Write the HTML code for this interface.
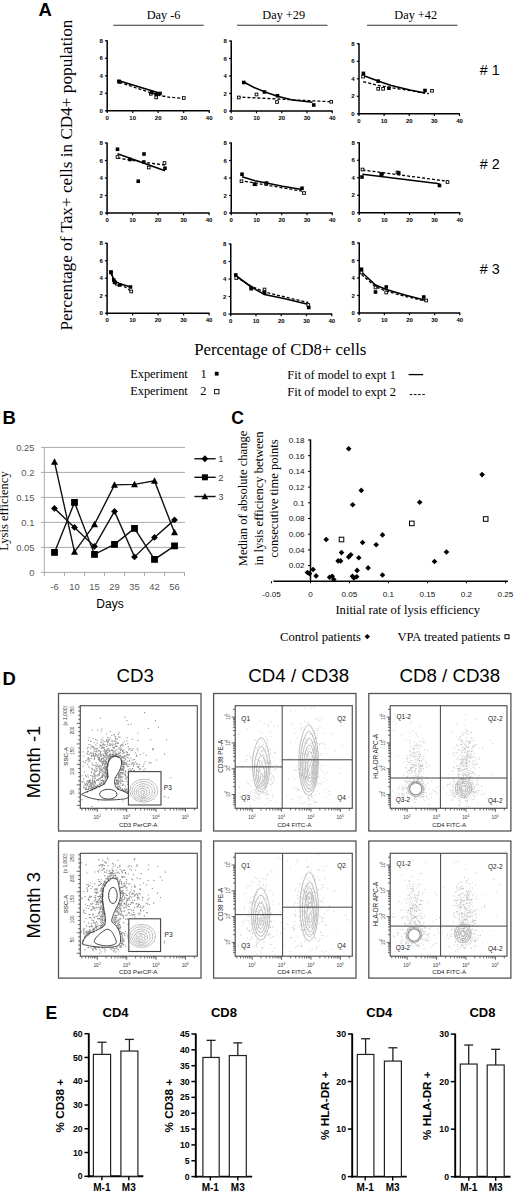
<!DOCTYPE html>
<html><head><meta charset="utf-8"><style>
html,body{margin:0;padding:0;background:#fff;width:520px;height:1198px;overflow:hidden}
svg{display:block}
</style></head><body>
<svg width="520" height="1198" viewBox="0 0 520 1198">
<rect width="520" height="1198" fill="#fff"/>
<text x="38.50" y="16.20" font-family="Liberation Sans, sans-serif" font-size="18.5" text-anchor="start" fill="#000" font-weight="bold">A</text>
<text x="163.60" y="19.30" font-family="Liberation Serif, serif" font-size="12.3" text-anchor="middle" fill="#000">Day -6</text>
<line x1="113.25" y1="25.20" x2="203.75" y2="25.20" stroke="#333" stroke-width="1.1"/>
<text x="283.70" y="19.30" font-family="Liberation Serif, serif" font-size="12.3" text-anchor="middle" fill="#000">Day +29</text>
<line x1="237.00" y1="25.20" x2="327.50" y2="25.20" stroke="#333" stroke-width="1.1"/>
<text x="415.70" y="19.30" font-family="Liberation Serif, serif" font-size="12.3" text-anchor="middle" fill="#000">Day +42</text>
<line x1="367.00" y1="25.20" x2="457.50" y2="25.20" stroke="#333" stroke-width="1.1"/>
<text x="479.80" y="74.90" font-family="Liberation Sans, sans-serif" font-size="14.3" text-anchor="start" fill="#000"># 1</text>
<text x="479.80" y="169.40" font-family="Liberation Sans, sans-serif" font-size="14.3" text-anchor="start" fill="#000"># 2</text>
<text x="479.80" y="274.40" font-family="Liberation Sans, sans-serif" font-size="14.3" text-anchor="start" fill="#000"># 3</text>
<text x="72.20" y="175.10" font-family="Liberation Serif, serif" font-size="17.2" text-anchor="middle" fill="#000" transform="rotate(-90 72.2 175.1)">Percentage of Tax+ cells in CD4+ population</text>
<text x="280.30" y="354.70" font-family="Liberation Serif, serif" font-size="16.8" text-anchor="middle" fill="#000">Percentage of CD8+ cells</text>
<line x1="107.20" y1="40.30" x2="107.20" y2="111.50" stroke="#000" stroke-width="1.5"/>
<line x1="106.50" y1="110.80" x2="209.70" y2="110.80" stroke="#000" stroke-width="1.5"/>
<line x1="105.00" y1="110.80" x2="107.20" y2="110.80" stroke="#000" stroke-width="1.2"/>
<text x="102.90" y="112.90" font-family="Liberation Sans, sans-serif" font-size="6" text-anchor="end" fill="#000" font-weight="bold">0</text>
<line x1="107.20" y1="110.80" x2="107.20" y2="113.00" stroke="#000" stroke-width="1.2"/>
<text x="107.20" y="119.60" font-family="Liberation Sans, sans-serif" font-size="6" text-anchor="middle" fill="#000" font-weight="bold">0</text>
<line x1="105.00" y1="93.30" x2="107.20" y2="93.30" stroke="#000" stroke-width="1.2"/>
<text x="102.90" y="95.40" font-family="Liberation Sans, sans-serif" font-size="6" text-anchor="end" fill="#000" font-weight="bold">2</text>
<line x1="132.70" y1="110.80" x2="132.70" y2="113.00" stroke="#000" stroke-width="1.2"/>
<text x="132.70" y="119.60" font-family="Liberation Sans, sans-serif" font-size="6" text-anchor="middle" fill="#000" font-weight="bold">10</text>
<line x1="105.00" y1="75.80" x2="107.20" y2="75.80" stroke="#000" stroke-width="1.2"/>
<text x="102.90" y="77.90" font-family="Liberation Sans, sans-serif" font-size="6" text-anchor="end" fill="#000" font-weight="bold">4</text>
<line x1="158.20" y1="110.80" x2="158.20" y2="113.00" stroke="#000" stroke-width="1.2"/>
<text x="158.20" y="119.60" font-family="Liberation Sans, sans-serif" font-size="6" text-anchor="middle" fill="#000" font-weight="bold">20</text>
<line x1="105.00" y1="58.30" x2="107.20" y2="58.30" stroke="#000" stroke-width="1.2"/>
<text x="102.90" y="60.40" font-family="Liberation Sans, sans-serif" font-size="6" text-anchor="end" fill="#000" font-weight="bold">6</text>
<line x1="183.70" y1="110.80" x2="183.70" y2="113.00" stroke="#000" stroke-width="1.2"/>
<text x="183.70" y="119.60" font-family="Liberation Sans, sans-serif" font-size="6" text-anchor="middle" fill="#000" font-weight="bold">30</text>
<line x1="105.00" y1="40.80" x2="107.20" y2="40.80" stroke="#000" stroke-width="1.2"/>
<text x="102.90" y="42.90" font-family="Liberation Sans, sans-serif" font-size="6" text-anchor="end" fill="#000" font-weight="bold">8</text>
<line x1="209.20" y1="110.80" x2="209.20" y2="113.00" stroke="#000" stroke-width="1.2"/>
<text x="209.20" y="119.60" font-family="Liberation Sans, sans-serif" font-size="6" text-anchor="middle" fill="#000" font-weight="bold">40</text>
<line x1="231.25" y1="40.50" x2="231.25" y2="111.70" stroke="#000" stroke-width="1.5"/>
<line x1="230.55" y1="111.00" x2="332.75" y2="111.00" stroke="#000" stroke-width="1.5"/>
<line x1="229.05" y1="111.00" x2="231.25" y2="111.00" stroke="#000" stroke-width="1.2"/>
<text x="226.95" y="113.10" font-family="Liberation Sans, sans-serif" font-size="6" text-anchor="end" fill="#000" font-weight="bold">0</text>
<line x1="231.25" y1="111.00" x2="231.25" y2="113.20" stroke="#000" stroke-width="1.2"/>
<text x="231.25" y="119.80" font-family="Liberation Sans, sans-serif" font-size="6" text-anchor="middle" fill="#000" font-weight="bold">0</text>
<line x1="229.05" y1="93.50" x2="231.25" y2="93.50" stroke="#000" stroke-width="1.2"/>
<text x="226.95" y="95.60" font-family="Liberation Sans, sans-serif" font-size="6" text-anchor="end" fill="#000" font-weight="bold">2</text>
<line x1="256.50" y1="111.00" x2="256.50" y2="113.20" stroke="#000" stroke-width="1.2"/>
<text x="256.50" y="119.80" font-family="Liberation Sans, sans-serif" font-size="6" text-anchor="middle" fill="#000" font-weight="bold">10</text>
<line x1="229.05" y1="76.00" x2="231.25" y2="76.00" stroke="#000" stroke-width="1.2"/>
<text x="226.95" y="78.10" font-family="Liberation Sans, sans-serif" font-size="6" text-anchor="end" fill="#000" font-weight="bold">4</text>
<line x1="281.75" y1="111.00" x2="281.75" y2="113.20" stroke="#000" stroke-width="1.2"/>
<text x="281.75" y="119.80" font-family="Liberation Sans, sans-serif" font-size="6" text-anchor="middle" fill="#000" font-weight="bold">20</text>
<line x1="229.05" y1="58.50" x2="231.25" y2="58.50" stroke="#000" stroke-width="1.2"/>
<text x="226.95" y="60.60" font-family="Liberation Sans, sans-serif" font-size="6" text-anchor="end" fill="#000" font-weight="bold">6</text>
<line x1="307.00" y1="111.00" x2="307.00" y2="113.20" stroke="#000" stroke-width="1.2"/>
<text x="307.00" y="119.80" font-family="Liberation Sans, sans-serif" font-size="6" text-anchor="middle" fill="#000" font-weight="bold">30</text>
<line x1="229.05" y1="41.00" x2="231.25" y2="41.00" stroke="#000" stroke-width="1.2"/>
<text x="226.95" y="43.10" font-family="Liberation Sans, sans-serif" font-size="6" text-anchor="end" fill="#000" font-weight="bold">8</text>
<line x1="332.25" y1="111.00" x2="332.25" y2="113.20" stroke="#000" stroke-width="1.2"/>
<text x="332.25" y="119.80" font-family="Liberation Sans, sans-serif" font-size="6" text-anchor="middle" fill="#000" font-weight="bold">40</text>
<line x1="359.00" y1="43.30" x2="359.00" y2="114.50" stroke="#000" stroke-width="1.5"/>
<line x1="358.30" y1="113.80" x2="460.00" y2="113.80" stroke="#000" stroke-width="1.5"/>
<line x1="356.80" y1="113.80" x2="359.00" y2="113.80" stroke="#000" stroke-width="1.2"/>
<text x="354.70" y="115.90" font-family="Liberation Sans, sans-serif" font-size="6" text-anchor="end" fill="#000" font-weight="bold">0</text>
<line x1="359.00" y1="113.80" x2="359.00" y2="116.00" stroke="#000" stroke-width="1.2"/>
<text x="359.00" y="122.60" font-family="Liberation Sans, sans-serif" font-size="6" text-anchor="middle" fill="#000" font-weight="bold">0</text>
<line x1="356.80" y1="96.30" x2="359.00" y2="96.30" stroke="#000" stroke-width="1.2"/>
<text x="354.70" y="98.40" font-family="Liberation Sans, sans-serif" font-size="6" text-anchor="end" fill="#000" font-weight="bold">2</text>
<line x1="384.12" y1="113.80" x2="384.12" y2="116.00" stroke="#000" stroke-width="1.2"/>
<text x="384.12" y="122.60" font-family="Liberation Sans, sans-serif" font-size="6" text-anchor="middle" fill="#000" font-weight="bold">10</text>
<line x1="356.80" y1="78.80" x2="359.00" y2="78.80" stroke="#000" stroke-width="1.2"/>
<text x="354.70" y="80.90" font-family="Liberation Sans, sans-serif" font-size="6" text-anchor="end" fill="#000" font-weight="bold">4</text>
<line x1="409.25" y1="113.80" x2="409.25" y2="116.00" stroke="#000" stroke-width="1.2"/>
<text x="409.25" y="122.60" font-family="Liberation Sans, sans-serif" font-size="6" text-anchor="middle" fill="#000" font-weight="bold">20</text>
<line x1="356.80" y1="61.30" x2="359.00" y2="61.30" stroke="#000" stroke-width="1.2"/>
<text x="354.70" y="63.40" font-family="Liberation Sans, sans-serif" font-size="6" text-anchor="end" fill="#000" font-weight="bold">6</text>
<line x1="434.38" y1="113.80" x2="434.38" y2="116.00" stroke="#000" stroke-width="1.2"/>
<text x="434.38" y="122.60" font-family="Liberation Sans, sans-serif" font-size="6" text-anchor="middle" fill="#000" font-weight="bold">30</text>
<line x1="356.80" y1="43.80" x2="359.00" y2="43.80" stroke="#000" stroke-width="1.2"/>
<text x="354.70" y="45.90" font-family="Liberation Sans, sans-serif" font-size="6" text-anchor="end" fill="#000" font-weight="bold">8</text>
<line x1="459.50" y1="113.80" x2="459.50" y2="116.00" stroke="#000" stroke-width="1.2"/>
<text x="459.50" y="122.60" font-family="Liberation Sans, sans-serif" font-size="6" text-anchor="middle" fill="#000" font-weight="bold">40</text>
<line x1="107.10" y1="142.50" x2="107.10" y2="213.70" stroke="#000" stroke-width="1.5"/>
<line x1="106.40" y1="213.00" x2="209.60" y2="213.00" stroke="#000" stroke-width="1.5"/>
<line x1="104.90" y1="213.00" x2="107.10" y2="213.00" stroke="#000" stroke-width="1.2"/>
<text x="102.80" y="215.10" font-family="Liberation Sans, sans-serif" font-size="6" text-anchor="end" fill="#000" font-weight="bold">0</text>
<line x1="107.10" y1="213.00" x2="107.10" y2="215.20" stroke="#000" stroke-width="1.2"/>
<text x="107.10" y="221.80" font-family="Liberation Sans, sans-serif" font-size="6" text-anchor="middle" fill="#000" font-weight="bold">0</text>
<line x1="104.90" y1="195.50" x2="107.10" y2="195.50" stroke="#000" stroke-width="1.2"/>
<text x="102.80" y="197.60" font-family="Liberation Sans, sans-serif" font-size="6" text-anchor="end" fill="#000" font-weight="bold">2</text>
<line x1="132.60" y1="213.00" x2="132.60" y2="215.20" stroke="#000" stroke-width="1.2"/>
<text x="132.60" y="221.80" font-family="Liberation Sans, sans-serif" font-size="6" text-anchor="middle" fill="#000" font-weight="bold">10</text>
<line x1="104.90" y1="178.00" x2="107.10" y2="178.00" stroke="#000" stroke-width="1.2"/>
<text x="102.80" y="180.10" font-family="Liberation Sans, sans-serif" font-size="6" text-anchor="end" fill="#000" font-weight="bold">4</text>
<line x1="158.10" y1="213.00" x2="158.10" y2="215.20" stroke="#000" stroke-width="1.2"/>
<text x="158.10" y="221.80" font-family="Liberation Sans, sans-serif" font-size="6" text-anchor="middle" fill="#000" font-weight="bold">20</text>
<line x1="104.90" y1="160.50" x2="107.10" y2="160.50" stroke="#000" stroke-width="1.2"/>
<text x="102.80" y="162.60" font-family="Liberation Sans, sans-serif" font-size="6" text-anchor="end" fill="#000" font-weight="bold">6</text>
<line x1="183.60" y1="213.00" x2="183.60" y2="215.20" stroke="#000" stroke-width="1.2"/>
<text x="183.60" y="221.80" font-family="Liberation Sans, sans-serif" font-size="6" text-anchor="middle" fill="#000" font-weight="bold">30</text>
<line x1="104.90" y1="143.00" x2="107.10" y2="143.00" stroke="#000" stroke-width="1.2"/>
<text x="102.80" y="145.10" font-family="Liberation Sans, sans-serif" font-size="6" text-anchor="end" fill="#000" font-weight="bold">8</text>
<line x1="209.10" y1="213.00" x2="209.10" y2="215.20" stroke="#000" stroke-width="1.2"/>
<text x="209.10" y="221.80" font-family="Liberation Sans, sans-serif" font-size="6" text-anchor="middle" fill="#000" font-weight="bold">40</text>
<line x1="231.25" y1="142.50" x2="231.25" y2="213.70" stroke="#000" stroke-width="1.5"/>
<line x1="230.55" y1="213.00" x2="332.75" y2="213.00" stroke="#000" stroke-width="1.5"/>
<line x1="229.05" y1="213.00" x2="231.25" y2="213.00" stroke="#000" stroke-width="1.2"/>
<text x="226.95" y="215.10" font-family="Liberation Sans, sans-serif" font-size="6" text-anchor="end" fill="#000" font-weight="bold">0</text>
<line x1="231.25" y1="213.00" x2="231.25" y2="215.20" stroke="#000" stroke-width="1.2"/>
<text x="231.25" y="221.80" font-family="Liberation Sans, sans-serif" font-size="6" text-anchor="middle" fill="#000" font-weight="bold">0</text>
<line x1="229.05" y1="195.50" x2="231.25" y2="195.50" stroke="#000" stroke-width="1.2"/>
<text x="226.95" y="197.60" font-family="Liberation Sans, sans-serif" font-size="6" text-anchor="end" fill="#000" font-weight="bold">2</text>
<line x1="256.50" y1="213.00" x2="256.50" y2="215.20" stroke="#000" stroke-width="1.2"/>
<text x="256.50" y="221.80" font-family="Liberation Sans, sans-serif" font-size="6" text-anchor="middle" fill="#000" font-weight="bold">10</text>
<line x1="229.05" y1="178.00" x2="231.25" y2="178.00" stroke="#000" stroke-width="1.2"/>
<text x="226.95" y="180.10" font-family="Liberation Sans, sans-serif" font-size="6" text-anchor="end" fill="#000" font-weight="bold">4</text>
<line x1="281.75" y1="213.00" x2="281.75" y2="215.20" stroke="#000" stroke-width="1.2"/>
<text x="281.75" y="221.80" font-family="Liberation Sans, sans-serif" font-size="6" text-anchor="middle" fill="#000" font-weight="bold">20</text>
<line x1="229.05" y1="160.50" x2="231.25" y2="160.50" stroke="#000" stroke-width="1.2"/>
<text x="226.95" y="162.60" font-family="Liberation Sans, sans-serif" font-size="6" text-anchor="end" fill="#000" font-weight="bold">6</text>
<line x1="307.00" y1="213.00" x2="307.00" y2="215.20" stroke="#000" stroke-width="1.2"/>
<text x="307.00" y="221.80" font-family="Liberation Sans, sans-serif" font-size="6" text-anchor="middle" fill="#000" font-weight="bold">30</text>
<line x1="229.05" y1="143.00" x2="231.25" y2="143.00" stroke="#000" stroke-width="1.2"/>
<text x="226.95" y="145.10" font-family="Liberation Sans, sans-serif" font-size="6" text-anchor="end" fill="#000" font-weight="bold">8</text>
<line x1="332.25" y1="213.00" x2="332.25" y2="215.20" stroke="#000" stroke-width="1.2"/>
<text x="332.25" y="221.80" font-family="Liberation Sans, sans-serif" font-size="6" text-anchor="middle" fill="#000" font-weight="bold">40</text>
<line x1="359.25" y1="142.25" x2="359.25" y2="213.45" stroke="#000" stroke-width="1.5"/>
<line x1="358.55" y1="212.75" x2="460.25" y2="212.75" stroke="#000" stroke-width="1.5"/>
<line x1="357.05" y1="212.75" x2="359.25" y2="212.75" stroke="#000" stroke-width="1.2"/>
<text x="354.95" y="214.85" font-family="Liberation Sans, sans-serif" font-size="6" text-anchor="end" fill="#000" font-weight="bold">0</text>
<line x1="359.25" y1="212.75" x2="359.25" y2="214.95" stroke="#000" stroke-width="1.2"/>
<text x="359.25" y="221.55" font-family="Liberation Sans, sans-serif" font-size="6" text-anchor="middle" fill="#000" font-weight="bold">0</text>
<line x1="357.05" y1="195.25" x2="359.25" y2="195.25" stroke="#000" stroke-width="1.2"/>
<text x="354.95" y="197.35" font-family="Liberation Sans, sans-serif" font-size="6" text-anchor="end" fill="#000" font-weight="bold">2</text>
<line x1="384.38" y1="212.75" x2="384.38" y2="214.95" stroke="#000" stroke-width="1.2"/>
<text x="384.38" y="221.55" font-family="Liberation Sans, sans-serif" font-size="6" text-anchor="middle" fill="#000" font-weight="bold">10</text>
<line x1="357.05" y1="177.75" x2="359.25" y2="177.75" stroke="#000" stroke-width="1.2"/>
<text x="354.95" y="179.85" font-family="Liberation Sans, sans-serif" font-size="6" text-anchor="end" fill="#000" font-weight="bold">4</text>
<line x1="409.50" y1="212.75" x2="409.50" y2="214.95" stroke="#000" stroke-width="1.2"/>
<text x="409.50" y="221.55" font-family="Liberation Sans, sans-serif" font-size="6" text-anchor="middle" fill="#000" font-weight="bold">20</text>
<line x1="357.05" y1="160.25" x2="359.25" y2="160.25" stroke="#000" stroke-width="1.2"/>
<text x="354.95" y="162.35" font-family="Liberation Sans, sans-serif" font-size="6" text-anchor="end" fill="#000" font-weight="bold">6</text>
<line x1="434.62" y1="212.75" x2="434.62" y2="214.95" stroke="#000" stroke-width="1.2"/>
<text x="434.62" y="221.55" font-family="Liberation Sans, sans-serif" font-size="6" text-anchor="middle" fill="#000" font-weight="bold">30</text>
<line x1="357.05" y1="142.75" x2="359.25" y2="142.75" stroke="#000" stroke-width="1.2"/>
<text x="354.95" y="144.85" font-family="Liberation Sans, sans-serif" font-size="6" text-anchor="end" fill="#000" font-weight="bold">8</text>
<line x1="459.75" y1="212.75" x2="459.75" y2="214.95" stroke="#000" stroke-width="1.2"/>
<text x="459.75" y="221.55" font-family="Liberation Sans, sans-serif" font-size="6" text-anchor="middle" fill="#000" font-weight="bold">40</text>
<line x1="107.10" y1="242.75" x2="107.10" y2="313.95" stroke="#000" stroke-width="1.5"/>
<line x1="106.40" y1="313.25" x2="209.60" y2="313.25" stroke="#000" stroke-width="1.5"/>
<line x1="104.90" y1="313.25" x2="107.10" y2="313.25" stroke="#000" stroke-width="1.2"/>
<text x="102.80" y="315.35" font-family="Liberation Sans, sans-serif" font-size="6" text-anchor="end" fill="#000" font-weight="bold">0</text>
<line x1="107.10" y1="313.25" x2="107.10" y2="315.45" stroke="#000" stroke-width="1.2"/>
<text x="107.10" y="322.05" font-family="Liberation Sans, sans-serif" font-size="6" text-anchor="middle" fill="#000" font-weight="bold">0</text>
<line x1="104.90" y1="295.75" x2="107.10" y2="295.75" stroke="#000" stroke-width="1.2"/>
<text x="102.80" y="297.85" font-family="Liberation Sans, sans-serif" font-size="6" text-anchor="end" fill="#000" font-weight="bold">2</text>
<line x1="132.60" y1="313.25" x2="132.60" y2="315.45" stroke="#000" stroke-width="1.2"/>
<text x="132.60" y="322.05" font-family="Liberation Sans, sans-serif" font-size="6" text-anchor="middle" fill="#000" font-weight="bold">10</text>
<line x1="104.90" y1="278.25" x2="107.10" y2="278.25" stroke="#000" stroke-width="1.2"/>
<text x="102.80" y="280.35" font-family="Liberation Sans, sans-serif" font-size="6" text-anchor="end" fill="#000" font-weight="bold">4</text>
<line x1="158.10" y1="313.25" x2="158.10" y2="315.45" stroke="#000" stroke-width="1.2"/>
<text x="158.10" y="322.05" font-family="Liberation Sans, sans-serif" font-size="6" text-anchor="middle" fill="#000" font-weight="bold">20</text>
<line x1="104.90" y1="260.75" x2="107.10" y2="260.75" stroke="#000" stroke-width="1.2"/>
<text x="102.80" y="262.85" font-family="Liberation Sans, sans-serif" font-size="6" text-anchor="end" fill="#000" font-weight="bold">6</text>
<line x1="183.60" y1="313.25" x2="183.60" y2="315.45" stroke="#000" stroke-width="1.2"/>
<text x="183.60" y="322.05" font-family="Liberation Sans, sans-serif" font-size="6" text-anchor="middle" fill="#000" font-weight="bold">30</text>
<line x1="104.90" y1="243.25" x2="107.10" y2="243.25" stroke="#000" stroke-width="1.2"/>
<text x="102.80" y="245.35" font-family="Liberation Sans, sans-serif" font-size="6" text-anchor="end" fill="#000" font-weight="bold">8</text>
<line x1="209.10" y1="313.25" x2="209.10" y2="315.45" stroke="#000" stroke-width="1.2"/>
<text x="209.10" y="322.05" font-family="Liberation Sans, sans-serif" font-size="6" text-anchor="middle" fill="#000" font-weight="bold">40</text>
<line x1="230.75" y1="243.50" x2="230.75" y2="314.70" stroke="#000" stroke-width="1.5"/>
<line x1="230.05" y1="314.00" x2="332.25" y2="314.00" stroke="#000" stroke-width="1.5"/>
<line x1="228.55" y1="314.00" x2="230.75" y2="314.00" stroke="#000" stroke-width="1.2"/>
<text x="226.45" y="316.10" font-family="Liberation Sans, sans-serif" font-size="6" text-anchor="end" fill="#000" font-weight="bold">0</text>
<line x1="230.75" y1="314.00" x2="230.75" y2="316.20" stroke="#000" stroke-width="1.2"/>
<text x="230.75" y="322.80" font-family="Liberation Sans, sans-serif" font-size="6" text-anchor="middle" fill="#000" font-weight="bold">0</text>
<line x1="228.55" y1="296.50" x2="230.75" y2="296.50" stroke="#000" stroke-width="1.2"/>
<text x="226.45" y="298.60" font-family="Liberation Sans, sans-serif" font-size="6" text-anchor="end" fill="#000" font-weight="bold">2</text>
<line x1="256.00" y1="314.00" x2="256.00" y2="316.20" stroke="#000" stroke-width="1.2"/>
<text x="256.00" y="322.80" font-family="Liberation Sans, sans-serif" font-size="6" text-anchor="middle" fill="#000" font-weight="bold">10</text>
<line x1="228.55" y1="279.00" x2="230.75" y2="279.00" stroke="#000" stroke-width="1.2"/>
<text x="226.45" y="281.10" font-family="Liberation Sans, sans-serif" font-size="6" text-anchor="end" fill="#000" font-weight="bold">4</text>
<line x1="281.25" y1="314.00" x2="281.25" y2="316.20" stroke="#000" stroke-width="1.2"/>
<text x="281.25" y="322.80" font-family="Liberation Sans, sans-serif" font-size="6" text-anchor="middle" fill="#000" font-weight="bold">20</text>
<line x1="228.55" y1="261.50" x2="230.75" y2="261.50" stroke="#000" stroke-width="1.2"/>
<text x="226.45" y="263.60" font-family="Liberation Sans, sans-serif" font-size="6" text-anchor="end" fill="#000" font-weight="bold">6</text>
<line x1="306.50" y1="314.00" x2="306.50" y2="316.20" stroke="#000" stroke-width="1.2"/>
<text x="306.50" y="322.80" font-family="Liberation Sans, sans-serif" font-size="6" text-anchor="middle" fill="#000" font-weight="bold">30</text>
<line x1="228.55" y1="244.00" x2="230.75" y2="244.00" stroke="#000" stroke-width="1.2"/>
<text x="226.45" y="246.10" font-family="Liberation Sans, sans-serif" font-size="6" text-anchor="end" fill="#000" font-weight="bold">8</text>
<line x1="331.75" y1="314.00" x2="331.75" y2="316.20" stroke="#000" stroke-width="1.2"/>
<text x="331.75" y="322.80" font-family="Liberation Sans, sans-serif" font-size="6" text-anchor="middle" fill="#000" font-weight="bold">40</text>
<line x1="359.25" y1="242.50" x2="359.25" y2="313.70" stroke="#000" stroke-width="1.5"/>
<line x1="358.55" y1="313.00" x2="460.25" y2="313.00" stroke="#000" stroke-width="1.5"/>
<line x1="357.05" y1="313.00" x2="359.25" y2="313.00" stroke="#000" stroke-width="1.2"/>
<text x="354.95" y="315.10" font-family="Liberation Sans, sans-serif" font-size="6" text-anchor="end" fill="#000" font-weight="bold">0</text>
<line x1="359.25" y1="313.00" x2="359.25" y2="315.20" stroke="#000" stroke-width="1.2"/>
<text x="359.25" y="321.80" font-family="Liberation Sans, sans-serif" font-size="6" text-anchor="middle" fill="#000" font-weight="bold">0</text>
<line x1="357.05" y1="295.50" x2="359.25" y2="295.50" stroke="#000" stroke-width="1.2"/>
<text x="354.95" y="297.60" font-family="Liberation Sans, sans-serif" font-size="6" text-anchor="end" fill="#000" font-weight="bold">2</text>
<line x1="384.38" y1="313.00" x2="384.38" y2="315.20" stroke="#000" stroke-width="1.2"/>
<text x="384.38" y="321.80" font-family="Liberation Sans, sans-serif" font-size="6" text-anchor="middle" fill="#000" font-weight="bold">10</text>
<line x1="357.05" y1="278.00" x2="359.25" y2="278.00" stroke="#000" stroke-width="1.2"/>
<text x="354.95" y="280.10" font-family="Liberation Sans, sans-serif" font-size="6" text-anchor="end" fill="#000" font-weight="bold">4</text>
<line x1="409.50" y1="313.00" x2="409.50" y2="315.20" stroke="#000" stroke-width="1.2"/>
<text x="409.50" y="321.80" font-family="Liberation Sans, sans-serif" font-size="6" text-anchor="middle" fill="#000" font-weight="bold">20</text>
<line x1="357.05" y1="260.50" x2="359.25" y2="260.50" stroke="#000" stroke-width="1.2"/>
<text x="354.95" y="262.60" font-family="Liberation Sans, sans-serif" font-size="6" text-anchor="end" fill="#000" font-weight="bold">6</text>
<line x1="434.62" y1="313.00" x2="434.62" y2="315.20" stroke="#000" stroke-width="1.2"/>
<text x="434.62" y="321.80" font-family="Liberation Sans, sans-serif" font-size="6" text-anchor="middle" fill="#000" font-weight="bold">30</text>
<line x1="357.05" y1="243.00" x2="359.25" y2="243.00" stroke="#000" stroke-width="1.2"/>
<text x="354.95" y="245.10" font-family="Liberation Sans, sans-serif" font-size="6" text-anchor="end" fill="#000" font-weight="bold">8</text>
<line x1="459.75" y1="313.00" x2="459.75" y2="315.20" stroke="#000" stroke-width="1.2"/>
<text x="459.75" y="321.80" font-family="Liberation Sans, sans-serif" font-size="6" text-anchor="middle" fill="#000" font-weight="bold">40</text>
<polyline points="119.50,82.20 135.00,87.50 150.00,92.50 160.00,95.60 170.00,97.30 183.75,98.30" fill="none" stroke="#000" stroke-width="1.3" stroke-dasharray="3 2"/>
<polyline points="118.90,80.80 160.00,93.20" fill="none" stroke="#000" stroke-width="1.6"/>
<rect x="118.15" y="80.65" width="2.70" height="2.70" fill="#fff" stroke="#000" stroke-width="0.9"/>
<rect x="149.45" y="92.45" width="2.70" height="2.70" fill="#fff" stroke="#000" stroke-width="0.9"/>
<rect x="154.85" y="96.05" width="2.70" height="2.70" fill="#fff" stroke="#000" stroke-width="0.9"/>
<rect x="182.40" y="96.65" width="2.70" height="2.70" fill="#fff" stroke="#000" stroke-width="0.9"/>
<rect x="117.10" y="79.50" width="3.60" height="3.60" fill="#000" stroke="none" stroke-width="1"/>
<rect x="150.00" y="90.60" width="3.60" height="3.60" fill="#000" stroke="none" stroke-width="1"/>
<rect x="154.50" y="92.40" width="3.60" height="3.60" fill="#000" stroke="none" stroke-width="1"/>
<rect x="158.20" y="91.70" width="3.60" height="3.60" fill="#000" stroke="none" stroke-width="1"/>
<polyline points="237.50,97.00 331.25,101.75" fill="none" stroke="#000" stroke-width="1.3" stroke-dasharray="3 2"/>
<polyline points="243.75,82.00 254.00,87.50 264.50,91.70 277.50,96.20 292.50,100.00 312.50,102.30" fill="none" stroke="#000" stroke-width="1.6"/>
<rect x="237.40" y="96.15" width="2.70" height="2.70" fill="#fff" stroke="#000" stroke-width="0.9"/>
<rect x="255.15" y="93.15" width="2.70" height="2.70" fill="#fff" stroke="#000" stroke-width="0.9"/>
<rect x="275.65" y="100.65" width="2.70" height="2.70" fill="#fff" stroke="#000" stroke-width="0.9"/>
<rect x="329.90" y="100.40" width="2.70" height="2.70" fill="#fff" stroke="#000" stroke-width="0.9"/>
<rect x="241.95" y="80.70" width="3.60" height="3.60" fill="#000" stroke="none" stroke-width="1"/>
<rect x="262.70" y="90.20" width="3.60" height="3.60" fill="#000" stroke="none" stroke-width="1"/>
<rect x="275.70" y="93.95" width="3.60" height="3.60" fill="#000" stroke="none" stroke-width="1"/>
<rect x="311.95" y="103.20" width="3.60" height="3.60" fill="#000" stroke="none" stroke-width="1"/>
<polyline points="363.25,81.75 378.75,85.50 397.50,88.75 410.00,90.50 428.75,93.75" fill="none" stroke="#000" stroke-width="1.3" stroke-dasharray="3 2"/>
<polyline points="363.25,75.50 378.75,81.25 391.25,85.50 410.00,90.00 425.00,93.00" fill="none" stroke="#000" stroke-width="1.6"/>
<rect x="361.75" y="75.25" width="2.70" height="2.70" fill="#fff" stroke="#000" stroke-width="0.9"/>
<rect x="376.85" y="87.45" width="2.70" height="2.70" fill="#fff" stroke="#000" stroke-width="0.9"/>
<rect x="381.75" y="87.45" width="2.70" height="2.70" fill="#fff" stroke="#000" stroke-width="0.9"/>
<rect x="430.65" y="89.40" width="2.70" height="2.70" fill="#fff" stroke="#000" stroke-width="0.9"/>
<rect x="361.60" y="71.60" width="3.60" height="3.60" fill="#000" stroke="none" stroke-width="1"/>
<rect x="376.40" y="79.30" width="3.60" height="3.60" fill="#000" stroke="none" stroke-width="1"/>
<rect x="387.10" y="86.40" width="3.60" height="3.60" fill="#000" stroke="none" stroke-width="1"/>
<rect x="423.20" y="88.70" width="3.60" height="3.60" fill="#000" stroke="none" stroke-width="1"/>
<polyline points="117.50,158.00 130.00,160.00 145.00,162.50 165.00,165.00" fill="none" stroke="#000" stroke-width="1.3" stroke-dasharray="3 2"/>
<polyline points="117.50,153.75 165.00,170.75" fill="none" stroke="#000" stroke-width="1.6"/>
<rect x="116.15" y="155.65" width="2.70" height="2.70" fill="#fff" stroke="#000" stroke-width="0.9"/>
<rect x="147.40" y="166.15" width="2.70" height="2.70" fill="#fff" stroke="#000" stroke-width="0.9"/>
<rect x="163.15" y="161.65" width="2.70" height="2.70" fill="#fff" stroke="#000" stroke-width="0.9"/>
<rect x="115.70" y="147.45" width="3.60" height="3.60" fill="#000" stroke="none" stroke-width="1"/>
<rect x="136.45" y="179.45" width="3.60" height="3.60" fill="#000" stroke="none" stroke-width="1"/>
<rect x="142.20" y="152.20" width="3.60" height="3.60" fill="#000" stroke="none" stroke-width="1"/>
<rect x="141.95" y="160.20" width="3.60" height="3.60" fill="#000" stroke="none" stroke-width="1"/>
<rect x="163.20" y="166.45" width="3.60" height="3.60" fill="#000" stroke="none" stroke-width="1"/>
<rect x="128.20" y="157.70" width="3.60" height="3.60" fill="#000" stroke="none" stroke-width="1"/>
<polyline points="240.00,180.50 304.00,191.50" fill="none" stroke="#000" stroke-width="1.3" stroke-dasharray="3 2"/>
<polyline points="242.00,176.75 255.00,180.75 266.50,183.00 282.50,186.25 302.00,189.50" fill="none" stroke="#000" stroke-width="1.6"/>
<rect x="240.15" y="179.90" width="2.70" height="2.70" fill="#fff" stroke="#000" stroke-width="0.9"/>
<rect x="254.15" y="182.90" width="2.70" height="2.70" fill="#fff" stroke="#000" stroke-width="0.9"/>
<rect x="264.90" y="182.40" width="2.70" height="2.70" fill="#fff" stroke="#000" stroke-width="0.9"/>
<rect x="302.65" y="191.65" width="2.70" height="2.70" fill="#fff" stroke="#000" stroke-width="0.9"/>
<rect x="240.20" y="172.45" width="3.60" height="3.60" fill="#000" stroke="none" stroke-width="1"/>
<rect x="252.70" y="182.45" width="3.60" height="3.60" fill="#000" stroke="none" stroke-width="1"/>
<rect x="264.70" y="181.20" width="3.60" height="3.60" fill="#000" stroke="none" stroke-width="1"/>
<rect x="300.20" y="186.45" width="3.60" height="3.60" fill="#000" stroke="none" stroke-width="1"/>
<polyline points="362.50,170.00 447.50,181.25" fill="none" stroke="#000" stroke-width="1.3" stroke-dasharray="3 2"/>
<polyline points="362.50,174.25 439.50,183.75" fill="none" stroke="#000" stroke-width="1.6"/>
<rect x="361.15" y="168.15" width="2.70" height="2.70" fill="#fff" stroke="#000" stroke-width="0.9"/>
<rect x="380.65" y="172.40" width="2.70" height="2.70" fill="#fff" stroke="#000" stroke-width="0.9"/>
<rect x="396.15" y="171.15" width="2.70" height="2.70" fill="#fff" stroke="#000" stroke-width="0.9"/>
<rect x="446.15" y="180.65" width="2.70" height="2.70" fill="#fff" stroke="#000" stroke-width="0.9"/>
<rect x="360.20" y="175.20" width="3.60" height="3.60" fill="#000" stroke="none" stroke-width="1"/>
<rect x="379.45" y="172.70" width="3.60" height="3.60" fill="#000" stroke="none" stroke-width="1"/>
<rect x="396.95" y="171.20" width="3.60" height="3.60" fill="#000" stroke="none" stroke-width="1"/>
<rect x="437.70" y="183.70" width="3.60" height="3.60" fill="#000" stroke="none" stroke-width="1"/>
<polyline points="111.00,273.00 113.75,280.50 118.75,284.50 125.00,287.00 131.25,291.50" fill="none" stroke="#000" stroke-width="1.3" stroke-dasharray="3 2"/>
<polyline points="111.00,272.50 113.75,279.50 117.50,283.00 122.50,284.50 130.50,287.00" fill="none" stroke="#000" stroke-width="1.6"/>
<rect x="109.65" y="270.65" width="2.70" height="2.70" fill="#fff" stroke="#000" stroke-width="0.9"/>
<rect x="113.15" y="280.65" width="2.70" height="2.70" fill="#fff" stroke="#000" stroke-width="0.9"/>
<rect x="115.65" y="282.40" width="2.70" height="2.70" fill="#fff" stroke="#000" stroke-width="0.9"/>
<rect x="129.90" y="290.15" width="2.70" height="2.70" fill="#fff" stroke="#000" stroke-width="0.9"/>
<rect x="109.20" y="270.70" width="3.60" height="3.60" fill="#000" stroke="none" stroke-width="1"/>
<rect x="111.95" y="278.20" width="3.60" height="3.60" fill="#000" stroke="none" stroke-width="1"/>
<rect x="113.20" y="280.70" width="3.60" height="3.60" fill="#000" stroke="none" stroke-width="1"/>
<rect x="117.70" y="283.20" width="3.60" height="3.60" fill="#000" stroke="none" stroke-width="1"/>
<rect x="128.70" y="285.20" width="3.60" height="3.60" fill="#000" stroke="none" stroke-width="1"/>
<polyline points="236.25,277.00 251.25,286.25 264.50,292.00 285.00,297.00 308.25,302.50" fill="none" stroke="#000" stroke-width="1.3" stroke-dasharray="3 2"/>
<polyline points="235.75,275.50 251.25,287.00 264.50,294.50 285.00,298.75 308.75,304.50" fill="none" stroke="#000" stroke-width="1.6"/>
<rect x="234.90" y="276.65" width="2.70" height="2.70" fill="#fff" stroke="#000" stroke-width="0.9"/>
<rect x="249.90" y="287.40" width="2.70" height="2.70" fill="#fff" stroke="#000" stroke-width="0.9"/>
<rect x="263.15" y="288.15" width="2.70" height="2.70" fill="#fff" stroke="#000" stroke-width="0.9"/>
<rect x="306.90" y="303.65" width="2.70" height="2.70" fill="#fff" stroke="#000" stroke-width="0.9"/>
<rect x="233.95" y="273.20" width="3.60" height="3.60" fill="#000" stroke="none" stroke-width="1"/>
<rect x="249.45" y="286.20" width="3.60" height="3.60" fill="#000" stroke="none" stroke-width="1"/>
<rect x="262.70" y="290.70" width="3.60" height="3.60" fill="#000" stroke="none" stroke-width="1"/>
<rect x="306.95" y="305.70" width="3.60" height="3.60" fill="#000" stroke="none" stroke-width="1"/>
<polyline points="361.50,274.50 375.50,286.75 386.25,291.25 405.00,296.25 426.25,301.25" fill="none" stroke="#000" stroke-width="1.3" stroke-dasharray="3 2"/>
<polyline points="361.50,272.00 375.50,285.00 386.25,289.50 405.00,295.00 426.25,300.50" fill="none" stroke="#000" stroke-width="1.6"/>
<rect x="360.15" y="271.15" width="2.70" height="2.70" fill="#fff" stroke="#000" stroke-width="0.9"/>
<rect x="374.15" y="286.15" width="2.70" height="2.70" fill="#fff" stroke="#000" stroke-width="0.9"/>
<rect x="384.90" y="291.15" width="2.70" height="2.70" fill="#fff" stroke="#000" stroke-width="0.9"/>
<rect x="424.90" y="299.15" width="2.70" height="2.70" fill="#fff" stroke="#000" stroke-width="0.9"/>
<rect x="359.70" y="267.45" width="3.60" height="3.60" fill="#000" stroke="none" stroke-width="1"/>
<rect x="373.70" y="290.20" width="3.60" height="3.60" fill="#000" stroke="none" stroke-width="1"/>
<rect x="384.45" y="285.20" width="3.60" height="3.60" fill="#000" stroke="none" stroke-width="1"/>
<rect x="421.95" y="295.20" width="3.60" height="3.60" fill="#000" stroke="none" stroke-width="1"/>
<text x="130.20" y="377.60" font-family="Liberation Serif, serif" font-size="12.35" text-anchor="start" fill="#000">Experiment</text>
<text x="200.60" y="377.60" font-family="Liberation Serif, serif" font-size="12.35" text-anchor="start" fill="#000">1</text>
<rect x="214.80" y="371.80" width="3.80" height="3.80" fill="#000" stroke="none" stroke-width="1"/>
<text x="130.20" y="395.00" font-family="Liberation Serif, serif" font-size="12.35" text-anchor="start" fill="#000">Experiment</text>
<text x="200.20" y="395.00" font-family="Liberation Serif, serif" font-size="12.35" text-anchor="start" fill="#000">2</text>
<rect x="214.60" y="389.40" width="4.40" height="4.40" fill="#fff" stroke="#000" stroke-width="0.9"/>
<text x="287.30" y="379.00" font-family="Liberation Serif, serif" font-size="12.5" text-anchor="start" fill="#000">Fit of model to expt 1</text>
<line x1="408.60" y1="374.60" x2="423.20" y2="374.60" stroke="#000" stroke-width="1.3"/>
<text x="287.30" y="395.90" font-family="Liberation Serif, serif" font-size="12.5" text-anchor="start" fill="#000">Fit of model to expt 2</text>
<line x1="409.70" y1="394.60" x2="425.40" y2="394.60" stroke="#000" stroke-width="1" stroke-dasharray="2.6 1.6"/>
<text x="2.60" y="423.80" font-family="Liberation Sans, sans-serif" font-size="18.5" text-anchor="start" fill="#000" font-weight="bold">B</text>
<line x1="41.00" y1="547.40" x2="185.00" y2="547.40" stroke="#a9a9a9" stroke-width="1"/>
<line x1="41.00" y1="522.40" x2="185.00" y2="522.40" stroke="#a9a9a9" stroke-width="1"/>
<line x1="41.00" y1="497.40" x2="185.00" y2="497.40" stroke="#a9a9a9" stroke-width="1"/>
<line x1="41.00" y1="472.40" x2="185.00" y2="472.40" stroke="#a9a9a9" stroke-width="1"/>
<line x1="41.00" y1="447.40" x2="185.00" y2="447.40" stroke="#a9a9a9" stroke-width="1"/>
<line x1="44.30" y1="447.40" x2="44.30" y2="572.40" stroke="#a9a9a9" stroke-width="1"/>
<line x1="41.00" y1="572.40" x2="185.00" y2="572.40" stroke="#a9a9a9" stroke-width="1"/>
<line x1="44.50" y1="572.40" x2="44.50" y2="575.90" stroke="#a9a9a9" stroke-width="1"/>
<line x1="64.50" y1="572.40" x2="64.50" y2="575.90" stroke="#a9a9a9" stroke-width="1"/>
<line x1="84.50" y1="572.40" x2="84.50" y2="575.90" stroke="#a9a9a9" stroke-width="1"/>
<line x1="104.50" y1="572.40" x2="104.50" y2="575.90" stroke="#a9a9a9" stroke-width="1"/>
<line x1="124.50" y1="572.40" x2="124.50" y2="575.90" stroke="#a9a9a9" stroke-width="1"/>
<line x1="144.50" y1="572.40" x2="144.50" y2="575.90" stroke="#a9a9a9" stroke-width="1"/>
<line x1="164.50" y1="572.40" x2="164.50" y2="575.90" stroke="#a9a9a9" stroke-width="1"/>
<line x1="184.50" y1="572.40" x2="184.50" y2="575.90" stroke="#a9a9a9" stroke-width="1"/>
<text x="34.40" y="575.70" font-family="Liberation Sans, sans-serif" font-size="9.4" text-anchor="end" fill="#555">0</text>
<text x="34.40" y="550.70" font-family="Liberation Sans, sans-serif" font-size="9.4" text-anchor="end" fill="#555">0.05</text>
<text x="34.40" y="525.70" font-family="Liberation Sans, sans-serif" font-size="9.4" text-anchor="end" fill="#555">0.1</text>
<text x="34.40" y="500.70" font-family="Liberation Sans, sans-serif" font-size="9.4" text-anchor="end" fill="#555">0.15</text>
<text x="34.40" y="475.70" font-family="Liberation Sans, sans-serif" font-size="9.4" text-anchor="end" fill="#555">0.2</text>
<text x="34.40" y="450.70" font-family="Liberation Sans, sans-serif" font-size="9.4" text-anchor="end" fill="#555">0.25</text>
<text x="54.50" y="589.60" font-family="Liberation Sans, sans-serif" font-size="9.4" text-anchor="middle" fill="#555">-6</text>
<text x="74.50" y="589.60" font-family="Liberation Sans, sans-serif" font-size="9.4" text-anchor="middle" fill="#555">10</text>
<text x="94.50" y="589.60" font-family="Liberation Sans, sans-serif" font-size="9.4" text-anchor="middle" fill="#555">15</text>
<text x="114.50" y="589.60" font-family="Liberation Sans, sans-serif" font-size="9.4" text-anchor="middle" fill="#555">29</text>
<text x="134.50" y="589.60" font-family="Liberation Sans, sans-serif" font-size="9.4" text-anchor="middle" fill="#555">35</text>
<text x="154.50" y="589.60" font-family="Liberation Sans, sans-serif" font-size="9.4" text-anchor="middle" fill="#555">42</text>
<text x="174.50" y="589.60" font-family="Liberation Sans, sans-serif" font-size="9.4" text-anchor="middle" fill="#555">56</text>
<text x="110.00" y="607.80" font-family="Liberation Sans, sans-serif" font-size="12" text-anchor="middle" fill="#000">Days</text>
<text x="7.80" y="511.00" font-family="Liberation Serif, serif" font-size="12.5" text-anchor="middle" fill="#000" transform="rotate(-90 7.8 511)">Lysis efficiency</text>
<polyline points="54.50,508.40 74.50,527.40 94.50,546.40 114.50,511.40 134.50,556.90 154.50,537.40 174.50,519.90" fill="none" stroke="#111" stroke-width="1.4"/>
<polyline points="54.50,552.40 74.50,502.40 94.50,554.40 114.50,544.40 134.50,528.40 154.50,559.40 174.50,545.90" fill="none" stroke="#111" stroke-width="1.4"/>
<polyline points="54.50,461.90 74.50,551.90 94.50,524.40 114.50,484.90 134.50,484.40 154.50,480.90 174.50,532.40" fill="none" stroke="#111" stroke-width="1.4"/>
<path d="M54.50 505.00 L57.90 508.40 L54.50 511.80 L51.10 508.40Z" fill="#000"/>
<path d="M74.50 524.00 L77.90 527.40 L74.50 530.80 L71.10 527.40Z" fill="#000"/>
<path d="M94.50 543.00 L97.90 546.40 L94.50 549.80 L91.10 546.40Z" fill="#000"/>
<path d="M114.50 508.00 L117.90 511.40 L114.50 514.80 L111.10 511.40Z" fill="#000"/>
<path d="M134.50 553.50 L137.90 556.90 L134.50 560.30 L131.10 556.90Z" fill="#000"/>
<path d="M154.50 534.00 L157.90 537.40 L154.50 540.80 L151.10 537.40Z" fill="#000"/>
<path d="M174.50 516.50 L177.90 519.90 L174.50 523.30 L171.10 519.90Z" fill="#000"/>
<rect x="51.10" y="549.00" width="6.80" height="6.80" fill="#000" stroke="none" stroke-width="1"/>
<rect x="71.10" y="499.00" width="6.80" height="6.80" fill="#000" stroke="none" stroke-width="1"/>
<rect x="91.10" y="551.00" width="6.80" height="6.80" fill="#000" stroke="none" stroke-width="1"/>
<rect x="111.10" y="541.00" width="6.80" height="6.80" fill="#000" stroke="none" stroke-width="1"/>
<rect x="131.10" y="525.00" width="6.80" height="6.80" fill="#000" stroke="none" stroke-width="1"/>
<rect x="151.10" y="556.00" width="6.80" height="6.80" fill="#000" stroke="none" stroke-width="1"/>
<rect x="171.10" y="542.50" width="6.80" height="6.80" fill="#000" stroke="none" stroke-width="1"/>
<path d="M54.50 458.22 L58.00 464.70 L51.00 464.70Z" fill="#000"/>
<path d="M74.50 548.23 L78.00 554.70 L71.00 554.70Z" fill="#000"/>
<path d="M94.50 520.73 L98.00 527.20 L91.00 527.20Z" fill="#000"/>
<path d="M114.50 481.22 L118.00 487.70 L111.00 487.70Z" fill="#000"/>
<path d="M134.50 480.72 L138.00 487.20 L131.00 487.20Z" fill="#000"/>
<path d="M154.50 477.22 L158.00 483.70 L151.00 483.70Z" fill="#000"/>
<path d="M174.50 528.73 L178.00 535.20 L171.00 535.20Z" fill="#000"/>
<line x1="194.40" y1="458.75" x2="215.60" y2="458.75" stroke="#111" stroke-width="1.4"/>
<path d="M204.90 455.35 L208.30 458.75 L204.90 462.15 L201.50 458.75Z" fill="#000"/>
<text x="218.20" y="462.05" font-family="Liberation Sans, sans-serif" font-size="9.4" text-anchor="start" fill="#444">1</text>
<line x1="194.40" y1="477.30" x2="215.60" y2="477.30" stroke="#111" stroke-width="1.4"/>
<rect x="201.90" y="474.30" width="6.00" height="6.00" fill="#000" stroke="none" stroke-width="1"/>
<text x="218.20" y="480.60" font-family="Liberation Sans, sans-serif" font-size="9.4" text-anchor="start" fill="#444">2</text>
<line x1="194.40" y1="496.50" x2="215.60" y2="496.50" stroke="#111" stroke-width="1.4"/>
<path d="M204.90 493.04 L208.20 499.14 L201.60 499.14Z" fill="#000"/>
<text x="218.20" y="499.80" font-family="Liberation Sans, sans-serif" font-size="9.4" text-anchor="start" fill="#444">3</text>
<text x="231.20" y="424.30" font-family="Liberation Sans, sans-serif" font-size="17.5" text-anchor="start" fill="#000" font-weight="bold">C</text>
<line x1="310.50" y1="439.40" x2="310.50" y2="581.30" stroke="#000" stroke-width="1.5"/>
<line x1="273.50" y1="581.30" x2="507.90" y2="581.30" stroke="#000" stroke-width="1.5"/>
<line x1="308.00" y1="565.60" x2="310.50" y2="565.60" stroke="#000" stroke-width="1"/>
<text x="304.50" y="568.40" font-family="Liberation Sans, sans-serif" font-size="8.1" text-anchor="end" fill="#111">0.02</text>
<line x1="308.00" y1="549.90" x2="310.50" y2="549.90" stroke="#000" stroke-width="1"/>
<text x="304.50" y="552.70" font-family="Liberation Sans, sans-serif" font-size="8.1" text-anchor="end" fill="#111">0.04</text>
<line x1="308.00" y1="534.20" x2="310.50" y2="534.20" stroke="#000" stroke-width="1"/>
<text x="304.50" y="537.00" font-family="Liberation Sans, sans-serif" font-size="8.1" text-anchor="end" fill="#111">0.06</text>
<line x1="308.00" y1="518.50" x2="310.50" y2="518.50" stroke="#000" stroke-width="1"/>
<text x="304.50" y="521.30" font-family="Liberation Sans, sans-serif" font-size="8.1" text-anchor="end" fill="#111">0.08</text>
<line x1="308.00" y1="502.80" x2="310.50" y2="502.80" stroke="#000" stroke-width="1"/>
<text x="304.50" y="505.60" font-family="Liberation Sans, sans-serif" font-size="8.1" text-anchor="end" fill="#111">0.1</text>
<line x1="308.00" y1="487.10" x2="310.50" y2="487.10" stroke="#000" stroke-width="1"/>
<text x="304.50" y="489.90" font-family="Liberation Sans, sans-serif" font-size="8.1" text-anchor="end" fill="#111">0.12</text>
<line x1="308.00" y1="471.40" x2="310.50" y2="471.40" stroke="#000" stroke-width="1"/>
<text x="304.50" y="474.20" font-family="Liberation Sans, sans-serif" font-size="8.1" text-anchor="end" fill="#111">0.14</text>
<line x1="308.00" y1="455.70" x2="310.50" y2="455.70" stroke="#000" stroke-width="1"/>
<text x="304.50" y="458.50" font-family="Liberation Sans, sans-serif" font-size="8.1" text-anchor="end" fill="#111">0.16</text>
<line x1="308.00" y1="440.00" x2="310.50" y2="440.00" stroke="#000" stroke-width="1"/>
<text x="304.50" y="442.80" font-family="Liberation Sans, sans-serif" font-size="8.1" text-anchor="end" fill="#111">0.18</text>
<line x1="271.50" y1="581.30" x2="271.50" y2="583.30" stroke="#000" stroke-width="1"/>
<text x="271.50" y="596.60" font-family="Liberation Sans, sans-serif" font-size="8.1" text-anchor="middle" fill="#111">-0.05</text>
<line x1="310.50" y1="581.30" x2="310.50" y2="583.30" stroke="#000" stroke-width="1"/>
<text x="310.50" y="596.60" font-family="Liberation Sans, sans-serif" font-size="8.1" text-anchor="middle" fill="#111">0</text>
<line x1="349.50" y1="581.30" x2="349.50" y2="583.30" stroke="#000" stroke-width="1"/>
<text x="349.50" y="596.60" font-family="Liberation Sans, sans-serif" font-size="8.1" text-anchor="middle" fill="#111">0.05</text>
<line x1="388.50" y1="581.30" x2="388.50" y2="583.30" stroke="#000" stroke-width="1"/>
<text x="388.50" y="596.60" font-family="Liberation Sans, sans-serif" font-size="8.1" text-anchor="middle" fill="#111">0.1</text>
<line x1="427.50" y1="581.30" x2="427.50" y2="583.30" stroke="#000" stroke-width="1"/>
<text x="427.50" y="596.60" font-family="Liberation Sans, sans-serif" font-size="8.1" text-anchor="middle" fill="#111">0.15</text>
<line x1="466.50" y1="581.30" x2="466.50" y2="583.30" stroke="#000" stroke-width="1"/>
<text x="466.50" y="596.60" font-family="Liberation Sans, sans-serif" font-size="8.1" text-anchor="middle" fill="#111">0.2</text>
<line x1="505.50" y1="581.30" x2="505.50" y2="583.30" stroke="#000" stroke-width="1"/>
<text x="505.50" y="596.60" font-family="Liberation Sans, sans-serif" font-size="8.1" text-anchor="middle" fill="#111">0.25</text>
<text x="246.70" y="498.50" font-family="Liberation Serif, serif" font-size="12.55" text-anchor="middle" fill="#000" transform="rotate(-90 246.7 498.5)">Median of absolute change</text>
<text x="262.50" y="498.50" font-family="Liberation Serif, serif" font-size="12.55" text-anchor="middle" fill="#000" transform="rotate(-90 262.5 498.5)">in lysis efficiency between</text>
<text x="278.30" y="498.50" font-family="Liberation Serif, serif" font-size="12.55" text-anchor="middle" fill="#000" transform="rotate(-90 278.3 498.5)">consecutive time points</text>
<text x="407.80" y="614.30" font-family="Liberation Serif, serif" font-size="12.55" text-anchor="middle" fill="#000">Initial rate of lysis efficiency</text>
<path d="M348.70 446.00 L351.50 448.80 L348.70 451.60 L345.90 448.80Z" fill="#000"/>
<path d="M361.30 487.60 L364.10 490.40 L361.30 493.20 L358.50 490.40Z" fill="#000"/>
<path d="M352.70 502.00 L355.50 504.80 L352.70 507.60 L349.90 504.80Z" fill="#000"/>
<path d="M326.20 536.70 L329.00 539.50 L326.20 542.30 L323.40 539.50Z" fill="#000"/>
<path d="M382.50 532.10 L385.30 534.90 L382.50 537.70 L379.70 534.90Z" fill="#000"/>
<path d="M362.60 539.70 L365.40 542.50 L362.60 545.30 L359.80 542.50Z" fill="#000"/>
<path d="M376.20 542.00 L379.00 544.80 L376.20 547.60 L373.40 544.80Z" fill="#000"/>
<path d="M341.50 549.80 L344.30 552.60 L341.50 555.40 L338.70 552.60Z" fill="#000"/>
<path d="M350.80 551.90 L353.60 554.70 L350.80 557.50 L348.00 554.70Z" fill="#000"/>
<path d="M348.70 554.10 L351.50 556.90 L348.70 559.70 L345.90 556.90Z" fill="#000"/>
<path d="M358.80 554.90 L361.60 557.70 L358.80 560.50 L356.00 557.70Z" fill="#000"/>
<path d="M338.10 558.10 L340.90 560.90 L338.10 563.70 L335.30 560.90Z" fill="#000"/>
<path d="M340.60 558.10 L343.40 560.90 L340.60 563.70 L337.80 560.90Z" fill="#000"/>
<path d="M368.10 565.10 L370.90 567.90 L368.10 570.70 L365.30 567.90Z" fill="#000"/>
<path d="M357.10 567.60 L359.90 570.40 L357.10 573.20 L354.30 570.40Z" fill="#000"/>
<path d="M307.40 569.70 L310.20 572.50 L307.40 575.30 L304.60 572.50Z" fill="#000"/>
<path d="M309.50 570.80 L312.30 573.60 L309.50 576.40 L306.70 573.60Z" fill="#000"/>
<path d="M313.10 566.70 L315.90 569.50 L313.10 572.30 L310.30 569.50Z" fill="#000"/>
<path d="M316.10 573.10 L318.90 575.90 L316.10 578.70 L313.30 575.90Z" fill="#000"/>
<path d="M329.60 574.40 L332.40 577.20 L329.60 580.00 L326.80 577.20Z" fill="#000"/>
<path d="M332.20 573.50 L335.00 576.30 L332.20 579.10 L329.40 576.30Z" fill="#000"/>
<path d="M333.80 576.70 L336.60 579.50 L333.80 582.30 L331.00 579.50Z" fill="#000"/>
<path d="M352.50 573.50 L355.30 576.30 L352.50 579.10 L349.70 576.30Z" fill="#000"/>
<path d="M356.70 573.90 L359.50 576.70 L356.70 579.50 L353.90 576.70Z" fill="#000"/>
<path d="M353.90 575.20 L356.70 578.00 L353.90 580.80 L351.10 578.00Z" fill="#000"/>
<path d="M382.50 572.20 L385.30 575.00 L382.50 577.80 L379.70 575.00Z" fill="#000"/>
<path d="M419.70 499.50 L422.50 502.30 L419.70 505.10 L416.90 502.30Z" fill="#000"/>
<path d="M482.10 471.80 L484.90 474.60 L482.10 477.40 L479.30 474.60Z" fill="#000"/>
<path d="M446.50 549.20 L449.30 552.00 L446.50 554.80 L443.70 552.00Z" fill="#000"/>
<path d="M434.50 558.70 L437.30 561.50 L434.50 564.30 L431.70 561.50Z" fill="#000"/>
<rect x="339.20" y="537.20" width="4.60" height="4.60" fill="#fff" stroke="#000" stroke-width="1"/>
<rect x="409.50" y="521.10" width="4.60" height="4.60" fill="#fff" stroke="#000" stroke-width="1"/>
<rect x="483.40" y="516.70" width="4.60" height="4.60" fill="#fff" stroke="#000" stroke-width="1"/>
<text x="280.10" y="640.80" font-family="Liberation Serif, serif" font-size="12.6" text-anchor="start" fill="#000">Control patients</text>
<path d="M367.30 633.90 L370.00 636.60 L367.30 639.30 L364.60 636.60Z" fill="#000"/>
<text x="397.40" y="640.80" font-family="Liberation Serif, serif" font-size="12.6" text-anchor="start" fill="#000">VPA treated patients</text>
<rect x="505.00" y="634.70" width="4.00" height="4.00" fill="#fff" stroke="#000" stroke-width="1"/>
<text x="2.60" y="685.00" font-family="Liberation Sans, sans-serif" font-size="18.5" text-anchor="start" fill="#000" font-weight="bold">D</text>
<text x="135.20" y="682.40" font-family="Liberation Sans, sans-serif" font-size="18.7" text-anchor="middle" fill="#000">CD3</text>
<text x="298.70" y="682.40" font-family="Liberation Sans, sans-serif" font-size="18.7" text-anchor="middle" fill="#000">CD4 / CD38</text>
<text x="449.80" y="682.40" font-family="Liberation Sans, sans-serif" font-size="18.7" text-anchor="middle" fill="#000">CD8 / CD38</text>
<text x="39.60" y="762.00" font-family="Liberation Sans, sans-serif" font-size="18.4" text-anchor="middle" fill="#000" transform="rotate(-90 39.6 762)">Month -1</text>
<text x="39.60" y="905.30" font-family="Liberation Sans, sans-serif" font-size="18.4" text-anchor="middle" fill="#000" transform="rotate(-90 39.6 905.3)">Month 3</text>
<rect x="58.50" y="693.50" width="142.50" height="137.50" fill="none" stroke="#555" stroke-width="1.3"/>
<rect x="80.30" y="705.70" width="117.00" height="102.60" fill="none" stroke="#555" stroke-width="1.2"/>
<path d="M81.93 808.30v2.2M85.60 808.30v2.2M88.45 808.30v2.2M90.78 808.30v2.2M92.75 808.30v2.2M94.45 808.30v2.2M95.95 808.30v2.2M97.30 808.30v3.6M106.15 808.30v2.2M111.33 808.30v2.2M115.00 808.30v2.2M117.85 808.30v2.2M120.18 808.30v2.2M122.15 808.30v2.2M123.85 808.30v2.2M125.35 808.30v2.2M126.70 808.30v3.6M135.55 808.30v2.2M140.73 808.30v2.2M144.40 808.30v2.2M147.25 808.30v2.2M149.58 808.30v2.2M151.55 808.30v2.2M153.25 808.30v2.2M154.75 808.30v2.2M156.10 808.30v3.6M164.95 808.30v2.2M170.13 808.30v2.2M173.80 808.30v2.2M176.65 808.30v2.2M178.98 808.30v2.2M180.95 808.30v2.2M182.65 808.30v2.2M184.15 808.30v2.2M185.50 808.30v3.6M194.35 808.30v2.2M80.30 805.40h-3.6M80.30 801.30h-2.2M80.30 797.20h-2.2M80.30 793.10h-2.2M80.30 789.00h-2.2M80.30 784.90h-3.6M80.30 780.80h-2.2M80.30 776.70h-2.2M80.30 772.60h-2.2M80.30 768.50h-2.2M80.30 764.40h-3.6M80.30 760.30h-2.2M80.30 756.20h-2.2M80.30 752.10h-2.2M80.30 748.00h-2.2M80.30 743.90h-3.6M80.30 739.80h-2.2M80.30 735.70h-2.2M80.30 731.60h-2.2M80.30 727.50h-2.2M80.30 723.40h-3.6M80.30 719.30h-2.2M80.30 715.20h-2.2M80.30 711.10h-2.2M80.30 707.00h-2.2" stroke="#444" stroke-width="0.8" fill="none"/>
<text x="96.10" y="819.30" font-family="Liberation Sans, sans-serif" font-size="4.8" text-anchor="middle" fill="#333">10</text>
<text x="98.90" y="816.60" font-family="Liberation Sans, sans-serif" font-size="3.5" text-anchor="start" fill="#333">2</text>
<text x="125.50" y="819.30" font-family="Liberation Sans, sans-serif" font-size="4.8" text-anchor="middle" fill="#333">10</text>
<text x="128.30" y="816.60" font-family="Liberation Sans, sans-serif" font-size="3.5" text-anchor="start" fill="#333">3</text>
<text x="154.90" y="819.30" font-family="Liberation Sans, sans-serif" font-size="4.8" text-anchor="middle" fill="#333">10</text>
<text x="157.70" y="816.60" font-family="Liberation Sans, sans-serif" font-size="3.5" text-anchor="start" fill="#333">4</text>
<text x="184.30" y="819.30" font-family="Liberation Sans, sans-serif" font-size="4.8" text-anchor="middle" fill="#333">10</text>
<text x="187.10" y="816.60" font-family="Liberation Sans, sans-serif" font-size="3.5" text-anchor="start" fill="#333">5</text>
<text x="74.50" y="791.90" font-family="Liberation Sans, sans-serif" font-size="4.6" text-anchor="middle" fill="#333" transform="rotate(-90 74.5 791.9)">50</text>
<text x="74.50" y="771.40" font-family="Liberation Sans, sans-serif" font-size="4.6" text-anchor="middle" fill="#333" transform="rotate(-90 74.5 771.4)">100</text>
<text x="74.50" y="750.90" font-family="Liberation Sans, sans-serif" font-size="4.6" text-anchor="middle" fill="#333" transform="rotate(-90 74.5 750.9)">150</text>
<text x="74.50" y="730.40" font-family="Liberation Sans, sans-serif" font-size="4.6" text-anchor="middle" fill="#333" transform="rotate(-90 74.5 730.4)">200</text>
<text x="74.50" y="709.90" font-family="Liberation Sans, sans-serif" font-size="4.6" text-anchor="middle" fill="#333" transform="rotate(-90 74.5 709.9)">250</text>
<text x="67.50" y="715.70" font-family="Liberation Sans, sans-serif" font-size="5.0" text-anchor="middle" fill="#333" transform="rotate(-90 67.5 715.7)">(x 1,000)</text>
<text x="67.70" y="756.30" font-family="Liberation Sans, sans-serif" font-size="6.1" text-anchor="middle" fill="#222" transform="rotate(-90 67.7 756.3000000000001)">SSC-A</text>
<text x="138.20" y="826.50" font-family="Liberation Sans, sans-serif" font-size="6.2" text-anchor="middle" fill="#222">CD3 PerCP-A</text>
<rect x="58.50" y="841.00" width="142.50" height="137.10" fill="none" stroke="#555" stroke-width="1.3"/>
<rect x="80.30" y="853.30" width="117.00" height="102.90" fill="none" stroke="#555" stroke-width="1.2"/>
<path d="M81.93 956.20v2.2M85.60 956.20v2.2M88.45 956.20v2.2M90.78 956.20v2.2M92.75 956.20v2.2M94.45 956.20v2.2M95.95 956.20v2.2M97.30 956.20v3.6M106.15 956.20v2.2M111.33 956.20v2.2M115.00 956.20v2.2M117.85 956.20v2.2M120.18 956.20v2.2M122.15 956.20v2.2M123.85 956.20v2.2M125.35 956.20v2.2M126.70 956.20v3.6M135.55 956.20v2.2M140.73 956.20v2.2M144.40 956.20v2.2M147.25 956.20v2.2M149.58 956.20v2.2M151.55 956.20v2.2M153.25 956.20v2.2M154.75 956.20v2.2M156.10 956.20v3.6M164.95 956.20v2.2M170.13 956.20v2.2M173.80 956.20v2.2M176.65 956.20v2.2M178.98 956.20v2.2M180.95 956.20v2.2M182.65 956.20v2.2M184.15 956.20v2.2M185.50 956.20v3.6M194.35 956.20v2.2M80.30 953.30h-3.6M80.30 949.20h-2.2M80.30 945.10h-2.2M80.30 941.00h-2.2M80.30 936.90h-2.2M80.30 932.80h-3.6M80.30 928.70h-2.2M80.30 924.60h-2.2M80.30 920.50h-2.2M80.30 916.40h-2.2M80.30 912.30h-3.6M80.30 908.20h-2.2M80.30 904.10h-2.2M80.30 900.00h-2.2M80.30 895.90h-2.2M80.30 891.80h-3.6M80.30 887.70h-2.2M80.30 883.60h-2.2M80.30 879.50h-2.2M80.30 875.40h-2.2M80.30 871.30h-3.6M80.30 867.20h-2.2M80.30 863.10h-2.2M80.30 859.00h-2.2M80.30 854.90h-2.2" stroke="#444" stroke-width="0.8" fill="none"/>
<text x="96.10" y="967.20" font-family="Liberation Sans, sans-serif" font-size="4.8" text-anchor="middle" fill="#333">10</text>
<text x="98.90" y="964.50" font-family="Liberation Sans, sans-serif" font-size="3.5" text-anchor="start" fill="#333">2</text>
<text x="125.50" y="967.20" font-family="Liberation Sans, sans-serif" font-size="4.8" text-anchor="middle" fill="#333">10</text>
<text x="128.30" y="964.50" font-family="Liberation Sans, sans-serif" font-size="3.5" text-anchor="start" fill="#333">3</text>
<text x="154.90" y="967.20" font-family="Liberation Sans, sans-serif" font-size="4.8" text-anchor="middle" fill="#333">10</text>
<text x="157.70" y="964.50" font-family="Liberation Sans, sans-serif" font-size="3.5" text-anchor="start" fill="#333">4</text>
<text x="184.30" y="967.20" font-family="Liberation Sans, sans-serif" font-size="4.8" text-anchor="middle" fill="#333">10</text>
<text x="187.10" y="964.50" font-family="Liberation Sans, sans-serif" font-size="3.5" text-anchor="start" fill="#333">5</text>
<text x="74.50" y="939.80" font-family="Liberation Sans, sans-serif" font-size="4.6" text-anchor="middle" fill="#333" transform="rotate(-90 74.5 939.8000000000001)">50</text>
<text x="74.50" y="919.30" font-family="Liberation Sans, sans-serif" font-size="4.6" text-anchor="middle" fill="#333" transform="rotate(-90 74.5 919.3000000000001)">100</text>
<text x="74.50" y="898.80" font-family="Liberation Sans, sans-serif" font-size="4.6" text-anchor="middle" fill="#333" transform="rotate(-90 74.5 898.8000000000001)">150</text>
<text x="74.50" y="878.30" font-family="Liberation Sans, sans-serif" font-size="4.6" text-anchor="middle" fill="#333" transform="rotate(-90 74.5 878.3000000000001)">200</text>
<text x="74.50" y="857.80" font-family="Liberation Sans, sans-serif" font-size="4.6" text-anchor="middle" fill="#333" transform="rotate(-90 74.5 857.8000000000001)">250</text>
<text x="67.50" y="863.30" font-family="Liberation Sans, sans-serif" font-size="5.0" text-anchor="middle" fill="#333" transform="rotate(-90 67.5 863.3)">(x 1,000)</text>
<text x="67.70" y="903.90" font-family="Liberation Sans, sans-serif" font-size="6.1" text-anchor="middle" fill="#222" transform="rotate(-90 67.7 903.9)">SSC-A</text>
<text x="138.20" y="973.60" font-family="Liberation Sans, sans-serif" font-size="6.2" text-anchor="middle" fill="#222">CD3 PerCP-A</text>
<path d="M91.6 775.3h1.1v1.1h-1.1zM152.9 748.3h1.1v1.1h-1.1zM147.9 727.9h1.1v1.1h-1.1zM170.1 777.2h1.1v1.1h-1.1zM131.8 749.2h1.1v1.1h-1.1zM128.6 749.5h1.1v1.1h-1.1zM91.3 767.8h1.1v1.1h-1.1zM108.4 758.0h1.1v1.1h-1.1zM128.5 748.5h1.1v1.1h-1.1zM144.1 712.1h1.1v1.1h-1.1zM154.9 720.1h1.1v1.1h-1.1zM118.1 774.4h1.1v1.1h-1.1zM90.7 758.1h1.1v1.1h-1.1zM164.1 796.1h1.1v1.1h-1.1zM103.6 772.1h1.1v1.1h-1.1zM124.3 716.7h1.1v1.1h-1.1zM166.0 739.2h1.1v1.1h-1.1zM87.2 764.1h1.1v1.1h-1.1zM137.2 732.7h1.1v1.1h-1.1zM167.7 796.9h1.1v1.1h-1.1zM164.1 753.6h1.1v1.1h-1.1zM96.6 786.0h1.1v1.1h-1.1zM130.5 723.5h1.1v1.1h-1.1zM150.3 739.2h1.1v1.1h-1.1zM143.2 752.7h1.1v1.1h-1.1zM125.7 777.3h1.1v1.1h-1.1zM102.8 754.8h1.1v1.1h-1.1zM127.7 724.0h1.1v1.1h-1.1zM117.4 742.2h1.1v1.1h-1.1zM126.5 740.5h1.1v1.1h-1.1zM116.8 738.4h1.1v1.1h-1.1zM157.9 726.6h1.1v1.1h-1.1zM151.9 748.5h1.1v1.1h-1.1zM112.3 751.4h1.1v1.1h-1.1zM124.4 758.0h1.1v1.1h-1.1zM115.7 752.5h1.1v1.1h-1.1zM124.9 771.4h1.1v1.1h-1.1zM105.9 758.8h1.1v1.1h-1.1zM88.4 743.9h1.1v1.1h-1.1zM115.2 742.9h1.1v1.1h-1.1zM117.8 733.8h1.1v1.1h-1.1zM97.8 750.3h1.1v1.1h-1.1zM105.8 773.7h1.1v1.1h-1.1zM101.5 771.3h1.1v1.1h-1.1zM104.7 751.4h1.1v1.1h-1.1zM122.3 753.1h1.1v1.1h-1.1zM124.8 770.1h1.1v1.1h-1.1zM115.4 738.6h1.1v1.1h-1.1zM107.2 748.6h1.1v1.1h-1.1zM100.6 730.5h1.1v1.1h-1.1zM107.4 752.0h1.1v1.1h-1.1zM132.9 765.5h1.1v1.1h-1.1zM117.6 787.3h1.1v1.1h-1.1zM104.2 755.2h1.1v1.1h-1.1zM102.8 742.7h1.1v1.1h-1.1zM112.3 756.6h1.1v1.1h-1.1zM92.1 746.0h1.1v1.1h-1.1zM113.3 746.9h1.1v1.1h-1.1zM101.7 779.2h1.1v1.1h-1.1zM123.7 756.5h1.1v1.1h-1.1zM109.7 753.0h1.1v1.1h-1.1zM126.9 753.4h1.1v1.1h-1.1zM103.0 780.4h1.1v1.1h-1.1zM104.8 752.3h1.1v1.1h-1.1zM94.4 748.6h1.1v1.1h-1.1zM103.3 759.3h1.1v1.1h-1.1zM100.9 748.0h1.1v1.1h-1.1zM127.2 743.2h1.1v1.1h-1.1zM103.7 762.5h1.1v1.1h-1.1zM98.7 756.5h1.1v1.1h-1.1zM107.2 740.8h1.1v1.1h-1.1zM101.2 760.7h1.1v1.1h-1.1zM104.0 748.9h1.1v1.1h-1.1zM102.3 775.2h1.1v1.1h-1.1zM110.3 754.4h1.1v1.1h-1.1zM96.1 750.6h1.1v1.1h-1.1zM87.8 739.7h1.1v1.1h-1.1zM109.0 760.1h1.1v1.1h-1.1zM93.3 746.4h1.1v1.1h-1.1zM86.5 753.3h1.1v1.1h-1.1zM100.2 760.4h1.1v1.1h-1.1zM102.2 764.0h1.1v1.1h-1.1zM95.7 754.7h1.1v1.1h-1.1zM94.3 755.7h1.1v1.1h-1.1zM102.3 753.4h1.1v1.1h-1.1zM105.0 768.4h1.1v1.1h-1.1zM98.9 760.3h1.1v1.1h-1.1zM104.9 754.7h1.1v1.1h-1.1zM91.1 771.0h1.1v1.1h-1.1zM108.2 761.3h1.1v1.1h-1.1zM88.3 753.9h1.1v1.1h-1.1zM105.9 740.3h1.1v1.1h-1.1zM126.9 760.7h1.1v1.1h-1.1zM90.9 754.4h1.1v1.1h-1.1zM116.3 749.2h1.1v1.1h-1.1zM121.3 757.1h1.1v1.1h-1.1zM97.8 758.3h1.1v1.1h-1.1zM128.5 753.9h1.1v1.1h-1.1zM91.5 764.4h1.1v1.1h-1.1zM120.2 750.2h1.1v1.1h-1.1zM100.3 769.9h1.1v1.1h-1.1zM96.2 770.6h1.1v1.1h-1.1zM99.1 758.3h1.1v1.1h-1.1zM99.0 757.5h1.1v1.1h-1.1zM110.1 744.9h1.1v1.1h-1.1zM107.0 769.8h1.1v1.1h-1.1zM118.5 732.2h1.1v1.1h-1.1zM97.7 754.9h1.1v1.1h-1.1zM106.6 755.6h1.1v1.1h-1.1zM93.4 747.5h1.1v1.1h-1.1zM115.3 741.5h1.1v1.1h-1.1zM102.7 750.5h1.1v1.1h-1.1zM121.4 757.4h1.1v1.1h-1.1zM109.3 751.1h1.1v1.1h-1.1zM87.6 757.3h1.1v1.1h-1.1zM92.9 773.0h1.1v1.1h-1.1zM116.0 745.7h1.1v1.1h-1.1zM105.2 760.4h1.1v1.1h-1.1zM120.5 781.0h1.1v1.1h-1.1zM99.8 754.1h1.1v1.1h-1.1zM99.1 750.2h1.1v1.1h-1.1zM85.4 760.1h1.1v1.1h-1.1zM87.0 784.6h1.1v1.1h-1.1zM115.0 737.8h1.1v1.1h-1.1zM89.5 752.9h1.1v1.1h-1.1zM92.1 779.6h1.1v1.1h-1.1zM93.2 753.6h1.1v1.1h-1.1zM104.0 765.9h1.1v1.1h-1.1zM111.3 735.0h1.1v1.1h-1.1zM103.1 757.6h1.1v1.1h-1.1zM106.1 772.1h1.1v1.1h-1.1zM95.5 787.2h1.1v1.1h-1.1zM104.5 768.9h1.1v1.1h-1.1zM114.5 755.2h1.1v1.1h-1.1zM104.7 765.9h1.1v1.1h-1.1zM101.7 773.3h1.1v1.1h-1.1zM101.5 741.3h1.1v1.1h-1.1zM108.4 744.8h1.1v1.1h-1.1zM105.9 733.4h1.1v1.1h-1.1zM127.1 751.7h1.1v1.1h-1.1zM105.6 750.6h1.1v1.1h-1.1zM105.5 752.6h1.1v1.1h-1.1zM96.6 747.9h1.1v1.1h-1.1zM108.3 755.8h1.1v1.1h-1.1zM115.5 753.6h1.1v1.1h-1.1zM99.9 778.1h1.1v1.1h-1.1zM107.5 764.2h1.1v1.1h-1.1zM115.9 749.4h1.1v1.1h-1.1zM106.6 752.4h1.1v1.1h-1.1zM102.3 775.6h1.1v1.1h-1.1zM120.9 780.6h1.1v1.1h-1.1zM120.6 744.2h1.1v1.1h-1.1zM104.2 750.3h1.1v1.1h-1.1zM102.2 737.4h1.1v1.1h-1.1zM106.5 755.1h1.1v1.1h-1.1zM87.1 751.3h1.1v1.1h-1.1zM122.0 750.1h1.1v1.1h-1.1zM95.1 753.1h1.1v1.1h-1.1zM122.2 776.3h1.1v1.1h-1.1zM101.5 746.4h1.1v1.1h-1.1zM106.8 743.6h1.1v1.1h-1.1zM106.2 755.2h1.1v1.1h-1.1zM105.5 752.9h1.1v1.1h-1.1zM106.0 750.5h1.1v1.1h-1.1zM102.9 767.1h1.1v1.1h-1.1zM97.0 756.4h1.1v1.1h-1.1zM107.8 740.6h1.1v1.1h-1.1zM121.7 779.7h1.1v1.1h-1.1zM88.6 757.8h1.1v1.1h-1.1zM124.1 755.0h1.1v1.1h-1.1zM108.7 759.3h1.1v1.1h-1.1zM102.3 744.0h1.1v1.1h-1.1zM111.4 755.9h1.1v1.1h-1.1zM102.5 761.8h1.1v1.1h-1.1zM123.3 784.5h1.1v1.1h-1.1zM100.0 756.0h1.1v1.1h-1.1zM114.7 750.5h1.1v1.1h-1.1zM118.3 751.5h1.1v1.1h-1.1zM101.7 747.3h1.1v1.1h-1.1zM103.3 760.4h1.1v1.1h-1.1zM82.6 765.5h1.1v1.1h-1.1zM101.5 762.5h1.1v1.1h-1.1zM84.7 762.1h1.1v1.1h-1.1zM88.5 758.3h1.1v1.1h-1.1zM105.5 750.3h1.1v1.1h-1.1zM116.4 782.4h1.1v1.1h-1.1zM107.0 773.6h1.1v1.1h-1.1zM113.2 748.2h1.1v1.1h-1.1zM95.9 748.2h1.1v1.1h-1.1zM93.2 752.4h1.1v1.1h-1.1zM122.1 773.9h1.1v1.1h-1.1zM97.5 774.1h1.1v1.1h-1.1zM103.4 774.4h1.1v1.1h-1.1zM128.2 765.9h1.1v1.1h-1.1zM108.1 758.5h1.1v1.1h-1.1zM126.5 737.3h1.1v1.1h-1.1zM101.4 758.3h1.1v1.1h-1.1zM106.1 753.0h1.1v1.1h-1.1zM90.5 751.9h1.1v1.1h-1.1zM106.4 753.8h1.1v1.1h-1.1zM123.3 768.1h1.1v1.1h-1.1zM94.3 769.8h1.1v1.1h-1.1zM91.5 752.7h1.1v1.1h-1.1zM100.8 766.5h1.1v1.1h-1.1zM94.8 764.9h1.1v1.1h-1.1zM122.8 770.1h1.1v1.1h-1.1zM98.5 774.6h1.1v1.1h-1.1zM101.2 762.2h1.1v1.1h-1.1zM139.5 769.0h1.1v1.1h-1.1zM101.3 745.1h1.1v1.1h-1.1zM99.6 768.4h1.1v1.1h-1.1zM115.0 754.9h1.1v1.1h-1.1zM110.4 749.9h1.1v1.1h-1.1zM98.0 759.2h1.1v1.1h-1.1zM95.2 744.2h1.1v1.1h-1.1zM107.4 763.8h1.1v1.1h-1.1zM89.9 747.7h1.1v1.1h-1.1zM120.9 760.6h1.1v1.1h-1.1zM105.3 773.8h1.1v1.1h-1.1zM105.1 773.1h1.1v1.1h-1.1zM110.5 758.0h1.1v1.1h-1.1zM100.4 755.6h1.1v1.1h-1.1zM93.2 754.9h1.1v1.1h-1.1zM92.1 780.6h1.1v1.1h-1.1zM106.9 777.5h1.1v1.1h-1.1zM106.5 739.0h1.1v1.1h-1.1zM127.6 757.4h1.1v1.1h-1.1zM96.3 754.4h1.1v1.1h-1.1zM92.4 776.2h1.1v1.1h-1.1zM100.9 781.9h1.1v1.1h-1.1zM95.6 751.4h1.1v1.1h-1.1zM101.5 760.5h1.1v1.1h-1.1zM116.5 753.7h1.1v1.1h-1.1zM126.3 751.8h1.1v1.1h-1.1zM99.9 751.2h1.1v1.1h-1.1zM129.8 748.2h1.1v1.1h-1.1zM105.8 774.8h1.1v1.1h-1.1zM82.8 761.1h1.1v1.1h-1.1zM107.1 769.8h1.1v1.1h-1.1zM82.7 751.3h1.1v1.1h-1.1zM108.8 749.4h1.1v1.1h-1.1zM105.8 765.5h1.1v1.1h-1.1zM99.4 746.6h1.1v1.1h-1.1zM114.9 750.5h1.1v1.1h-1.1zM102.7 762.0h1.1v1.1h-1.1zM110.5 743.8h1.1v1.1h-1.1zM100.8 755.0h1.1v1.1h-1.1zM99.3 767.6h1.1v1.1h-1.1zM113.8 734.5h1.1v1.1h-1.1zM101.8 776.9h1.1v1.1h-1.1zM83.6 771.4h1.1v1.1h-1.1zM114.4 745.9h1.1v1.1h-1.1zM90.4 740.9h1.1v1.1h-1.1zM127.6 754.6h1.1v1.1h-1.1zM107.8 761.8h1.1v1.1h-1.1zM94.9 771.2h1.1v1.1h-1.1zM91.9 755.2h1.1v1.1h-1.1zM118.2 782.8h1.1v1.1h-1.1zM104.6 763.1h1.1v1.1h-1.1zM97.6 756.9h1.1v1.1h-1.1zM91.3 768.3h1.1v1.1h-1.1zM107.2 765.5h1.1v1.1h-1.1zM106.1 745.8h1.1v1.1h-1.1zM106.6 750.0h1.1v1.1h-1.1zM109.8 754.1h1.1v1.1h-1.1zM116.7 742.7h1.1v1.1h-1.1zM98.3 753.3h1.1v1.1h-1.1zM104.8 760.8h1.1v1.1h-1.1zM90.3 740.6h1.1v1.1h-1.1zM118.7 748.4h1.1v1.1h-1.1zM108.4 759.0h1.1v1.1h-1.1zM113.4 743.7h1.1v1.1h-1.1zM125.0 743.8h1.1v1.1h-1.1zM119.9 749.2h1.1v1.1h-1.1zM107.3 741.8h1.1v1.1h-1.1zM92.3 747.2h1.1v1.1h-1.1zM90.2 744.5h1.1v1.1h-1.1zM122.7 760.5h1.1v1.1h-1.1zM100.3 753.8h1.1v1.1h-1.1zM115.5 745.3h1.1v1.1h-1.1zM103.4 755.7h1.1v1.1h-1.1zM118.9 756.9h1.1v1.1h-1.1zM122.4 769.2h1.1v1.1h-1.1zM98.9 773.3h1.1v1.1h-1.1zM91.2 745.8h1.1v1.1h-1.1zM106.6 754.7h1.1v1.1h-1.1zM103.9 775.3h1.1v1.1h-1.1zM101.3 728.4h1.1v1.1h-1.1zM100.7 779.9h1.1v1.1h-1.1zM92.8 754.5h1.1v1.1h-1.1zM111.2 749.2h1.1v1.1h-1.1zM99.9 760.6h1.1v1.1h-1.1zM95.7 775.2h1.1v1.1h-1.1zM104.1 760.4h1.1v1.1h-1.1zM91.8 729.4h1.1v1.1h-1.1zM100.5 739.1h1.1v1.1h-1.1zM103.8 747.3h1.1v1.1h-1.1zM100.1 744.9h1.1v1.1h-1.1zM118.0 736.2h1.1v1.1h-1.1zM106.8 743.7h1.1v1.1h-1.1zM113.8 747.2h1.1v1.1h-1.1zM113.3 752.1h1.1v1.1h-1.1zM99.1 759.3h1.1v1.1h-1.1zM114.3 755.7h1.1v1.1h-1.1zM111.8 740.8h1.1v1.1h-1.1zM103.6 772.6h1.1v1.1h-1.1zM103.3 772.3h1.1v1.1h-1.1zM132.0 768.1h1.1v1.1h-1.1zM98.9 771.6h1.1v1.1h-1.1zM104.0 782.1h1.1v1.1h-1.1zM116.6 755.8h1.1v1.1h-1.1zM112.8 756.5h1.1v1.1h-1.1zM119.7 779.1h1.1v1.1h-1.1zM101.4 780.0h1.1v1.1h-1.1zM97.1 729.5h1.1v1.1h-1.1zM106.8 757.1h1.1v1.1h-1.1zM100.0 717.7h1.1v1.1h-1.1zM100.9 769.5h1.1v1.1h-1.1zM128.9 760.7h1.1v1.1h-1.1zM104.6 776.9h1.1v1.1h-1.1zM111.4 756.2h1.1v1.1h-1.1zM104.2 767.2h1.1v1.1h-1.1zM93.1 764.6h1.1v1.1h-1.1zM97.6 766.0h1.1v1.1h-1.1zM119.8 745.8h1.1v1.1h-1.1zM98.8 769.3h1.1v1.1h-1.1zM109.1 758.1h1.1v1.1h-1.1zM105.4 769.5h1.1v1.1h-1.1zM109.3 743.3h1.1v1.1h-1.1zM101.2 758.2h1.1v1.1h-1.1zM110.1 754.2h1.1v1.1h-1.1zM95.0 748.2h1.1v1.1h-1.1zM121.0 749.0h1.1v1.1h-1.1zM95.0 754.4h1.1v1.1h-1.1zM97.1 764.5h1.1v1.1h-1.1zM105.5 753.5h1.1v1.1h-1.1zM103.3 744.3h1.1v1.1h-1.1zM100.9 766.3h1.1v1.1h-1.1zM101.7 775.0h1.1v1.1h-1.1zM106.5 775.8h1.1v1.1h-1.1zM104.4 751.7h1.1v1.1h-1.1zM109.7 756.4h1.1v1.1h-1.1zM101.2 776.4h1.1v1.1h-1.1zM119.2 772.5h1.1v1.1h-1.1zM102.5 747.4h1.1v1.1h-1.1zM92.3 778.0h1.1v1.1h-1.1zM106.2 749.6h1.1v1.1h-1.1zM93.8 757.9h1.1v1.1h-1.1zM124.8 763.4h1.1v1.1h-1.1zM87.4 758.6h1.1v1.1h-1.1zM104.6 762.5h1.1v1.1h-1.1zM98.6 778.1h1.1v1.1h-1.1zM113.5 733.9h1.1v1.1h-1.1zM93.7 742.2h1.1v1.1h-1.1zM111.3 739.9h1.1v1.1h-1.1zM122.4 751.1h1.1v1.1h-1.1zM109.9 737.4h1.1v1.1h-1.1zM98.4 767.2h1.1v1.1h-1.1zM88.4 761.2h1.1v1.1h-1.1zM93.9 756.7h1.1v1.1h-1.1zM87.7 751.1h1.1v1.1h-1.1zM125.6 762.0h1.1v1.1h-1.1zM105.3 762.3h1.1v1.1h-1.1zM96.5 764.3h1.1v1.1h-1.1zM93.7 750.5h1.1v1.1h-1.1zM96.3 768.4h1.1v1.1h-1.1zM104.3 740.9h1.1v1.1h-1.1zM93.9 776.2h1.1v1.1h-1.1zM126.4 720.0h1.1v1.1h-1.1zM99.8 752.3h1.1v1.1h-1.1zM99.4 744.4h1.1v1.1h-1.1zM124.0 740.7h1.1v1.1h-1.1zM122.6 783.7h1.1v1.1h-1.1zM102.6 739.9h1.1v1.1h-1.1zM94.1 771.6h1.1v1.1h-1.1zM109.9 731.0h1.1v1.1h-1.1zM95.0 775.5h1.1v1.1h-1.1zM123.0 763.0h1.1v1.1h-1.1zM108.4 739.0h1.1v1.1h-1.1zM96.7 769.9h1.1v1.1h-1.1zM104.5 744.3h1.1v1.1h-1.1zM102.4 762.4h1.1v1.1h-1.1zM106.6 763.0h1.1v1.1h-1.1zM118.4 751.6h1.1v1.1h-1.1zM92.1 768.4h1.1v1.1h-1.1zM87.5 746.7h1.1v1.1h-1.1zM106.0 752.9h1.1v1.1h-1.1zM109.8 757.6h1.1v1.1h-1.1zM106.0 761.5h1.1v1.1h-1.1zM116.8 745.9h1.1v1.1h-1.1zM98.2 758.5h1.1v1.1h-1.1zM108.7 750.0h1.1v1.1h-1.1zM98.9 760.3h1.1v1.1h-1.1zM95.6 762.1h1.1v1.1h-1.1zM86.6 752.9h1.1v1.1h-1.1zM95.7 765.8h1.1v1.1h-1.1zM119.8 751.9h1.1v1.1h-1.1zM100.7 759.2h1.1v1.1h-1.1zM106.0 760.8h1.1v1.1h-1.1zM92.5 776.3h1.1v1.1h-1.1zM113.2 750.5h1.1v1.1h-1.1zM115.2 740.6h1.1v1.1h-1.1zM118.3 747.4h1.1v1.1h-1.1zM104.3 768.2h1.1v1.1h-1.1zM108.9 756.0h1.1v1.1h-1.1zM122.3 742.4h1.1v1.1h-1.1zM99.9 765.2h1.1v1.1h-1.1zM102.0 757.8h1.1v1.1h-1.1zM122.1 762.1h1.1v1.1h-1.1zM100.2 768.5h1.1v1.1h-1.1zM106.7 771.0h1.1v1.1h-1.1zM102.5 754.0h1.1v1.1h-1.1zM117.9 753.5h1.1v1.1h-1.1zM121.9 761.1h1.1v1.1h-1.1zM101.9 764.6h1.1v1.1h-1.1zM120.9 744.8h1.1v1.1h-1.1zM126.2 779.4h1.1v1.1h-1.1zM103.9 764.5h1.1v1.1h-1.1zM100.2 750.9h1.1v1.1h-1.1zM97.3 779.9h1.1v1.1h-1.1zM114.2 755.2h1.1v1.1h-1.1zM111.7 753.8h1.1v1.1h-1.1zM128.9 754.2h1.1v1.1h-1.1zM95.5 755.2h1.1v1.1h-1.1zM87.4 759.4h1.1v1.1h-1.1zM88.4 766.6h1.1v1.1h-1.1zM95.1 739.1h1.1v1.1h-1.1zM120.4 771.7h1.1v1.1h-1.1zM123.6 757.2h1.1v1.1h-1.1zM104.9 751.1h1.1v1.1h-1.1zM126.2 754.9h1.1v1.1h-1.1zM120.4 782.9h1.1v1.1h-1.1zM105.5 761.9h1.1v1.1h-1.1zM97.6 749.4h1.1v1.1h-1.1zM102.9 770.7h1.1v1.1h-1.1zM106.6 740.7h1.1v1.1h-1.1zM114.9 753.3h1.1v1.1h-1.1zM107.2 737.1h1.1v1.1h-1.1zM116.0 755.1h1.1v1.1h-1.1zM92.8 738.0h1.1v1.1h-1.1zM114.1 754.8h1.1v1.1h-1.1zM99.7 771.6h1.1v1.1h-1.1zM112.2 743.4h1.1v1.1h-1.1zM93.4 774.4h1.1v1.1h-1.1zM123.8 764.0h1.1v1.1h-1.1zM105.4 775.6h1.1v1.1h-1.1zM107.1 775.1h1.1v1.1h-1.1zM106.4 766.3h1.1v1.1h-1.1zM114.6 737.4h1.1v1.1h-1.1zM96.5 742.4h1.1v1.1h-1.1zM101.7 746.9h1.1v1.1h-1.1zM92.7 755.5h1.1v1.1h-1.1zM105.7 772.1h1.1v1.1h-1.1zM119.3 736.8h1.1v1.1h-1.1zM110.5 755.8h1.1v1.1h-1.1zM117.7 742.8h1.1v1.1h-1.1zM96.7 739.7h1.1v1.1h-1.1zM98.3 779.2h1.1v1.1h-1.1zM102.9 761.3h1.1v1.1h-1.1zM107.8 748.0h1.1v1.1h-1.1zM114.8 735.9h1.1v1.1h-1.1zM107.8 754.7h1.1v1.1h-1.1zM122.4 745.1h1.1v1.1h-1.1zM101.6 769.0h1.1v1.1h-1.1zM125.7 751.3h1.1v1.1h-1.1zM109.1 755.5h1.1v1.1h-1.1zM101.3 761.0h1.1v1.1h-1.1zM129.5 769.8h1.1v1.1h-1.1zM83.3 755.4h1.1v1.1h-1.1zM95.5 755.5h1.1v1.1h-1.1zM96.4 767.8h1.1v1.1h-1.1zM125.8 764.1h1.1v1.1h-1.1zM105.1 756.8h1.1v1.1h-1.1zM93.9 758.7h1.1v1.1h-1.1zM112.0 745.0h1.1v1.1h-1.1zM100.4 741.9h1.1v1.1h-1.1zM91.6 762.6h1.1v1.1h-1.1zM95.9 748.4h1.1v1.1h-1.1zM108.8 738.7h1.1v1.1h-1.1zM106.3 757.3h1.1v1.1h-1.1zM88.5 737.2h1.1v1.1h-1.1zM96.6 754.2h1.1v1.1h-1.1zM108.5 739.5h1.1v1.1h-1.1zM113.1 750.9h1.1v1.1h-1.1zM100.6 777.0h1.1v1.1h-1.1zM96.7 779.3h1.1v1.1h-1.1zM118.9 776.5h1.1v1.1h-1.1zM111.9 749.8h1.1v1.1h-1.1zM101.0 758.0h1.1v1.1h-1.1zM107.5 750.5h1.1v1.1h-1.1zM114.9 755.6h1.1v1.1h-1.1zM120.3 747.6h1.1v1.1h-1.1zM100.5 744.9h1.1v1.1h-1.1zM100.9 775.7h1.1v1.1h-1.1zM103.1 768.2h1.1v1.1h-1.1zM95.1 767.5h1.1v1.1h-1.1zM106.8 773.3h1.1v1.1h-1.1zM97.8 779.6h1.1v1.1h-1.1zM90.9 755.6h1.1v1.1h-1.1zM112.1 746.7h1.1v1.1h-1.1zM102.5 774.1h1.1v1.1h-1.1zM105.5 753.3h1.1v1.1h-1.1zM113.8 740.6h1.1v1.1h-1.1zM120.6 756.5h1.1v1.1h-1.1zM89.3 760.3h1.1v1.1h-1.1zM104.8 750.5h1.1v1.1h-1.1zM123.4 749.6h1.1v1.1h-1.1zM110.1 755.7h1.1v1.1h-1.1zM122.2 744.3h1.1v1.1h-1.1zM101.5 758.6h1.1v1.1h-1.1zM98.5 766.0h1.1v1.1h-1.1zM121.5 760.6h1.1v1.1h-1.1zM131.8 739.0h1.1v1.1h-1.1zM115.0 744.5h1.1v1.1h-1.1zM117.8 776.7h1.1v1.1h-1.1zM102.8 746.8h1.1v1.1h-1.1zM93.4 769.6h1.1v1.1h-1.1zM105.5 768.2h1.1v1.1h-1.1zM124.5 755.8h1.1v1.1h-1.1zM87.5 747.0h1.1v1.1h-1.1zM102.6 762.7h1.1v1.1h-1.1zM86.9 748.5h1.1v1.1h-1.1zM109.2 757.7h1.1v1.1h-1.1zM94.3 750.7h1.1v1.1h-1.1zM103.5 757.1h1.1v1.1h-1.1zM122.6 756.0h1.1v1.1h-1.1zM122.1 764.1h1.1v1.1h-1.1zM130.5 757.7h1.1v1.1h-1.1zM126.9 765.8h1.1v1.1h-1.1zM129.3 767.9h1.1v1.1h-1.1zM127.2 783.9h1.1v1.1h-1.1zM138.2 766.1h1.1v1.1h-1.1zM137.5 767.0h1.1v1.1h-1.1zM121.9 768.4h1.1v1.1h-1.1zM133.0 770.6h1.1v1.1h-1.1zM124.6 763.7h1.1v1.1h-1.1zM127.8 782.5h1.1v1.1h-1.1zM137.3 740.0h1.1v1.1h-1.1zM119.6 774.8h1.1v1.1h-1.1zM122.6 765.9h1.1v1.1h-1.1zM127.7 746.4h1.1v1.1h-1.1zM124.6 773.2h1.1v1.1h-1.1zM144.9 768.2h1.1v1.1h-1.1zM121.9 784.8h1.1v1.1h-1.1zM152.6 749.2h1.1v1.1h-1.1zM140.0 768.2h1.1v1.1h-1.1zM125.1 775.1h1.1v1.1h-1.1zM122.5 764.2h1.1v1.1h-1.1zM135.8 754.3h1.1v1.1h-1.1zM133.9 758.9h1.1v1.1h-1.1zM132.3 759.3h1.1v1.1h-1.1zM125.0 771.3h1.1v1.1h-1.1zM156.1 759.4h1.1v1.1h-1.1zM119.8 771.7h1.1v1.1h-1.1zM123.4 781.0h1.1v1.1h-1.1zM130.9 750.0h1.1v1.1h-1.1zM145.9 754.9h1.1v1.1h-1.1zM134.6 752.2h1.1v1.1h-1.1zM120.7 776.3h1.1v1.1h-1.1zM125.2 775.7h1.1v1.1h-1.1zM119.7 775.9h1.1v1.1h-1.1zM121.6 767.5h1.1v1.1h-1.1zM136.3 764.0h1.1v1.1h-1.1zM127.8 769.3h1.1v1.1h-1.1zM132.8 761.9h1.1v1.1h-1.1zM127.6 746.0h1.1v1.1h-1.1zM142.7 765.8h1.1v1.1h-1.1zM144.7 761.2h1.1v1.1h-1.1zM143.4 769.6h1.1v1.1h-1.1zM135.0 761.5h1.1v1.1h-1.1zM130.5 769.9h1.1v1.1h-1.1zM150.4 762.1h1.1v1.1h-1.1zM126.6 753.9h1.1v1.1h-1.1zM127.1 776.9h1.1v1.1h-1.1zM125.1 774.2h1.1v1.1h-1.1zM133.8 770.1h1.1v1.1h-1.1zM139.8 753.9h1.1v1.1h-1.1zM131.0 763.5h1.1v1.1h-1.1zM136.5 763.0h1.1v1.1h-1.1zM127.5 782.5h1.1v1.1h-1.1zM117.6 756.7h1.1v1.1h-1.1zM125.9 762.9h1.1v1.1h-1.1zM136.1 755.8h1.1v1.1h-1.1zM133.6 763.3h1.1v1.1h-1.1zM129.5 764.0h1.1v1.1h-1.1zM127.5 763.9h1.1v1.1h-1.1zM126.6 788.4h1.1v1.1h-1.1zM138.7 764.1h1.1v1.1h-1.1zM132.0 762.8h1.1v1.1h-1.1zM124.2 774.5h1.1v1.1h-1.1zM137.5 749.7h1.1v1.1h-1.1zM136.8 748.1h1.1v1.1h-1.1zM148.6 762.3h1.1v1.1h-1.1zM127.5 772.2h1.1v1.1h-1.1zM120.1 769.6h1.1v1.1h-1.1zM132.6 748.0h1.1v1.1h-1.1zM138.8 768.4h1.1v1.1h-1.1zM123.9 752.5h1.1v1.1h-1.1zM126.6 781.2h1.1v1.1h-1.1zM122.6 771.9h1.1v1.1h-1.1zM126.9 776.4h1.1v1.1h-1.1zM125.1 774.6h1.1v1.1h-1.1zM127.0 765.5h1.1v1.1h-1.1zM115.3 783.1h1.1v1.1h-1.1zM130.6 769.6h1.1v1.1h-1.1zM123.4 767.2h1.1v1.1h-1.1zM121.9 780.5h1.1v1.1h-1.1zM143.4 763.5h1.1v1.1h-1.1zM133.0 764.5h1.1v1.1h-1.1zM127.9 771.6h1.1v1.1h-1.1zM124.7 778.1h1.1v1.1h-1.1zM133.4 769.7h1.1v1.1h-1.1zM137.1 765.9h1.1v1.1h-1.1zM119.8 787.0h1.1v1.1h-1.1zM128.8 759.7h1.1v1.1h-1.1zM90.2 779.7h1.1v1.1h-1.1zM100.2 785.1h1.1v1.1h-1.1zM87.7 776.6h1.1v1.1h-1.1zM94.5 782.5h1.1v1.1h-1.1zM96.4 785.8h1.1v1.1h-1.1zM93.0 786.9h1.1v1.1h-1.1zM91.0 772.2h1.1v1.1h-1.1zM100.1 777.4h1.1v1.1h-1.1zM93.8 779.8h1.1v1.1h-1.1zM81.8 781.6h1.1v1.1h-1.1zM94.6 787.2h1.1v1.1h-1.1zM86.0 788.4h1.1v1.1h-1.1zM90.2 775.0h1.1v1.1h-1.1zM87.9 787.8h1.1v1.1h-1.1zM94.8 777.9h1.1v1.1h-1.1zM83.0 786.5h1.1v1.1h-1.1zM84.0 784.4h1.1v1.1h-1.1zM85.1 784.6h1.1v1.1h-1.1zM82.8 780.5h1.1v1.1h-1.1zM86.8 789.1h1.1v1.1h-1.1zM88.5 786.2h1.1v1.1h-1.1zM93.4 784.3h1.1v1.1h-1.1zM87.3 780.1h1.1v1.1h-1.1zM91.4 806.0h1.1v1.1h-1.1zM101.7 780.4h1.1v1.1h-1.1zM91.8 781.9h1.1v1.1h-1.1zM96.1 779.8h1.1v1.1h-1.1zM94.1 774.6h1.1v1.1h-1.1zM102.3 776.2h1.1v1.1h-1.1zM92.2 779.9h1.1v1.1h-1.1zM91.0 783.6h1.1v1.1h-1.1zM86.9 791.1h1.1v1.1h-1.1zM93.6 780.9h1.1v1.1h-1.1zM90.2 783.7h1.1v1.1h-1.1zM88.8 780.1h1.1v1.1h-1.1zM92.2 789.1h1.1v1.1h-1.1zM90.9 783.0h1.1v1.1h-1.1zM81.4 775.2h1.1v1.1h-1.1zM89.5 781.0h1.1v1.1h-1.1zM84.1 782.5h1.1v1.1h-1.1zM91.4 787.8h1.1v1.1h-1.1zM85.0 774.6h1.1v1.1h-1.1zM81.4 799.2h1.1v1.1h-1.1zM102.4 780.3h1.1v1.1h-1.1zM94.5 773.4h1.1v1.1h-1.1zM92.6 783.6h1.1v1.1h-1.1zM83.3 787.1h1.1v1.1h-1.1zM86.5 783.4h1.1v1.1h-1.1zM98.9 772.8h1.1v1.1h-1.1zM91.4 787.6h1.1v1.1h-1.1zM87.7 782.7h1.1v1.1h-1.1zM87.8 786.2h1.1v1.1h-1.1zM93.4 785.8h1.1v1.1h-1.1zM94.8 783.1h1.1v1.1h-1.1zM94.4 777.6h1.1v1.1h-1.1zM83.5 786.6h1.1v1.1h-1.1zM85.8 776.1h1.1v1.1h-1.1zM94.2 780.2h1.1v1.1h-1.1zM91.9 786.8h1.1v1.1h-1.1zM85.9 783.3h1.1v1.1h-1.1zM89.4 779.8h1.1v1.1h-1.1zM106.8 774.8h1.1v1.1h-1.1zM94.7 782.9h1.1v1.1h-1.1zM97.4 775.5h1.1v1.1h-1.1zM87.4 780.4h1.1v1.1h-1.1zM87.4 774.5h1.1v1.1h-1.1zM89.7 785.2h1.1v1.1h-1.1zM90.5 782.3h1.1v1.1h-1.1zM93.6 784.6h1.1v1.1h-1.1zM97.7 800.2h1.1v1.1h-1.1zM95.2 785.5h1.1v1.1h-1.1zM85.8 786.8h1.1v1.1h-1.1zM85.1 783.7h1.1v1.1h-1.1zM94.4 781.0h1.1v1.1h-1.1zM92.2 783.6h1.1v1.1h-1.1zM89.7 782.5h1.1v1.1h-1.1zM88.3 781.2h1.1v1.1h-1.1zM89.6 781.3h1.1v1.1h-1.1zM89.4 789.7h1.1v1.1h-1.1zM86.4 781.3h1.1v1.1h-1.1zM94.7 782.1h1.1v1.1h-1.1zM104.6 780.1h1.1v1.1h-1.1zM87.3 783.6h1.1v1.1h-1.1zM83.1 777.9h1.1v1.1h-1.1zM89.4 779.2h1.1v1.1h-1.1zM84.8 788.9h1.1v1.1h-1.1zM106.0 776.7h1.1v1.1h-1.1zM121.1 768.2h1.1v1.1h-1.1zM117.7 788.4h1.1v1.1h-1.1zM112.6 756.4h1.1v1.1h-1.1zM125.6 764.1h1.1v1.1h-1.1zM99.5 781.4h1.1v1.1h-1.1zM88.8 785.8h1.1v1.1h-1.1zM121.2 759.9h1.1v1.1h-1.1zM118.2 776.4h1.1v1.1h-1.1zM124.4 762.2h1.1v1.1h-1.1zM118.7 786.0h1.1v1.1h-1.1zM105.2 770.2h1.1v1.1h-1.1zM121.0 759.1h1.1v1.1h-1.1zM118.7 773.7h1.1v1.1h-1.1zM117.5 784.4h1.1v1.1h-1.1zM105.0 766.9h1.1v1.1h-1.1zM101.7 770.2h1.1v1.1h-1.1zM110.3 758.0h1.1v1.1h-1.1zM108.2 760.8h1.1v1.1h-1.1zM104.4 772.5h1.1v1.1h-1.1zM91.4 786.2h1.1v1.1h-1.1zM107.2 775.3h1.1v1.1h-1.1zM109.1 754.1h1.1v1.1h-1.1zM122.8 763.6h1.1v1.1h-1.1zM117.0 780.2h1.1v1.1h-1.1zM103.6 784.1h1.1v1.1h-1.1zM106.6 772.5h1.1v1.1h-1.1zM121.6 763.6h1.1v1.1h-1.1zM107.0 773.7h1.1v1.1h-1.1zM104.2 782.6h1.1v1.1h-1.1zM115.5 779.9h1.1v1.1h-1.1zM107.2 771.6h1.1v1.1h-1.1zM121.1 769.1h1.1v1.1h-1.1zM90.4 790.1h1.1v1.1h-1.1zM118.4 755.7h1.1v1.1h-1.1zM117.5 753.4h1.1v1.1h-1.1zM84.8 788.0h1.1v1.1h-1.1zM107.4 777.1h1.1v1.1h-1.1zM105.8 765.9h1.1v1.1h-1.1zM108.1 756.6h1.1v1.1h-1.1zM116.6 780.8h1.1v1.1h-1.1zM124.5 758.1h1.1v1.1h-1.1zM122.4 756.5h1.1v1.1h-1.1zM118.5 756.9h1.1v1.1h-1.1zM91.6 789.4h1.1v1.1h-1.1zM92.0 787.4h1.1v1.1h-1.1zM86.6 791.8h1.1v1.1h-1.1zM105.2 769.6h1.1v1.1h-1.1zM106.6 774.3h1.1v1.1h-1.1zM105.7 768.1h1.1v1.1h-1.1zM108.2 758.0h1.1v1.1h-1.1zM116.9 787.7h1.1v1.1h-1.1zM119.3 756.4h1.1v1.1h-1.1zM106.1 767.3h1.1v1.1h-1.1zM120.9 777.5h1.1v1.1h-1.1zM105.5 763.7h1.1v1.1h-1.1zM105.5 779.0h1.1v1.1h-1.1zM117.5 787.0h1.1v1.1h-1.1zM120.2 769.0h1.1v1.1h-1.1zM120.0 787.6h1.1v1.1h-1.1zM102.0 779.5h1.1v1.1h-1.1zM125.4 789.0h1.1v1.1h-1.1zM122.9 767.2h1.1v1.1h-1.1zM123.2 751.8h1.1v1.1h-1.1zM104.7 778.3h1.1v1.1h-1.1zM104.7 776.1h1.1v1.1h-1.1zM127.8 788.9h1.1v1.1h-1.1zM117.5 777.7h1.1v1.1h-1.1zM120.1 755.0h1.1v1.1h-1.1zM111.6 757.0h1.1v1.1h-1.1zM115.2 782.2h1.1v1.1h-1.1zM90.5 785.3h1.1v1.1h-1.1zM120.6 755.4h1.1v1.1h-1.1zM126.2 789.3h1.1v1.1h-1.1zM104.7 759.5h1.1v1.1h-1.1zM99.9 785.4h1.1v1.1h-1.1zM124.0 788.3h1.1v1.1h-1.1zM98.9 783.2h1.1v1.1h-1.1zM126.2 792.3h1.1v1.1h-1.1zM124.3 791.2h1.1v1.1h-1.1zM119.5 787.7h1.1v1.1h-1.1zM117.4 783.0h1.1v1.1h-1.1zM121.4 773.3h1.1v1.1h-1.1zM96.8 784.4h1.1v1.1h-1.1zM93.4 782.0h1.1v1.1h-1.1zM121.7 769.3h1.1v1.1h-1.1zM98.0 785.9h1.1v1.1h-1.1zM98.9 783.2h1.1v1.1h-1.1zM127.5 792.6h1.1v1.1h-1.1zM120.1 755.1h1.1v1.1h-1.1zM93.3 788.2h1.1v1.1h-1.1zM109.8 755.2h1.1v1.1h-1.1zM116.0 780.0h1.1v1.1h-1.1zM100.2 785.1h1.1v1.1h-1.1zM116.1 781.0h1.1v1.1h-1.1zM121.4 789.0h1.1v1.1h-1.1zM119.4 777.4h1.1v1.1h-1.1zM118.0 776.0h1.1v1.1h-1.1zM102.2 780.6h1.1v1.1h-1.1zM121.1 761.8h1.1v1.1h-1.1zM122.9 764.6h1.1v1.1h-1.1zM121.5 757.3h1.1v1.1h-1.1zM121.5 772.0h1.1v1.1h-1.1zM121.9 788.3h1.1v1.1h-1.1zM106.8 763.6h1.1v1.1h-1.1zM107.7 764.9h1.1v1.1h-1.1zM109.6 758.7h1.1v1.1h-1.1zM117.8 775.2h1.1v1.1h-1.1zM95.9 787.2h1.1v1.1h-1.1zM115.5 781.7h1.1v1.1h-1.1zM113.0 754.8h1.1v1.1h-1.1zM118.8 774.7h1.1v1.1h-1.1zM113.4 755.8h1.1v1.1h-1.1zM120.7 772.2h1.1v1.1h-1.1zM104.6 770.8h1.1v1.1h-1.1zM123.1 766.6h1.1v1.1h-1.1zM123.9 790.6h1.1v1.1h-1.1zM104.7 778.0h1.1v1.1h-1.1zM86.0 789.0h1.1v1.1h-1.1zM116.0 777.0h1.1v1.1h-1.1zM105.0 764.0h1.1v1.1h-1.1zM101.3 768.4h1.1v1.1h-1.1zM119.5 753.2h1.1v1.1h-1.1zM110.0 756.6h1.1v1.1h-1.1zM105.9 762.2h1.1v1.1h-1.1zM125.0 785.7h1.1v1.1h-1.1zM118.2 777.0h1.1v1.1h-1.1zM99.5 784.4h1.1v1.1h-1.1zM119.6 773.9h1.1v1.1h-1.1zM123.1 768.6h1.1v1.1h-1.1zM94.5 786.1h1.1v1.1h-1.1zM120.3 776.7h1.1v1.1h-1.1zM107.2 774.1h1.1v1.1h-1.1zM102.2 782.9h1.1v1.1h-1.1zM96.8 784.6h1.1v1.1h-1.1zM119.0 780.9h1.1v1.1h-1.1zM116.8 787.0h1.1v1.1h-1.1zM117.8 782.9h1.1v1.1h-1.1zM118.1 788.3h1.1v1.1h-1.1zM126.3 791.5h1.1v1.1h-1.1zM103.0 781.8h1.1v1.1h-1.1zM112.0 754.9h1.1v1.1h-1.1zM126.4 756.8h1.1v1.1h-1.1zM99.7 784.1h1.1v1.1h-1.1zM122.8 772.0h1.1v1.1h-1.1zM97.9 785.5h1.1v1.1h-1.1zM92.2 782.7h1.1v1.1h-1.1zM120.4 772.7h1.1v1.1h-1.1zM116.8 783.0h1.1v1.1h-1.1zM127.4 791.1h1.1v1.1h-1.1zM126.3 791.8h1.1v1.1h-1.1zM121.4 765.9h1.1v1.1h-1.1zM126.3 790.9h1.1v1.1h-1.1zM105.7 761.4h1.1v1.1h-1.1zM116.8 782.4h1.1v1.1h-1.1zM89.4 784.5h1.1v1.1h-1.1zM100.8 783.0h1.1v1.1h-1.1zM118.6 753.0h1.1v1.1h-1.1zM107.6 763.5h1.1v1.1h-1.1zM106.2 769.2h1.1v1.1h-1.1zM120.4 780.6h1.1v1.1h-1.1zM121.6 789.6h1.1v1.1h-1.1zM117.7 781.9h1.1v1.1h-1.1zM94.5 788.1h1.1v1.1h-1.1zM119.9 782.5h1.1v1.1h-1.1zM88.6 781.9h1.1v1.1h-1.1zM108.9 759.2h1.1v1.1h-1.1zM107.2 765.3h1.1v1.1h-1.1zM120.8 768.2h1.1v1.1h-1.1zM104.1 764.2h1.1v1.1h-1.1zM115.4 779.9h1.1v1.1h-1.1zM122.6 789.8h1.1v1.1h-1.1zM99.2 786.3h1.1v1.1h-1.1zM107.5 776.2h1.1v1.1h-1.1zM98.6 765.2h1.1v1.1h-1.1zM112.2 756.7h1.1v1.1h-1.1zM114.5 754.0h1.1v1.1h-1.1zM122.4 800.5h1.1v1.1h-1.1zM117.6 753.9h1.1v1.1h-1.1zM117.4 786.0h1.1v1.1h-1.1zM125.0 763.6h1.1v1.1h-1.1zM101.7 783.9h1.1v1.1h-1.1zM90.8 786.5h1.1v1.1h-1.1zM119.4 784.8h1.1v1.1h-1.1zM122.7 790.7h1.1v1.1h-1.1zM102.5 763.2h1.1v1.1h-1.1zM116.7 753.7h1.1v1.1h-1.1zM103.6 781.0h1.1v1.1h-1.1zM109.5 758.6h1.1v1.1h-1.1zM112.2 756.6h1.1v1.1h-1.1zM122.7 770.0h1.1v1.1h-1.1zM117.0 787.9h1.1v1.1h-1.1zM120.8 769.6h1.1v1.1h-1.1zM108.3 760.2h1.1v1.1h-1.1zM106.5 768.7h1.1v1.1h-1.1zM123.3 757.4h1.1v1.1h-1.1zM111.2 756.1h1.1v1.1h-1.1zM126.8 765.7h1.1v1.1h-1.1zM90.1 788.0h1.1v1.1h-1.1zM121.2 762.7h1.1v1.1h-1.1zM118.7 754.9h1.1v1.1h-1.1zM89.0 787.4h1.1v1.1h-1.1zM121.2 772.0h1.1v1.1h-1.1zM99.8 783.5h1.1v1.1h-1.1zM119.7 772.5h1.1v1.1h-1.1zM97.2 785.7h1.1v1.1h-1.1zM121.0 757.4h1.1v1.1h-1.1zM123.3 762.3h1.1v1.1h-1.1zM125.0 790.5h1.1v1.1h-1.1zM105.9 773.7h1.1v1.1h-1.1zM112.5 753.5h1.1v1.1h-1.1zM121.8 757.3h1.1v1.1h-1.1zM106.4 772.7h1.1v1.1h-1.1zM104.6 767.7h1.1v1.1h-1.1zM116.5 786.7h1.1v1.1h-1.1zM123.2 772.4h1.1v1.1h-1.1zM104.3 782.7h1.1v1.1h-1.1zM98.7 783.8h1.1v1.1h-1.1zM97.0 785.3h1.1v1.1h-1.1zM118.2 773.5h1.1v1.1h-1.1zM91.2 785.0h1.1v1.1h-1.1zM105.5 779.4h1.1v1.1h-1.1zM116.8 782.9h1.1v1.1h-1.1zM103.3 783.0h1.1v1.1h-1.1zM117.3 786.2h1.1v1.1h-1.1zM117.5 756.4h1.1v1.1h-1.1zM104.5 752.9h1.1v1.1h-1.1zM118.0 779.4h1.1v1.1h-1.1zM124.1 790.2h1.1v1.1h-1.1zM107.9 761.3h1.1v1.1h-1.1zM117.9 780.6h1.1v1.1h-1.1zM117.9 781.9h1.1v1.1h-1.1zM124.4 788.6h1.1v1.1h-1.1zM125.4 789.1h1.1v1.1h-1.1zM88.0 788.9h1.1v1.1h-1.1zM103.6 756.6h1.1v1.1h-1.1zM121.3 769.8h1.1v1.1h-1.1zM113.0 756.3h1.1v1.1h-1.1zM105.8 761.4h1.1v1.1h-1.1zM117.2 784.0h1.1v1.1h-1.1zM116.1 783.8h1.1v1.1h-1.1zM123.7 760.3h1.1v1.1h-1.1zM95.1 787.7h1.1v1.1h-1.1zM115.6 779.0h1.1v1.1h-1.1zM95.9 785.8h1.1v1.1h-1.1zM113.0 755.9h1.1v1.1h-1.1zM115.3 753.8h1.1v1.1h-1.1zM122.1 789.5h1.1v1.1h-1.1zM119.4 774.7h1.1v1.1h-1.1zM120.7 789.9h1.1v1.1h-1.1zM126.0 789.7h1.1v1.1h-1.1zM107.6 775.9h1.1v1.1h-1.1zM93.2 788.7h1.1v1.1h-1.1zM106.4 774.9h1.1v1.1h-1.1zM112.6 754.6h1.1v1.1h-1.1zM95.4 787.4h1.1v1.1h-1.1zM106.6 772.6h1.1v1.1h-1.1zM122.0 769.0h1.1v1.1h-1.1zM104.8 771.3h1.1v1.1h-1.1zM94.8 787.4h1.1v1.1h-1.1zM109.6 758.9h1.1v1.1h-1.1zM123.6 766.1h1.1v1.1h-1.1zM117.6 784.3h1.1v1.1h-1.1zM105.8 777.0h1.1v1.1h-1.1zM123.5 762.1h1.1v1.1h-1.1zM108.0 761.5h1.1v1.1h-1.1zM105.4 772.1h1.1v1.1h-1.1zM117.2 756.8h1.1v1.1h-1.1zM90.7 787.0h1.1v1.1h-1.1zM107.8 759.8h1.1v1.1h-1.1zM117.1 779.5h1.1v1.1h-1.1zM102.1 765.0h1.1v1.1h-1.1zM125.1 759.2h1.1v1.1h-1.1zM113.9 755.5h1.1v1.1h-1.1zM107.2 765.4h1.1v1.1h-1.1zM116.9 754.1h1.1v1.1h-1.1zM102.9 780.1h1.1v1.1h-1.1zM104.5 770.3h1.1v1.1h-1.1zM116.7 780.0h1.1v1.1h-1.1z" fill="#333" fill-opacity="0.55"/>
<path d="M81.70 794.20 C82.65 793.43 86.60 791.95 89.20 790.80 C91.80 789.65 94.80 788.47 97.30 787.30 C99.80 786.13 102.47 785.53 104.20 783.80 C105.93 782.07 107.22 779.40 107.70 776.90 C108.18 774.40 107.00 771.30 107.10 768.80 C107.20 766.30 107.62 763.82 108.30 761.90 C108.98 759.98 109.95 758.25 111.20 757.30 C112.45 756.35 114.27 756.00 115.80 756.20 C117.33 756.40 119.45 757.17 120.40 758.50 C121.35 759.83 121.70 762.08 121.50 764.20 C121.30 766.32 120.25 768.88 119.20 771.20 C118.15 773.52 115.97 776.18 115.20 778.10 C114.43 780.02 114.32 780.97 114.60 782.70 C114.88 784.43 115.55 787.15 116.90 788.50 C118.25 789.85 120.87 789.93 122.70 790.80 C124.53 791.67 127.03 792.55 127.90 793.70 C128.77 794.85 129.15 796.75 127.90 797.70 C126.65 798.65 124.53 799.02 120.40 799.40 C116.27 799.78 107.92 800.18 103.10 800.00 C98.28 799.82 94.77 799.07 91.50 798.30 C88.23 797.53 85.13 796.08 83.50 795.40 C81.87 794.72 80.75 794.97 81.70 794.20Z" fill="none" stroke="#333" stroke-width="0.9"/>
<ellipse cx="108.30" cy="794.20" rx="8.70" ry="4.90" fill="none" stroke="#333" stroke-width="0.9"/>
<ellipse cx="142.50" cy="792.50" rx="2.00" ry="1.80" fill="none" stroke="#b0b0b0" stroke-width="0.8"/>
<ellipse cx="142.75" cy="792.15" rx="4.40" ry="3.75" fill="none" stroke="#b0b0b0" stroke-width="0.8"/>
<ellipse cx="143.00" cy="791.80" rx="6.80" ry="5.70" fill="none" stroke="#b0b0b0" stroke-width="0.8"/>
<ellipse cx="143.25" cy="791.45" rx="9.20" ry="7.65" fill="none" stroke="#b0b0b0" stroke-width="0.8"/>
<ellipse cx="143.50" cy="791.10" rx="11.60" ry="9.60" fill="none" stroke="#b0b0b0" stroke-width="0.8"/>
<ellipse cx="143.75" cy="790.75" rx="14.00" ry="11.55" fill="none" stroke="#b0b0b0" stroke-width="0.8"/>
<path d="M153.6 792.4h0.9v0.9h-0.9zM139.4 789.1h0.9v0.9h-0.9zM143.6 797.4h0.9v0.9h-0.9zM141.9 792.7h0.9v0.9h-0.9zM143.4 787.7h0.9v0.9h-0.9zM134.9 798.3h0.9v0.9h-0.9zM142.5 786.8h0.9v0.9h-0.9zM142.8 796.3h0.9v0.9h-0.9zM154.3 792.2h0.9v0.9h-0.9zM141.3 792.6h0.9v0.9h-0.9zM142.3 782.7h0.9v0.9h-0.9zM151.5 784.2h0.9v0.9h-0.9zM141.7 798.3h0.9v0.9h-0.9zM152.0 790.9h0.9v0.9h-0.9zM147.6 786.8h0.9v0.9h-0.9zM141.3 800.6h0.9v0.9h-0.9zM140.8 797.2h0.9v0.9h-0.9zM145.7 794.3h0.9v0.9h-0.9zM143.8 784.2h0.9v0.9h-0.9zM145.5 789.9h0.9v0.9h-0.9zM141.5 798.7h0.9v0.9h-0.9zM148.4 778.0h0.9v0.9h-0.9zM141.0 780.6h0.9v0.9h-0.9zM142.2 785.3h0.9v0.9h-0.9zM143.8 795.8h0.9v0.9h-0.9zM137.5 791.4h0.9v0.9h-0.9zM143.0 792.8h0.9v0.9h-0.9zM143.7 791.2h0.9v0.9h-0.9zM136.4 790.6h0.9v0.9h-0.9zM134.4 797.2h0.9v0.9h-0.9zM143.3 792.8h0.9v0.9h-0.9zM144.1 797.8h0.9v0.9h-0.9zM141.2 787.4h0.9v0.9h-0.9zM154.1 799.5h0.9v0.9h-0.9zM143.7 790.6h0.9v0.9h-0.9zM134.4 791.1h0.9v0.9h-0.9zM147.7 787.3h0.9v0.9h-0.9zM139.2 785.5h0.9v0.9h-0.9z" fill="#aaa" fill-opacity="0.6"/>
<rect x="128.40" y="771.60" width="32.60" height="33.40" fill="none" stroke="#444" stroke-width="1.1"/>
<text x="163.80" y="790.40" font-family="Liberation Sans, sans-serif" font-size="6.6" text-anchor="start" fill="#222">P3</text>
<path d="M104.0 861.7h1.1v1.1h-1.1zM139.5 878.1h1.1v1.1h-1.1zM123.5 940.5h1.1v1.1h-1.1zM94.7 899.3h1.1v1.1h-1.1zM92.8 913.7h1.1v1.1h-1.1zM153.0 902.6h1.1v1.1h-1.1zM157.0 866.0h1.1v1.1h-1.1zM142.4 897.2h1.1v1.1h-1.1zM138.0 904.6h1.1v1.1h-1.1zM131.8 892.6h1.1v1.1h-1.1zM125.7 906.9h1.1v1.1h-1.1zM96.0 893.0h1.1v1.1h-1.1zM164.0 940.5h1.1v1.1h-1.1zM100.4 901.7h1.1v1.1h-1.1zM159.7 876.6h1.1v1.1h-1.1zM95.2 899.1h1.1v1.1h-1.1zM157.0 892.6h1.1v1.1h-1.1zM164.7 871.6h1.1v1.1h-1.1zM134.0 906.9h1.1v1.1h-1.1zM163.8 942.2h1.1v1.1h-1.1zM112.6 870.0h1.1v1.1h-1.1zM147.7 869.0h1.1v1.1h-1.1zM146.9 903.3h1.1v1.1h-1.1zM143.2 905.6h1.1v1.1h-1.1zM143.0 882.5h1.1v1.1h-1.1zM161.7 879.7h1.1v1.1h-1.1zM105.6 862.6h1.1v1.1h-1.1zM148.1 864.4h1.1v1.1h-1.1zM97.2 891.8h1.1v1.1h-1.1zM103.5 884.9h1.1v1.1h-1.1zM83.5 909.4h1.1v1.1h-1.1zM97.9 899.6h1.1v1.1h-1.1zM102.8 905.4h1.1v1.1h-1.1zM92.0 885.9h1.1v1.1h-1.1zM119.5 908.2h1.1v1.1h-1.1zM101.3 900.3h1.1v1.1h-1.1zM100.0 908.6h1.1v1.1h-1.1zM100.1 897.1h1.1v1.1h-1.1zM113.7 921.8h1.1v1.1h-1.1zM86.7 887.2h1.1v1.1h-1.1zM100.8 901.9h1.1v1.1h-1.1zM102.0 890.4h1.1v1.1h-1.1zM101.1 895.7h1.1v1.1h-1.1zM86.3 884.1h1.1v1.1h-1.1zM101.3 914.5h1.1v1.1h-1.1zM121.4 904.9h1.1v1.1h-1.1zM100.5 915.3h1.1v1.1h-1.1zM98.5 865.2h1.1v1.1h-1.1zM92.2 902.7h1.1v1.1h-1.1zM97.9 913.0h1.1v1.1h-1.1zM101.7 910.2h1.1v1.1h-1.1zM115.1 922.9h1.1v1.1h-1.1zM111.9 872.1h1.1v1.1h-1.1zM89.1 885.0h1.1v1.1h-1.1zM100.0 921.6h1.1v1.1h-1.1zM117.4 925.3h1.1v1.1h-1.1zM93.8 889.0h1.1v1.1h-1.1zM118.2 920.1h1.1v1.1h-1.1zM101.5 892.4h1.1v1.1h-1.1zM94.0 907.5h1.1v1.1h-1.1zM95.5 901.0h1.1v1.1h-1.1zM120.2 931.0h1.1v1.1h-1.1zM102.4 911.8h1.1v1.1h-1.1zM93.4 916.5h1.1v1.1h-1.1zM90.2 882.4h1.1v1.1h-1.1zM81.0 862.2h1.1v1.1h-1.1zM105.1 881.9h1.1v1.1h-1.1zM103.6 916.4h1.1v1.1h-1.1zM120.6 913.6h1.1v1.1h-1.1zM127.5 924.0h1.1v1.1h-1.1zM102.1 885.3h1.1v1.1h-1.1zM92.6 907.6h1.1v1.1h-1.1zM87.8 884.3h1.1v1.1h-1.1zM122.4 889.4h1.1v1.1h-1.1zM115.3 920.7h1.1v1.1h-1.1zM100.3 905.3h1.1v1.1h-1.1zM96.8 902.1h1.1v1.1h-1.1zM94.5 909.7h1.1v1.1h-1.1zM113.2 918.5h1.1v1.1h-1.1zM95.4 906.7h1.1v1.1h-1.1zM104.3 875.1h1.1v1.1h-1.1zM121.2 910.6h1.1v1.1h-1.1zM121.3 905.3h1.1v1.1h-1.1zM97.9 904.0h1.1v1.1h-1.1zM93.9 917.3h1.1v1.1h-1.1zM84.4 896.0h1.1v1.1h-1.1zM105.9 882.6h1.1v1.1h-1.1zM97.3 895.9h1.1v1.1h-1.1zM81.4 897.4h1.1v1.1h-1.1zM99.3 908.9h1.1v1.1h-1.1zM96.7 900.8h1.1v1.1h-1.1zM100.0 884.0h1.1v1.1h-1.1zM100.9 922.9h1.1v1.1h-1.1zM108.2 880.4h1.1v1.1h-1.1zM90.7 923.1h1.1v1.1h-1.1zM106.5 881.6h1.1v1.1h-1.1zM95.1 895.1h1.1v1.1h-1.1zM95.6 916.0h1.1v1.1h-1.1zM97.1 917.9h1.1v1.1h-1.1zM101.9 902.4h1.1v1.1h-1.1zM92.4 908.6h1.1v1.1h-1.1zM87.8 898.8h1.1v1.1h-1.1zM100.7 893.8h1.1v1.1h-1.1zM99.4 912.5h1.1v1.1h-1.1zM92.9 906.6h1.1v1.1h-1.1zM93.1 920.2h1.1v1.1h-1.1zM100.7 879.2h1.1v1.1h-1.1zM89.5 914.2h1.1v1.1h-1.1zM125.7 902.7h1.1v1.1h-1.1zM87.9 898.2h1.1v1.1h-1.1zM95.2 888.1h1.1v1.1h-1.1zM97.7 901.6h1.1v1.1h-1.1zM119.7 886.9h1.1v1.1h-1.1zM103.2 907.7h1.1v1.1h-1.1zM98.0 871.5h1.1v1.1h-1.1zM122.1 914.7h1.1v1.1h-1.1zM120.2 897.7h1.1v1.1h-1.1zM108.3 873.1h1.1v1.1h-1.1zM98.9 912.0h1.1v1.1h-1.1zM120.2 908.7h1.1v1.1h-1.1zM87.1 889.4h1.1v1.1h-1.1zM111.4 874.9h1.1v1.1h-1.1zM96.1 891.8h1.1v1.1h-1.1zM112.0 877.4h1.1v1.1h-1.1zM102.1 916.0h1.1v1.1h-1.1zM108.0 877.6h1.1v1.1h-1.1zM118.7 880.8h1.1v1.1h-1.1zM91.5 903.3h1.1v1.1h-1.1zM86.4 888.5h1.1v1.1h-1.1zM102.8 883.1h1.1v1.1h-1.1zM126.0 903.7h1.1v1.1h-1.1zM115.2 915.2h1.1v1.1h-1.1zM110.5 878.1h1.1v1.1h-1.1zM85.8 907.5h1.1v1.1h-1.1zM91.9 914.1h1.1v1.1h-1.1zM101.9 865.0h1.1v1.1h-1.1zM100.9 882.9h1.1v1.1h-1.1zM98.0 885.1h1.1v1.1h-1.1zM100.9 887.5h1.1v1.1h-1.1zM95.4 889.7h1.1v1.1h-1.1zM84.8 913.0h1.1v1.1h-1.1zM84.7 903.7h1.1v1.1h-1.1zM100.2 919.7h1.1v1.1h-1.1zM96.0 903.6h1.1v1.1h-1.1zM99.2 900.6h1.1v1.1h-1.1zM118.1 906.9h1.1v1.1h-1.1zM98.1 903.6h1.1v1.1h-1.1zM91.2 909.6h1.1v1.1h-1.1zM89.9 896.7h1.1v1.1h-1.1zM83.2 891.2h1.1v1.1h-1.1zM99.1 918.4h1.1v1.1h-1.1zM92.9 921.7h1.1v1.1h-1.1zM101.7 893.8h1.1v1.1h-1.1zM91.4 918.4h1.1v1.1h-1.1zM105.5 878.1h1.1v1.1h-1.1zM104.3 913.0h1.1v1.1h-1.1zM89.1 895.8h1.1v1.1h-1.1zM96.4 887.7h1.1v1.1h-1.1zM96.4 888.9h1.1v1.1h-1.1zM124.2 882.6h1.1v1.1h-1.1zM126.3 887.1h1.1v1.1h-1.1zM98.6 912.6h1.1v1.1h-1.1zM102.1 917.7h1.1v1.1h-1.1zM101.2 895.8h1.1v1.1h-1.1zM98.2 859.1h1.1v1.1h-1.1zM102.4 863.9h1.1v1.1h-1.1zM117.8 913.7h1.1v1.1h-1.1zM102.3 893.7h1.1v1.1h-1.1zM100.2 901.5h1.1v1.1h-1.1zM93.7 896.7h1.1v1.1h-1.1zM102.0 909.1h1.1v1.1h-1.1zM103.7 865.1h1.1v1.1h-1.1zM97.8 918.3h1.1v1.1h-1.1zM101.8 896.4h1.1v1.1h-1.1zM101.6 901.0h1.1v1.1h-1.1zM99.2 909.1h1.1v1.1h-1.1zM118.4 913.9h1.1v1.1h-1.1zM102.0 885.4h1.1v1.1h-1.1zM102.4 911.3h1.1v1.1h-1.1zM86.9 891.0h1.1v1.1h-1.1zM89.4 896.8h1.1v1.1h-1.1zM104.5 914.2h1.1v1.1h-1.1zM123.4 906.4h1.1v1.1h-1.1zM100.1 903.2h1.1v1.1h-1.1zM90.3 909.4h1.1v1.1h-1.1zM105.0 885.0h1.1v1.1h-1.1zM119.3 918.6h1.1v1.1h-1.1zM126.7 894.9h1.1v1.1h-1.1zM88.5 899.6h1.1v1.1h-1.1zM98.5 914.6h1.1v1.1h-1.1zM120.2 903.8h1.1v1.1h-1.1zM121.5 898.2h1.1v1.1h-1.1zM103.1 909.3h1.1v1.1h-1.1zM133.1 874.1h1.1v1.1h-1.1zM101.3 916.2h1.1v1.1h-1.1zM120.0 926.9h1.1v1.1h-1.1zM102.4 888.7h1.1v1.1h-1.1zM101.6 907.2h1.1v1.1h-1.1zM101.9 899.6h1.1v1.1h-1.1zM95.0 897.1h1.1v1.1h-1.1zM90.2 903.6h1.1v1.1h-1.1zM103.8 920.7h1.1v1.1h-1.1zM101.5 914.4h1.1v1.1h-1.1zM101.6 921.3h1.1v1.1h-1.1zM99.0 864.9h1.1v1.1h-1.1zM86.9 904.9h1.1v1.1h-1.1zM104.1 913.2h1.1v1.1h-1.1zM102.2 898.2h1.1v1.1h-1.1zM116.2 910.5h1.1v1.1h-1.1zM102.1 911.4h1.1v1.1h-1.1zM93.9 917.4h1.1v1.1h-1.1zM81.5 898.0h1.1v1.1h-1.1zM95.4 903.8h1.1v1.1h-1.1zM133.6 859.2h1.1v1.1h-1.1zM102.5 901.8h1.1v1.1h-1.1zM104.0 871.6h1.1v1.1h-1.1zM100.8 889.7h1.1v1.1h-1.1zM125.8 880.9h1.1v1.1h-1.1zM94.4 922.7h1.1v1.1h-1.1zM116.4 925.1h1.1v1.1h-1.1zM98.9 898.6h1.1v1.1h-1.1zM119.5 888.1h1.1v1.1h-1.1zM100.5 900.0h1.1v1.1h-1.1zM102.2 859.9h1.1v1.1h-1.1zM101.5 913.7h1.1v1.1h-1.1zM104.1 919.3h1.1v1.1h-1.1zM101.7 908.6h1.1v1.1h-1.1zM110.6 875.2h1.1v1.1h-1.1zM100.8 864.4h1.1v1.1h-1.1zM98.0 896.0h1.1v1.1h-1.1zM88.0 886.0h1.1v1.1h-1.1zM115.1 914.6h1.1v1.1h-1.1zM100.3 925.5h1.1v1.1h-1.1zM113.4 875.0h1.1v1.1h-1.1zM93.7 900.5h1.1v1.1h-1.1zM85.4 864.3h1.1v1.1h-1.1zM104.8 949.2h1.1v1.1h-1.1zM94.3 907.9h1.1v1.1h-1.1zM121.5 871.2h1.1v1.1h-1.1zM99.5 906.8h1.1v1.1h-1.1zM103.5 910.3h1.1v1.1h-1.1zM129.3 909.0h1.1v1.1h-1.1zM112.8 863.5h1.1v1.1h-1.1zM114.8 864.4h1.1v1.1h-1.1zM95.9 901.3h1.1v1.1h-1.1zM85.4 933.3h1.1v1.1h-1.1zM99.0 895.8h1.1v1.1h-1.1zM91.8 905.7h1.1v1.1h-1.1zM94.4 891.6h1.1v1.1h-1.1zM117.7 919.1h1.1v1.1h-1.1zM112.5 871.0h1.1v1.1h-1.1zM119.0 924.1h1.1v1.1h-1.1zM90.9 895.8h1.1v1.1h-1.1zM102.9 891.2h1.1v1.1h-1.1zM104.5 885.4h1.1v1.1h-1.1zM95.0 892.2h1.1v1.1h-1.1zM102.4 890.1h1.1v1.1h-1.1zM108.0 880.3h1.1v1.1h-1.1zM90.0 917.1h1.1v1.1h-1.1zM122.8 884.4h1.1v1.1h-1.1zM83.4 912.1h1.1v1.1h-1.1zM101.0 897.9h1.1v1.1h-1.1zM96.5 889.1h1.1v1.1h-1.1zM83.2 910.6h1.1v1.1h-1.1zM123.0 916.5h1.1v1.1h-1.1zM125.4 897.4h1.1v1.1h-1.1zM116.9 920.3h1.1v1.1h-1.1zM100.4 888.2h1.1v1.1h-1.1zM88.5 913.9h1.1v1.1h-1.1zM90.5 887.9h1.1v1.1h-1.1zM108.2 859.5h1.1v1.1h-1.1zM120.4 913.3h1.1v1.1h-1.1zM96.4 907.3h1.1v1.1h-1.1zM118.3 914.2h1.1v1.1h-1.1zM124.3 910.2h1.1v1.1h-1.1zM102.7 908.2h1.1v1.1h-1.1zM135.9 902.9h1.1v1.1h-1.1zM103.9 868.2h1.1v1.1h-1.1zM108.8 870.6h1.1v1.1h-1.1zM87.9 908.0h1.1v1.1h-1.1zM103.0 912.3h1.1v1.1h-1.1zM109.4 873.3h1.1v1.1h-1.1zM101.3 866.6h1.1v1.1h-1.1zM103.0 868.0h1.1v1.1h-1.1zM116.9 876.9h1.1v1.1h-1.1zM129.3 868.5h1.1v1.1h-1.1zM130.7 869.7h1.1v1.1h-1.1zM111.3 871.8h1.1v1.1h-1.1zM117.6 859.7h1.1v1.1h-1.1zM114.6 872.5h1.1v1.1h-1.1zM117.2 866.8h1.1v1.1h-1.1zM122.2 876.9h1.1v1.1h-1.1zM101.7 864.5h1.1v1.1h-1.1zM130.8 865.9h1.1v1.1h-1.1zM111.9 862.7h1.1v1.1h-1.1zM103.3 868.7h1.1v1.1h-1.1zM136.3 865.6h1.1v1.1h-1.1zM104.2 871.6h1.1v1.1h-1.1zM112.8 866.0h1.1v1.1h-1.1zM105.8 871.6h1.1v1.1h-1.1zM125.0 872.7h1.1v1.1h-1.1zM86.4 872.4h1.1v1.1h-1.1zM116.5 872.3h1.1v1.1h-1.1zM97.2 870.5h1.1v1.1h-1.1zM128.7 865.1h1.1v1.1h-1.1zM134.1 858.1h1.1v1.1h-1.1zM121.8 872.1h1.1v1.1h-1.1zM105.3 861.6h1.1v1.1h-1.1zM124.8 872.1h1.1v1.1h-1.1zM135.1 869.7h1.1v1.1h-1.1zM115.7 869.7h1.1v1.1h-1.1zM109.4 870.0h1.1v1.1h-1.1zM127.8 873.5h1.1v1.1h-1.1zM99.8 864.2h1.1v1.1h-1.1zM110.2 871.9h1.1v1.1h-1.1zM112.6 876.5h1.1v1.1h-1.1zM114.4 874.7h1.1v1.1h-1.1zM124.2 876.6h1.1v1.1h-1.1zM111.7 868.3h1.1v1.1h-1.1zM102.1 869.5h1.1v1.1h-1.1zM99.1 881.2h1.1v1.1h-1.1zM111.7 873.0h1.1v1.1h-1.1zM117.8 871.6h1.1v1.1h-1.1zM122.8 876.0h1.1v1.1h-1.1zM119.3 864.8h1.1v1.1h-1.1zM99.3 869.2h1.1v1.1h-1.1zM118.8 872.7h1.1v1.1h-1.1zM106.5 869.6h1.1v1.1h-1.1zM126.1 879.1h1.1v1.1h-1.1zM110.1 872.6h1.1v1.1h-1.1zM110.3 875.3h1.1v1.1h-1.1zM107.6 865.1h1.1v1.1h-1.1zM122.9 869.9h1.1v1.1h-1.1zM112.0 869.9h1.1v1.1h-1.1zM140.7 873.1h1.1v1.1h-1.1zM124.8 872.9h1.1v1.1h-1.1zM101.4 870.0h1.1v1.1h-1.1zM112.8 873.5h1.1v1.1h-1.1zM123.6 882.6h1.1v1.1h-1.1zM121.1 870.2h1.1v1.1h-1.1zM119.3 866.1h1.1v1.1h-1.1zM115.7 877.3h1.1v1.1h-1.1zM97.8 878.9h1.1v1.1h-1.1zM98.2 871.2h1.1v1.1h-1.1zM121.3 875.8h1.1v1.1h-1.1zM106.9 857.8h1.1v1.1h-1.1zM113.4 872.9h1.1v1.1h-1.1zM119.6 869.0h1.1v1.1h-1.1zM94.3 883.3h1.1v1.1h-1.1zM94.3 871.4h1.1v1.1h-1.1zM91.6 920.0h1.1v1.1h-1.1zM90.9 925.3h1.1v1.1h-1.1zM88.9 917.0h1.1v1.1h-1.1zM83.8 937.8h1.1v1.1h-1.1zM88.6 926.0h1.1v1.1h-1.1zM101.9 919.8h1.1v1.1h-1.1zM80.9 931.3h1.1v1.1h-1.1zM93.9 917.0h1.1v1.1h-1.1zM95.2 927.0h1.1v1.1h-1.1zM97.3 923.6h1.1v1.1h-1.1zM88.8 905.3h1.1v1.1h-1.1zM90.8 926.2h1.1v1.1h-1.1zM92.1 926.2h1.1v1.1h-1.1zM83.8 921.2h1.1v1.1h-1.1zM83.2 932.6h1.1v1.1h-1.1zM82.8 928.4h1.1v1.1h-1.1zM100.4 918.7h1.1v1.1h-1.1zM86.0 925.3h1.1v1.1h-1.1zM84.1 928.2h1.1v1.1h-1.1zM92.7 928.4h1.1v1.1h-1.1zM89.3 929.1h1.1v1.1h-1.1zM87.4 930.5h1.1v1.1h-1.1zM94.1 929.1h1.1v1.1h-1.1zM85.6 918.0h1.1v1.1h-1.1zM85.8 930.4h1.1v1.1h-1.1zM94.9 925.4h1.1v1.1h-1.1zM102.0 913.3h1.1v1.1h-1.1zM94.3 927.4h1.1v1.1h-1.1zM99.1 910.9h1.1v1.1h-1.1zM95.4 926.1h1.1v1.1h-1.1zM95.0 923.4h1.1v1.1h-1.1zM95.6 924.9h1.1v1.1h-1.1zM87.9 922.3h1.1v1.1h-1.1zM96.4 925.9h1.1v1.1h-1.1zM92.1 932.2h1.1v1.1h-1.1zM96.2 928.1h1.1v1.1h-1.1zM100.5 927.2h1.1v1.1h-1.1zM90.0 932.0h1.1v1.1h-1.1zM86.3 935.6h1.1v1.1h-1.1zM92.9 929.0h1.1v1.1h-1.1zM104.1 924.5h1.1v1.1h-1.1zM95.6 921.6h1.1v1.1h-1.1zM88.2 934.4h1.1v1.1h-1.1zM93.4 922.4h1.1v1.1h-1.1zM100.2 916.8h1.1v1.1h-1.1zM94.0 928.2h1.1v1.1h-1.1zM87.9 931.6h1.1v1.1h-1.1zM96.2 921.3h1.1v1.1h-1.1zM83.3 929.8h1.1v1.1h-1.1zM84.2 935.8h1.1v1.1h-1.1zM87.3 934.7h1.1v1.1h-1.1zM137.2 898.6h1.1v1.1h-1.1zM120.3 918.4h1.1v1.1h-1.1zM139.5 912.5h1.1v1.1h-1.1zM119.7 913.2h1.1v1.1h-1.1zM124.6 893.0h1.1v1.1h-1.1zM132.4 910.2h1.1v1.1h-1.1zM123.4 911.0h1.1v1.1h-1.1zM127.8 911.7h1.1v1.1h-1.1zM141.8 899.7h1.1v1.1h-1.1zM125.6 894.3h1.1v1.1h-1.1zM122.8 915.4h1.1v1.1h-1.1zM118.9 921.7h1.1v1.1h-1.1zM160.0 896.9h1.1v1.1h-1.1zM127.3 904.9h1.1v1.1h-1.1zM132.1 915.2h1.1v1.1h-1.1zM126.1 900.5h1.1v1.1h-1.1zM122.8 917.7h1.1v1.1h-1.1zM128.0 883.5h1.1v1.1h-1.1zM124.0 869.6h1.1v1.1h-1.1zM132.2 879.2h1.1v1.1h-1.1zM127.6 898.0h1.1v1.1h-1.1zM145.7 902.5h1.1v1.1h-1.1zM126.6 899.8h1.1v1.1h-1.1zM128.2 903.8h1.1v1.1h-1.1zM143.9 915.6h1.1v1.1h-1.1zM139.6 893.6h1.1v1.1h-1.1zM123.6 907.6h1.1v1.1h-1.1zM120.5 914.8h1.1v1.1h-1.1zM135.5 894.0h1.1v1.1h-1.1zM120.5 910.3h1.1v1.1h-1.1zM134.3 894.8h1.1v1.1h-1.1zM147.3 899.6h1.1v1.1h-1.1zM140.0 889.1h1.1v1.1h-1.1zM133.0 909.5h1.1v1.1h-1.1zM126.3 901.5h1.1v1.1h-1.1zM136.6 864.3h1.1v1.1h-1.1zM129.6 883.2h1.1v1.1h-1.1zM136.4 893.0h1.1v1.1h-1.1zM141.5 907.3h1.1v1.1h-1.1zM133.5 890.1h1.1v1.1h-1.1zM136.8 905.9h1.1v1.1h-1.1zM129.2 894.2h1.1v1.1h-1.1zM125.4 903.4h1.1v1.1h-1.1zM146.9 912.4h1.1v1.1h-1.1zM131.0 913.5h1.1v1.1h-1.1zM131.0 878.5h1.1v1.1h-1.1zM126.4 889.8h1.1v1.1h-1.1zM128.8 906.1h1.1v1.1h-1.1zM128.8 897.6h1.1v1.1h-1.1zM130.8 889.4h1.1v1.1h-1.1zM116.9 908.4h1.1v1.1h-1.1zM125.6 906.3h1.1v1.1h-1.1zM128.4 912.4h1.1v1.1h-1.1zM126.1 894.9h1.1v1.1h-1.1zM138.9 914.2h1.1v1.1h-1.1zM131.4 902.6h1.1v1.1h-1.1zM138.9 903.8h1.1v1.1h-1.1zM134.0 914.3h1.1v1.1h-1.1zM109.5 878.0h1.1v1.1h-1.1zM136.5 877.4h1.1v1.1h-1.1zM146.2 884.4h1.1v1.1h-1.1zM133.2 911.9h1.1v1.1h-1.1zM131.2 901.8h1.1v1.1h-1.1zM120.3 892.5h1.1v1.1h-1.1zM134.2 885.8h1.1v1.1h-1.1zM121.5 876.8h1.1v1.1h-1.1zM134.0 899.8h1.1v1.1h-1.1zM140.0 905.4h1.1v1.1h-1.1zM128.9 912.6h1.1v1.1h-1.1zM130.0 904.0h1.1v1.1h-1.1zM125.1 918.7h1.1v1.1h-1.1zM147.6 894.5h1.1v1.1h-1.1zM128.4 905.9h1.1v1.1h-1.1zM128.8 892.7h1.1v1.1h-1.1zM133.1 902.5h1.1v1.1h-1.1zM126.3 882.9h1.1v1.1h-1.1zM122.9 891.8h1.1v1.1h-1.1zM134.8 894.3h1.1v1.1h-1.1zM130.5 902.4h1.1v1.1h-1.1zM128.6 897.2h1.1v1.1h-1.1zM127.6 909.1h1.1v1.1h-1.1zM133.1 893.1h1.1v1.1h-1.1zM134.0 884.8h1.1v1.1h-1.1zM148.3 897.9h1.1v1.1h-1.1zM137.9 896.6h1.1v1.1h-1.1zM140.0 909.2h1.1v1.1h-1.1zM127.2 918.0h1.1v1.1h-1.1zM131.7 893.8h1.1v1.1h-1.1zM125.0 914.9h1.1v1.1h-1.1zM124.8 886.1h1.1v1.1h-1.1zM153.2 879.9h1.1v1.1h-1.1zM138.6 893.0h1.1v1.1h-1.1zM135.7 903.3h1.1v1.1h-1.1zM137.0 894.8h1.1v1.1h-1.1zM139.6 884.5h1.1v1.1h-1.1zM130.9 909.4h1.1v1.1h-1.1zM131.1 886.2h1.1v1.1h-1.1zM137.9 913.0h1.1v1.1h-1.1zM147.6 879.9h1.1v1.1h-1.1zM132.5 913.9h1.1v1.1h-1.1zM115.2 911.1h1.1v1.1h-1.1zM139.4 906.9h1.1v1.1h-1.1zM133.7 914.1h1.1v1.1h-1.1zM123.9 897.0h1.1v1.1h-1.1zM123.4 899.0h1.1v1.1h-1.1zM100.3 915.5h1.1v1.1h-1.1zM124.0 885.6h1.1v1.1h-1.1zM129.5 896.1h1.1v1.1h-1.1zM136.7 896.8h1.1v1.1h-1.1zM131.2 896.6h1.1v1.1h-1.1zM121.9 895.9h1.1v1.1h-1.1zM127.6 866.4h1.1v1.1h-1.1zM132.1 899.4h1.1v1.1h-1.1zM137.5 903.4h1.1v1.1h-1.1zM134.6 916.5h1.1v1.1h-1.1zM140.1 910.3h1.1v1.1h-1.1zM133.7 895.8h1.1v1.1h-1.1zM134.6 886.8h1.1v1.1h-1.1zM122.4 894.6h1.1v1.1h-1.1zM133.7 891.2h1.1v1.1h-1.1zM126.6 914.3h1.1v1.1h-1.1zM119.7 904.7h1.1v1.1h-1.1zM118.9 907.6h1.1v1.1h-1.1zM137.1 894.4h1.1v1.1h-1.1zM137.5 897.3h1.1v1.1h-1.1zM142.6 906.5h1.1v1.1h-1.1zM139.2 888.6h1.1v1.1h-1.1zM136.6 906.6h1.1v1.1h-1.1zM121.2 911.4h1.1v1.1h-1.1zM129.8 891.6h1.1v1.1h-1.1zM129.1 899.5h1.1v1.1h-1.1zM151.8 887.9h1.1v1.1h-1.1zM123.2 922.1h1.1v1.1h-1.1zM119.1 905.7h1.1v1.1h-1.1zM121.9 914.5h1.1v1.1h-1.1zM141.9 896.7h1.1v1.1h-1.1zM125.6 887.7h1.1v1.1h-1.1zM139.2 898.4h1.1v1.1h-1.1zM126.8 918.6h1.1v1.1h-1.1zM116.6 910.4h1.1v1.1h-1.1zM127.5 899.6h1.1v1.1h-1.1zM137.8 905.4h1.1v1.1h-1.1zM129.6 914.7h1.1v1.1h-1.1zM123.0 886.0h1.1v1.1h-1.1zM146.1 912.0h1.1v1.1h-1.1zM123.5 903.6h1.1v1.1h-1.1zM143.2 910.0h1.1v1.1h-1.1zM148.8 903.9h1.1v1.1h-1.1zM131.8 901.4h1.1v1.1h-1.1zM119.5 917.7h1.1v1.1h-1.1zM123.4 895.4h1.1v1.1h-1.1zM119.7 910.2h1.1v1.1h-1.1zM92.6 928.1h1.1v1.1h-1.1zM121.2 882.5h1.1v1.1h-1.1zM99.4 949.1h1.1v1.1h-1.1zM118.7 904.0h1.1v1.1h-1.1zM89.0 930.4h1.1v1.1h-1.1zM101.0 925.7h1.1v1.1h-1.1zM101.7 924.0h1.1v1.1h-1.1zM116.0 916.7h1.1v1.1h-1.1zM93.6 931.5h1.1v1.1h-1.1zM101.8 947.3h1.1v1.1h-1.1zM121.3 891.2h1.1v1.1h-1.1zM117.1 879.1h1.1v1.1h-1.1zM113.5 877.7h1.1v1.1h-1.1zM116.7 908.1h1.1v1.1h-1.1zM117.4 912.4h1.1v1.1h-1.1zM123.7 902.3h1.1v1.1h-1.1zM117.5 927.8h1.1v1.1h-1.1zM98.8 898.1h1.1v1.1h-1.1zM122.4 939.5h1.1v1.1h-1.1zM103.3 912.4h1.1v1.1h-1.1zM121.1 940.0h1.1v1.1h-1.1zM103.0 903.8h1.1v1.1h-1.1zM103.0 889.1h1.1v1.1h-1.1zM102.4 896.2h1.1v1.1h-1.1zM118.6 902.9h1.1v1.1h-1.1zM104.6 917.6h1.1v1.1h-1.1zM98.5 927.4h1.1v1.1h-1.1zM121.5 943.1h1.1v1.1h-1.1zM83.6 938.2h1.1v1.1h-1.1zM109.2 879.9h1.1v1.1h-1.1zM101.6 907.0h1.1v1.1h-1.1zM119.3 905.5h1.1v1.1h-1.1zM99.9 901.9h1.1v1.1h-1.1zM112.4 949.5h1.1v1.1h-1.1zM89.3 926.3h1.1v1.1h-1.1zM98.6 880.8h1.1v1.1h-1.1zM118.5 903.1h1.1v1.1h-1.1zM121.6 899.7h1.1v1.1h-1.1zM100.1 896.3h1.1v1.1h-1.1zM116.7 911.5h1.1v1.1h-1.1zM120.9 899.5h1.1v1.1h-1.1zM102.6 889.1h1.1v1.1h-1.1zM119.6 900.1h1.1v1.1h-1.1zM107.7 878.8h1.1v1.1h-1.1zM116.5 915.0h1.1v1.1h-1.1zM90.3 931.1h1.1v1.1h-1.1zM117.8 923.8h1.1v1.1h-1.1zM105.9 882.8h1.1v1.1h-1.1zM120.8 902.3h1.1v1.1h-1.1zM121.7 890.6h1.1v1.1h-1.1zM114.0 915.2h1.1v1.1h-1.1zM121.8 900.8h1.1v1.1h-1.1zM122.0 942.4h1.1v1.1h-1.1zM118.3 928.9h1.1v1.1h-1.1zM88.7 932.6h1.1v1.1h-1.1zM119.4 924.9h1.1v1.1h-1.1zM107.2 876.1h1.1v1.1h-1.1zM104.2 951.2h1.1v1.1h-1.1zM104.1 880.5h1.1v1.1h-1.1zM92.8 931.3h1.1v1.1h-1.1zM120.2 940.6h1.1v1.1h-1.1zM124.2 935.2h1.1v1.1h-1.1zM103.9 881.8h1.1v1.1h-1.1zM91.9 929.6h1.1v1.1h-1.1zM116.6 925.4h1.1v1.1h-1.1zM119.7 890.0h1.1v1.1h-1.1zM121.0 932.3h1.1v1.1h-1.1zM103.2 911.6h1.1v1.1h-1.1zM102.7 915.2h1.1v1.1h-1.1zM93.7 946.9h1.1v1.1h-1.1zM119.4 879.7h1.1v1.1h-1.1zM114.6 877.8h1.1v1.1h-1.1zM103.4 907.4h1.1v1.1h-1.1zM122.9 944.5h1.1v1.1h-1.1zM104.0 913.4h1.1v1.1h-1.1zM116.0 911.5h1.1v1.1h-1.1zM112.5 920.4h1.1v1.1h-1.1zM116.8 878.8h1.1v1.1h-1.1zM113.8 950.0h1.1v1.1h-1.1zM122.2 941.8h1.1v1.1h-1.1zM115.9 947.7h1.1v1.1h-1.1zM102.4 887.0h1.1v1.1h-1.1zM104.7 880.8h1.1v1.1h-1.1zM101.2 924.7h1.1v1.1h-1.1zM111.0 874.5h1.1v1.1h-1.1zM116.2 947.8h1.1v1.1h-1.1zM106.8 878.6h1.1v1.1h-1.1zM103.5 947.7h1.1v1.1h-1.1zM105.5 882.3h1.1v1.1h-1.1zM106.9 880.8h1.1v1.1h-1.1zM89.0 931.3h1.1v1.1h-1.1zM124.3 933.4h1.1v1.1h-1.1zM114.0 921.7h1.1v1.1h-1.1zM121.9 892.4h1.1v1.1h-1.1zM96.2 927.3h1.1v1.1h-1.1zM102.8 907.7h1.1v1.1h-1.1zM87.5 947.2h1.1v1.1h-1.1zM102.7 924.4h1.1v1.1h-1.1zM123.4 938.3h1.1v1.1h-1.1zM116.8 910.3h1.1v1.1h-1.1zM101.1 905.6h1.1v1.1h-1.1zM119.2 881.6h1.1v1.1h-1.1zM103.2 908.3h1.1v1.1h-1.1zM89.8 946.5h1.1v1.1h-1.1zM116.1 917.3h1.1v1.1h-1.1zM125.8 904.4h1.1v1.1h-1.1zM119.9 932.9h1.1v1.1h-1.1zM103.1 922.4h1.1v1.1h-1.1zM118.3 928.6h1.1v1.1h-1.1zM103.3 883.5h1.1v1.1h-1.1zM102.4 913.1h1.1v1.1h-1.1zM121.1 943.5h1.1v1.1h-1.1zM118.5 928.4h1.1v1.1h-1.1zM121.6 897.9h1.1v1.1h-1.1zM117.4 927.6h1.1v1.1h-1.1zM101.7 921.8h1.1v1.1h-1.1zM114.9 875.7h1.1v1.1h-1.1zM87.7 932.7h1.1v1.1h-1.1zM111.3 947.3h1.1v1.1h-1.1zM98.6 946.9h1.1v1.1h-1.1zM121.0 883.6h1.1v1.1h-1.1zM110.5 873.0h1.1v1.1h-1.1zM115.6 921.1h1.1v1.1h-1.1zM114.1 948.1h1.1v1.1h-1.1zM102.2 902.9h1.1v1.1h-1.1zM119.5 903.3h1.1v1.1h-1.1zM101.7 900.6h1.1v1.1h-1.1zM120.1 897.5h1.1v1.1h-1.1zM121.6 900.2h1.1v1.1h-1.1zM108.6 880.4h1.1v1.1h-1.1zM124.6 884.6h1.1v1.1h-1.1zM120.6 903.2h1.1v1.1h-1.1zM123.3 892.6h1.1v1.1h-1.1zM123.9 902.9h1.1v1.1h-1.1zM115.0 918.6h1.1v1.1h-1.1zM121.5 936.1h1.1v1.1h-1.1zM102.3 891.0h1.1v1.1h-1.1zM116.8 878.6h1.1v1.1h-1.1zM119.9 879.3h1.1v1.1h-1.1zM124.7 931.2h1.1v1.1h-1.1zM119.9 887.2h1.1v1.1h-1.1zM119.4 944.9h1.1v1.1h-1.1zM121.3 940.1h1.1v1.1h-1.1zM120.7 891.1h1.1v1.1h-1.1zM126.7 898.6h1.1v1.1h-1.1zM121.2 887.0h1.1v1.1h-1.1zM119.8 945.1h1.1v1.1h-1.1zM120.8 886.6h1.1v1.1h-1.1zM88.1 932.5h1.1v1.1h-1.1zM82.8 930.0h1.1v1.1h-1.1zM113.1 951.2h1.1v1.1h-1.1zM103.6 919.1h1.1v1.1h-1.1zM116.7 878.1h1.1v1.1h-1.1zM83.0 940.5h1.1v1.1h-1.1zM114.4 948.2h1.1v1.1h-1.1zM121.8 893.6h1.1v1.1h-1.1zM104.8 880.9h1.1v1.1h-1.1zM113.7 919.6h1.1v1.1h-1.1zM119.6 946.4h1.1v1.1h-1.1zM100.1 907.2h1.1v1.1h-1.1zM121.1 946.5h1.1v1.1h-1.1zM117.3 948.9h1.1v1.1h-1.1zM102.0 889.2h1.1v1.1h-1.1zM115.2 920.2h1.1v1.1h-1.1zM99.8 890.3h1.1v1.1h-1.1zM122.4 943.7h1.1v1.1h-1.1zM91.2 947.5h1.1v1.1h-1.1zM120.9 881.1h1.1v1.1h-1.1zM102.6 913.0h1.1v1.1h-1.1zM99.8 900.9h1.1v1.1h-1.1zM118.3 911.5h1.1v1.1h-1.1zM123.2 944.1h1.1v1.1h-1.1zM123.4 933.1h1.1v1.1h-1.1zM83.4 931.2h1.1v1.1h-1.1zM102.5 903.2h1.1v1.1h-1.1zM118.7 912.4h1.1v1.1h-1.1zM120.2 907.6h1.1v1.1h-1.1zM101.5 899.3h1.1v1.1h-1.1zM103.1 884.0h1.1v1.1h-1.1zM120.5 945.1h1.1v1.1h-1.1zM113.8 921.0h1.1v1.1h-1.1zM119.7 904.8h1.1v1.1h-1.1zM120.4 942.6h1.1v1.1h-1.1zM102.5 895.1h1.1v1.1h-1.1zM85.5 934.5h1.1v1.1h-1.1zM113.6 917.1h1.1v1.1h-1.1zM122.1 932.3h1.1v1.1h-1.1zM125.0 945.7h1.1v1.1h-1.1zM102.3 903.8h1.1v1.1h-1.1zM83.0 939.7h1.1v1.1h-1.1zM119.7 925.7h1.1v1.1h-1.1zM100.4 890.2h1.1v1.1h-1.1zM120.3 899.6h1.1v1.1h-1.1zM120.9 932.8h1.1v1.1h-1.1zM120.3 904.0h1.1v1.1h-1.1zM118.9 946.4h1.1v1.1h-1.1zM110.0 878.0h1.1v1.1h-1.1zM103.1 913.7h1.1v1.1h-1.1zM112.7 875.9h1.1v1.1h-1.1zM99.7 895.6h1.1v1.1h-1.1zM103.1 921.9h1.1v1.1h-1.1zM117.9 909.2h1.1v1.1h-1.1zM117.7 925.1h1.1v1.1h-1.1zM94.7 946.8h1.1v1.1h-1.1zM102.6 905.1h1.1v1.1h-1.1zM114.9 915.7h1.1v1.1h-1.1zM97.4 925.7h1.1v1.1h-1.1zM88.8 933.7h1.1v1.1h-1.1zM120.4 933.1h1.1v1.1h-1.1zM110.1 948.7h1.1v1.1h-1.1zM101.4 906.7h1.1v1.1h-1.1zM124.0 897.5h1.1v1.1h-1.1zM117.9 914.2h1.1v1.1h-1.1zM102.4 923.9h1.1v1.1h-1.1zM100.4 893.9h1.1v1.1h-1.1zM108.8 876.0h1.1v1.1h-1.1zM119.8 889.8h1.1v1.1h-1.1zM114.7 917.1h1.1v1.1h-1.1zM115.4 951.3h1.1v1.1h-1.1zM85.1 937.0h1.1v1.1h-1.1zM121.2 890.7h1.1v1.1h-1.1zM121.5 900.4h1.1v1.1h-1.1zM120.6 939.9h1.1v1.1h-1.1zM83.5 933.5h1.1v1.1h-1.1zM115.4 915.0h1.1v1.1h-1.1zM99.4 895.3h1.1v1.1h-1.1zM100.1 881.7h1.1v1.1h-1.1zM102.0 921.9h1.1v1.1h-1.1zM123.1 899.2h1.1v1.1h-1.1zM118.6 905.4h1.1v1.1h-1.1zM119.6 904.6h1.1v1.1h-1.1zM107.9 878.1h1.1v1.1h-1.1zM120.1 900.3h1.1v1.1h-1.1zM114.6 922.0h1.1v1.1h-1.1zM86.9 933.1h1.1v1.1h-1.1zM102.6 916.5h1.1v1.1h-1.1zM102.2 902.0h1.1v1.1h-1.1zM104.6 949.1h1.1v1.1h-1.1zM118.4 883.3h1.1v1.1h-1.1zM104.3 884.4h1.1v1.1h-1.1zM104.6 919.8h1.1v1.1h-1.1zM100.6 951.3h1.1v1.1h-1.1zM110.0 877.3h1.1v1.1h-1.1zM102.0 919.4h1.1v1.1h-1.1zM101.4 927.0h1.1v1.1h-1.1zM100.3 925.8h1.1v1.1h-1.1zM118.3 927.0h1.1v1.1h-1.1zM92.6 928.9h1.1v1.1h-1.1zM117.6 927.2h1.1v1.1h-1.1zM101.1 901.2h1.1v1.1h-1.1zM101.5 918.2h1.1v1.1h-1.1zM121.5 897.2h1.1v1.1h-1.1zM121.1 933.8h1.1v1.1h-1.1zM101.7 902.0h1.1v1.1h-1.1zM102.2 925.3h1.1v1.1h-1.1zM92.8 950.0h1.1v1.1h-1.1zM87.9 946.9h1.1v1.1h-1.1zM101.4 893.4h1.1v1.1h-1.1zM98.9 953.0h1.1v1.1h-1.1zM102.6 893.5h1.1v1.1h-1.1zM116.2 921.6h1.1v1.1h-1.1zM92.9 929.7h1.1v1.1h-1.1zM88.7 930.8h1.1v1.1h-1.1zM94.7 947.1h1.1v1.1h-1.1zM100.3 916.6h1.1v1.1h-1.1zM83.0 940.7h1.1v1.1h-1.1zM82.3 940.0h1.1v1.1h-1.1zM101.7 909.3h1.1v1.1h-1.1zM109.2 947.1h1.1v1.1h-1.1zM86.2 931.6h1.1v1.1h-1.1zM109.1 875.6h1.1v1.1h-1.1zM101.5 887.8h1.1v1.1h-1.1zM82.1 942.6h1.1v1.1h-1.1zM100.1 901.0h1.1v1.1h-1.1zM118.9 927.5h1.1v1.1h-1.1zM108.6 875.4h1.1v1.1h-1.1zM117.3 906.7h1.1v1.1h-1.1zM102.2 901.2h1.1v1.1h-1.1zM101.8 919.1h1.1v1.1h-1.1zM101.7 906.7h1.1v1.1h-1.1zM116.6 925.2h1.1v1.1h-1.1zM86.5 932.0h1.1v1.1h-1.1zM119.1 882.9h1.1v1.1h-1.1zM84.1 936.1h1.1v1.1h-1.1zM92.1 948.8h1.1v1.1h-1.1zM121.3 938.2h1.1v1.1h-1.1zM120.3 947.0h1.1v1.1h-1.1zM119.5 904.2h1.1v1.1h-1.1zM99.7 907.6h1.1v1.1h-1.1zM120.7 892.7h1.1v1.1h-1.1zM122.4 893.3h1.1v1.1h-1.1zM122.2 938.5h1.1v1.1h-1.1zM106.5 878.6h1.1v1.1h-1.1zM97.9 907.0h1.1v1.1h-1.1zM100.8 911.3h1.1v1.1h-1.1zM110.6 948.7h1.1v1.1h-1.1zM86.5 932.1h1.1v1.1h-1.1zM115.4 874.8h1.1v1.1h-1.1zM120.8 892.4h1.1v1.1h-1.1zM103.4 920.0h1.1v1.1h-1.1zM102.1 903.8h1.1v1.1h-1.1zM115.7 878.3h1.1v1.1h-1.1zM116.3 946.5h1.1v1.1h-1.1zM85.4 931.8h1.1v1.1h-1.1zM112.5 947.6h1.1v1.1h-1.1zM102.7 926.0h1.1v1.1h-1.1zM84.5 949.5h1.1v1.1h-1.1zM102.3 887.7h1.1v1.1h-1.1zM99.0 918.0h1.1v1.1h-1.1zM116.9 923.2h1.1v1.1h-1.1zM98.8 884.6h1.1v1.1h-1.1zM114.6 918.9h1.1v1.1h-1.1zM103.5 882.9h1.1v1.1h-1.1zM102.4 888.5h1.1v1.1h-1.1zM118.3 922.5h1.1v1.1h-1.1zM103.6 908.1h1.1v1.1h-1.1zM100.5 897.8h1.1v1.1h-1.1zM89.9 930.0h1.1v1.1h-1.1zM103.7 881.2h1.1v1.1h-1.1zM119.6 928.3h1.1v1.1h-1.1zM101.5 889.7h1.1v1.1h-1.1zM95.1 948.1h1.1v1.1h-1.1zM82.5 943.3h1.1v1.1h-1.1zM121.8 936.9h1.1v1.1h-1.1zM122.8 940.8h1.1v1.1h-1.1zM99.4 925.0h1.1v1.1h-1.1zM98.0 946.8h1.1v1.1h-1.1zM119.9 899.9h1.1v1.1h-1.1zM122.2 886.8h1.1v1.1h-1.1zM102.6 884.3h1.1v1.1h-1.1zM107.3 877.6h1.1v1.1h-1.1zM96.8 915.6h1.1v1.1h-1.1zM102.4 895.1h1.1v1.1h-1.1zM93.2 946.5h1.1v1.1h-1.1zM104.3 920.7h1.1v1.1h-1.1zM100.7 924.8h1.1v1.1h-1.1zM100.2 926.4h1.1v1.1h-1.1zM122.8 894.8h1.1v1.1h-1.1zM85.4 934.8h1.1v1.1h-1.1zM119.1 907.8h1.1v1.1h-1.1zM121.8 935.0h1.1v1.1h-1.1zM99.6 907.7h1.1v1.1h-1.1zM93.6 947.8h1.1v1.1h-1.1zM97.4 947.1h1.1v1.1h-1.1zM82.1 941.9h1.1v1.1h-1.1zM119.5 931.1h1.1v1.1h-1.1zM95.6 946.9h1.1v1.1h-1.1zM95.7 949.1h1.1v1.1h-1.1zM103.3 923.1h1.1v1.1h-1.1zM101.6 891.2h1.1v1.1h-1.1zM117.8 948.9h1.1v1.1h-1.1z" fill="#333" fill-opacity="0.55"/>
<path d="M82.30 943.80 C82.10 942.65 83.45 939.82 84.60 938.10 C85.75 936.38 87.08 934.85 89.20 933.50 C91.32 932.15 94.80 931.35 97.30 930.00 C99.80 928.65 102.85 927.32 104.20 925.40 C105.55 923.48 105.48 921.20 105.40 918.50 C105.32 915.80 104.18 912.48 103.70 909.20 C103.22 905.92 102.60 902.07 102.50 898.80 C102.40 895.53 102.52 892.18 103.10 889.60 C103.68 887.02 104.95 884.93 106.00 883.30 C107.05 881.67 108.15 880.67 109.40 879.80 C110.65 878.93 112.15 878.00 113.50 878.10 C114.85 878.20 116.55 878.87 117.50 880.40 C118.45 881.93 118.72 884.62 119.20 887.30 C119.68 889.98 120.58 893.62 120.40 896.50 C120.22 899.38 119.07 902.10 118.10 904.60 C117.13 907.10 115.67 908.80 114.60 911.50 C113.53 914.20 111.70 918.68 111.70 920.80 C111.70 922.92 113.53 922.87 114.60 924.20 C115.67 925.53 117.13 926.87 118.10 928.80 C119.07 930.73 120.12 933.30 120.40 935.80 C120.68 938.30 120.77 941.98 119.80 943.80 C118.83 945.62 117.38 946.12 114.60 946.70 C111.82 947.28 106.95 947.38 103.10 947.30 C99.25 947.22 94.38 946.58 91.50 946.20 C88.62 945.82 87.33 945.40 85.80 945.00 C84.27 944.60 82.50 944.95 82.30 943.80Z" fill="none" stroke="#333" stroke-width="0.9"/>
<ellipse cx="112.90" cy="895.40" rx="4.30" ry="8.10" fill="none" stroke="#333" stroke-width="0.9"/>
<path d="M106.50 929.40 C108.50 928.82 109.83 930.13 111.00 931.00 C112.17 931.87 112.62 932.65 113.50 934.60 C114.38 936.55 116.88 940.87 116.30 942.70 C115.72 944.53 112.20 945.12 110.00 945.60 C107.80 946.08 105.43 945.95 103.10 945.60 C100.77 945.25 97.45 944.37 96.00 943.50 C94.55 942.63 93.90 941.90 94.40 940.40 C94.90 938.90 96.98 936.33 99.00 934.50 C101.02 932.67 104.50 929.98 106.50 929.40Z" fill="none" stroke="#333" stroke-width="0.9"/>
<ellipse cx="140.30" cy="937.70" rx="2.00" ry="1.80" fill="none" stroke="#b0b0b0" stroke-width="0.8"/>
<ellipse cx="140.55" cy="937.35" rx="4.40" ry="3.75" fill="none" stroke="#b0b0b0" stroke-width="0.8"/>
<ellipse cx="140.80" cy="937.00" rx="6.80" ry="5.70" fill="none" stroke="#b0b0b0" stroke-width="0.8"/>
<ellipse cx="141.05" cy="936.65" rx="9.20" ry="7.65" fill="none" stroke="#b0b0b0" stroke-width="0.8"/>
<ellipse cx="141.30" cy="936.30" rx="11.60" ry="9.60" fill="none" stroke="#b0b0b0" stroke-width="0.8"/>
<ellipse cx="141.55" cy="935.95" rx="14.00" ry="11.55" fill="none" stroke="#b0b0b0" stroke-width="0.8"/>
<path d="M139.4 941.5h0.9v0.9h-0.9zM139.7 932.7h0.9v0.9h-0.9zM140.4 935.5h0.9v0.9h-0.9zM135.3 940.5h0.9v0.9h-0.9zM145.5 938.9h0.9v0.9h-0.9zM137.5 937.0h0.9v0.9h-0.9zM153.9 936.5h0.9v0.9h-0.9zM140.5 938.4h0.9v0.9h-0.9zM140.0 934.5h0.9v0.9h-0.9zM138.5 941.0h0.9v0.9h-0.9zM146.3 931.5h0.9v0.9h-0.9zM137.0 936.4h0.9v0.9h-0.9zM140.6 925.3h0.9v0.9h-0.9zM137.7 929.6h0.9v0.9h-0.9zM142.8 937.4h0.9v0.9h-0.9zM137.5 932.1h0.9v0.9h-0.9zM144.6 941.9h0.9v0.9h-0.9zM135.9 932.9h0.9v0.9h-0.9zM144.3 928.7h0.9v0.9h-0.9zM141.4 933.1h0.9v0.9h-0.9zM148.5 931.7h0.9v0.9h-0.9zM141.9 933.8h0.9v0.9h-0.9zM146.6 928.1h0.9v0.9h-0.9zM141.0 934.1h0.9v0.9h-0.9zM141.6 923.7h0.9v0.9h-0.9zM138.7 935.8h0.9v0.9h-0.9zM135.0 934.1h0.9v0.9h-0.9zM143.9 934.0h0.9v0.9h-0.9zM142.6 930.1h0.9v0.9h-0.9zM152.2 934.6h0.9v0.9h-0.9zM145.6 936.1h0.9v0.9h-0.9zM153.9 924.5h0.9v0.9h-0.9zM154.4 940.8h0.9v0.9h-0.9zM144.5 934.0h0.9v0.9h-0.9zM136.8 937.9h0.9v0.9h-0.9zM141.5 944.1h0.9v0.9h-0.9zM149.0 927.5h0.9v0.9h-0.9z" fill="#aaa" fill-opacity="0.6"/>
<rect x="128.80" y="918.80" width="31.80" height="32.70" fill="none" stroke="#444" stroke-width="1.1"/>
<text x="164.50" y="937.30" font-family="Liberation Sans, sans-serif" font-size="6.6" text-anchor="start" fill="#222">P3</text>
<rect x="213.60" y="693.50" width="142.40" height="137.50" fill="none" stroke="#555" stroke-width="1.3"/>
<rect x="235.20" y="705.70" width="117.10" height="102.60" fill="none" stroke="#555" stroke-width="1.2"/>
<path d="M236.83 808.30v2.2M240.50 808.30v2.2M243.35 808.30v2.2M245.68 808.30v2.2M247.65 808.30v2.2M249.35 808.30v2.2M250.85 808.30v2.2M252.20 808.30v3.6M261.05 808.30v2.2M266.23 808.30v2.2M269.90 808.30v2.2M272.75 808.30v2.2M275.08 808.30v2.2M277.05 808.30v2.2M278.75 808.30v2.2M280.25 808.30v2.2M281.60 808.30v3.6M290.45 808.30v2.2M295.63 808.30v2.2M299.30 808.30v2.2M302.15 808.30v2.2M304.48 808.30v2.2M306.45 808.30v2.2M308.15 808.30v2.2M309.65 808.30v2.2M311.00 808.30v3.6M319.85 808.30v2.2M325.03 808.30v2.2M328.70 808.30v2.2M331.55 808.30v2.2M333.88 808.30v2.2M335.85 808.30v2.2M337.55 808.30v2.2M339.05 808.30v2.2M340.40 808.30v3.6M349.25 808.30v2.2M235.20 804.77h-2.2M235.20 802.27h-2.2M235.20 800.22h-2.2M235.20 798.50h-2.2M235.20 797.00h-2.2M235.20 795.68h-2.2M235.20 794.50h-3.6M235.20 786.73h-2.2M235.20 782.19h-2.2M235.20 778.97h-2.2M235.20 776.47h-2.2M235.20 774.42h-2.2M235.20 772.70h-2.2M235.20 771.20h-2.2M235.20 769.88h-2.2M235.20 768.70h-3.6M235.20 760.93h-2.2M235.20 756.39h-2.2M235.20 753.17h-2.2M235.20 750.67h-2.2M235.20 748.62h-2.2M235.20 746.90h-2.2M235.20 745.40h-2.2M235.20 744.08h-2.2M235.20 742.90h-3.6M235.20 735.13h-2.2M235.20 730.59h-2.2M235.20 727.37h-2.2M235.20 724.87h-2.2M235.20 722.82h-2.2M235.20 721.10h-2.2M235.20 719.60h-2.2M235.20 718.28h-2.2M235.20 717.10h-3.6M235.20 709.33h-2.2" stroke="#444" stroke-width="0.8" fill="none"/>
<text x="251.00" y="819.30" font-family="Liberation Sans, sans-serif" font-size="4.8" text-anchor="middle" fill="#333">10</text>
<text x="253.80" y="816.60" font-family="Liberation Sans, sans-serif" font-size="3.5" text-anchor="start" fill="#333">2</text>
<text x="280.40" y="819.30" font-family="Liberation Sans, sans-serif" font-size="4.8" text-anchor="middle" fill="#333">10</text>
<text x="283.20" y="816.60" font-family="Liberation Sans, sans-serif" font-size="3.5" text-anchor="start" fill="#333">3</text>
<text x="309.80" y="819.30" font-family="Liberation Sans, sans-serif" font-size="4.8" text-anchor="middle" fill="#333">10</text>
<text x="312.60" y="816.60" font-family="Liberation Sans, sans-serif" font-size="3.5" text-anchor="start" fill="#333">4</text>
<text x="339.20" y="819.30" font-family="Liberation Sans, sans-serif" font-size="4.8" text-anchor="middle" fill="#333">10</text>
<text x="342.00" y="816.60" font-family="Liberation Sans, sans-serif" font-size="3.5" text-anchor="start" fill="#333">5</text>
<text x="229.70" y="794.50" font-family="Liberation Sans, sans-serif" font-size="4.6" text-anchor="middle" fill="#333" transform="rotate(-90 229.7 794.5)">10</text>
<text x="226.70" y="793.00" font-family="Liberation Sans, sans-serif" font-size="3.4" text-anchor="start" fill="#333" transform="rotate(-90 226.7 793.0)">2</text>
<text x="229.70" y="768.70" font-family="Liberation Sans, sans-serif" font-size="4.6" text-anchor="middle" fill="#333" transform="rotate(-90 229.7 768.7)">10</text>
<text x="226.70" y="767.20" font-family="Liberation Sans, sans-serif" font-size="3.4" text-anchor="start" fill="#333" transform="rotate(-90 226.7 767.2)">3</text>
<text x="229.70" y="742.90" font-family="Liberation Sans, sans-serif" font-size="4.6" text-anchor="middle" fill="#333" transform="rotate(-90 229.7 742.9)">10</text>
<text x="226.70" y="741.40" font-family="Liberation Sans, sans-serif" font-size="3.4" text-anchor="start" fill="#333" transform="rotate(-90 226.7 741.4)">4</text>
<text x="229.70" y="717.10" font-family="Liberation Sans, sans-serif" font-size="4.6" text-anchor="middle" fill="#333" transform="rotate(-90 229.7 717.1)">10</text>
<text x="226.70" y="715.60" font-family="Liberation Sans, sans-serif" font-size="3.4" text-anchor="start" fill="#333" transform="rotate(-90 226.7 715.6)">5</text>
<text x="222.60" y="756.30" font-family="Liberation Sans, sans-serif" font-size="6.4" text-anchor="middle" fill="#222" transform="rotate(-90 222.6 756.3)">CD38 PE-A</text>
<text x="294.35" y="826.50" font-family="Liberation Sans, sans-serif" font-size="6.2" text-anchor="middle" fill="#222">CD4 FITC-A</text>
<path d="M269.5 749.3h0.9v0.9h-0.9zM268.7 723.4h0.9v0.9h-0.9zM250.0 805.3h0.9v0.9h-0.9zM295.4 709.9h0.9v0.9h-0.9zM313.3 748.0h0.9v0.9h-0.9zM283.9 773.7h0.9v0.9h-0.9zM339.3 773.0h0.9v0.9h-0.9zM265.9 761.8h0.9v0.9h-0.9zM314.9 767.2h0.9v0.9h-0.9zM308.3 776.5h0.9v0.9h-0.9zM302.5 774.0h0.9v0.9h-0.9zM262.2 750.6h0.9v0.9h-0.9zM322.9 764.8h0.9v0.9h-0.9zM313.9 802.0h0.9v0.9h-0.9zM349.1 796.7h0.9v0.9h-0.9zM317.5 717.4h0.9v0.9h-0.9zM267.7 746.5h0.9v0.9h-0.9zM252.9 751.8h0.9v0.9h-0.9zM309.5 725.3h0.9v0.9h-0.9zM347.4 788.9h0.9v0.9h-0.9zM249.1 719.0h0.9v0.9h-0.9zM270.5 721.3h0.9v0.9h-0.9zM241.7 766.4h0.9v0.9h-0.9zM254.3 740.1h0.9v0.9h-0.9zM242.6 717.1h0.9v0.9h-0.9zM272.8 776.6h0.9v0.9h-0.9zM258.9 793.7h0.9v0.9h-0.9zM238.9 733.6h0.9v0.9h-0.9zM247.1 800.3h0.9v0.9h-0.9zM313.3 730.8h0.9v0.9h-0.9zM277.0 725.3h0.9v0.9h-0.9zM255.7 777.3h0.9v0.9h-0.9zM334.9 750.7h0.9v0.9h-0.9zM285.9 795.4h0.9v0.9h-0.9zM347.0 753.4h0.9v0.9h-0.9zM320.6 718.4h0.9v0.9h-0.9zM275.9 710.4h0.9v0.9h-0.9zM290.4 710.5h0.9v0.9h-0.9zM299.3 774.3h0.9v0.9h-0.9zM303.7 708.2h0.9v0.9h-0.9zM328.7 791.0h0.9v0.9h-0.9zM247.1 759.1h0.9v0.9h-0.9zM341.9 745.0h0.9v0.9h-0.9zM245.5 760.9h0.9v0.9h-0.9zM324.5 773.5h0.9v0.9h-0.9zM331.3 733.3h0.9v0.9h-0.9zM252.4 798.9h0.9v0.9h-0.9zM340.6 725.1h0.9v0.9h-0.9zM319.4 720.3h0.9v0.9h-0.9zM294.5 769.5h0.9v0.9h-0.9zM312.0 779.5h0.9v0.9h-0.9zM265.2 750.6h0.9v0.9h-0.9zM304.6 760.9h0.9v0.9h-0.9zM297.2 749.8h0.9v0.9h-0.9zM324.3 741.9h0.9v0.9h-0.9zM292.4 786.7h0.9v0.9h-0.9zM255.5 797.3h0.9v0.9h-0.9zM311.9 733.4h0.9v0.9h-0.9zM315.3 802.1h0.9v0.9h-0.9zM274.8 768.6h0.9v0.9h-0.9zM270.8 779.8h0.9v0.9h-0.9zM257.0 753.8h0.9v0.9h-0.9zM261.8 767.4h0.9v0.9h-0.9zM265.2 773.3h0.9v0.9h-0.9zM258.5 785.3h0.9v0.9h-0.9zM261.5 762.8h0.9v0.9h-0.9zM272.8 756.4h0.9v0.9h-0.9zM246.4 794.1h0.9v0.9h-0.9zM263.9 774.3h0.9v0.9h-0.9zM257.7 790.0h0.9v0.9h-0.9zM253.2 774.3h0.9v0.9h-0.9zM260.0 760.8h0.9v0.9h-0.9zM264.6 771.9h0.9v0.9h-0.9zM268.0 726.2h0.9v0.9h-0.9zM256.0 790.6h0.9v0.9h-0.9zM266.7 782.7h0.9v0.9h-0.9zM272.7 794.2h0.9v0.9h-0.9zM263.2 768.1h0.9v0.9h-0.9zM265.3 795.2h0.9v0.9h-0.9zM266.8 739.3h0.9v0.9h-0.9zM254.7 738.9h0.9v0.9h-0.9zM271.0 777.0h0.9v0.9h-0.9zM265.3 746.2h0.9v0.9h-0.9zM275.6 769.4h0.9v0.9h-0.9zM268.0 768.9h0.9v0.9h-0.9zM255.3 766.3h0.9v0.9h-0.9zM270.7 800.3h0.9v0.9h-0.9zM272.2 782.9h0.9v0.9h-0.9zM269.9 784.2h0.9v0.9h-0.9zM259.7 776.6h0.9v0.9h-0.9zM272.1 797.0h0.9v0.9h-0.9zM256.1 759.2h0.9v0.9h-0.9zM268.5 782.7h0.9v0.9h-0.9zM262.9 758.3h0.9v0.9h-0.9zM257.0 768.9h0.9v0.9h-0.9zM259.1 770.5h0.9v0.9h-0.9zM257.9 746.0h0.9v0.9h-0.9zM265.8 737.2h0.9v0.9h-0.9zM256.9 749.3h0.9v0.9h-0.9zM261.3 782.4h0.9v0.9h-0.9zM260.2 719.8h0.9v0.9h-0.9zM264.9 783.4h0.9v0.9h-0.9zM269.5 732.1h0.9v0.9h-0.9zM250.8 757.1h0.9v0.9h-0.9zM265.1 762.0h0.9v0.9h-0.9zM256.7 786.0h0.9v0.9h-0.9zM260.4 772.1h0.9v0.9h-0.9zM260.9 751.4h0.9v0.9h-0.9zM273.7 760.9h0.9v0.9h-0.9zM273.3 776.7h0.9v0.9h-0.9zM260.1 792.4h0.9v0.9h-0.9zM260.1 777.2h0.9v0.9h-0.9zM272.8 769.9h0.9v0.9h-0.9zM265.8 767.1h0.9v0.9h-0.9zM276.0 801.6h0.9v0.9h-0.9zM256.7 756.6h0.9v0.9h-0.9zM270.5 763.3h0.9v0.9h-0.9zM258.2 778.6h0.9v0.9h-0.9zM240.0 796.1h0.9v0.9h-0.9zM267.6 739.5h0.9v0.9h-0.9zM254.8 790.3h0.9v0.9h-0.9zM267.3 793.8h0.9v0.9h-0.9zM259.7 776.8h0.9v0.9h-0.9zM271.3 736.2h0.9v0.9h-0.9zM251.7 758.4h0.9v0.9h-0.9zM250.1 769.2h0.9v0.9h-0.9zM273.1 777.3h0.9v0.9h-0.9zM270.1 748.5h0.9v0.9h-0.9zM262.7 767.3h0.9v0.9h-0.9zM249.7 785.4h0.9v0.9h-0.9zM268.3 761.6h0.9v0.9h-0.9zM280.3 766.2h0.9v0.9h-0.9zM259.1 763.1h0.9v0.9h-0.9zM258.9 745.1h0.9v0.9h-0.9zM255.5 765.1h0.9v0.9h-0.9zM265.2 767.8h0.9v0.9h-0.9zM261.2 786.0h0.9v0.9h-0.9zM250.3 756.8h0.9v0.9h-0.9zM256.3 747.1h0.9v0.9h-0.9zM268.9 762.6h0.9v0.9h-0.9zM253.2 755.1h0.9v0.9h-0.9zM263.6 782.5h0.9v0.9h-0.9zM269.4 761.2h0.9v0.9h-0.9zM267.4 742.3h0.9v0.9h-0.9zM248.3 783.3h0.9v0.9h-0.9zM266.0 770.4h0.9v0.9h-0.9zM253.3 775.2h0.9v0.9h-0.9zM246.5 779.4h0.9v0.9h-0.9zM263.9 791.9h0.9v0.9h-0.9zM249.3 754.5h0.9v0.9h-0.9zM259.8 783.7h0.9v0.9h-0.9zM270.8 773.2h0.9v0.9h-0.9zM265.7 772.9h0.9v0.9h-0.9zM260.5 770.0h0.9v0.9h-0.9zM268.5 763.0h0.9v0.9h-0.9zM261.9 775.9h0.9v0.9h-0.9zM267.5 772.4h0.9v0.9h-0.9zM269.9 784.7h0.9v0.9h-0.9zM254.0 800.0h0.9v0.9h-0.9zM273.9 753.2h0.9v0.9h-0.9zM261.9 792.4h0.9v0.9h-0.9zM262.8 750.2h0.9v0.9h-0.9zM259.3 769.4h0.9v0.9h-0.9zM258.1 771.8h0.9v0.9h-0.9zM265.4 794.0h0.9v0.9h-0.9zM256.9 753.5h0.9v0.9h-0.9zM265.0 804.2h0.9v0.9h-0.9zM266.9 751.4h0.9v0.9h-0.9zM257.1 765.0h0.9v0.9h-0.9zM259.0 760.3h0.9v0.9h-0.9zM265.4 748.4h0.9v0.9h-0.9zM261.2 750.5h0.9v0.9h-0.9zM266.1 760.7h0.9v0.9h-0.9zM260.9 766.8h0.9v0.9h-0.9zM258.9 760.2h0.9v0.9h-0.9zM259.7 754.3h0.9v0.9h-0.9zM263.7 723.0h0.9v0.9h-0.9zM270.2 766.6h0.9v0.9h-0.9zM257.8 803.2h0.9v0.9h-0.9zM258.5 793.8h0.9v0.9h-0.9zM255.4 764.4h0.9v0.9h-0.9zM257.8 781.6h0.9v0.9h-0.9zM270.1 761.8h0.9v0.9h-0.9zM269.0 763.0h0.9v0.9h-0.9zM256.9 774.9h0.9v0.9h-0.9zM250.6 791.2h0.9v0.9h-0.9zM264.5 762.6h0.9v0.9h-0.9zM265.0 759.5h0.9v0.9h-0.9zM252.5 771.3h0.9v0.9h-0.9zM262.9 743.9h0.9v0.9h-0.9zM264.6 788.1h0.9v0.9h-0.9zM266.3 791.2h0.9v0.9h-0.9zM257.6 794.3h0.9v0.9h-0.9zM265.2 786.6h0.9v0.9h-0.9zM260.2 760.8h0.9v0.9h-0.9zM267.8 767.5h0.9v0.9h-0.9zM263.3 754.2h0.9v0.9h-0.9zM266.1 777.8h0.9v0.9h-0.9zM259.5 753.4h0.9v0.9h-0.9zM263.1 784.4h0.9v0.9h-0.9zM267.8 798.0h0.9v0.9h-0.9zM258.6 752.3h0.9v0.9h-0.9zM279.6 759.4h0.9v0.9h-0.9zM256.6 770.0h0.9v0.9h-0.9zM251.6 779.9h0.9v0.9h-0.9zM254.3 789.6h0.9v0.9h-0.9zM259.3 787.1h0.9v0.9h-0.9zM261.4 767.4h0.9v0.9h-0.9zM244.8 759.6h0.9v0.9h-0.9zM246.7 727.9h0.9v0.9h-0.9zM267.2 762.5h0.9v0.9h-0.9zM250.9 795.9h0.9v0.9h-0.9zM266.5 757.1h0.9v0.9h-0.9zM270.5 783.7h0.9v0.9h-0.9zM238.5 785.5h0.9v0.9h-0.9zM265.5 775.3h0.9v0.9h-0.9zM261.7 761.6h0.9v0.9h-0.9zM258.9 761.6h0.9v0.9h-0.9zM264.3 771.2h0.9v0.9h-0.9zM261.0 738.8h0.9v0.9h-0.9zM265.4 798.5h0.9v0.9h-0.9zM275.1 752.3h0.9v0.9h-0.9zM263.7 760.2h0.9v0.9h-0.9zM252.4 760.3h0.9v0.9h-0.9zM271.8 766.6h0.9v0.9h-0.9zM269.8 779.3h0.9v0.9h-0.9zM272.2 794.9h0.9v0.9h-0.9zM264.3 776.4h0.9v0.9h-0.9zM268.1 801.9h0.9v0.9h-0.9zM276.1 765.1h0.9v0.9h-0.9zM261.0 785.2h0.9v0.9h-0.9zM256.9 787.2h0.9v0.9h-0.9zM272.2 774.9h0.9v0.9h-0.9zM259.0 784.8h0.9v0.9h-0.9zM270.1 752.9h0.9v0.9h-0.9zM257.6 797.3h0.9v0.9h-0.9zM258.0 787.6h0.9v0.9h-0.9zM263.8 775.4h0.9v0.9h-0.9zM263.9 765.6h0.9v0.9h-0.9zM255.9 788.2h0.9v0.9h-0.9zM273.7 751.6h0.9v0.9h-0.9zM258.4 786.2h0.9v0.9h-0.9zM266.8 789.9h0.9v0.9h-0.9zM257.1 770.6h0.9v0.9h-0.9zM257.4 798.1h0.9v0.9h-0.9zM262.8 784.1h0.9v0.9h-0.9zM262.8 741.9h0.9v0.9h-0.9zM263.2 747.9h0.9v0.9h-0.9zM261.8 762.2h0.9v0.9h-0.9zM268.5 794.4h0.9v0.9h-0.9zM268.4 799.9h0.9v0.9h-0.9zM258.4 767.6h0.9v0.9h-0.9zM262.7 780.6h0.9v0.9h-0.9zM265.0 776.6h0.9v0.9h-0.9zM267.0 725.2h0.9v0.9h-0.9zM265.5 793.1h0.9v0.9h-0.9zM259.2 799.2h0.9v0.9h-0.9zM259.3 729.9h0.9v0.9h-0.9zM262.2 754.5h0.9v0.9h-0.9zM265.3 770.7h0.9v0.9h-0.9zM253.9 770.7h0.9v0.9h-0.9zM254.4 792.3h0.9v0.9h-0.9zM258.7 794.5h0.9v0.9h-0.9zM262.3 761.8h0.9v0.9h-0.9zM256.8 785.2h0.9v0.9h-0.9zM258.5 760.1h0.9v0.9h-0.9zM255.7 766.4h0.9v0.9h-0.9zM265.4 776.8h0.9v0.9h-0.9zM246.9 782.7h0.9v0.9h-0.9zM261.6 760.4h0.9v0.9h-0.9zM261.8 776.2h0.9v0.9h-0.9zM263.0 772.4h0.9v0.9h-0.9zM239.5 787.0h0.9v0.9h-0.9zM269.9 760.3h0.9v0.9h-0.9zM267.0 778.2h0.9v0.9h-0.9zM273.3 725.8h0.9v0.9h-0.9zM267.4 739.7h0.9v0.9h-0.9zM268.3 765.3h0.9v0.9h-0.9zM265.7 763.4h0.9v0.9h-0.9zM273.4 765.5h0.9v0.9h-0.9zM251.8 759.9h0.9v0.9h-0.9zM260.9 783.3h0.9v0.9h-0.9zM254.8 795.3h0.9v0.9h-0.9zM268.1 762.7h0.9v0.9h-0.9zM263.6 792.0h0.9v0.9h-0.9zM273.7 779.5h0.9v0.9h-0.9zM262.7 749.4h0.9v0.9h-0.9zM260.4 746.7h0.9v0.9h-0.9zM260.4 773.3h0.9v0.9h-0.9zM256.1 792.8h0.9v0.9h-0.9zM246.6 754.8h0.9v0.9h-0.9zM261.4 732.6h0.9v0.9h-0.9zM258.4 790.7h0.9v0.9h-0.9zM258.3 794.2h0.9v0.9h-0.9zM253.2 768.0h0.9v0.9h-0.9zM262.3 793.0h0.9v0.9h-0.9zM263.6 756.2h0.9v0.9h-0.9zM259.9 765.0h0.9v0.9h-0.9zM259.2 765.2h0.9v0.9h-0.9zM249.9 793.0h0.9v0.9h-0.9zM264.0 756.2h0.9v0.9h-0.9zM268.0 766.4h0.9v0.9h-0.9zM260.6 796.6h0.9v0.9h-0.9zM257.3 791.7h0.9v0.9h-0.9zM266.1 792.6h0.9v0.9h-0.9zM267.4 755.0h0.9v0.9h-0.9zM258.4 780.9h0.9v0.9h-0.9zM281.8 761.5h0.9v0.9h-0.9zM270.7 790.0h0.9v0.9h-0.9zM272.7 782.1h0.9v0.9h-0.9zM264.7 786.1h0.9v0.9h-0.9zM308.9 795.1h0.9v0.9h-0.9zM311.4 727.4h0.9v0.9h-0.9zM313.3 762.4h0.9v0.9h-0.9zM308.6 759.6h0.9v0.9h-0.9zM312.9 757.1h0.9v0.9h-0.9zM302.6 762.2h0.9v0.9h-0.9zM300.9 775.0h0.9v0.9h-0.9zM296.7 790.4h0.9v0.9h-0.9zM309.1 722.1h0.9v0.9h-0.9zM317.0 734.7h0.9v0.9h-0.9zM313.7 765.4h0.9v0.9h-0.9zM294.6 728.4h0.9v0.9h-0.9zM313.5 773.4h0.9v0.9h-0.9zM310.6 742.5h0.9v0.9h-0.9zM309.1 759.4h0.9v0.9h-0.9zM312.1 735.0h0.9v0.9h-0.9zM314.9 740.9h0.9v0.9h-0.9zM320.2 754.5h0.9v0.9h-0.9zM325.5 796.5h0.9v0.9h-0.9zM315.0 761.4h0.9v0.9h-0.9zM305.7 777.4h0.9v0.9h-0.9zM320.9 743.3h0.9v0.9h-0.9zM300.8 774.1h0.9v0.9h-0.9zM317.0 749.9h0.9v0.9h-0.9zM320.1 759.2h0.9v0.9h-0.9zM305.5 777.9h0.9v0.9h-0.9zM318.9 743.6h0.9v0.9h-0.9zM315.4 736.8h0.9v0.9h-0.9zM309.3 748.5h0.9v0.9h-0.9zM316.3 801.1h0.9v0.9h-0.9zM315.2 718.3h0.9v0.9h-0.9zM311.6 777.4h0.9v0.9h-0.9zM305.4 789.2h0.9v0.9h-0.9zM317.0 729.7h0.9v0.9h-0.9zM307.9 739.7h0.9v0.9h-0.9zM310.0 752.3h0.9v0.9h-0.9zM314.0 745.9h0.9v0.9h-0.9zM309.7 784.5h0.9v0.9h-0.9zM312.5 763.7h0.9v0.9h-0.9zM312.9 749.2h0.9v0.9h-0.9zM312.7 770.4h0.9v0.9h-0.9zM311.5 790.7h0.9v0.9h-0.9zM321.4 753.0h0.9v0.9h-0.9zM306.7 742.3h0.9v0.9h-0.9zM307.1 784.0h0.9v0.9h-0.9zM300.6 803.1h0.9v0.9h-0.9zM292.1 799.1h0.9v0.9h-0.9zM315.7 781.4h0.9v0.9h-0.9zM314.2 758.5h0.9v0.9h-0.9zM321.8 782.1h0.9v0.9h-0.9zM299.1 776.3h0.9v0.9h-0.9zM304.4 777.8h0.9v0.9h-0.9zM306.0 762.5h0.9v0.9h-0.9zM325.8 788.0h0.9v0.9h-0.9zM317.7 784.4h0.9v0.9h-0.9zM309.0 733.7h0.9v0.9h-0.9zM310.2 780.6h0.9v0.9h-0.9zM312.9 740.0h0.9v0.9h-0.9zM301.6 766.6h0.9v0.9h-0.9zM313.1 760.5h0.9v0.9h-0.9zM301.9 775.4h0.9v0.9h-0.9zM311.1 752.1h0.9v0.9h-0.9zM315.8 755.4h0.9v0.9h-0.9zM312.5 751.8h0.9v0.9h-0.9zM304.9 752.4h0.9v0.9h-0.9zM308.1 730.2h0.9v0.9h-0.9zM316.6 776.5h0.9v0.9h-0.9zM306.3 750.4h0.9v0.9h-0.9zM299.7 772.5h0.9v0.9h-0.9zM308.1 764.0h0.9v0.9h-0.9zM306.2 774.2h0.9v0.9h-0.9zM308.6 778.1h0.9v0.9h-0.9zM310.2 733.5h0.9v0.9h-0.9zM307.5 761.6h0.9v0.9h-0.9zM307.4 768.9h0.9v0.9h-0.9zM317.3 747.8h0.9v0.9h-0.9zM314.7 748.8h0.9v0.9h-0.9zM317.6 773.2h0.9v0.9h-0.9zM310.7 794.8h0.9v0.9h-0.9zM307.1 777.5h0.9v0.9h-0.9zM312.5 781.1h0.9v0.9h-0.9zM298.7 772.1h0.9v0.9h-0.9zM316.7 765.7h0.9v0.9h-0.9zM306.3 786.2h0.9v0.9h-0.9zM301.5 773.6h0.9v0.9h-0.9zM313.5 764.3h0.9v0.9h-0.9zM300.7 727.8h0.9v0.9h-0.9zM319.5 726.3h0.9v0.9h-0.9zM296.3 766.2h0.9v0.9h-0.9zM306.0 743.2h0.9v0.9h-0.9zM302.0 753.1h0.9v0.9h-0.9zM314.2 738.2h0.9v0.9h-0.9zM314.1 764.4h0.9v0.9h-0.9zM306.1 749.3h0.9v0.9h-0.9zM304.9 778.4h0.9v0.9h-0.9zM313.4 800.2h0.9v0.9h-0.9zM305.0 776.3h0.9v0.9h-0.9zM320.3 765.9h0.9v0.9h-0.9zM304.7 765.5h0.9v0.9h-0.9zM312.6 797.5h0.9v0.9h-0.9zM294.5 733.4h0.9v0.9h-0.9zM312.8 742.1h0.9v0.9h-0.9zM305.0 751.7h0.9v0.9h-0.9zM312.0 736.4h0.9v0.9h-0.9zM318.5 776.9h0.9v0.9h-0.9zM308.5 755.8h0.9v0.9h-0.9zM290.2 742.1h0.9v0.9h-0.9zM293.8 777.9h0.9v0.9h-0.9zM310.5 762.8h0.9v0.9h-0.9zM302.8 774.6h0.9v0.9h-0.9zM300.7 764.7h0.9v0.9h-0.9zM317.7 752.4h0.9v0.9h-0.9zM307.9 739.6h0.9v0.9h-0.9zM317.0 775.8h0.9v0.9h-0.9zM316.9 742.9h0.9v0.9h-0.9zM306.6 789.3h0.9v0.9h-0.9zM310.7 770.9h0.9v0.9h-0.9zM300.4 764.1h0.9v0.9h-0.9zM312.8 745.7h0.9v0.9h-0.9zM309.3 804.0h0.9v0.9h-0.9zM321.9 758.7h0.9v0.9h-0.9zM316.1 777.9h0.9v0.9h-0.9zM308.3 749.7h0.9v0.9h-0.9zM304.2 792.6h0.9v0.9h-0.9zM307.8 775.2h0.9v0.9h-0.9zM309.5 789.7h0.9v0.9h-0.9zM315.4 784.8h0.9v0.9h-0.9zM317.5 762.2h0.9v0.9h-0.9zM300.1 744.5h0.9v0.9h-0.9zM301.3 766.8h0.9v0.9h-0.9zM312.1 750.1h0.9v0.9h-0.9zM300.0 756.6h0.9v0.9h-0.9zM308.7 805.8h0.9v0.9h-0.9zM295.6 787.8h0.9v0.9h-0.9zM306.9 773.5h0.9v0.9h-0.9zM305.9 781.7h0.9v0.9h-0.9zM306.9 787.3h0.9v0.9h-0.9zM304.4 771.6h0.9v0.9h-0.9zM313.2 765.0h0.9v0.9h-0.9zM316.3 769.4h0.9v0.9h-0.9zM315.1 778.1h0.9v0.9h-0.9zM307.0 739.6h0.9v0.9h-0.9zM304.2 768.2h0.9v0.9h-0.9zM303.8 754.3h0.9v0.9h-0.9zM308.1 754.7h0.9v0.9h-0.9zM307.7 796.8h0.9v0.9h-0.9zM311.2 781.6h0.9v0.9h-0.9zM316.0 778.8h0.9v0.9h-0.9zM304.4 792.5h0.9v0.9h-0.9zM307.6 777.2h0.9v0.9h-0.9zM313.7 760.3h0.9v0.9h-0.9zM303.2 740.0h0.9v0.9h-0.9zM300.3 723.6h0.9v0.9h-0.9zM314.5 749.1h0.9v0.9h-0.9zM301.2 784.0h0.9v0.9h-0.9zM312.7 751.7h0.9v0.9h-0.9zM301.7 769.8h0.9v0.9h-0.9zM323.1 789.6h0.9v0.9h-0.9zM301.4 783.8h0.9v0.9h-0.9zM323.7 777.4h0.9v0.9h-0.9zM315.4 793.9h0.9v0.9h-0.9zM320.4 768.9h0.9v0.9h-0.9zM319.2 793.3h0.9v0.9h-0.9zM313.8 772.9h0.9v0.9h-0.9zM307.4 803.8h0.9v0.9h-0.9zM328.8 794.0h0.9v0.9h-0.9zM306.6 770.2h0.9v0.9h-0.9zM311.3 795.9h0.9v0.9h-0.9zM299.4 790.3h0.9v0.9h-0.9zM309.8 788.7h0.9v0.9h-0.9zM314.4 777.2h0.9v0.9h-0.9zM304.4 741.9h0.9v0.9h-0.9zM310.9 757.2h0.9v0.9h-0.9zM307.6 790.7h0.9v0.9h-0.9zM307.2 799.5h0.9v0.9h-0.9zM314.7 733.0h0.9v0.9h-0.9zM316.6 747.7h0.9v0.9h-0.9zM304.1 720.8h0.9v0.9h-0.9zM296.5 737.5h0.9v0.9h-0.9zM313.5 783.3h0.9v0.9h-0.9zM301.4 754.4h0.9v0.9h-0.9zM306.3 780.6h0.9v0.9h-0.9zM303.5 802.7h0.9v0.9h-0.9zM317.6 728.0h0.9v0.9h-0.9zM326.8 771.9h0.9v0.9h-0.9zM305.3 776.6h0.9v0.9h-0.9zM326.7 779.7h0.9v0.9h-0.9zM311.1 793.8h0.9v0.9h-0.9zM307.3 796.8h0.9v0.9h-0.9zM318.5 783.1h0.9v0.9h-0.9zM324.8 747.3h0.9v0.9h-0.9zM308.1 797.1h0.9v0.9h-0.9zM324.3 744.0h0.9v0.9h-0.9zM316.7 767.4h0.9v0.9h-0.9zM288.0 778.5h0.9v0.9h-0.9zM308.6 761.5h0.9v0.9h-0.9zM303.6 775.8h0.9v0.9h-0.9zM305.2 777.2h0.9v0.9h-0.9zM310.8 796.6h0.9v0.9h-0.9zM306.1 762.2h0.9v0.9h-0.9zM306.7 766.7h0.9v0.9h-0.9zM297.1 795.9h0.9v0.9h-0.9zM311.1 759.4h0.9v0.9h-0.9zM314.4 741.5h0.9v0.9h-0.9zM298.5 768.8h0.9v0.9h-0.9zM300.9 782.7h0.9v0.9h-0.9zM301.0 764.3h0.9v0.9h-0.9zM316.4 737.2h0.9v0.9h-0.9zM301.3 740.1h0.9v0.9h-0.9zM313.7 753.2h0.9v0.9h-0.9zM300.5 769.3h0.9v0.9h-0.9zM300.0 775.3h0.9v0.9h-0.9zM313.2 795.4h0.9v0.9h-0.9zM316.2 751.4h0.9v0.9h-0.9zM299.2 748.4h0.9v0.9h-0.9zM301.8 726.8h0.9v0.9h-0.9zM311.7 743.5h0.9v0.9h-0.9zM302.1 761.8h0.9v0.9h-0.9zM300.6 760.4h0.9v0.9h-0.9zM301.2 762.7h0.9v0.9h-0.9zM312.0 772.0h0.9v0.9h-0.9zM289.2 758.1h0.9v0.9h-0.9zM323.3 732.9h0.9v0.9h-0.9zM322.1 771.6h0.9v0.9h-0.9zM319.4 775.4h0.9v0.9h-0.9zM308.0 748.1h0.9v0.9h-0.9zM313.8 707.1h0.9v0.9h-0.9zM300.9 730.4h0.9v0.9h-0.9zM326.4 752.9h0.9v0.9h-0.9zM304.8 752.8h0.9v0.9h-0.9zM318.9 744.5h0.9v0.9h-0.9zM315.9 772.2h0.9v0.9h-0.9zM306.1 793.4h0.9v0.9h-0.9zM307.8 779.5h0.9v0.9h-0.9zM303.1 771.8h0.9v0.9h-0.9zM310.4 804.2h0.9v0.9h-0.9zM314.3 730.4h0.9v0.9h-0.9zM309.7 762.0h0.9v0.9h-0.9zM306.9 768.3h0.9v0.9h-0.9zM309.8 758.7h0.9v0.9h-0.9zM319.3 763.2h0.9v0.9h-0.9zM316.7 761.2h0.9v0.9h-0.9zM313.5 750.9h0.9v0.9h-0.9zM304.7 738.0h0.9v0.9h-0.9zM305.9 740.4h0.9v0.9h-0.9zM313.5 758.5h0.9v0.9h-0.9zM306.5 775.8h0.9v0.9h-0.9zM304.2 778.3h0.9v0.9h-0.9zM320.3 783.6h0.9v0.9h-0.9zM310.5 707.9h0.9v0.9h-0.9zM311.4 743.8h0.9v0.9h-0.9zM305.0 737.6h0.9v0.9h-0.9zM311.8 765.3h0.9v0.9h-0.9zM316.0 765.7h0.9v0.9h-0.9zM311.7 755.6h0.9v0.9h-0.9zM298.0 789.1h0.9v0.9h-0.9zM305.8 754.0h0.9v0.9h-0.9zM313.8 768.2h0.9v0.9h-0.9zM311.4 778.1h0.9v0.9h-0.9zM317.4 776.5h0.9v0.9h-0.9zM307.2 757.6h0.9v0.9h-0.9zM309.1 798.1h0.9v0.9h-0.9zM316.6 782.3h0.9v0.9h-0.9zM309.1 788.3h0.9v0.9h-0.9zM316.2 770.9h0.9v0.9h-0.9zM295.7 770.1h0.9v0.9h-0.9zM302.0 746.7h0.9v0.9h-0.9zM316.7 719.2h0.9v0.9h-0.9zM315.8 738.1h0.9v0.9h-0.9zM315.4 727.9h0.9v0.9h-0.9zM316.6 764.2h0.9v0.9h-0.9zM316.7 730.4h0.9v0.9h-0.9zM300.7 752.7h0.9v0.9h-0.9zM321.9 742.7h0.9v0.9h-0.9zM316.2 765.1h0.9v0.9h-0.9zM300.2 760.6h0.9v0.9h-0.9zM299.1 798.1h0.9v0.9h-0.9zM312.6 786.7h0.9v0.9h-0.9zM304.0 802.3h0.9v0.9h-0.9zM313.4 767.5h0.9v0.9h-0.9zM307.0 722.5h0.9v0.9h-0.9zM297.6 788.8h0.9v0.9h-0.9zM306.3 755.7h0.9v0.9h-0.9zM309.2 799.3h0.9v0.9h-0.9zM315.5 761.3h0.9v0.9h-0.9zM304.1 768.1h0.9v0.9h-0.9zM313.0 762.5h0.9v0.9h-0.9zM307.5 750.8h0.9v0.9h-0.9zM308.3 754.3h0.9v0.9h-0.9zM291.2 723.6h0.9v0.9h-0.9zM305.3 769.1h0.9v0.9h-0.9zM297.9 768.5h0.9v0.9h-0.9zM314.6 782.3h0.9v0.9h-0.9zM317.8 764.1h0.9v0.9h-0.9zM312.7 775.3h0.9v0.9h-0.9zM311.3 789.2h0.9v0.9h-0.9zM315.9 762.0h0.9v0.9h-0.9zM306.6 771.4h0.9v0.9h-0.9zM312.1 765.8h0.9v0.9h-0.9zM301.3 796.1h0.9v0.9h-0.9zM306.9 753.2h0.9v0.9h-0.9zM317.4 790.7h0.9v0.9h-0.9zM309.2 775.2h0.9v0.9h-0.9zM308.4 776.4h0.9v0.9h-0.9zM313.2 751.7h0.9v0.9h-0.9z" fill="#999" fill-opacity="0.55"/>
<path d="M270.00 764.70 C270.01 766.12 269.96 767.55 269.89 768.96 C269.82 770.36 269.71 771.76 269.57 773.11 C269.43 774.45 269.25 775.78 269.04 777.05 C268.83 778.31 268.59 779.54 268.32 780.69 C268.05 781.84 267.75 782.93 267.42 783.93 C267.10 784.94 266.74 785.87 266.37 786.71 C266.00 787.54 265.60 788.29 265.20 788.94 C264.79 789.58 264.36 790.13 263.92 790.57 C263.48 791.01 263.03 791.34 262.58 791.57 C262.12 791.79 261.66 791.90 261.20 791.90 C260.74 791.90 260.28 791.79 259.82 791.57 C259.37 791.34 258.92 791.01 258.48 790.57 C258.04 790.13 257.61 789.58 257.20 788.94 C256.80 788.29 256.40 787.54 256.03 786.71 C255.66 785.87 255.30 784.94 254.98 783.93 C254.65 782.93 254.35 781.84 254.08 780.69 C253.81 779.54 253.57 778.31 253.36 777.05 C253.15 775.78 252.97 774.45 252.83 773.11 C252.69 771.76 252.58 770.36 252.51 768.96 C252.44 767.55 252.39 766.12 252.40 764.70 C252.41 763.28 252.46 761.85 252.56 760.44 C252.67 759.04 252.83 757.64 253.03 756.29 C253.23 754.95 253.49 753.62 253.76 752.35 C254.04 751.09 254.36 749.86 254.70 748.71 C255.03 747.56 255.39 746.47 255.76 745.47 C256.12 744.46 256.50 743.53 256.87 742.69 C257.25 741.86 257.63 741.11 258.00 740.46 C258.37 739.82 258.74 739.27 259.10 738.83 C259.46 738.39 259.81 738.06 260.16 737.83 C260.51 737.61 260.85 737.50 261.20 737.50 C261.55 737.50 261.89 737.61 262.24 737.83 C262.59 738.06 262.94 738.39 263.30 738.83 C263.66 739.27 264.03 739.82 264.40 740.46 C264.77 741.11 265.15 741.86 265.53 742.69 C265.90 743.53 266.28 744.46 266.64 745.47 C267.01 746.47 267.37 747.56 267.70 748.71 C268.04 749.86 268.36 751.09 268.64 752.35 C268.91 753.62 269.17 754.95 269.37 756.29 C269.57 757.64 269.73 759.04 269.84 760.44 C269.94 761.85 269.99 763.28 270.00 764.70Z" fill="none" stroke="#a8a8a8" stroke-width="0.75"/>
<path d="M268.28 767.90 C268.29 769.02 268.25 770.15 268.19 771.25 C268.14 772.35 268.05 773.46 267.94 774.52 C267.83 775.58 267.69 776.63 267.52 777.62 C267.36 778.62 267.17 779.59 266.96 780.49 C266.74 781.39 266.51 782.26 266.25 783.05 C265.99 783.84 265.72 784.57 265.42 785.23 C265.13 785.89 264.82 786.48 264.50 786.99 C264.17 787.49 263.84 787.93 263.49 788.27 C263.15 788.62 262.79 788.88 262.43 789.06 C262.08 789.23 261.71 789.32 261.35 789.32 C260.99 789.32 260.62 789.23 260.27 789.06 C259.91 788.88 259.55 788.62 259.21 788.27 C258.86 787.93 258.53 787.49 258.20 786.99 C257.88 786.48 257.57 785.89 257.28 785.23 C256.98 784.57 256.71 783.84 256.45 783.05 C256.19 782.26 255.96 781.39 255.74 780.49 C255.53 779.59 255.34 778.62 255.18 777.62 C255.01 776.63 254.87 775.58 254.76 774.52 C254.65 773.46 254.56 772.35 254.51 771.25 C254.45 770.15 254.41 769.02 254.42 767.90 C254.43 766.78 254.46 765.65 254.55 764.55 C254.63 763.45 254.76 762.34 254.92 761.28 C255.07 760.22 255.27 759.17 255.49 758.18 C255.71 757.18 255.97 756.21 256.23 755.31 C256.49 754.41 256.78 753.54 257.06 752.75 C257.35 751.96 257.65 751.23 257.94 750.57 C258.24 749.91 258.54 749.32 258.83 748.81 C259.12 748.31 259.41 747.87 259.69 747.53 C259.98 747.18 260.25 746.92 260.53 746.74 C260.81 746.57 261.08 746.48 261.35 746.48 C261.62 746.48 261.89 746.57 262.17 746.74 C262.45 746.92 262.72 747.18 263.01 747.53 C263.29 747.87 263.58 748.31 263.87 748.81 C264.16 749.32 264.46 749.91 264.76 750.57 C265.05 751.23 265.35 751.96 265.64 752.75 C265.92 753.54 266.21 754.41 266.47 755.31 C266.73 756.21 266.99 757.18 267.21 758.18 C267.43 759.17 267.63 760.22 267.78 761.28 C267.94 762.34 268.07 763.45 268.15 764.55 C268.24 765.65 268.27 766.78 268.28 767.90Z" fill="none" stroke="#a8a8a8" stroke-width="0.75"/>
<path d="M266.56 771.10 C266.57 771.92 266.54 772.74 266.50 773.55 C266.46 774.35 266.39 775.16 266.31 775.93 C266.23 776.71 266.13 777.47 266.01 778.20 C265.89 778.93 265.75 779.63 265.59 780.29 C265.44 780.95 265.26 781.58 265.08 782.16 C264.89 782.74 264.69 783.27 264.47 783.75 C264.26 784.23 264.03 784.67 263.80 785.04 C263.56 785.41 263.31 785.72 263.06 785.97 C262.81 786.23 262.55 786.42 262.29 786.55 C262.03 786.68 261.76 786.74 261.50 786.74 C261.24 786.74 260.97 786.68 260.71 786.55 C260.45 786.42 260.19 786.23 259.94 785.97 C259.69 785.72 259.44 785.41 259.20 785.04 C258.97 784.67 258.74 784.23 258.53 783.75 C258.31 783.27 258.11 782.74 257.92 782.16 C257.74 781.58 257.56 780.95 257.41 780.29 C257.25 779.63 257.11 778.93 256.99 778.20 C256.87 777.47 256.77 776.71 256.69 775.93 C256.61 775.16 256.54 774.35 256.50 773.55 C256.46 772.74 256.43 771.92 256.44 771.10 C256.45 770.28 256.47 769.46 256.53 768.65 C256.59 767.85 256.69 767.04 256.80 766.27 C256.92 765.49 257.06 764.73 257.22 764.00 C257.38 763.27 257.57 762.57 257.76 761.91 C257.95 761.25 258.16 760.62 258.37 760.04 C258.58 759.46 258.80 758.93 259.01 758.45 C259.23 757.97 259.45 757.53 259.66 757.16 C259.87 756.79 260.08 756.48 260.29 756.23 C260.50 755.97 260.70 755.78 260.90 755.65 C261.10 755.52 261.30 755.46 261.50 755.46 C261.70 755.46 261.90 755.52 262.10 755.65 C262.30 755.78 262.50 755.97 262.71 756.23 C262.92 756.48 263.13 756.79 263.34 757.16 C263.55 757.53 263.77 757.97 263.99 758.45 C264.20 758.93 264.42 759.46 264.63 760.04 C264.84 760.62 265.05 761.25 265.24 761.91 C265.43 762.57 265.62 763.27 265.78 764.00 C265.94 764.73 266.08 765.49 266.20 766.27 C266.31 767.04 266.41 767.85 266.47 768.65 C266.53 769.46 266.55 770.28 266.56 771.10Z" fill="none" stroke="#a8a8a8" stroke-width="0.75"/>
<path d="M264.84 774.30 C264.84 774.81 264.83 775.33 264.80 775.84 C264.77 776.35 264.74 776.86 264.68 777.35 C264.63 777.84 264.57 778.32 264.49 778.78 C264.42 779.23 264.33 779.68 264.23 780.10 C264.13 780.51 264.02 780.91 263.91 781.27 C263.79 781.64 263.66 781.97 263.53 782.28 C263.39 782.58 263.25 782.85 263.10 783.09 C262.95 783.32 262.79 783.52 262.64 783.68 C262.48 783.84 262.31 783.96 262.15 784.04 C261.98 784.12 261.82 784.16 261.65 784.16 C261.48 784.16 261.32 784.12 261.15 784.04 C260.99 783.96 260.82 783.84 260.66 783.68 C260.51 783.52 260.35 783.32 260.20 783.09 C260.05 782.85 259.91 782.58 259.77 782.28 C259.64 781.97 259.51 781.64 259.39 781.27 C259.28 780.91 259.17 780.51 259.07 780.10 C258.97 779.68 258.88 779.23 258.81 778.78 C258.73 778.32 258.67 777.84 258.62 777.35 C258.56 776.86 258.53 776.35 258.50 775.84 C258.47 775.33 258.46 774.81 258.46 774.30 C258.46 773.79 258.48 773.27 258.52 772.76 C258.56 772.25 258.62 771.74 258.69 771.25 C258.76 770.76 258.85 770.28 258.95 769.82 C259.05 769.37 259.17 768.92 259.29 768.50 C259.41 768.09 259.54 767.69 259.68 767.33 C259.81 766.96 259.95 766.63 260.08 766.32 C260.22 766.02 260.35 765.75 260.49 765.51 C260.62 765.28 260.76 765.08 260.89 764.92 C261.02 764.76 261.15 764.64 261.27 764.56 C261.40 764.48 261.52 764.44 261.65 764.44 C261.78 764.44 261.90 764.48 262.03 764.56 C262.15 764.64 262.28 764.76 262.41 764.92 C262.54 765.08 262.68 765.28 262.81 765.51 C262.95 765.75 263.08 766.02 263.22 766.32 C263.35 766.63 263.49 766.96 263.62 767.33 C263.76 767.69 263.89 768.09 264.01 768.50 C264.13 768.92 264.25 769.37 264.35 769.82 C264.45 770.28 264.54 770.76 264.61 771.25 C264.68 771.74 264.74 772.25 264.78 772.76 C264.82 773.27 264.84 773.79 264.84 774.30Z" fill="none" stroke="#a8a8a8" stroke-width="0.75"/>
<path d="M263.12 777.50 C263.12 777.71 263.11 777.93 263.10 778.14 C263.09 778.35 263.08 778.56 263.06 778.76 C263.03 778.96 263.01 779.16 262.98 779.35 C262.94 779.54 262.91 779.73 262.87 779.90 C262.83 780.07 262.78 780.23 262.73 780.38 C262.68 780.54 262.63 780.68 262.58 780.80 C262.52 780.93 262.46 781.04 262.40 781.14 C262.34 781.23 262.27 781.31 262.21 781.38 C262.14 781.45 262.07 781.50 262.01 781.53 C261.94 781.56 261.87 781.58 261.80 781.58 C261.73 781.58 261.66 781.56 261.59 781.53 C261.53 781.50 261.46 781.45 261.39 781.38 C261.33 781.31 261.26 781.23 261.20 781.14 C261.14 781.04 261.08 780.93 261.02 780.80 C260.97 780.68 260.92 780.54 260.87 780.38 C260.82 780.23 260.77 780.07 260.73 779.90 C260.69 779.73 260.66 779.54 260.62 779.35 C260.59 779.16 260.57 778.96 260.54 778.76 C260.52 778.56 260.51 778.35 260.50 778.14 C260.49 777.93 260.48 777.71 260.48 777.50 C260.48 777.29 260.49 777.07 260.50 776.86 C260.52 776.65 260.54 776.44 260.57 776.24 C260.60 776.04 260.64 775.84 260.68 775.65 C260.73 775.46 260.77 775.27 260.82 775.10 C260.87 774.93 260.93 774.77 260.98 774.62 C261.04 774.46 261.10 774.32 261.15 774.20 C261.21 774.07 261.26 773.96 261.32 773.86 C261.38 773.77 261.43 773.69 261.48 773.62 C261.54 773.55 261.59 773.50 261.64 773.47 C261.70 773.44 261.75 773.42 261.80 773.42 C261.85 773.42 261.90 773.44 261.96 773.47 C262.01 773.50 262.06 773.55 262.12 773.62 C262.17 773.69 262.22 773.77 262.28 773.86 C262.34 773.96 262.39 774.07 262.45 774.20 C262.50 774.32 262.56 774.46 262.62 774.62 C262.67 774.77 262.73 774.93 262.78 775.10 C262.83 775.27 262.87 775.46 262.92 775.65 C262.96 775.84 263.00 776.04 263.03 776.24 C263.06 776.44 263.08 776.65 263.10 776.86 C263.11 777.07 263.12 777.29 263.12 777.50Z" fill="none" stroke="#a8a8a8" stroke-width="0.75"/>
<path d="M318.40 760.10 C318.41 761.94 318.36 763.79 318.28 765.61 C318.20 767.42 318.08 769.23 317.92 770.98 C317.76 772.72 317.56 774.45 317.33 776.08 C317.10 777.72 316.83 779.31 316.53 780.79 C316.23 782.27 315.89 783.69 315.53 784.99 C315.17 786.29 314.77 787.50 314.36 788.58 C313.95 789.66 313.50 790.63 313.05 791.46 C312.59 792.30 312.11 793.01 311.63 793.58 C311.14 794.14 310.64 794.58 310.13 794.87 C309.63 795.15 309.11 795.30 308.60 795.30 C308.09 795.30 307.57 795.15 307.07 794.87 C306.56 794.58 306.06 794.14 305.57 793.58 C305.09 793.01 304.61 792.30 304.15 791.46 C303.70 790.63 303.25 789.66 302.84 788.58 C302.43 787.50 302.03 786.29 301.67 784.99 C301.31 783.69 300.97 782.27 300.67 780.79 C300.37 779.31 300.10 777.72 299.87 776.08 C299.64 774.45 299.44 772.72 299.28 770.98 C299.12 769.23 299.00 767.42 298.92 765.61 C298.84 763.79 298.79 761.94 298.80 760.10 C298.81 758.26 298.86 756.41 298.97 754.59 C299.08 752.78 299.25 750.97 299.46 749.22 C299.67 747.48 299.93 745.75 300.23 744.12 C300.52 742.48 300.86 740.89 301.22 739.41 C301.58 737.93 301.97 736.51 302.36 735.21 C302.76 733.91 303.18 732.70 303.59 731.62 C304.01 730.54 304.44 729.57 304.86 728.74 C305.28 727.90 305.70 727.19 306.12 726.62 C306.54 726.06 306.95 725.62 307.37 725.33 C307.78 725.05 308.19 724.90 308.60 724.90 C309.01 724.90 309.42 725.05 309.83 725.33 C310.25 725.62 310.66 726.06 311.08 726.62 C311.50 727.19 311.92 727.90 312.34 728.74 C312.76 729.57 313.19 730.54 313.61 731.62 C314.02 732.70 314.44 733.91 314.84 735.21 C315.23 736.51 315.62 737.93 315.98 739.41 C316.34 740.89 316.68 742.48 316.97 744.12 C317.27 745.75 317.53 747.48 317.74 749.22 C317.95 750.97 318.12 752.78 318.23 754.59 C318.34 756.41 318.39 758.26 318.40 760.10Z" fill="none" stroke="#a8a8a8" stroke-width="0.75"/>
<path d="M317.30 761.75 C317.30 763.33 317.26 764.92 317.19 766.48 C317.12 768.03 317.02 769.59 316.88 771.09 C316.75 772.58 316.58 774.06 316.38 775.47 C316.18 776.87 315.95 778.23 315.69 779.51 C315.43 780.78 315.14 782.00 314.83 783.11 C314.52 784.23 314.18 785.27 313.83 786.19 C313.47 787.12 313.09 787.96 312.70 788.67 C312.31 789.39 311.90 790.00 311.48 790.48 C311.07 790.97 310.63 791.34 310.20 791.59 C309.77 791.84 309.32 791.96 308.88 791.96 C308.44 791.96 308.00 791.84 307.57 791.59 C307.13 791.34 306.70 790.97 306.28 790.48 C305.87 790.00 305.46 789.39 305.06 788.67 C304.67 787.96 304.29 787.12 303.94 786.19 C303.58 785.27 303.25 784.23 302.94 783.11 C302.63 782.00 302.34 780.78 302.08 779.51 C301.82 778.23 301.59 776.87 301.39 775.47 C301.19 774.06 301.02 772.58 300.88 771.09 C300.75 769.59 300.64 768.03 300.58 766.48 C300.51 764.92 300.46 763.33 300.47 761.75 C300.48 760.17 300.52 758.58 300.62 757.02 C300.71 755.47 300.86 753.91 301.04 752.41 C301.22 750.92 301.45 749.44 301.70 748.03 C301.95 746.63 302.24 745.27 302.55 743.99 C302.85 742.72 303.19 741.50 303.53 740.39 C303.87 739.27 304.23 738.23 304.59 737.31 C304.94 736.38 305.31 735.54 305.67 734.83 C306.03 734.11 306.40 733.50 306.75 733.02 C307.11 732.53 307.47 732.16 307.82 731.91 C308.18 731.66 308.53 731.54 308.88 731.54 C309.24 731.54 309.59 731.66 309.94 731.91 C310.30 732.16 310.65 732.53 311.01 733.02 C311.37 733.50 311.73 734.11 312.10 734.83 C312.46 735.54 312.82 736.38 313.18 737.31 C313.54 738.23 313.90 739.27 314.24 740.39 C314.58 741.50 314.91 742.72 315.22 743.99 C315.52 745.27 315.82 746.63 316.07 748.03 C316.32 749.44 316.55 750.92 316.73 752.41 C316.91 753.91 317.06 755.47 317.15 757.02 C317.24 758.58 317.29 760.17 317.30 761.75Z" fill="none" stroke="#a8a8a8" stroke-width="0.75"/>
<path d="M316.19 763.40 C316.20 764.72 316.16 766.05 316.10 767.35 C316.05 768.65 315.96 769.94 315.85 771.20 C315.73 772.45 315.59 773.68 315.42 774.85 C315.26 776.02 315.06 777.16 314.85 778.23 C314.63 779.29 314.39 780.31 314.13 781.24 C313.87 782.17 313.59 783.04 313.29 783.81 C313.00 784.58 312.68 785.28 312.36 785.88 C312.03 786.47 311.69 786.99 311.34 787.39 C310.99 787.80 310.63 788.11 310.27 788.32 C309.90 788.52 309.53 788.63 309.17 788.63 C308.80 788.63 308.43 788.52 308.07 788.32 C307.71 788.11 307.34 787.80 307.00 787.39 C306.65 786.99 306.30 786.47 305.98 785.88 C305.65 785.28 305.33 784.58 305.04 783.81 C304.74 783.04 304.46 782.17 304.20 781.24 C303.94 780.31 303.70 779.29 303.48 778.23 C303.27 777.16 303.08 776.02 302.91 774.85 C302.74 773.68 302.60 772.45 302.49 771.20 C302.37 769.94 302.29 768.65 302.23 767.35 C302.17 766.05 302.14 764.72 302.14 763.40 C302.15 762.08 302.19 760.75 302.26 759.45 C302.34 758.15 302.46 756.86 302.61 755.60 C302.77 754.35 302.96 753.12 303.17 751.95 C303.38 750.78 303.62 749.64 303.88 748.57 C304.13 747.51 304.41 746.49 304.70 745.56 C304.98 744.63 305.28 743.76 305.58 742.99 C305.88 742.22 306.18 741.52 306.48 740.92 C306.79 740.33 307.09 739.81 307.39 739.41 C307.69 739.00 307.99 738.69 308.28 738.48 C308.58 738.28 308.87 738.17 309.17 738.17 C309.46 738.17 309.75 738.28 310.05 738.48 C310.35 738.69 310.64 739.00 310.94 739.41 C311.24 739.81 311.55 740.33 311.85 740.92 C312.15 741.52 312.46 742.22 312.75 742.99 C313.05 743.76 313.35 744.63 313.64 745.56 C313.92 746.49 314.20 747.51 314.46 748.57 C314.71 749.64 314.96 750.78 315.17 751.95 C315.38 753.12 315.57 754.35 315.72 755.60 C315.87 756.86 315.99 758.15 316.07 759.45 C316.15 760.75 316.18 762.08 316.19 763.40Z" fill="none" stroke="#a8a8a8" stroke-width="0.75"/>
<path d="M315.09 765.05 C315.09 766.11 315.06 767.17 315.02 768.22 C314.97 769.26 314.90 770.30 314.81 771.30 C314.72 772.31 314.60 773.30 314.47 774.24 C314.34 775.18 314.18 776.09 314.01 776.95 C313.84 777.80 313.64 778.62 313.43 779.36 C313.23 780.11 313.00 780.80 312.76 781.42 C312.52 782.04 312.27 782.60 312.01 783.08 C311.75 783.56 311.47 783.97 311.19 784.30 C310.91 784.63 310.62 784.88 310.33 785.04 C310.04 785.21 309.74 785.29 309.45 785.29 C309.16 785.29 308.86 785.21 308.57 785.04 C308.28 784.88 307.99 784.63 307.71 784.30 C307.43 783.97 307.15 783.56 306.89 783.08 C306.63 782.60 306.38 782.04 306.14 781.42 C305.90 780.80 305.67 780.11 305.47 779.36 C305.26 778.62 305.06 777.80 304.89 776.95 C304.72 776.09 304.56 775.18 304.43 774.24 C304.30 773.30 304.18 772.31 304.09 771.30 C304.00 770.30 303.93 769.26 303.88 768.22 C303.84 767.17 303.81 766.11 303.82 765.05 C303.82 763.99 303.85 762.93 303.91 761.88 C303.97 760.84 304.07 759.80 304.19 758.80 C304.31 757.79 304.47 756.80 304.64 755.86 C304.80 754.92 305.00 754.01 305.21 753.15 C305.41 752.30 305.64 751.48 305.86 750.74 C306.09 749.99 306.33 749.30 306.57 748.68 C306.81 748.06 307.06 747.50 307.30 747.02 C307.54 746.54 307.78 746.13 308.02 745.80 C308.26 745.47 308.50 745.22 308.74 745.06 C308.98 744.89 309.21 744.81 309.45 744.81 C309.69 744.81 309.92 744.89 310.16 745.06 C310.40 745.22 310.64 745.47 310.88 745.80 C311.12 746.13 311.36 746.54 311.60 747.02 C311.84 747.50 312.09 748.06 312.33 748.68 C312.57 749.30 312.81 749.99 313.04 750.74 C313.26 751.48 313.49 752.30 313.69 753.15 C313.90 754.01 314.10 754.92 314.26 755.86 C314.43 756.80 314.59 757.79 314.71 758.80 C314.83 759.80 314.93 760.84 314.99 761.88 C315.05 762.93 315.08 763.99 315.09 765.05Z" fill="none" stroke="#a8a8a8" stroke-width="0.75"/>
<path d="M313.98 766.70 C313.98 767.50 313.96 768.30 313.93 769.09 C313.89 769.87 313.84 770.66 313.77 771.41 C313.70 772.17 313.62 772.92 313.52 773.62 C313.42 774.33 313.30 775.02 313.17 775.67 C313.04 776.31 312.89 776.92 312.74 777.49 C312.58 778.05 312.41 778.57 312.23 779.04 C312.05 779.51 311.86 779.93 311.66 780.29 C311.46 780.65 311.26 780.96 311.05 781.21 C310.84 781.45 310.62 781.64 310.40 781.77 C310.18 781.89 309.95 781.95 309.73 781.95 C309.51 781.95 309.29 781.89 309.07 781.77 C308.85 781.64 308.63 781.45 308.42 781.21 C308.21 780.96 308.00 780.65 307.81 780.29 C307.61 779.93 307.42 779.51 307.24 779.04 C307.06 778.57 306.89 778.05 306.73 777.49 C306.57 776.92 306.43 776.31 306.30 775.67 C306.17 775.02 306.05 774.33 305.95 773.62 C305.85 772.92 305.76 772.17 305.69 771.41 C305.63 770.66 305.57 769.87 305.54 769.09 C305.50 768.30 305.48 767.50 305.49 766.70 C305.49 765.90 305.51 765.10 305.56 764.31 C305.61 763.53 305.68 762.74 305.77 761.99 C305.86 761.23 305.98 760.48 306.11 759.78 C306.23 759.07 306.38 758.38 306.54 757.73 C306.69 757.09 306.86 756.48 307.03 755.91 C307.20 755.35 307.38 754.83 307.56 754.36 C307.74 753.89 307.93 753.47 308.11 753.11 C308.29 752.75 308.48 752.44 308.66 752.19 C308.84 751.95 309.02 751.76 309.20 751.63 C309.38 751.51 309.56 751.45 309.73 751.45 C309.91 751.45 310.09 751.51 310.27 751.63 C310.45 751.76 310.63 751.95 310.81 752.19 C310.99 752.44 311.17 752.75 311.36 753.11 C311.54 753.47 311.72 753.89 311.90 754.36 C312.08 754.83 312.26 755.35 312.44 755.91 C312.61 756.48 312.78 757.09 312.93 757.73 C313.09 758.38 313.23 759.07 313.36 759.78 C313.49 760.48 313.60 761.23 313.70 761.99 C313.79 762.74 313.86 763.53 313.91 764.31 C313.95 765.10 313.98 765.90 313.98 766.70Z" fill="none" stroke="#a8a8a8" stroke-width="0.75"/>
<path d="M312.88 768.35 C312.88 768.89 312.86 769.43 312.84 769.96 C312.82 770.48 312.78 771.01 312.74 771.52 C312.69 772.03 312.63 772.53 312.56 773.01 C312.50 773.49 312.42 773.95 312.33 774.38 C312.24 774.82 312.14 775.23 312.04 775.61 C311.93 775.99 311.82 776.34 311.70 776.66 C311.58 776.97 311.45 777.25 311.31 777.50 C311.18 777.74 311.04 777.95 310.90 778.11 C310.76 778.28 310.61 778.41 310.46 778.49 C310.32 778.57 310.17 778.62 310.02 778.62 C309.87 778.62 309.72 778.57 309.57 778.49 C309.42 778.41 309.28 778.28 309.13 778.11 C308.99 777.95 308.85 777.74 308.72 777.50 C308.59 777.25 308.46 776.97 308.34 776.66 C308.22 776.34 308.10 775.99 308.00 775.61 C307.89 775.23 307.79 774.82 307.70 774.38 C307.62 773.95 307.54 773.49 307.47 773.01 C307.40 772.53 307.34 772.03 307.30 771.52 C307.25 771.01 307.22 770.48 307.19 769.96 C307.17 769.43 307.16 768.89 307.16 768.35 C307.16 767.81 307.18 767.27 307.21 766.74 C307.24 766.22 307.29 765.69 307.35 765.18 C307.41 764.67 307.49 764.17 307.57 763.69 C307.66 763.21 307.76 762.75 307.86 762.32 C307.97 761.88 308.08 761.47 308.20 761.09 C308.31 760.71 308.44 760.36 308.56 760.04 C308.68 759.73 308.80 759.45 308.93 759.20 C309.05 758.96 309.17 758.75 309.29 758.59 C309.42 758.42 309.54 758.29 309.66 758.21 C309.78 758.13 309.90 758.08 310.02 758.08 C310.14 758.08 310.26 758.13 310.38 758.21 C310.50 758.29 310.62 758.42 310.74 758.59 C310.86 758.75 310.99 758.96 311.11 759.20 C311.23 759.45 311.36 759.73 311.48 760.04 C311.60 760.36 311.72 760.71 311.84 761.09 C311.95 761.47 312.07 761.88 312.17 762.32 C312.27 762.75 312.37 763.21 312.46 763.69 C312.54 764.17 312.62 764.67 312.68 765.18 C312.74 765.69 312.79 766.22 312.83 766.74 C312.86 767.27 312.87 767.81 312.88 768.35Z" fill="none" stroke="#a8a8a8" stroke-width="0.75"/>
<path d="M311.77 770.00 C311.77 770.28 311.76 770.55 311.75 770.83 C311.74 771.10 311.72 771.37 311.70 771.63 C311.67 771.89 311.64 772.15 311.61 772.40 C311.57 772.64 311.53 772.88 311.49 773.10 C311.44 773.33 311.39 773.54 311.34 773.73 C311.29 773.93 311.23 774.11 311.16 774.27 C311.10 774.43 311.04 774.58 310.97 774.70 C310.90 774.83 310.83 774.94 310.75 775.02 C310.68 775.11 310.61 775.17 310.53 775.21 C310.45 775.26 310.38 775.28 310.30 775.28 C310.22 775.28 310.15 775.26 310.07 775.21 C309.99 775.17 309.92 775.11 309.85 775.02 C309.77 774.94 309.70 774.83 309.63 774.70 C309.56 774.58 309.50 774.43 309.44 774.27 C309.37 774.11 309.31 773.93 309.26 773.73 C309.21 773.54 309.16 773.33 309.11 773.10 C309.07 772.88 309.03 772.64 308.99 772.40 C308.96 772.15 308.93 771.89 308.90 771.63 C308.88 771.37 308.86 771.10 308.85 770.83 C308.84 770.55 308.83 770.28 308.83 770.00 C308.83 769.72 308.84 769.45 308.86 769.17 C308.87 768.90 308.90 768.63 308.93 768.37 C308.96 768.11 309.00 767.85 309.04 767.60 C309.09 767.36 309.14 767.12 309.19 766.90 C309.25 766.67 309.31 766.46 309.36 766.27 C309.42 766.07 309.49 765.89 309.55 765.73 C309.61 765.57 309.68 765.42 309.74 765.30 C309.80 765.17 309.87 765.06 309.93 764.98 C309.99 764.89 310.05 764.83 310.11 764.79 C310.18 764.74 310.24 764.72 310.30 764.72 C310.36 764.72 310.42 764.74 310.49 764.79 C310.55 764.83 310.61 764.89 310.67 764.98 C310.73 765.06 310.80 765.17 310.86 765.30 C310.92 765.42 310.99 765.57 311.05 765.73 C311.11 765.89 311.18 766.07 311.24 766.27 C311.29 766.46 311.35 766.67 311.41 766.90 C311.46 767.12 311.51 767.36 311.56 767.60 C311.60 767.85 311.64 768.11 311.67 768.37 C311.70 768.63 311.73 768.90 311.74 769.17 C311.76 769.45 311.77 769.72 311.77 770.00Z" fill="none" stroke="#a8a8a8" stroke-width="0.75"/>
<line x1="282.20" y1="705.70" x2="282.20" y2="808.30" stroke="#444" stroke-width="1.0"/>
<line x1="235.20" y1="766.90" x2="282.20" y2="766.90" stroke="#444" stroke-width="1.0"/>
<line x1="282.20" y1="759.80" x2="352.30" y2="759.80" stroke="#444" stroke-width="1.0"/>
<text x="245.70" y="720.70" font-family="Liberation Sans, sans-serif" font-size="6.5" text-anchor="middle" fill="#222">Q1</text>
<text x="341.50" y="720.70" font-family="Liberation Sans, sans-serif" font-size="6.5" text-anchor="middle" fill="#222">Q2</text>
<text x="245.70" y="799.70" font-family="Liberation Sans, sans-serif" font-size="6.5" text-anchor="middle" fill="#222">Q3</text>
<text x="341.50" y="799.70" font-family="Liberation Sans, sans-serif" font-size="6.5" text-anchor="middle" fill="#222">Q4</text>
<rect x="213.60" y="841.00" width="142.40" height="137.10" fill="none" stroke="#555" stroke-width="1.3"/>
<rect x="235.20" y="853.30" width="117.10" height="102.90" fill="none" stroke="#555" stroke-width="1.2"/>
<path d="M236.83 956.20v2.2M240.50 956.20v2.2M243.35 956.20v2.2M245.68 956.20v2.2M247.65 956.20v2.2M249.35 956.20v2.2M250.85 956.20v2.2M252.20 956.20v3.6M261.05 956.20v2.2M266.23 956.20v2.2M269.90 956.20v2.2M272.75 956.20v2.2M275.08 956.20v2.2M277.05 956.20v2.2M278.75 956.20v2.2M280.25 956.20v2.2M281.60 956.20v3.6M290.45 956.20v2.2M295.63 956.20v2.2M299.30 956.20v2.2M302.15 956.20v2.2M304.48 956.20v2.2M306.45 956.20v2.2M308.15 956.20v2.2M309.65 956.20v2.2M311.00 956.20v3.6M319.85 956.20v2.2M325.03 956.20v2.2M328.70 956.20v2.2M331.55 956.20v2.2M333.88 956.20v2.2M335.85 956.20v2.2M337.55 956.20v2.2M339.05 956.20v2.2M340.40 956.20v3.6M349.25 956.20v2.2M235.20 952.67h-2.2M235.20 950.17h-2.2M235.20 948.12h-2.2M235.20 946.40h-2.2M235.20 944.90h-2.2M235.20 943.58h-2.2M235.20 942.40h-3.6M235.20 934.63h-2.2M235.20 930.09h-2.2M235.20 926.87h-2.2M235.20 924.37h-2.2M235.20 922.32h-2.2M235.20 920.60h-2.2M235.20 919.10h-2.2M235.20 917.78h-2.2M235.20 916.60h-3.6M235.20 908.83h-2.2M235.20 904.29h-2.2M235.20 901.07h-2.2M235.20 898.57h-2.2M235.20 896.52h-2.2M235.20 894.80h-2.2M235.20 893.30h-2.2M235.20 891.98h-2.2M235.20 890.80h-3.6M235.20 883.03h-2.2M235.20 878.49h-2.2M235.20 875.27h-2.2M235.20 872.77h-2.2M235.20 870.72h-2.2M235.20 869.00h-2.2M235.20 867.50h-2.2M235.20 866.18h-2.2M235.20 865.00h-3.6M235.20 857.23h-2.2" stroke="#444" stroke-width="0.8" fill="none"/>
<text x="251.00" y="967.20" font-family="Liberation Sans, sans-serif" font-size="4.8" text-anchor="middle" fill="#333">10</text>
<text x="253.80" y="964.50" font-family="Liberation Sans, sans-serif" font-size="3.5" text-anchor="start" fill="#333">2</text>
<text x="280.40" y="967.20" font-family="Liberation Sans, sans-serif" font-size="4.8" text-anchor="middle" fill="#333">10</text>
<text x="283.20" y="964.50" font-family="Liberation Sans, sans-serif" font-size="3.5" text-anchor="start" fill="#333">3</text>
<text x="309.80" y="967.20" font-family="Liberation Sans, sans-serif" font-size="4.8" text-anchor="middle" fill="#333">10</text>
<text x="312.60" y="964.50" font-family="Liberation Sans, sans-serif" font-size="3.5" text-anchor="start" fill="#333">4</text>
<text x="339.20" y="967.20" font-family="Liberation Sans, sans-serif" font-size="4.8" text-anchor="middle" fill="#333">10</text>
<text x="342.00" y="964.50" font-family="Liberation Sans, sans-serif" font-size="3.5" text-anchor="start" fill="#333">5</text>
<text x="229.70" y="942.40" font-family="Liberation Sans, sans-serif" font-size="4.6" text-anchor="middle" fill="#333" transform="rotate(-90 229.7 942.4000000000001)">10</text>
<text x="226.70" y="940.90" font-family="Liberation Sans, sans-serif" font-size="3.4" text-anchor="start" fill="#333" transform="rotate(-90 226.7 940.9000000000001)">2</text>
<text x="229.70" y="916.60" font-family="Liberation Sans, sans-serif" font-size="4.6" text-anchor="middle" fill="#333" transform="rotate(-90 229.7 916.6000000000001)">10</text>
<text x="226.70" y="915.10" font-family="Liberation Sans, sans-serif" font-size="3.4" text-anchor="start" fill="#333" transform="rotate(-90 226.7 915.1000000000001)">3</text>
<text x="229.70" y="890.80" font-family="Liberation Sans, sans-serif" font-size="4.6" text-anchor="middle" fill="#333" transform="rotate(-90 229.7 890.8000000000001)">10</text>
<text x="226.70" y="889.30" font-family="Liberation Sans, sans-serif" font-size="3.4" text-anchor="start" fill="#333" transform="rotate(-90 226.7 889.3000000000001)">4</text>
<text x="229.70" y="865.00" font-family="Liberation Sans, sans-serif" font-size="4.6" text-anchor="middle" fill="#333" transform="rotate(-90 229.7 865.0000000000001)">10</text>
<text x="226.70" y="863.50" font-family="Liberation Sans, sans-serif" font-size="3.4" text-anchor="start" fill="#333" transform="rotate(-90 226.7 863.5000000000001)">5</text>
<text x="222.60" y="904.20" font-family="Liberation Sans, sans-serif" font-size="6.4" text-anchor="middle" fill="#222" transform="rotate(-90 222.6 904.2)">CD38 PE-A</text>
<text x="294.35" y="973.60" font-family="Liberation Sans, sans-serif" font-size="6.2" text-anchor="middle" fill="#222">CD4 FITC-A</text>
<path d="M293.7 928.0h0.9v0.9h-0.9zM247.6 902.2h0.9v0.9h-0.9zM305.9 873.7h0.9v0.9h-0.9zM295.3 914.0h0.9v0.9h-0.9zM247.0 927.6h0.9v0.9h-0.9zM298.1 889.7h0.9v0.9h-0.9zM345.7 890.7h0.9v0.9h-0.9zM282.0 871.8h0.9v0.9h-0.9zM278.3 903.6h0.9v0.9h-0.9zM349.8 874.4h0.9v0.9h-0.9zM239.8 934.4h0.9v0.9h-0.9zM264.9 887.2h0.9v0.9h-0.9zM283.0 945.6h0.9v0.9h-0.9zM249.9 860.8h0.9v0.9h-0.9zM281.3 859.0h0.9v0.9h-0.9zM277.5 857.8h0.9v0.9h-0.9zM334.8 890.0h0.9v0.9h-0.9zM270.5 870.6h0.9v0.9h-0.9zM267.2 908.6h0.9v0.9h-0.9zM265.6 897.8h0.9v0.9h-0.9zM250.0 897.4h0.9v0.9h-0.9zM290.0 937.5h0.9v0.9h-0.9zM330.8 948.8h0.9v0.9h-0.9zM247.7 920.0h0.9v0.9h-0.9zM257.2 889.0h0.9v0.9h-0.9zM344.7 915.0h0.9v0.9h-0.9zM257.1 915.0h0.9v0.9h-0.9zM271.8 900.7h0.9v0.9h-0.9zM346.7 919.3h0.9v0.9h-0.9zM337.1 933.4h0.9v0.9h-0.9zM287.1 860.5h0.9v0.9h-0.9zM318.5 870.3h0.9v0.9h-0.9zM297.1 946.0h0.9v0.9h-0.9zM328.4 906.6h0.9v0.9h-0.9zM283.9 928.0h0.9v0.9h-0.9zM311.7 928.3h0.9v0.9h-0.9zM244.1 906.0h0.9v0.9h-0.9zM247.7 867.2h0.9v0.9h-0.9zM280.3 933.1h0.9v0.9h-0.9zM294.8 941.2h0.9v0.9h-0.9zM308.3 866.0h0.9v0.9h-0.9zM324.2 866.0h0.9v0.9h-0.9zM238.0 945.3h0.9v0.9h-0.9zM319.4 868.7h0.9v0.9h-0.9zM313.1 897.3h0.9v0.9h-0.9zM290.3 867.9h0.9v0.9h-0.9zM295.7 863.5h0.9v0.9h-0.9zM297.3 860.6h0.9v0.9h-0.9zM294.9 890.1h0.9v0.9h-0.9zM323.6 870.0h0.9v0.9h-0.9zM241.3 946.6h0.9v0.9h-0.9zM329.4 935.4h0.9v0.9h-0.9zM301.7 946.1h0.9v0.9h-0.9zM349.8 921.7h0.9v0.9h-0.9zM269.5 934.4h0.9v0.9h-0.9zM280.7 922.3h0.9v0.9h-0.9zM278.2 871.6h0.9v0.9h-0.9zM302.6 909.4h0.9v0.9h-0.9zM346.8 858.5h0.9v0.9h-0.9zM237.4 913.5h0.9v0.9h-0.9zM246.4 928.5h0.9v0.9h-0.9zM262.2 915.3h0.9v0.9h-0.9zM266.9 904.6h0.9v0.9h-0.9zM258.3 935.3h0.9v0.9h-0.9zM248.6 916.1h0.9v0.9h-0.9zM258.7 919.4h0.9v0.9h-0.9zM253.6 918.3h0.9v0.9h-0.9zM268.6 909.9h0.9v0.9h-0.9zM249.6 908.3h0.9v0.9h-0.9zM265.5 907.7h0.9v0.9h-0.9zM257.4 902.5h0.9v0.9h-0.9zM262.0 908.4h0.9v0.9h-0.9zM253.7 950.6h0.9v0.9h-0.9zM263.0 915.4h0.9v0.9h-0.9zM259.1 902.0h0.9v0.9h-0.9zM257.7 898.1h0.9v0.9h-0.9zM251.0 938.7h0.9v0.9h-0.9zM254.9 905.3h0.9v0.9h-0.9zM244.9 919.5h0.9v0.9h-0.9zM263.0 884.5h0.9v0.9h-0.9zM256.9 878.0h0.9v0.9h-0.9zM270.3 921.1h0.9v0.9h-0.9zM247.7 885.5h0.9v0.9h-0.9zM271.0 920.5h0.9v0.9h-0.9zM262.5 932.4h0.9v0.9h-0.9zM255.7 900.9h0.9v0.9h-0.9zM262.8 906.9h0.9v0.9h-0.9zM249.6 908.1h0.9v0.9h-0.9zM248.8 903.2h0.9v0.9h-0.9zM268.3 908.8h0.9v0.9h-0.9zM244.0 908.2h0.9v0.9h-0.9zM259.2 912.0h0.9v0.9h-0.9zM269.4 917.1h0.9v0.9h-0.9zM260.0 925.5h0.9v0.9h-0.9zM269.2 924.6h0.9v0.9h-0.9zM257.5 917.2h0.9v0.9h-0.9zM254.1 901.8h0.9v0.9h-0.9zM268.0 925.2h0.9v0.9h-0.9zM265.8 930.8h0.9v0.9h-0.9zM258.5 918.8h0.9v0.9h-0.9zM269.6 909.4h0.9v0.9h-0.9zM267.0 875.2h0.9v0.9h-0.9zM256.2 927.6h0.9v0.9h-0.9zM260.9 920.4h0.9v0.9h-0.9zM260.0 943.7h0.9v0.9h-0.9zM260.6 950.0h0.9v0.9h-0.9zM263.2 928.1h0.9v0.9h-0.9zM269.9 908.1h0.9v0.9h-0.9zM269.9 926.8h0.9v0.9h-0.9zM259.9 895.3h0.9v0.9h-0.9zM259.8 918.0h0.9v0.9h-0.9zM251.8 902.5h0.9v0.9h-0.9zM271.8 925.4h0.9v0.9h-0.9zM266.3 884.4h0.9v0.9h-0.9zM254.6 910.3h0.9v0.9h-0.9zM260.7 920.0h0.9v0.9h-0.9zM270.7 912.3h0.9v0.9h-0.9zM254.1 910.2h0.9v0.9h-0.9zM261.4 902.8h0.9v0.9h-0.9zM259.3 912.0h0.9v0.9h-0.9zM257.2 943.1h0.9v0.9h-0.9zM259.9 905.8h0.9v0.9h-0.9zM244.3 893.0h0.9v0.9h-0.9zM266.8 897.7h0.9v0.9h-0.9zM255.9 908.5h0.9v0.9h-0.9zM260.3 929.1h0.9v0.9h-0.9zM248.7 911.5h0.9v0.9h-0.9zM276.8 930.6h0.9v0.9h-0.9zM263.7 941.6h0.9v0.9h-0.9zM244.7 900.4h0.9v0.9h-0.9zM254.7 920.5h0.9v0.9h-0.9zM256.7 911.0h0.9v0.9h-0.9zM251.9 933.3h0.9v0.9h-0.9zM249.0 931.3h0.9v0.9h-0.9zM249.3 923.4h0.9v0.9h-0.9zM252.7 896.0h0.9v0.9h-0.9zM260.4 910.0h0.9v0.9h-0.9zM260.9 914.7h0.9v0.9h-0.9zM268.7 914.8h0.9v0.9h-0.9zM257.9 905.0h0.9v0.9h-0.9zM242.2 920.8h0.9v0.9h-0.9zM258.0 924.2h0.9v0.9h-0.9zM267.3 922.0h0.9v0.9h-0.9zM250.2 902.1h0.9v0.9h-0.9zM260.4 909.1h0.9v0.9h-0.9zM261.5 895.1h0.9v0.9h-0.9zM251.4 902.9h0.9v0.9h-0.9zM257.5 927.3h0.9v0.9h-0.9zM251.4 912.3h0.9v0.9h-0.9zM269.9 913.0h0.9v0.9h-0.9zM264.0 935.6h0.9v0.9h-0.9zM259.5 905.8h0.9v0.9h-0.9zM264.2 916.3h0.9v0.9h-0.9zM264.2 889.5h0.9v0.9h-0.9zM252.6 932.7h0.9v0.9h-0.9zM249.1 912.9h0.9v0.9h-0.9zM248.3 930.6h0.9v0.9h-0.9zM249.5 930.1h0.9v0.9h-0.9zM265.2 915.4h0.9v0.9h-0.9zM267.3 926.2h0.9v0.9h-0.9zM270.5 889.9h0.9v0.9h-0.9zM249.0 906.4h0.9v0.9h-0.9zM259.0 881.5h0.9v0.9h-0.9zM268.3 933.9h0.9v0.9h-0.9zM272.5 927.1h0.9v0.9h-0.9zM256.6 942.0h0.9v0.9h-0.9zM256.3 940.7h0.9v0.9h-0.9zM256.2 944.7h0.9v0.9h-0.9zM262.4 912.8h0.9v0.9h-0.9zM265.1 889.3h0.9v0.9h-0.9zM266.5 909.0h0.9v0.9h-0.9zM255.7 954.3h0.9v0.9h-0.9zM270.1 926.5h0.9v0.9h-0.9zM251.5 937.8h0.9v0.9h-0.9zM263.9 930.5h0.9v0.9h-0.9zM269.3 927.1h0.9v0.9h-0.9zM267.6 910.5h0.9v0.9h-0.9zM262.5 895.9h0.9v0.9h-0.9zM256.3 932.6h0.9v0.9h-0.9zM258.6 899.8h0.9v0.9h-0.9zM253.7 946.6h0.9v0.9h-0.9zM254.0 926.6h0.9v0.9h-0.9zM251.7 928.7h0.9v0.9h-0.9zM267.5 916.9h0.9v0.9h-0.9zM250.3 885.3h0.9v0.9h-0.9zM253.9 900.3h0.9v0.9h-0.9zM269.3 933.8h0.9v0.9h-0.9zM262.2 893.4h0.9v0.9h-0.9zM272.3 894.4h0.9v0.9h-0.9zM271.0 943.8h0.9v0.9h-0.9zM262.5 878.1h0.9v0.9h-0.9zM267.7 914.9h0.9v0.9h-0.9zM250.9 923.1h0.9v0.9h-0.9zM261.2 952.5h0.9v0.9h-0.9zM272.6 936.0h0.9v0.9h-0.9zM262.9 924.6h0.9v0.9h-0.9zM261.7 884.3h0.9v0.9h-0.9zM279.9 911.5h0.9v0.9h-0.9zM265.6 885.0h0.9v0.9h-0.9zM248.7 921.4h0.9v0.9h-0.9zM268.2 890.9h0.9v0.9h-0.9zM240.6 934.8h0.9v0.9h-0.9zM263.3 928.1h0.9v0.9h-0.9zM262.5 906.5h0.9v0.9h-0.9zM256.1 924.2h0.9v0.9h-0.9zM253.7 920.5h0.9v0.9h-0.9zM256.3 918.5h0.9v0.9h-0.9zM280.1 916.7h0.9v0.9h-0.9zM251.3 930.0h0.9v0.9h-0.9zM253.5 917.8h0.9v0.9h-0.9zM258.2 909.6h0.9v0.9h-0.9zM256.6 923.4h0.9v0.9h-0.9zM272.6 903.7h0.9v0.9h-0.9zM262.2 939.0h0.9v0.9h-0.9zM258.5 931.6h0.9v0.9h-0.9zM265.3 878.8h0.9v0.9h-0.9zM262.0 911.2h0.9v0.9h-0.9zM258.3 914.2h0.9v0.9h-0.9zM257.4 915.2h0.9v0.9h-0.9zM258.6 925.5h0.9v0.9h-0.9zM258.6 940.9h0.9v0.9h-0.9zM256.6 943.7h0.9v0.9h-0.9zM259.2 880.8h0.9v0.9h-0.9zM269.3 932.7h0.9v0.9h-0.9zM250.3 881.9h0.9v0.9h-0.9zM262.6 935.7h0.9v0.9h-0.9zM265.3 924.6h0.9v0.9h-0.9zM259.0 901.7h0.9v0.9h-0.9zM259.4 907.5h0.9v0.9h-0.9zM268.3 907.5h0.9v0.9h-0.9zM256.6 938.9h0.9v0.9h-0.9zM264.2 905.9h0.9v0.9h-0.9zM263.8 908.8h0.9v0.9h-0.9zM261.2 923.9h0.9v0.9h-0.9zM261.3 946.7h0.9v0.9h-0.9zM265.9 905.7h0.9v0.9h-0.9zM270.7 921.5h0.9v0.9h-0.9zM251.7 903.0h0.9v0.9h-0.9zM267.5 935.2h0.9v0.9h-0.9zM254.6 895.0h0.9v0.9h-0.9zM253.1 923.5h0.9v0.9h-0.9zM261.1 923.8h0.9v0.9h-0.9zM261.1 909.3h0.9v0.9h-0.9zM246.7 937.5h0.9v0.9h-0.9zM271.9 950.9h0.9v0.9h-0.9zM256.3 916.6h0.9v0.9h-0.9zM264.8 922.5h0.9v0.9h-0.9zM262.6 920.0h0.9v0.9h-0.9zM264.3 938.1h0.9v0.9h-0.9zM260.3 931.4h0.9v0.9h-0.9zM262.0 917.9h0.9v0.9h-0.9zM260.3 915.2h0.9v0.9h-0.9zM257.1 902.5h0.9v0.9h-0.9zM268.1 911.5h0.9v0.9h-0.9zM260.9 916.7h0.9v0.9h-0.9zM262.3 947.3h0.9v0.9h-0.9zM255.5 932.4h0.9v0.9h-0.9zM254.9 877.0h0.9v0.9h-0.9zM261.0 906.8h0.9v0.9h-0.9zM249.1 939.0h0.9v0.9h-0.9zM270.4 937.3h0.9v0.9h-0.9zM256.8 883.7h0.9v0.9h-0.9zM257.3 914.3h0.9v0.9h-0.9zM255.9 945.4h0.9v0.9h-0.9zM260.7 903.2h0.9v0.9h-0.9zM263.5 908.8h0.9v0.9h-0.9zM265.0 918.0h0.9v0.9h-0.9zM254.7 897.3h0.9v0.9h-0.9zM251.3 935.9h0.9v0.9h-0.9zM258.6 919.7h0.9v0.9h-0.9zM258.7 919.9h0.9v0.9h-0.9zM254.1 903.9h0.9v0.9h-0.9zM268.8 935.7h0.9v0.9h-0.9zM251.9 909.9h0.9v0.9h-0.9zM253.0 901.5h0.9v0.9h-0.9zM266.6 913.1h0.9v0.9h-0.9zM256.6 891.8h0.9v0.9h-0.9zM258.1 905.6h0.9v0.9h-0.9zM250.3 901.5h0.9v0.9h-0.9zM254.0 899.5h0.9v0.9h-0.9zM246.8 916.4h0.9v0.9h-0.9zM264.8 922.1h0.9v0.9h-0.9zM261.6 923.8h0.9v0.9h-0.9zM273.5 920.7h0.9v0.9h-0.9zM258.8 885.3h0.9v0.9h-0.9zM255.4 907.4h0.9v0.9h-0.9zM266.9 875.2h0.9v0.9h-0.9zM255.5 929.1h0.9v0.9h-0.9zM266.8 923.7h0.9v0.9h-0.9zM255.8 931.4h0.9v0.9h-0.9zM246.0 887.5h0.9v0.9h-0.9zM256.9 878.5h0.9v0.9h-0.9zM257.1 917.3h0.9v0.9h-0.9zM263.3 897.5h0.9v0.9h-0.9zM256.1 894.0h0.9v0.9h-0.9zM261.3 900.6h0.9v0.9h-0.9zM261.2 887.4h0.9v0.9h-0.9zM252.9 881.8h0.9v0.9h-0.9zM251.1 922.4h0.9v0.9h-0.9zM253.8 921.4h0.9v0.9h-0.9zM247.3 929.9h0.9v0.9h-0.9zM259.9 921.5h0.9v0.9h-0.9zM264.0 917.4h0.9v0.9h-0.9zM256.9 923.9h0.9v0.9h-0.9zM254.5 910.1h0.9v0.9h-0.9zM250.6 917.9h0.9v0.9h-0.9zM264.0 912.5h0.9v0.9h-0.9zM267.1 873.6h0.9v0.9h-0.9zM243.3 922.6h0.9v0.9h-0.9zM274.3 947.6h0.9v0.9h-0.9zM270.6 944.1h0.9v0.9h-0.9zM255.3 911.6h0.9v0.9h-0.9zM259.2 922.3h0.9v0.9h-0.9zM260.4 919.7h0.9v0.9h-0.9zM262.1 948.0h0.9v0.9h-0.9zM256.5 946.8h0.9v0.9h-0.9zM262.2 901.7h0.9v0.9h-0.9zM303.5 887.9h0.9v0.9h-0.9zM305.9 894.9h0.9v0.9h-0.9zM304.9 912.6h0.9v0.9h-0.9zM321.6 870.7h0.9v0.9h-0.9zM294.5 914.6h0.9v0.9h-0.9zM300.8 910.9h0.9v0.9h-0.9zM298.5 944.7h0.9v0.9h-0.9zM304.3 929.5h0.9v0.9h-0.9zM301.1 920.5h0.9v0.9h-0.9zM315.8 886.4h0.9v0.9h-0.9zM322.5 887.1h0.9v0.9h-0.9zM310.9 890.4h0.9v0.9h-0.9zM307.8 900.5h0.9v0.9h-0.9zM312.4 911.5h0.9v0.9h-0.9zM307.4 933.7h0.9v0.9h-0.9zM312.2 901.7h0.9v0.9h-0.9zM314.8 914.8h0.9v0.9h-0.9zM316.6 917.7h0.9v0.9h-0.9zM317.7 913.4h0.9v0.9h-0.9zM302.1 906.0h0.9v0.9h-0.9zM311.7 883.1h0.9v0.9h-0.9zM304.0 898.4h0.9v0.9h-0.9zM306.5 891.3h0.9v0.9h-0.9zM309.6 886.4h0.9v0.9h-0.9zM314.3 897.7h0.9v0.9h-0.9zM309.4 909.5h0.9v0.9h-0.9zM307.8 894.4h0.9v0.9h-0.9zM319.8 901.2h0.9v0.9h-0.9zM313.2 933.4h0.9v0.9h-0.9zM293.0 929.4h0.9v0.9h-0.9zM312.7 886.9h0.9v0.9h-0.9zM306.1 866.2h0.9v0.9h-0.9zM315.6 906.2h0.9v0.9h-0.9zM322.8 954.7h0.9v0.9h-0.9zM306.9 909.7h0.9v0.9h-0.9zM308.3 921.9h0.9v0.9h-0.9zM304.4 909.3h0.9v0.9h-0.9zM297.5 897.2h0.9v0.9h-0.9zM311.8 907.0h0.9v0.9h-0.9zM321.0 888.6h0.9v0.9h-0.9zM308.0 918.4h0.9v0.9h-0.9zM318.0 910.0h0.9v0.9h-0.9zM310.3 924.2h0.9v0.9h-0.9zM316.1 924.6h0.9v0.9h-0.9zM308.4 884.1h0.9v0.9h-0.9zM314.0 918.7h0.9v0.9h-0.9zM301.8 912.0h0.9v0.9h-0.9zM315.4 937.5h0.9v0.9h-0.9zM324.4 951.7h0.9v0.9h-0.9zM318.2 901.2h0.9v0.9h-0.9zM305.5 858.9h0.9v0.9h-0.9zM295.1 909.9h0.9v0.9h-0.9zM311.3 909.6h0.9v0.9h-0.9zM300.9 886.4h0.9v0.9h-0.9zM308.8 921.0h0.9v0.9h-0.9zM317.5 905.1h0.9v0.9h-0.9zM292.0 927.1h0.9v0.9h-0.9zM307.7 879.8h0.9v0.9h-0.9zM308.4 917.5h0.9v0.9h-0.9zM315.5 905.8h0.9v0.9h-0.9zM312.9 905.4h0.9v0.9h-0.9zM323.0 934.7h0.9v0.9h-0.9zM313.2 895.8h0.9v0.9h-0.9zM315.2 900.8h0.9v0.9h-0.9zM294.0 929.5h0.9v0.9h-0.9zM309.7 873.2h0.9v0.9h-0.9zM307.3 927.6h0.9v0.9h-0.9zM309.4 892.9h0.9v0.9h-0.9zM317.9 854.0h0.9v0.9h-0.9zM300.2 945.4h0.9v0.9h-0.9zM289.6 950.9h0.9v0.9h-0.9zM324.1 912.8h0.9v0.9h-0.9zM308.4 885.3h0.9v0.9h-0.9zM306.7 866.5h0.9v0.9h-0.9zM321.0 917.9h0.9v0.9h-0.9zM316.1 947.7h0.9v0.9h-0.9zM311.4 872.9h0.9v0.9h-0.9zM312.3 908.8h0.9v0.9h-0.9zM315.6 948.6h0.9v0.9h-0.9zM302.7 929.6h0.9v0.9h-0.9zM310.8 905.4h0.9v0.9h-0.9zM314.4 878.1h0.9v0.9h-0.9zM312.4 922.7h0.9v0.9h-0.9zM325.7 935.8h0.9v0.9h-0.9zM311.9 876.3h0.9v0.9h-0.9zM322.9 897.6h0.9v0.9h-0.9zM312.7 899.5h0.9v0.9h-0.9zM313.3 908.3h0.9v0.9h-0.9zM312.5 907.2h0.9v0.9h-0.9zM299.3 896.1h0.9v0.9h-0.9zM327.4 888.4h0.9v0.9h-0.9zM304.4 891.5h0.9v0.9h-0.9zM307.2 924.9h0.9v0.9h-0.9zM300.3 915.3h0.9v0.9h-0.9zM308.8 919.6h0.9v0.9h-0.9zM315.2 892.3h0.9v0.9h-0.9zM326.6 865.4h0.9v0.9h-0.9zM306.6 914.2h0.9v0.9h-0.9zM307.6 886.8h0.9v0.9h-0.9zM314.2 915.3h0.9v0.9h-0.9zM305.0 917.5h0.9v0.9h-0.9zM306.5 921.3h0.9v0.9h-0.9zM304.9 895.5h0.9v0.9h-0.9zM319.7 916.0h0.9v0.9h-0.9zM305.6 883.6h0.9v0.9h-0.9zM307.5 911.2h0.9v0.9h-0.9zM319.3 922.8h0.9v0.9h-0.9zM305.5 911.8h0.9v0.9h-0.9zM298.9 925.3h0.9v0.9h-0.9zM305.0 891.7h0.9v0.9h-0.9zM321.0 934.9h0.9v0.9h-0.9zM314.8 913.2h0.9v0.9h-0.9zM302.9 910.6h0.9v0.9h-0.9zM300.8 922.9h0.9v0.9h-0.9zM297.1 895.0h0.9v0.9h-0.9zM312.7 912.3h0.9v0.9h-0.9zM308.0 902.2h0.9v0.9h-0.9zM312.4 924.9h0.9v0.9h-0.9zM309.3 933.6h0.9v0.9h-0.9zM331.9 890.9h0.9v0.9h-0.9zM319.8 900.4h0.9v0.9h-0.9zM297.9 891.3h0.9v0.9h-0.9zM300.2 892.0h0.9v0.9h-0.9zM311.7 909.4h0.9v0.9h-0.9zM307.7 905.5h0.9v0.9h-0.9zM311.8 888.4h0.9v0.9h-0.9zM307.2 924.8h0.9v0.9h-0.9zM293.4 904.4h0.9v0.9h-0.9zM314.7 937.1h0.9v0.9h-0.9zM295.4 888.6h0.9v0.9h-0.9zM302.6 919.7h0.9v0.9h-0.9zM311.2 933.4h0.9v0.9h-0.9zM300.2 911.1h0.9v0.9h-0.9zM308.6 933.9h0.9v0.9h-0.9zM310.4 881.7h0.9v0.9h-0.9zM325.2 923.5h0.9v0.9h-0.9zM304.6 920.6h0.9v0.9h-0.9zM311.9 924.3h0.9v0.9h-0.9zM315.1 924.7h0.9v0.9h-0.9zM308.5 929.3h0.9v0.9h-0.9zM311.5 896.6h0.9v0.9h-0.9zM317.6 898.7h0.9v0.9h-0.9zM304.7 886.1h0.9v0.9h-0.9zM287.1 923.6h0.9v0.9h-0.9zM307.7 867.2h0.9v0.9h-0.9zM312.3 908.6h0.9v0.9h-0.9zM314.0 891.0h0.9v0.9h-0.9zM313.9 916.1h0.9v0.9h-0.9zM310.5 898.1h0.9v0.9h-0.9zM305.2 937.8h0.9v0.9h-0.9zM301.0 945.3h0.9v0.9h-0.9zM299.5 883.5h0.9v0.9h-0.9zM317.5 907.1h0.9v0.9h-0.9zM305.1 917.3h0.9v0.9h-0.9zM303.4 890.7h0.9v0.9h-0.9zM321.7 900.5h0.9v0.9h-0.9zM299.4 905.7h0.9v0.9h-0.9zM316.7 915.1h0.9v0.9h-0.9zM301.8 898.2h0.9v0.9h-0.9zM305.6 939.0h0.9v0.9h-0.9zM305.6 924.8h0.9v0.9h-0.9zM312.8 909.4h0.9v0.9h-0.9zM306.9 918.6h0.9v0.9h-0.9zM317.1 869.5h0.9v0.9h-0.9zM304.8 874.7h0.9v0.9h-0.9zM324.6 878.5h0.9v0.9h-0.9zM306.6 916.0h0.9v0.9h-0.9zM295.2 947.3h0.9v0.9h-0.9zM302.0 899.3h0.9v0.9h-0.9zM302.1 883.3h0.9v0.9h-0.9zM311.9 888.3h0.9v0.9h-0.9zM298.7 916.0h0.9v0.9h-0.9zM319.0 879.5h0.9v0.9h-0.9zM302.4 889.5h0.9v0.9h-0.9zM305.6 927.1h0.9v0.9h-0.9zM318.2 940.8h0.9v0.9h-0.9zM292.6 913.7h0.9v0.9h-0.9zM326.6 910.3h0.9v0.9h-0.9zM302.6 903.3h0.9v0.9h-0.9zM294.1 924.7h0.9v0.9h-0.9zM307.9 915.8h0.9v0.9h-0.9zM295.2 915.8h0.9v0.9h-0.9zM314.7 902.7h0.9v0.9h-0.9zM322.7 902.2h0.9v0.9h-0.9zM322.7 920.7h0.9v0.9h-0.9zM314.5 899.2h0.9v0.9h-0.9zM301.6 926.1h0.9v0.9h-0.9zM305.3 891.7h0.9v0.9h-0.9zM316.3 920.5h0.9v0.9h-0.9zM313.3 932.7h0.9v0.9h-0.9zM307.3 886.1h0.9v0.9h-0.9zM321.5 935.0h0.9v0.9h-0.9zM299.3 920.4h0.9v0.9h-0.9zM322.9 917.5h0.9v0.9h-0.9zM300.8 942.4h0.9v0.9h-0.9zM305.6 921.5h0.9v0.9h-0.9zM308.9 889.7h0.9v0.9h-0.9zM316.1 926.3h0.9v0.9h-0.9zM319.5 938.5h0.9v0.9h-0.9zM297.0 902.6h0.9v0.9h-0.9zM302.1 905.0h0.9v0.9h-0.9zM304.0 904.7h0.9v0.9h-0.9zM308.5 899.6h0.9v0.9h-0.9zM303.1 891.7h0.9v0.9h-0.9zM300.7 929.1h0.9v0.9h-0.9zM322.0 937.2h0.9v0.9h-0.9zM315.5 879.6h0.9v0.9h-0.9zM309.9 907.6h0.9v0.9h-0.9zM317.3 903.7h0.9v0.9h-0.9zM307.9 928.6h0.9v0.9h-0.9zM297.1 936.8h0.9v0.9h-0.9zM294.4 921.0h0.9v0.9h-0.9zM314.7 939.4h0.9v0.9h-0.9zM309.2 933.5h0.9v0.9h-0.9zM309.0 927.1h0.9v0.9h-0.9zM301.5 923.7h0.9v0.9h-0.9zM310.9 937.3h0.9v0.9h-0.9zM311.7 898.8h0.9v0.9h-0.9zM321.0 884.8h0.9v0.9h-0.9zM320.3 932.1h0.9v0.9h-0.9zM304.6 934.0h0.9v0.9h-0.9zM324.9 950.9h0.9v0.9h-0.9zM317.4 909.6h0.9v0.9h-0.9zM322.4 884.1h0.9v0.9h-0.9zM308.5 920.9h0.9v0.9h-0.9zM318.3 946.2h0.9v0.9h-0.9zM296.9 897.5h0.9v0.9h-0.9zM319.7 908.2h0.9v0.9h-0.9zM303.8 898.4h0.9v0.9h-0.9zM313.4 875.3h0.9v0.9h-0.9zM304.4 940.5h0.9v0.9h-0.9zM310.0 901.3h0.9v0.9h-0.9zM310.5 950.2h0.9v0.9h-0.9zM299.2 901.7h0.9v0.9h-0.9zM311.1 869.8h0.9v0.9h-0.9zM317.9 889.1h0.9v0.9h-0.9zM310.7 888.2h0.9v0.9h-0.9zM319.4 894.4h0.9v0.9h-0.9zM328.9 905.7h0.9v0.9h-0.9zM311.0 902.3h0.9v0.9h-0.9zM321.3 950.5h0.9v0.9h-0.9zM311.5 857.4h0.9v0.9h-0.9zM300.6 886.7h0.9v0.9h-0.9zM316.5 913.6h0.9v0.9h-0.9zM300.1 928.9h0.9v0.9h-0.9zM310.4 913.6h0.9v0.9h-0.9zM328.8 910.2h0.9v0.9h-0.9zM304.2 923.9h0.9v0.9h-0.9zM300.7 906.4h0.9v0.9h-0.9zM306.9 904.1h0.9v0.9h-0.9zM313.6 919.8h0.9v0.9h-0.9zM317.0 876.3h0.9v0.9h-0.9zM305.2 911.3h0.9v0.9h-0.9zM304.8 892.1h0.9v0.9h-0.9zM314.9 917.1h0.9v0.9h-0.9zM309.4 906.1h0.9v0.9h-0.9zM318.4 940.6h0.9v0.9h-0.9zM303.3 923.9h0.9v0.9h-0.9zM321.6 918.0h0.9v0.9h-0.9zM312.2 892.0h0.9v0.9h-0.9zM309.5 924.0h0.9v0.9h-0.9zM296.7 859.7h0.9v0.9h-0.9zM307.3 931.9h0.9v0.9h-0.9zM309.1 931.1h0.9v0.9h-0.9zM319.3 915.5h0.9v0.9h-0.9zM311.4 926.9h0.9v0.9h-0.9zM301.7 877.5h0.9v0.9h-0.9zM298.6 899.1h0.9v0.9h-0.9zM317.3 889.6h0.9v0.9h-0.9zM300.3 924.8h0.9v0.9h-0.9zM324.3 924.7h0.9v0.9h-0.9zM312.1 948.4h0.9v0.9h-0.9zM305.7 886.1h0.9v0.9h-0.9zM303.1 889.8h0.9v0.9h-0.9zM321.4 921.0h0.9v0.9h-0.9zM308.7 896.2h0.9v0.9h-0.9zM311.3 895.1h0.9v0.9h-0.9zM293.3 925.7h0.9v0.9h-0.9zM311.1 911.0h0.9v0.9h-0.9zM301.5 897.3h0.9v0.9h-0.9zM291.1 937.0h0.9v0.9h-0.9zM307.9 908.2h0.9v0.9h-0.9zM308.8 877.4h0.9v0.9h-0.9zM299.6 905.9h0.9v0.9h-0.9zM333.1 910.8h0.9v0.9h-0.9zM300.2 894.4h0.9v0.9h-0.9zM302.4 935.3h0.9v0.9h-0.9zM312.1 917.6h0.9v0.9h-0.9zM312.4 927.5h0.9v0.9h-0.9zM312.1 931.9h0.9v0.9h-0.9zM307.6 904.9h0.9v0.9h-0.9zM322.5 906.0h0.9v0.9h-0.9zM303.1 913.8h0.9v0.9h-0.9zM294.5 902.6h0.9v0.9h-0.9zM301.1 945.7h0.9v0.9h-0.9zM308.5 891.2h0.9v0.9h-0.9zM310.4 880.2h0.9v0.9h-0.9zM326.2 925.0h0.9v0.9h-0.9zM309.0 907.4h0.9v0.9h-0.9zM305.9 878.5h0.9v0.9h-0.9zM305.2 929.2h0.9v0.9h-0.9zM302.9 930.3h0.9v0.9h-0.9zM315.7 892.1h0.9v0.9h-0.9zM299.8 884.4h0.9v0.9h-0.9zM321.1 931.4h0.9v0.9h-0.9z" fill="#999" fill-opacity="0.55"/>
<path d="M269.90 914.00 C269.91 915.36 269.86 916.73 269.79 918.07 C269.71 919.41 269.60 920.75 269.45 922.03 C269.30 923.32 269.12 924.60 268.90 925.80 C268.68 927.01 268.42 928.19 268.14 929.28 C267.86 930.38 267.54 931.43 267.21 932.38 C266.87 933.34 266.50 934.24 266.11 935.03 C265.72 935.83 265.30 936.55 264.88 937.17 C264.45 937.78 264.00 938.31 263.54 938.73 C263.09 939.15 262.61 939.47 262.14 939.68 C261.67 939.89 261.18 940.00 260.70 940.00 C260.22 940.00 259.73 939.89 259.26 939.68 C258.79 939.47 258.31 939.15 257.86 938.73 C257.40 938.31 256.95 937.78 256.52 937.17 C256.10 936.55 255.68 935.83 255.29 935.03 C254.90 934.24 254.53 933.34 254.19 932.38 C253.86 931.43 253.54 930.38 253.26 929.28 C252.98 928.19 252.72 927.01 252.50 925.80 C252.28 924.60 252.10 923.32 251.95 922.03 C251.80 920.75 251.69 919.41 251.61 918.07 C251.54 916.73 251.49 915.36 251.50 914.00 C251.51 912.64 251.55 911.27 251.66 909.93 C251.76 908.59 251.92 907.25 252.12 905.97 C252.31 904.68 252.56 903.40 252.84 902.20 C253.12 900.99 253.44 899.81 253.77 898.72 C254.11 897.62 254.47 896.57 254.85 895.62 C255.22 894.66 255.61 893.76 256.00 892.97 C256.39 892.17 256.79 891.45 257.19 890.83 C257.58 890.22 257.98 889.69 258.37 889.27 C258.76 888.85 259.15 888.53 259.54 888.32 C259.93 888.11 260.31 888.00 260.70 888.00 C261.09 888.00 261.47 888.11 261.86 888.32 C262.25 888.53 262.64 888.85 263.03 889.27 C263.42 889.69 263.82 890.22 264.21 890.83 C264.61 891.45 265.01 892.17 265.40 892.97 C265.79 893.76 266.18 894.66 266.55 895.62 C266.93 896.57 267.29 897.62 267.63 898.72 C267.96 899.81 268.28 900.99 268.56 902.20 C268.84 903.40 269.09 904.68 269.28 905.97 C269.48 907.25 269.64 908.59 269.74 909.93 C269.85 911.27 269.89 912.64 269.90 914.00Z" fill="none" stroke="#a8a8a8" stroke-width="0.75"/>
<path d="M267.94 915.75 C267.95 916.82 267.91 917.90 267.86 918.95 C267.80 920.01 267.71 921.06 267.59 922.08 C267.47 923.09 267.33 924.09 267.16 925.05 C266.98 926.00 266.78 926.92 266.56 927.78 C266.34 928.65 266.09 929.47 265.82 930.23 C265.56 930.98 265.26 931.69 264.96 932.31 C264.65 932.94 264.33 933.51 263.99 933.99 C263.65 934.48 263.30 934.89 262.94 935.22 C262.58 935.55 262.21 935.81 261.83 935.97 C261.46 936.14 261.08 936.23 260.70 936.23 C260.32 936.23 259.94 936.14 259.57 935.97 C259.19 935.81 258.82 935.55 258.46 935.22 C258.10 934.89 257.75 934.48 257.41 933.99 C257.07 933.51 256.75 932.94 256.44 932.31 C256.14 931.69 255.84 930.98 255.58 930.23 C255.31 929.47 255.06 928.65 254.84 927.78 C254.62 926.92 254.42 926.00 254.24 925.05 C254.07 924.09 253.93 923.09 253.81 922.08 C253.69 921.06 253.60 920.01 253.54 918.95 C253.49 917.90 253.45 916.82 253.45 915.75 C253.46 914.68 253.50 913.60 253.58 912.55 C253.66 911.49 253.79 910.44 253.94 909.42 C254.10 908.41 254.29 907.41 254.51 906.45 C254.73 905.50 254.98 904.58 255.24 903.72 C255.51 902.85 255.80 902.03 256.09 901.27 C256.38 900.52 256.69 899.81 257.00 899.19 C257.31 898.56 257.62 897.99 257.93 897.51 C258.24 897.02 258.56 896.61 258.87 896.28 C259.18 895.95 259.48 895.69 259.79 895.53 C260.09 895.36 260.40 895.27 260.70 895.27 C261.00 895.27 261.31 895.36 261.61 895.53 C261.92 895.69 262.22 895.95 262.53 896.28 C262.84 896.61 263.16 897.02 263.47 897.51 C263.78 897.99 264.09 898.56 264.40 899.19 C264.71 899.81 265.02 900.52 265.31 901.27 C265.60 902.03 265.89 902.85 266.16 903.72 C266.42 904.58 266.67 905.50 266.89 906.45 C267.11 907.41 267.30 908.41 267.46 909.42 C267.61 910.44 267.74 911.49 267.82 912.55 C267.90 913.60 267.94 914.68 267.94 915.75Z" fill="none" stroke="#a8a8a8" stroke-width="0.75"/>
<path d="M265.99 917.50 C265.99 918.28 265.97 919.07 265.92 919.84 C265.88 920.61 265.82 921.38 265.73 922.12 C265.65 922.86 265.54 923.59 265.41 924.29 C265.29 924.98 265.14 925.66 264.98 926.29 C264.82 926.92 264.64 927.52 264.44 928.07 C264.25 928.62 264.03 929.14 263.81 929.59 C263.59 930.05 263.35 930.47 263.10 930.82 C262.86 931.17 262.60 931.48 262.33 931.72 C262.07 931.96 261.80 932.14 261.53 932.27 C261.26 932.39 260.98 932.45 260.70 932.45 C260.42 932.45 260.14 932.39 259.87 932.27 C259.60 932.14 259.33 931.96 259.07 931.72 C258.80 931.48 258.54 931.17 258.30 930.82 C258.05 930.47 257.81 930.05 257.59 929.59 C257.37 929.14 257.15 928.62 256.96 928.07 C256.76 927.52 256.58 926.92 256.42 926.29 C256.26 925.66 256.11 924.98 255.99 924.29 C255.86 923.59 255.75 922.86 255.67 922.12 C255.58 921.38 255.52 920.61 255.48 919.84 C255.43 919.07 255.41 918.28 255.41 917.50 C255.41 916.72 255.44 915.93 255.50 915.16 C255.56 914.39 255.65 913.62 255.76 912.88 C255.88 912.14 256.02 911.41 256.18 910.71 C256.34 910.02 256.52 909.34 256.72 908.71 C256.91 908.08 257.12 907.48 257.33 906.93 C257.55 906.38 257.77 905.86 258.00 905.41 C258.22 904.95 258.45 904.53 258.68 904.18 C258.91 903.83 259.14 903.52 259.36 903.28 C259.59 903.04 259.81 902.86 260.03 902.73 C260.26 902.61 260.48 902.55 260.70 902.55 C260.92 902.55 261.14 902.61 261.37 902.73 C261.59 902.86 261.81 903.04 262.04 903.28 C262.26 903.52 262.49 903.83 262.72 904.18 C262.95 904.53 263.18 904.95 263.40 905.41 C263.63 905.86 263.85 906.38 264.07 906.93 C264.28 907.48 264.49 908.08 264.68 908.71 C264.88 909.34 265.06 910.02 265.22 910.71 C265.38 911.41 265.52 912.14 265.64 912.88 C265.75 913.62 265.84 914.39 265.90 915.16 C265.96 915.93 265.99 916.72 265.99 917.50Z" fill="none" stroke="#a8a8a8" stroke-width="0.75"/>
<path d="M264.03 919.25 C264.04 919.74 264.02 920.24 263.99 920.72 C263.97 921.21 263.93 921.70 263.87 922.16 C263.82 922.63 263.75 923.09 263.67 923.53 C263.59 923.97 263.50 924.39 263.40 924.79 C263.30 925.19 263.18 925.57 263.06 925.91 C262.94 926.26 262.80 926.59 262.66 926.87 C262.52 927.16 262.37 927.42 262.21 927.65 C262.06 927.87 261.90 928.06 261.73 928.21 C261.57 928.37 261.39 928.48 261.22 928.56 C261.05 928.64 260.87 928.67 260.70 928.67 C260.53 928.67 260.35 928.64 260.18 928.56 C260.01 928.48 259.83 928.37 259.67 928.21 C259.50 928.06 259.34 927.87 259.19 927.65 C259.03 927.42 258.88 927.16 258.74 926.87 C258.60 926.59 258.46 926.26 258.34 925.91 C258.22 925.57 258.10 925.19 258.00 924.79 C257.90 924.39 257.81 923.97 257.73 923.53 C257.65 923.09 257.58 922.63 257.53 922.16 C257.47 921.70 257.43 921.21 257.41 920.72 C257.38 920.24 257.36 919.74 257.37 919.25 C257.37 918.76 257.38 918.26 257.42 917.78 C257.46 917.29 257.52 916.80 257.59 916.34 C257.66 915.87 257.75 915.41 257.85 914.97 C257.95 914.53 258.07 914.11 258.19 913.71 C258.31 913.31 258.44 912.93 258.58 912.59 C258.71 912.24 258.85 911.91 259.00 911.63 C259.14 911.34 259.28 911.08 259.43 910.85 C259.57 910.63 259.71 910.44 259.86 910.29 C260.00 910.13 260.14 910.02 260.28 909.94 C260.42 909.86 260.56 909.83 260.70 909.83 C260.84 909.83 260.98 909.86 261.12 909.94 C261.26 910.02 261.40 910.13 261.54 910.29 C261.69 910.44 261.83 910.63 261.97 910.85 C262.12 911.08 262.26 911.34 262.40 911.63 C262.55 911.91 262.69 912.24 262.82 912.59 C262.96 912.93 263.09 913.31 263.21 913.71 C263.33 914.11 263.45 914.53 263.55 914.97 C263.65 915.41 263.74 915.87 263.81 916.34 C263.88 916.80 263.94 917.29 263.98 917.78 C264.02 918.26 264.03 918.76 264.03 919.25Z" fill="none" stroke="#a8a8a8" stroke-width="0.75"/>
<path d="M262.08 921.00 C262.08 921.20 262.07 921.41 262.06 921.61 C262.05 921.81 262.03 922.01 262.01 922.21 C261.99 922.40 261.96 922.59 261.93 922.77 C261.90 922.95 261.86 923.13 261.82 923.29 C261.77 923.46 261.73 923.61 261.68 923.76 C261.62 923.90 261.57 924.04 261.51 924.16 C261.45 924.27 261.39 924.38 261.33 924.47 C261.26 924.57 261.19 924.65 261.13 924.71 C261.06 924.77 260.99 924.82 260.92 924.85 C260.84 924.88 260.77 924.90 260.70 924.90 C260.63 924.90 260.56 924.88 260.48 924.85 C260.41 924.82 260.34 924.77 260.27 924.71 C260.21 924.65 260.14 924.57 260.07 924.47 C260.01 924.38 259.95 924.27 259.89 924.16 C259.83 924.04 259.78 923.90 259.72 923.76 C259.67 923.61 259.63 923.46 259.58 923.29 C259.54 923.13 259.50 922.95 259.47 922.77 C259.44 922.59 259.41 922.40 259.39 922.21 C259.37 922.01 259.35 921.81 259.34 921.61 C259.33 921.41 259.32 921.20 259.32 921.00 C259.32 920.80 259.33 920.59 259.34 920.39 C259.36 920.19 259.38 919.99 259.41 919.79 C259.44 919.60 259.48 919.41 259.52 919.23 C259.56 919.05 259.61 918.87 259.66 918.71 C259.71 918.54 259.77 918.39 259.82 918.24 C259.88 918.10 259.94 917.96 260.00 917.84 C260.05 917.73 260.11 917.62 260.17 917.53 C260.23 917.43 260.29 917.35 260.35 917.29 C260.41 917.23 260.47 917.18 260.53 917.15 C260.58 917.12 260.64 917.10 260.70 917.10 C260.76 917.10 260.82 917.12 260.87 917.15 C260.93 917.18 260.99 917.23 261.05 917.29 C261.11 917.35 261.17 917.43 261.23 917.53 C261.29 917.62 261.35 917.73 261.40 917.84 C261.46 917.96 261.52 918.10 261.58 918.24 C261.63 918.39 261.69 918.54 261.74 918.71 C261.79 918.87 261.84 919.05 261.88 919.23 C261.92 919.41 261.96 919.60 261.99 919.79 C262.02 919.99 262.04 920.19 262.06 920.39 C262.07 920.59 262.08 920.80 262.08 921.00Z" fill="none" stroke="#a8a8a8" stroke-width="0.75"/>
<path d="M318.40 906.50 C318.41 908.30 318.36 910.12 318.29 911.90 C318.21 913.67 318.10 915.45 317.95 917.16 C317.80 918.87 317.62 920.56 317.40 922.16 C317.18 923.77 316.92 925.32 316.64 926.78 C316.36 928.23 316.04 929.62 315.71 930.90 C315.37 932.17 315.00 933.35 314.61 934.41 C314.22 935.47 313.80 936.42 313.38 937.24 C312.95 938.06 312.50 938.76 312.04 939.31 C311.59 939.87 311.11 940.29 310.64 940.58 C310.17 940.86 309.68 941.00 309.20 941.00 C308.72 941.00 308.23 940.86 307.76 940.58 C307.29 940.29 306.81 939.87 306.36 939.31 C305.90 938.76 305.45 938.06 305.02 937.24 C304.60 936.42 304.18 935.47 303.79 934.41 C303.40 933.35 303.03 932.17 302.69 930.90 C302.36 929.62 302.04 928.23 301.76 926.78 C301.48 925.32 301.22 923.77 301.00 922.16 C300.78 920.56 300.60 918.87 300.45 917.16 C300.30 915.45 300.19 913.67 300.11 911.90 C300.04 910.12 299.99 908.30 300.00 906.50 C300.01 904.70 300.05 902.88 300.16 901.10 C300.26 899.33 300.42 897.55 300.62 895.84 C300.81 894.13 301.06 892.44 301.34 890.84 C301.62 889.23 301.94 887.68 302.27 886.22 C302.61 884.77 302.97 883.38 303.35 882.10 C303.72 880.83 304.11 879.65 304.50 878.59 C304.89 877.53 305.29 876.58 305.69 875.76 C306.08 874.94 306.48 874.24 306.87 873.69 C307.26 873.13 307.65 872.71 308.04 872.42 C308.43 872.14 308.81 872.00 309.20 872.00 C309.59 872.00 309.97 872.14 310.36 872.42 C310.75 872.71 311.14 873.13 311.53 873.69 C311.92 874.24 312.32 874.94 312.71 875.76 C313.11 876.58 313.51 877.53 313.90 878.59 C314.29 879.65 314.68 880.83 315.05 882.10 C315.43 883.38 315.79 884.77 316.13 886.22 C316.46 887.68 316.78 889.23 317.06 890.84 C317.34 892.44 317.59 894.13 317.78 895.84 C317.98 897.55 318.14 899.33 318.24 901.10 C318.35 902.88 318.39 904.70 318.40 906.50Z" fill="none" stroke="#a8a8a8" stroke-width="0.75"/>
<path d="M316.77 909.25 C316.78 910.67 316.74 912.10 316.68 913.50 C316.62 914.90 316.53 916.30 316.42 917.65 C316.30 918.99 316.15 920.32 315.98 921.58 C315.81 922.85 315.61 924.07 315.39 925.22 C315.16 926.37 314.92 927.46 314.65 928.46 C314.38 929.46 314.09 930.40 313.78 931.23 C313.48 932.06 313.15 932.81 312.81 933.46 C312.48 934.10 312.12 934.65 311.76 935.09 C311.40 935.53 311.03 935.86 310.66 936.08 C310.29 936.31 309.90 936.42 309.52 936.42 C309.15 936.42 308.76 936.31 308.39 936.08 C308.02 935.86 307.65 935.53 307.29 935.09 C306.93 934.65 306.57 934.10 306.24 933.46 C305.90 932.81 305.57 932.06 305.27 931.23 C304.96 930.40 304.67 929.46 304.40 928.46 C304.13 927.46 303.89 926.37 303.66 925.22 C303.44 924.07 303.24 922.85 303.07 921.58 C302.90 920.32 302.75 918.99 302.63 917.65 C302.52 916.30 302.43 914.90 302.37 913.50 C302.31 912.10 302.27 910.67 302.28 909.25 C302.29 907.83 302.32 906.40 302.40 905.00 C302.49 903.60 302.61 902.20 302.77 900.85 C302.92 899.51 303.12 898.18 303.34 896.92 C303.55 895.65 303.81 894.43 304.07 893.28 C304.33 892.13 304.62 891.04 304.91 890.04 C305.21 889.04 305.52 888.10 305.82 887.27 C306.13 886.44 306.45 885.69 306.76 885.04 C307.07 884.40 307.38 883.85 307.69 883.41 C308.00 882.97 308.31 882.64 308.61 882.42 C308.92 882.19 309.22 882.08 309.52 882.08 C309.83 882.08 310.13 882.19 310.44 882.42 C310.74 882.64 311.05 882.97 311.36 883.41 C311.67 883.85 311.98 884.40 312.29 885.04 C312.60 885.69 312.92 886.44 313.23 887.27 C313.53 888.10 313.84 889.04 314.14 890.04 C314.43 891.04 314.72 892.13 314.98 893.28 C315.24 894.43 315.50 895.65 315.71 896.92 C315.93 898.18 316.13 899.51 316.28 900.85 C316.44 902.20 316.56 903.60 316.65 905.00 C316.73 906.40 316.76 907.83 316.77 909.25Z" fill="none" stroke="#a8a8a8" stroke-width="0.75"/>
<path d="M315.14 912.00 C315.14 913.03 315.12 914.08 315.07 915.10 C315.03 916.12 314.97 917.15 314.88 918.13 C314.80 919.11 314.69 920.08 314.56 921.01 C314.44 921.93 314.29 922.82 314.13 923.66 C313.97 924.50 313.79 925.30 313.59 926.03 C313.40 926.76 313.18 927.44 312.96 928.05 C312.74 928.66 312.50 929.21 312.25 929.68 C312.01 930.14 311.75 930.55 311.48 930.87 C311.22 931.19 310.95 931.43 310.68 931.59 C310.41 931.76 310.13 931.84 309.85 931.84 C309.57 931.84 309.29 931.76 309.02 931.59 C308.75 931.43 308.48 931.19 308.22 930.87 C307.95 930.55 307.69 930.14 307.45 929.68 C307.20 929.21 306.96 928.66 306.74 928.05 C306.52 927.44 306.30 926.76 306.11 926.03 C305.91 925.30 305.73 924.50 305.57 923.66 C305.41 922.82 305.26 921.93 305.14 921.01 C305.01 920.08 304.90 919.11 304.82 918.13 C304.73 917.15 304.67 916.12 304.63 915.10 C304.58 914.08 304.56 913.03 304.56 912.00 C304.56 910.97 304.59 909.92 304.65 908.90 C304.71 907.88 304.80 906.85 304.91 905.87 C305.03 904.89 305.17 903.92 305.33 902.99 C305.49 902.07 305.67 901.18 305.87 900.34 C306.06 899.50 306.27 898.70 306.48 897.97 C306.70 897.24 306.92 896.56 307.15 895.95 C307.37 895.34 307.60 894.79 307.83 894.32 C308.06 893.86 308.29 893.45 308.51 893.13 C308.74 892.81 308.96 892.57 309.18 892.41 C309.41 892.24 309.63 892.16 309.85 892.16 C310.07 892.16 310.29 892.24 310.52 892.41 C310.74 892.57 310.96 892.81 311.19 893.13 C311.41 893.45 311.64 893.86 311.87 894.32 C312.10 894.79 312.33 895.34 312.55 895.95 C312.78 896.56 313.00 897.24 313.22 897.97 C313.43 898.70 313.64 899.50 313.83 900.34 C314.03 901.18 314.21 902.07 314.37 902.99 C314.53 903.92 314.67 904.89 314.79 905.87 C314.90 906.85 314.99 907.88 315.05 908.90 C315.11 909.92 315.14 910.97 315.14 912.00Z" fill="none" stroke="#a8a8a8" stroke-width="0.75"/>
<path d="M313.51 914.75 C313.51 915.40 313.50 916.06 313.47 916.71 C313.44 917.35 313.40 917.99 313.35 918.61 C313.29 919.23 313.23 919.85 313.15 920.43 C313.07 921.01 312.98 921.57 312.87 922.10 C312.77 922.63 312.66 923.13 312.53 923.59 C312.41 924.05 312.28 924.48 312.14 924.87 C311.99 925.25 311.84 925.60 311.69 925.89 C311.53 926.19 311.37 926.44 311.21 926.64 C311.04 926.85 310.87 927.00 310.70 927.10 C310.52 927.20 310.35 927.26 310.18 927.26 C310.00 927.26 309.83 927.20 309.65 927.10 C309.48 927.00 309.31 926.85 309.14 926.64 C308.98 926.44 308.82 926.19 308.66 925.89 C308.51 925.60 308.36 925.25 308.21 924.87 C308.07 924.48 307.94 924.05 307.82 923.59 C307.69 923.13 307.58 922.63 307.48 922.10 C307.37 921.57 307.28 921.01 307.20 920.43 C307.12 919.85 307.06 919.23 307.00 918.61 C306.95 917.99 306.91 917.35 306.88 916.71 C306.85 916.06 306.84 915.40 306.84 914.75 C306.84 914.10 306.86 913.44 306.90 912.79 C306.93 912.15 306.99 911.51 307.06 910.89 C307.14 910.27 307.23 909.65 307.33 909.07 C307.43 908.49 307.54 907.93 307.66 907.40 C307.78 906.87 307.92 906.37 308.05 905.91 C308.19 905.45 308.33 905.02 308.47 904.63 C308.61 904.25 308.76 903.90 308.90 903.61 C309.04 903.31 309.19 903.06 309.33 902.86 C309.47 902.65 309.61 902.50 309.76 902.40 C309.90 902.30 310.04 902.24 310.18 902.24 C310.31 902.24 310.45 902.30 310.59 902.40 C310.74 902.50 310.88 902.65 311.02 902.86 C311.16 903.06 311.31 903.31 311.45 903.61 C311.59 903.90 311.74 904.25 311.88 904.63 C312.02 905.02 312.16 905.45 312.30 905.91 C312.43 906.37 312.57 906.87 312.69 907.40 C312.81 907.93 312.92 908.49 313.02 909.07 C313.12 909.65 313.21 910.27 313.29 910.89 C313.36 911.51 313.42 912.15 313.45 912.79 C313.49 913.44 313.51 914.10 313.51 914.75Z" fill="none" stroke="#a8a8a8" stroke-width="0.75"/>
<path d="M311.88 917.50 C311.88 917.77 311.87 918.04 311.86 918.31 C311.85 918.58 311.83 918.84 311.81 919.10 C311.79 919.36 311.76 919.61 311.73 919.85 C311.70 920.09 311.66 920.32 311.62 920.54 C311.57 920.76 311.53 920.97 311.48 921.16 C311.42 921.35 311.37 921.53 311.31 921.69 C311.25 921.85 311.19 921.99 311.13 922.11 C311.06 922.23 310.99 922.34 310.93 922.42 C310.86 922.51 310.79 922.57 310.72 922.61 C310.64 922.65 310.57 922.67 310.50 922.67 C310.43 922.67 310.36 922.65 310.28 922.61 C310.21 922.57 310.14 922.51 310.07 922.42 C310.01 922.34 309.94 922.23 309.87 922.11 C309.81 921.99 309.75 921.85 309.69 921.69 C309.63 921.53 309.58 921.35 309.52 921.16 C309.47 920.97 309.43 920.76 309.38 920.54 C309.34 920.32 309.30 920.09 309.27 919.85 C309.24 919.61 309.21 919.36 309.19 919.10 C309.17 918.84 309.15 918.58 309.14 918.31 C309.13 918.04 309.12 917.77 309.12 917.50 C309.12 917.23 309.13 916.96 309.14 916.69 C309.16 916.42 309.18 916.16 309.21 915.90 C309.24 915.64 309.28 915.39 309.32 915.15 C309.36 914.91 309.41 914.68 309.46 914.46 C309.51 914.24 309.57 914.03 309.62 913.84 C309.68 913.65 309.74 913.47 309.80 913.31 C309.85 913.15 309.91 913.01 309.97 912.89 C310.03 912.77 310.09 912.66 310.15 912.58 C310.21 912.49 310.27 912.43 310.33 912.39 C310.38 912.35 310.44 912.33 310.50 912.33 C310.56 912.33 310.62 912.35 310.67 912.39 C310.73 912.43 310.79 912.49 310.85 912.58 C310.91 912.66 310.97 912.77 311.03 912.89 C311.09 913.01 311.15 913.15 311.20 913.31 C311.26 913.47 311.32 913.65 311.38 913.84 C311.43 914.03 311.49 914.24 311.54 914.46 C311.59 914.68 311.64 914.91 311.68 915.15 C311.72 915.39 311.76 915.64 311.79 915.90 C311.82 916.16 311.84 916.42 311.86 916.69 C311.87 916.96 311.88 917.23 311.88 917.50Z" fill="none" stroke="#a8a8a8" stroke-width="0.75"/>
<path d="M313.20 898.00 C313.20 898.52 313.18 899.05 313.15 899.56 C313.12 900.08 313.07 900.59 313.00 901.09 C312.94 901.59 312.86 902.08 312.76 902.54 C312.67 903.00 312.56 903.46 312.44 903.88 C312.31 904.30 312.18 904.70 312.03 905.07 C311.88 905.44 311.72 905.78 311.55 906.09 C311.38 906.40 311.20 906.67 311.02 906.91 C310.83 907.15 310.63 907.35 310.44 907.51 C310.24 907.67 310.03 907.80 309.83 907.88 C309.62 907.96 309.41 908.00 309.20 908.00 C308.99 908.00 308.78 907.96 308.57 907.88 C308.37 907.80 308.16 907.67 307.96 907.51 C307.77 907.35 307.57 907.15 307.38 906.91 C307.20 906.67 307.02 906.40 306.85 906.09 C306.68 905.78 306.52 905.44 306.37 905.07 C306.22 904.70 306.09 904.30 305.96 903.88 C305.84 903.46 305.73 903.00 305.64 902.54 C305.54 902.08 305.46 901.59 305.40 901.09 C305.33 900.59 305.28 900.08 305.25 899.56 C305.22 899.05 305.20 898.52 305.20 898.00 C305.20 897.48 305.22 896.95 305.27 896.44 C305.31 895.92 305.38 895.41 305.47 894.91 C305.55 894.41 305.66 893.92 305.78 893.46 C305.90 893.00 306.04 892.54 306.19 892.12 C306.33 891.70 306.49 891.30 306.65 890.93 C306.82 890.56 306.99 890.22 307.16 889.91 C307.33 889.60 307.50 889.33 307.67 889.09 C307.84 888.85 308.02 888.65 308.19 888.49 C308.36 888.33 308.53 888.20 308.70 888.12 C308.87 888.04 309.03 888.00 309.20 888.00 C309.37 888.00 309.53 888.04 309.70 888.12 C309.87 888.20 310.04 888.33 310.21 888.49 C310.38 888.65 310.56 888.85 310.73 889.09 C310.90 889.33 311.07 889.60 311.24 889.91 C311.41 890.22 311.58 890.56 311.75 890.93 C311.91 891.30 312.07 891.70 312.21 892.12 C312.36 892.54 312.50 893.00 312.62 893.46 C312.74 893.92 312.85 894.41 312.93 894.91 C313.02 895.41 313.09 895.92 313.13 896.44 C313.18 896.95 313.20 897.48 313.20 898.00Z" fill="none" stroke="#a8a8a8" stroke-width="0.75"/>
<path d="M311.50 898.00 C311.50 898.30 311.49 898.60 311.47 898.90 C311.45 899.20 311.42 899.49 311.39 899.78 C311.35 900.06 311.30 900.34 311.25 900.61 C311.19 900.88 311.13 901.14 311.06 901.38 C310.99 901.62 310.91 901.85 310.83 902.07 C310.74 902.28 310.65 902.48 310.55 902.65 C310.45 902.83 310.35 902.99 310.24 903.12 C310.14 903.26 310.02 903.38 309.91 903.47 C309.80 903.56 309.68 903.63 309.56 903.68 C309.44 903.73 309.32 903.75 309.20 903.75 C309.08 903.75 308.96 903.73 308.84 903.68 C308.72 903.63 308.60 903.56 308.49 903.47 C308.38 903.38 308.26 903.26 308.16 903.12 C308.05 902.99 307.95 902.83 307.85 902.65 C307.75 902.48 307.66 902.28 307.57 902.07 C307.49 901.85 307.41 901.62 307.34 901.38 C307.27 901.14 307.21 900.88 307.15 900.61 C307.10 900.34 307.05 900.06 307.01 899.78 C306.98 899.49 306.95 899.20 306.93 898.90 C306.91 898.60 306.90 898.30 306.90 898.00 C306.90 897.70 306.91 897.40 306.94 897.10 C306.97 896.80 307.01 896.51 307.05 896.22 C307.10 895.94 307.17 895.66 307.24 895.39 C307.30 895.12 307.38 894.86 307.47 894.62 C307.55 894.38 307.64 894.15 307.74 893.93 C307.83 893.72 307.93 893.52 308.03 893.35 C308.12 893.17 308.22 893.01 308.32 892.88 C308.42 892.74 308.52 892.62 308.62 892.53 C308.72 892.44 308.81 892.37 308.91 892.32 C309.01 892.27 309.10 892.25 309.20 892.25 C309.30 892.25 309.39 892.27 309.49 892.32 C309.59 892.37 309.68 892.44 309.78 892.53 C309.88 892.62 309.98 892.74 310.08 892.88 C310.18 893.01 310.28 893.17 310.37 893.35 C310.47 893.52 310.57 893.72 310.66 893.93 C310.76 894.15 310.85 894.38 310.93 894.62 C311.02 894.86 311.10 895.12 311.16 895.39 C311.23 895.66 311.30 895.94 311.35 896.22 C311.39 896.51 311.43 896.80 311.46 897.10 C311.49 897.40 311.50 897.70 311.50 898.00Z" fill="none" stroke="#a8a8a8" stroke-width="0.75"/>
<path d="M309.80 898.00 C309.80 898.08 309.80 898.16 309.79 898.23 C309.79 898.31 309.78 898.39 309.77 898.46 C309.76 898.54 309.75 898.61 309.73 898.68 C309.72 898.75 309.70 898.82 309.69 898.88 C309.67 898.94 309.65 899.01 309.62 899.06 C309.60 899.12 309.58 899.17 309.55 899.21 C309.53 899.26 309.50 899.30 309.47 899.34 C309.44 899.37 309.42 899.40 309.39 899.43 C309.36 899.45 309.32 899.47 309.29 899.48 C309.26 899.49 309.23 899.50 309.20 899.50 C309.17 899.50 309.14 899.49 309.11 899.48 C309.08 899.47 309.04 899.45 309.01 899.43 C308.98 899.40 308.96 899.37 308.93 899.34 C308.90 899.30 308.87 899.26 308.85 899.21 C308.82 899.17 308.80 899.12 308.78 899.06 C308.75 899.01 308.73 898.94 308.71 898.88 C308.70 898.82 308.68 898.75 308.67 898.68 C308.65 898.61 308.64 898.54 308.63 898.46 C308.62 898.39 308.61 898.31 308.61 898.23 C308.60 898.16 308.60 898.08 308.60 898.00 C308.60 897.92 308.60 897.84 308.61 897.77 C308.62 897.69 308.63 897.61 308.64 897.54 C308.65 897.46 308.67 897.39 308.69 897.32 C308.71 897.25 308.73 897.18 308.75 897.12 C308.77 897.06 308.79 896.99 308.82 896.94 C308.84 896.88 308.87 896.83 308.89 896.79 C308.92 896.74 308.95 896.70 308.97 896.66 C309.00 896.63 309.02 896.60 309.05 896.57 C309.07 896.55 309.10 896.53 309.12 896.52 C309.15 896.51 309.17 896.50 309.20 896.50 C309.23 896.50 309.25 896.51 309.28 896.52 C309.30 896.53 309.33 896.55 309.35 896.57 C309.38 896.60 309.40 896.63 309.43 896.66 C309.45 896.70 309.48 896.74 309.51 896.79 C309.53 896.83 309.56 896.88 309.58 896.94 C309.61 896.99 309.63 897.06 309.65 897.12 C309.67 897.18 309.69 897.25 309.71 897.32 C309.73 897.39 309.75 897.46 309.76 897.54 C309.77 897.61 309.78 897.69 309.79 897.77 C309.80 897.84 309.80 897.92 309.80 898.00Z" fill="none" stroke="#a8a8a8" stroke-width="0.75"/>
<line x1="282.60" y1="853.30" x2="282.60" y2="956.20" stroke="#444" stroke-width="1.0"/>
<line x1="235.20" y1="914.60" x2="282.60" y2="914.60" stroke="#444" stroke-width="1.0"/>
<line x1="282.60" y1="907.20" x2="352.30" y2="907.20" stroke="#444" stroke-width="1.0"/>
<text x="245.70" y="868.30" font-family="Liberation Sans, sans-serif" font-size="6.5" text-anchor="middle" fill="#222">Q1</text>
<text x="341.50" y="868.30" font-family="Liberation Sans, sans-serif" font-size="6.5" text-anchor="middle" fill="#222">Q2</text>
<text x="245.70" y="947.60" font-family="Liberation Sans, sans-serif" font-size="6.5" text-anchor="middle" fill="#222">Q3</text>
<text x="341.50" y="947.60" font-family="Liberation Sans, sans-serif" font-size="6.5" text-anchor="middle" fill="#222">Q4</text>
<rect x="368.80" y="693.50" width="142.10" height="137.50" fill="none" stroke="#555" stroke-width="1.3"/>
<rect x="390.20" y="705.70" width="116.80" height="102.60" fill="none" stroke="#555" stroke-width="1.2"/>
<path d="M391.83 808.30v2.2M395.50 808.30v2.2M398.35 808.30v2.2M400.68 808.30v2.2M402.65 808.30v2.2M404.35 808.30v2.2M405.85 808.30v2.2M407.20 808.30v3.6M416.05 808.30v2.2M421.23 808.30v2.2M424.90 808.30v2.2M427.75 808.30v2.2M430.08 808.30v2.2M432.05 808.30v2.2M433.75 808.30v2.2M435.25 808.30v2.2M436.60 808.30v3.6M445.45 808.30v2.2M450.63 808.30v2.2M454.30 808.30v2.2M457.15 808.30v2.2M459.48 808.30v2.2M461.45 808.30v2.2M463.15 808.30v2.2M464.65 808.30v2.2M466.00 808.30v3.6M474.85 808.30v2.2M480.03 808.30v2.2M483.70 808.30v2.2M486.55 808.30v2.2M488.88 808.30v2.2M490.85 808.30v2.2M492.55 808.30v2.2M494.05 808.30v2.2M495.40 808.30v3.6M504.25 808.30v2.2M390.20 804.77h-2.2M390.20 802.27h-2.2M390.20 800.22h-2.2M390.20 798.50h-2.2M390.20 797.00h-2.2M390.20 795.68h-2.2M390.20 794.50h-3.6M390.20 786.73h-2.2M390.20 782.19h-2.2M390.20 778.97h-2.2M390.20 776.47h-2.2M390.20 774.42h-2.2M390.20 772.70h-2.2M390.20 771.20h-2.2M390.20 769.88h-2.2M390.20 768.70h-3.6M390.20 760.93h-2.2M390.20 756.39h-2.2M390.20 753.17h-2.2M390.20 750.67h-2.2M390.20 748.62h-2.2M390.20 746.90h-2.2M390.20 745.40h-2.2M390.20 744.08h-2.2M390.20 742.90h-3.6M390.20 735.13h-2.2M390.20 730.59h-2.2M390.20 727.37h-2.2M390.20 724.87h-2.2M390.20 722.82h-2.2M390.20 721.10h-2.2M390.20 719.60h-2.2M390.20 718.28h-2.2M390.20 717.10h-3.6M390.20 709.33h-2.2" stroke="#444" stroke-width="0.8" fill="none"/>
<text x="406.00" y="819.30" font-family="Liberation Sans, sans-serif" font-size="4.8" text-anchor="middle" fill="#333">10</text>
<text x="408.80" y="816.60" font-family="Liberation Sans, sans-serif" font-size="3.5" text-anchor="start" fill="#333">2</text>
<text x="435.40" y="819.30" font-family="Liberation Sans, sans-serif" font-size="4.8" text-anchor="middle" fill="#333">10</text>
<text x="438.20" y="816.60" font-family="Liberation Sans, sans-serif" font-size="3.5" text-anchor="start" fill="#333">3</text>
<text x="464.80" y="819.30" font-family="Liberation Sans, sans-serif" font-size="4.8" text-anchor="middle" fill="#333">10</text>
<text x="467.60" y="816.60" font-family="Liberation Sans, sans-serif" font-size="3.5" text-anchor="start" fill="#333">4</text>
<text x="494.20" y="819.30" font-family="Liberation Sans, sans-serif" font-size="4.8" text-anchor="middle" fill="#333">10</text>
<text x="497.00" y="816.60" font-family="Liberation Sans, sans-serif" font-size="3.5" text-anchor="start" fill="#333">5</text>
<text x="384.70" y="794.50" font-family="Liberation Sans, sans-serif" font-size="4.6" text-anchor="middle" fill="#333" transform="rotate(-90 384.7 794.5)">10</text>
<text x="381.70" y="793.00" font-family="Liberation Sans, sans-serif" font-size="3.4" text-anchor="start" fill="#333" transform="rotate(-90 381.7 793.0)">2</text>
<text x="384.70" y="768.70" font-family="Liberation Sans, sans-serif" font-size="4.6" text-anchor="middle" fill="#333" transform="rotate(-90 384.7 768.7)">10</text>
<text x="381.70" y="767.20" font-family="Liberation Sans, sans-serif" font-size="3.4" text-anchor="start" fill="#333" transform="rotate(-90 381.7 767.2)">3</text>
<text x="384.70" y="742.90" font-family="Liberation Sans, sans-serif" font-size="4.6" text-anchor="middle" fill="#333" transform="rotate(-90 384.7 742.9)">10</text>
<text x="381.70" y="741.40" font-family="Liberation Sans, sans-serif" font-size="3.4" text-anchor="start" fill="#333" transform="rotate(-90 381.7 741.4)">4</text>
<text x="384.70" y="717.10" font-family="Liberation Sans, sans-serif" font-size="4.6" text-anchor="middle" fill="#333" transform="rotate(-90 384.7 717.1)">10</text>
<text x="381.70" y="715.60" font-family="Liberation Sans, sans-serif" font-size="3.4" text-anchor="start" fill="#333" transform="rotate(-90 381.7 715.6)">5</text>
<text x="377.60" y="756.30" font-family="Liberation Sans, sans-serif" font-size="6.4" text-anchor="middle" fill="#222" transform="rotate(-90 377.59999999999997 756.3)">HLA-DR APC-A</text>
<text x="449.20" y="826.50" font-family="Liberation Sans, sans-serif" font-size="6.2" text-anchor="middle" fill="#222">CD4 FITC-A</text>
<path d="M479.0 747.4h0.9v0.9h-0.9zM476.3 744.6h0.9v0.9h-0.9zM492.2 743.2h0.9v0.9h-0.9zM436.8 793.4h0.9v0.9h-0.9zM458.4 781.0h0.9v0.9h-0.9zM469.5 731.7h0.9v0.9h-0.9zM477.4 802.8h0.9v0.9h-0.9zM466.4 746.2h0.9v0.9h-0.9zM393.0 720.9h0.9v0.9h-0.9zM411.4 721.0h0.9v0.9h-0.9zM458.4 737.7h0.9v0.9h-0.9zM499.4 721.6h0.9v0.9h-0.9zM485.8 798.2h0.9v0.9h-0.9zM464.7 732.5h0.9v0.9h-0.9zM489.6 739.7h0.9v0.9h-0.9zM470.4 768.2h0.9v0.9h-0.9zM451.6 731.7h0.9v0.9h-0.9zM393.4 730.0h0.9v0.9h-0.9zM465.2 714.3h0.9v0.9h-0.9zM425.7 763.6h0.9v0.9h-0.9zM409.5 723.0h0.9v0.9h-0.9zM468.0 805.9h0.9v0.9h-0.9zM412.3 793.7h0.9v0.9h-0.9zM477.9 759.2h0.9v0.9h-0.9zM467.0 791.2h0.9v0.9h-0.9zM454.2 760.7h0.9v0.9h-0.9zM401.2 734.5h0.9v0.9h-0.9zM466.3 756.7h0.9v0.9h-0.9zM484.8 804.7h0.9v0.9h-0.9zM409.7 749.7h0.9v0.9h-0.9zM482.3 747.0h0.9v0.9h-0.9zM394.6 713.9h0.9v0.9h-0.9zM492.3 774.3h0.9v0.9h-0.9zM428.5 803.7h0.9v0.9h-0.9zM458.3 767.9h0.9v0.9h-0.9zM436.6 787.0h0.9v0.9h-0.9zM467.0 799.7h0.9v0.9h-0.9zM395.4 722.8h0.9v0.9h-0.9zM465.7 805.7h0.9v0.9h-0.9zM471.0 784.2h0.9v0.9h-0.9zM410.4 780.9h0.9v0.9h-0.9zM409.5 742.5h0.9v0.9h-0.9zM418.9 771.9h0.9v0.9h-0.9zM418.5 753.9h0.9v0.9h-0.9zM409.8 768.4h0.9v0.9h-0.9zM414.7 752.4h0.9v0.9h-0.9zM416.0 782.3h0.9v0.9h-0.9zM420.5 792.6h0.9v0.9h-0.9zM419.7 778.2h0.9v0.9h-0.9zM427.2 778.6h0.9v0.9h-0.9zM412.4 766.4h0.9v0.9h-0.9zM406.9 761.1h0.9v0.9h-0.9zM420.7 775.8h0.9v0.9h-0.9zM410.2 768.1h0.9v0.9h-0.9zM410.5 755.0h0.9v0.9h-0.9zM416.8 748.4h0.9v0.9h-0.9zM415.8 776.1h0.9v0.9h-0.9zM422.1 776.0h0.9v0.9h-0.9zM413.3 764.2h0.9v0.9h-0.9zM428.6 765.3h0.9v0.9h-0.9zM420.1 743.9h0.9v0.9h-0.9zM420.1 754.0h0.9v0.9h-0.9zM409.3 750.4h0.9v0.9h-0.9zM418.1 771.6h0.9v0.9h-0.9zM424.8 761.2h0.9v0.9h-0.9zM414.5 763.9h0.9v0.9h-0.9zM424.6 753.7h0.9v0.9h-0.9zM419.7 765.0h0.9v0.9h-0.9zM421.8 740.8h0.9v0.9h-0.9zM420.8 764.4h0.9v0.9h-0.9zM407.1 770.9h0.9v0.9h-0.9zM415.1 770.1h0.9v0.9h-0.9zM413.5 752.2h0.9v0.9h-0.9zM416.2 783.2h0.9v0.9h-0.9zM413.7 766.4h0.9v0.9h-0.9zM409.6 762.0h0.9v0.9h-0.9zM417.7 778.4h0.9v0.9h-0.9zM417.3 751.5h0.9v0.9h-0.9zM415.6 773.3h0.9v0.9h-0.9zM413.9 757.4h0.9v0.9h-0.9zM420.3 770.4h0.9v0.9h-0.9zM419.5 745.7h0.9v0.9h-0.9zM411.3 767.6h0.9v0.9h-0.9zM419.8 768.2h0.9v0.9h-0.9zM414.3 741.4h0.9v0.9h-0.9zM422.2 737.9h0.9v0.9h-0.9zM418.1 770.1h0.9v0.9h-0.9zM402.6 758.4h0.9v0.9h-0.9zM411.0 760.6h0.9v0.9h-0.9zM409.4 769.9h0.9v0.9h-0.9zM414.3 764.9h0.9v0.9h-0.9zM419.1 761.3h0.9v0.9h-0.9zM416.0 768.1h0.9v0.9h-0.9zM407.1 758.6h0.9v0.9h-0.9zM405.2 767.1h0.9v0.9h-0.9zM415.7 754.7h0.9v0.9h-0.9zM414.2 776.4h0.9v0.9h-0.9zM418.5 764.4h0.9v0.9h-0.9zM416.9 759.8h0.9v0.9h-0.9zM422.6 783.0h0.9v0.9h-0.9zM417.4 736.5h0.9v0.9h-0.9zM419.2 761.5h0.9v0.9h-0.9zM413.4 748.1h0.9v0.9h-0.9zM417.7 756.2h0.9v0.9h-0.9zM424.1 749.0h0.9v0.9h-0.9zM410.1 759.9h0.9v0.9h-0.9zM409.5 780.9h0.9v0.9h-0.9zM413.4 751.9h0.9v0.9h-0.9zM421.2 760.7h0.9v0.9h-0.9zM416.0 779.6h0.9v0.9h-0.9zM412.0 770.9h0.9v0.9h-0.9zM418.6 774.1h0.9v0.9h-0.9zM415.4 762.0h0.9v0.9h-0.9zM415.6 756.4h0.9v0.9h-0.9zM409.1 757.3h0.9v0.9h-0.9zM406.4 758.2h0.9v0.9h-0.9zM417.9 745.2h0.9v0.9h-0.9zM412.9 730.6h0.9v0.9h-0.9zM419.2 756.1h0.9v0.9h-0.9zM425.7 766.5h0.9v0.9h-0.9zM419.9 755.5h0.9v0.9h-0.9zM409.7 778.6h0.9v0.9h-0.9zM417.0 779.5h0.9v0.9h-0.9zM412.8 764.5h0.9v0.9h-0.9zM417.3 758.7h0.9v0.9h-0.9zM420.2 769.5h0.9v0.9h-0.9zM414.2 756.1h0.9v0.9h-0.9zM418.6 760.2h0.9v0.9h-0.9zM416.4 751.5h0.9v0.9h-0.9zM418.2 754.1h0.9v0.9h-0.9zM419.9 771.4h0.9v0.9h-0.9zM415.5 757.5h0.9v0.9h-0.9zM421.4 770.2h0.9v0.9h-0.9zM422.2 763.3h0.9v0.9h-0.9zM411.4 764.3h0.9v0.9h-0.9zM415.0 768.0h0.9v0.9h-0.9zM415.6 732.6h0.9v0.9h-0.9zM406.2 757.4h0.9v0.9h-0.9zM411.2 767.4h0.9v0.9h-0.9zM422.1 783.6h0.9v0.9h-0.9zM418.7 770.7h0.9v0.9h-0.9zM416.1 798.9h0.9v0.9h-0.9zM416.8 781.6h0.9v0.9h-0.9zM420.5 765.5h0.9v0.9h-0.9zM409.9 745.6h0.9v0.9h-0.9zM423.2 759.4h0.9v0.9h-0.9zM412.9 760.4h0.9v0.9h-0.9zM413.9 764.7h0.9v0.9h-0.9zM410.6 768.8h0.9v0.9h-0.9zM417.3 745.1h0.9v0.9h-0.9zM411.5 770.5h0.9v0.9h-0.9zM415.3 759.5h0.9v0.9h-0.9zM411.2 754.2h0.9v0.9h-0.9zM421.4 745.5h0.9v0.9h-0.9zM422.2 766.3h0.9v0.9h-0.9zM411.9 756.2h0.9v0.9h-0.9zM409.0 732.0h0.9v0.9h-0.9zM409.3 764.2h0.9v0.9h-0.9zM419.5 760.5h0.9v0.9h-0.9zM409.1 740.1h0.9v0.9h-0.9zM411.2 772.0h0.9v0.9h-0.9zM415.2 759.3h0.9v0.9h-0.9zM422.9 768.6h0.9v0.9h-0.9zM415.9 745.9h0.9v0.9h-0.9zM414.2 755.6h0.9v0.9h-0.9zM419.0 768.2h0.9v0.9h-0.9zM407.2 772.4h0.9v0.9h-0.9zM410.2 753.4h0.9v0.9h-0.9zM420.4 726.2h0.9v0.9h-0.9zM421.1 766.0h0.9v0.9h-0.9zM418.4 759.9h0.9v0.9h-0.9zM417.6 782.3h0.9v0.9h-0.9zM414.2 748.8h0.9v0.9h-0.9zM414.5 769.5h0.9v0.9h-0.9zM424.4 742.4h0.9v0.9h-0.9zM410.7 767.1h0.9v0.9h-0.9zM422.0 757.9h0.9v0.9h-0.9zM415.4 766.0h0.9v0.9h-0.9zM408.0 762.0h0.9v0.9h-0.9zM418.4 760.4h0.9v0.9h-0.9zM411.7 784.7h0.9v0.9h-0.9zM417.7 779.3h0.9v0.9h-0.9zM417.5 763.0h0.9v0.9h-0.9zM427.2 750.0h0.9v0.9h-0.9zM412.7 751.5h0.9v0.9h-0.9zM405.9 777.8h0.9v0.9h-0.9zM417.7 763.5h0.9v0.9h-0.9zM418.9 752.8h0.9v0.9h-0.9zM414.5 753.5h0.9v0.9h-0.9zM412.0 782.0h0.9v0.9h-0.9zM418.2 764.6h0.9v0.9h-0.9zM419.2 750.7h0.9v0.9h-0.9zM419.8 768.2h0.9v0.9h-0.9zM416.0 743.5h0.9v0.9h-0.9zM415.3 745.4h0.9v0.9h-0.9zM409.8 767.3h0.9v0.9h-0.9zM412.4 752.6h0.9v0.9h-0.9zM419.0 756.8h0.9v0.9h-0.9zM421.9 788.2h0.9v0.9h-0.9zM421.4 790.3h0.9v0.9h-0.9zM414.9 769.7h0.9v0.9h-0.9zM411.5 766.8h0.9v0.9h-0.9zM411.8 747.3h0.9v0.9h-0.9zM413.9 746.7h0.9v0.9h-0.9zM420.5 764.6h0.9v0.9h-0.9zM421.6 765.3h0.9v0.9h-0.9zM417.5 776.6h0.9v0.9h-0.9zM418.5 774.7h0.9v0.9h-0.9zM411.0 769.9h0.9v0.9h-0.9zM414.8 772.0h0.9v0.9h-0.9zM419.2 766.9h0.9v0.9h-0.9zM416.0 781.7h0.9v0.9h-0.9zM418.6 748.0h0.9v0.9h-0.9zM409.3 791.1h0.9v0.9h-0.9zM423.2 771.7h0.9v0.9h-0.9zM414.2 744.5h0.9v0.9h-0.9zM412.6 767.3h0.9v0.9h-0.9zM397.3 754.9h0.9v0.9h-0.9zM414.1 770.8h0.9v0.9h-0.9zM425.6 762.4h0.9v0.9h-0.9zM412.8 784.0h0.9v0.9h-0.9zM420.4 766.7h0.9v0.9h-0.9zM407.4 754.7h0.9v0.9h-0.9zM408.7 769.8h0.9v0.9h-0.9zM407.8 770.1h0.9v0.9h-0.9zM422.5 764.9h0.9v0.9h-0.9zM406.3 755.7h0.9v0.9h-0.9zM417.1 743.7h0.9v0.9h-0.9zM411.6 762.9h0.9v0.9h-0.9zM418.9 740.7h0.9v0.9h-0.9zM410.3 751.3h0.9v0.9h-0.9zM412.3 764.4h0.9v0.9h-0.9zM417.5 778.4h0.9v0.9h-0.9zM407.0 775.8h0.9v0.9h-0.9zM405.5 738.9h0.9v0.9h-0.9zM425.7 777.0h0.9v0.9h-0.9zM416.1 734.4h0.9v0.9h-0.9zM418.2 766.4h0.9v0.9h-0.9zM415.7 764.8h0.9v0.9h-0.9zM417.5 775.7h0.9v0.9h-0.9zM415.7 765.8h0.9v0.9h-0.9zM417.7 778.1h0.9v0.9h-0.9zM409.5 754.9h0.9v0.9h-0.9zM402.7 761.7h0.9v0.9h-0.9zM412.4 775.6h0.9v0.9h-0.9zM423.4 756.0h0.9v0.9h-0.9zM412.5 755.8h0.9v0.9h-0.9zM406.6 764.4h0.9v0.9h-0.9zM423.3 741.8h0.9v0.9h-0.9zM420.9 760.1h0.9v0.9h-0.9zM412.8 749.1h0.9v0.9h-0.9zM419.5 783.9h0.9v0.9h-0.9zM418.4 781.0h0.9v0.9h-0.9zM409.5 773.2h0.9v0.9h-0.9zM421.8 794.0h0.9v0.9h-0.9zM419.0 766.3h0.9v0.9h-0.9zM418.0 758.3h0.9v0.9h-0.9zM421.3 768.2h0.9v0.9h-0.9zM406.1 767.8h0.9v0.9h-0.9zM415.2 759.5h0.9v0.9h-0.9zM423.5 768.5h0.9v0.9h-0.9zM407.0 788.4h0.9v0.9h-0.9zM408.7 783.4h0.9v0.9h-0.9zM406.8 781.5h0.9v0.9h-0.9zM424.4 790.1h0.9v0.9h-0.9zM411.5 777.2h0.9v0.9h-0.9zM424.3 792.2h0.9v0.9h-0.9zM417.8 795.5h0.9v0.9h-0.9zM428.4 788.8h0.9v0.9h-0.9zM408.3 792.6h0.9v0.9h-0.9zM423.7 800.1h0.9v0.9h-0.9zM418.8 781.4h0.9v0.9h-0.9zM391.7 790.8h0.9v0.9h-0.9zM406.7 785.9h0.9v0.9h-0.9zM401.0 784.7h0.9v0.9h-0.9zM415.5 774.9h0.9v0.9h-0.9zM410.8 793.8h0.9v0.9h-0.9zM424.0 795.4h0.9v0.9h-0.9zM419.3 793.4h0.9v0.9h-0.9zM423.0 782.2h0.9v0.9h-0.9zM425.9 792.5h0.9v0.9h-0.9zM421.9 787.3h0.9v0.9h-0.9zM409.6 787.1h0.9v0.9h-0.9zM419.8 783.8h0.9v0.9h-0.9zM417.4 797.4h0.9v0.9h-0.9zM418.8 783.8h0.9v0.9h-0.9zM421.3 791.9h0.9v0.9h-0.9zM412.1 781.1h0.9v0.9h-0.9zM407.7 786.9h0.9v0.9h-0.9zM418.2 779.3h0.9v0.9h-0.9zM403.0 788.2h0.9v0.9h-0.9zM416.2 782.9h0.9v0.9h-0.9zM421.4 780.9h0.9v0.9h-0.9zM404.8 783.8h0.9v0.9h-0.9zM427.2 782.6h0.9v0.9h-0.9zM405.2 786.8h0.9v0.9h-0.9zM429.2 793.5h0.9v0.9h-0.9zM425.1 785.3h0.9v0.9h-0.9zM414.4 802.0h0.9v0.9h-0.9zM414.1 796.3h0.9v0.9h-0.9zM402.9 774.9h0.9v0.9h-0.9zM420.9 778.9h0.9v0.9h-0.9zM411.3 781.7h0.9v0.9h-0.9zM421.7 795.8h0.9v0.9h-0.9zM409.5 781.1h0.9v0.9h-0.9zM426.0 796.0h0.9v0.9h-0.9zM422.2 785.9h0.9v0.9h-0.9zM407.4 791.4h0.9v0.9h-0.9zM423.0 787.4h0.9v0.9h-0.9zM415.2 797.0h0.9v0.9h-0.9zM410.9 791.8h0.9v0.9h-0.9zM423.2 786.7h0.9v0.9h-0.9zM404.1 787.8h0.9v0.9h-0.9zM412.4 795.3h0.9v0.9h-0.9zM407.8 800.9h0.9v0.9h-0.9zM407.2 782.3h0.9v0.9h-0.9zM414.1 798.6h0.9v0.9h-0.9zM414.4 781.6h0.9v0.9h-0.9zM424.5 783.9h0.9v0.9h-0.9zM415.7 781.3h0.9v0.9h-0.9zM420.4 795.1h0.9v0.9h-0.9zM414.1 779.8h0.9v0.9h-0.9zM411.3 771.4h0.9v0.9h-0.9zM410.3 781.1h0.9v0.9h-0.9zM398.1 788.5h0.9v0.9h-0.9zM412.1 784.0h0.9v0.9h-0.9zM423.1 796.0h0.9v0.9h-0.9zM426.4 796.4h0.9v0.9h-0.9zM404.1 787.9h0.9v0.9h-0.9zM410.5 785.6h0.9v0.9h-0.9zM402.5 795.3h0.9v0.9h-0.9zM410.1 785.3h0.9v0.9h-0.9zM401.7 793.6h0.9v0.9h-0.9zM420.8 785.3h0.9v0.9h-0.9zM408.7 773.7h0.9v0.9h-0.9zM402.9 794.6h0.9v0.9h-0.9zM421.8 794.1h0.9v0.9h-0.9zM422.3 788.3h0.9v0.9h-0.9zM421.9 780.6h0.9v0.9h-0.9zM408.8 785.6h0.9v0.9h-0.9zM405.0 780.6h0.9v0.9h-0.9zM425.8 795.7h0.9v0.9h-0.9zM406.1 788.3h0.9v0.9h-0.9zM408.6 770.2h0.9v0.9h-0.9zM420.8 792.3h0.9v0.9h-0.9zM425.1 785.4h0.9v0.9h-0.9zM423.4 791.9h0.9v0.9h-0.9zM436.8 792.8h0.9v0.9h-0.9zM411.0 793.1h0.9v0.9h-0.9zM415.2 796.1h0.9v0.9h-0.9zM411.4 784.6h0.9v0.9h-0.9zM414.3 799.1h0.9v0.9h-0.9zM412.1 806.2h0.9v0.9h-0.9zM422.4 791.9h0.9v0.9h-0.9zM421.7 797.1h0.9v0.9h-0.9zM408.4 780.6h0.9v0.9h-0.9zM418.9 796.0h0.9v0.9h-0.9zM423.7 789.2h0.9v0.9h-0.9zM401.5 793.0h0.9v0.9h-0.9zM406.0 791.9h0.9v0.9h-0.9zM413.4 796.4h0.9v0.9h-0.9zM423.2 790.6h0.9v0.9h-0.9zM430.8 797.3h0.9v0.9h-0.9zM419.4 776.2h0.9v0.9h-0.9zM401.8 788.4h0.9v0.9h-0.9zM422.0 778.5h0.9v0.9h-0.9zM417.5 779.9h0.9v0.9h-0.9zM416.7 796.4h0.9v0.9h-0.9zM423.3 792.0h0.9v0.9h-0.9zM424.3 787.0h0.9v0.9h-0.9zM413.4 778.8h0.9v0.9h-0.9zM408.0 786.7h0.9v0.9h-0.9zM409.8 791.0h0.9v0.9h-0.9zM397.4 800.7h0.9v0.9h-0.9zM406.5 788.7h0.9v0.9h-0.9zM413.8 801.8h0.9v0.9h-0.9zM422.5 785.0h0.9v0.9h-0.9zM409.3 784.9h0.9v0.9h-0.9zM413.2 782.2h0.9v0.9h-0.9zM415.3 775.2h0.9v0.9h-0.9zM401.4 790.2h0.9v0.9h-0.9zM431.3 793.5h0.9v0.9h-0.9zM422.8 790.9h0.9v0.9h-0.9zM410.8 793.6h0.9v0.9h-0.9zM423.0 789.1h0.9v0.9h-0.9zM409.8 798.2h0.9v0.9h-0.9zM416.3 781.2h0.9v0.9h-0.9zM407.1 796.0h0.9v0.9h-0.9zM418.2 778.7h0.9v0.9h-0.9zM411.8 778.2h0.9v0.9h-0.9zM412.3 793.3h0.9v0.9h-0.9zM409.8 787.4h0.9v0.9h-0.9zM416.9 779.9h0.9v0.9h-0.9zM423.0 793.7h0.9v0.9h-0.9zM402.5 787.0h0.9v0.9h-0.9zM413.6 779.7h0.9v0.9h-0.9zM412.5 793.8h0.9v0.9h-0.9zM406.7 799.4h0.9v0.9h-0.9zM432.2 789.2h0.9v0.9h-0.9zM420.9 779.7h0.9v0.9h-0.9zM416.1 779.9h0.9v0.9h-0.9zM404.0 780.2h0.9v0.9h-0.9zM417.3 780.9h0.9v0.9h-0.9zM405.8 781.0h0.9v0.9h-0.9zM413.2 794.7h0.9v0.9h-0.9zM428.1 798.5h0.9v0.9h-0.9zM422.9 798.3h0.9v0.9h-0.9zM418.8 778.7h0.9v0.9h-0.9zM420.3 796.7h0.9v0.9h-0.9zM435.1 791.3h0.9v0.9h-0.9zM419.7 792.7h0.9v0.9h-0.9zM403.6 793.4h0.9v0.9h-0.9zM401.7 788.4h0.9v0.9h-0.9zM415.1 795.8h0.9v0.9h-0.9zM399.2 786.5h0.9v0.9h-0.9zM406.7 794.4h0.9v0.9h-0.9zM406.4 791.9h0.9v0.9h-0.9zM424.5 788.0h0.9v0.9h-0.9zM407.4 776.5h0.9v0.9h-0.9zM420.1 781.4h0.9v0.9h-0.9zM402.4 786.3h0.9v0.9h-0.9zM408.2 780.7h0.9v0.9h-0.9zM407.9 785.5h0.9v0.9h-0.9zM402.7 790.0h0.9v0.9h-0.9zM409.0 794.2h0.9v0.9h-0.9zM420.9 783.8h0.9v0.9h-0.9zM417.8 783.0h0.9v0.9h-0.9zM422.5 780.3h0.9v0.9h-0.9zM433.7 790.5h0.9v0.9h-0.9zM402.6 794.9h0.9v0.9h-0.9zM407.8 787.0h0.9v0.9h-0.9zM398.6 794.6h0.9v0.9h-0.9zM430.8 780.6h0.9v0.9h-0.9zM411.5 799.7h0.9v0.9h-0.9zM397.9 793.0h0.9v0.9h-0.9zM463.7 768.8h0.9v0.9h-0.9zM462.1 762.1h0.9v0.9h-0.9zM469.4 741.1h0.9v0.9h-0.9zM462.2 777.7h0.9v0.9h-0.9zM461.0 745.4h0.9v0.9h-0.9zM461.0 767.7h0.9v0.9h-0.9zM460.9 738.9h0.9v0.9h-0.9zM461.6 747.1h0.9v0.9h-0.9zM473.2 772.5h0.9v0.9h-0.9zM465.8 745.1h0.9v0.9h-0.9zM471.4 737.0h0.9v0.9h-0.9zM467.7 758.4h0.9v0.9h-0.9zM464.6 757.4h0.9v0.9h-0.9zM463.4 743.1h0.9v0.9h-0.9zM459.6 765.3h0.9v0.9h-0.9zM466.9 768.6h0.9v0.9h-0.9zM465.5 763.4h0.9v0.9h-0.9zM465.4 785.0h0.9v0.9h-0.9zM464.7 751.5h0.9v0.9h-0.9zM468.2 779.4h0.9v0.9h-0.9zM462.4 758.2h0.9v0.9h-0.9zM458.4 739.6h0.9v0.9h-0.9zM461.9 740.4h0.9v0.9h-0.9zM455.7 736.4h0.9v0.9h-0.9zM466.5 730.6h0.9v0.9h-0.9zM473.9 764.7h0.9v0.9h-0.9zM462.8 734.5h0.9v0.9h-0.9zM470.5 754.5h0.9v0.9h-0.9zM476.1 760.9h0.9v0.9h-0.9zM464.0 755.9h0.9v0.9h-0.9zM468.2 772.5h0.9v0.9h-0.9zM469.2 741.8h0.9v0.9h-0.9zM474.1 745.7h0.9v0.9h-0.9zM467.5 775.1h0.9v0.9h-0.9zM461.6 774.6h0.9v0.9h-0.9zM462.3 758.1h0.9v0.9h-0.9zM460.2 744.1h0.9v0.9h-0.9zM464.3 748.0h0.9v0.9h-0.9zM468.9 770.1h0.9v0.9h-0.9zM468.6 785.4h0.9v0.9h-0.9zM462.6 749.4h0.9v0.9h-0.9zM468.4 756.5h0.9v0.9h-0.9zM456.1 744.8h0.9v0.9h-0.9zM465.0 775.0h0.9v0.9h-0.9zM472.5 760.3h0.9v0.9h-0.9zM464.8 765.7h0.9v0.9h-0.9zM463.1 749.3h0.9v0.9h-0.9zM472.2 777.2h0.9v0.9h-0.9zM472.7 767.0h0.9v0.9h-0.9zM465.8 773.8h0.9v0.9h-0.9zM454.2 755.0h0.9v0.9h-0.9zM469.3 749.9h0.9v0.9h-0.9zM475.6 764.7h0.9v0.9h-0.9zM460.7 763.5h0.9v0.9h-0.9zM478.1 777.4h0.9v0.9h-0.9zM460.8 777.0h0.9v0.9h-0.9zM471.5 740.6h0.9v0.9h-0.9zM470.9 731.7h0.9v0.9h-0.9zM470.0 777.4h0.9v0.9h-0.9zM461.5 753.3h0.9v0.9h-0.9zM470.0 752.8h0.9v0.9h-0.9zM457.9 769.6h0.9v0.9h-0.9zM465.6 761.4h0.9v0.9h-0.9zM465.4 760.1h0.9v0.9h-0.9zM466.0 766.2h0.9v0.9h-0.9zM459.4 754.7h0.9v0.9h-0.9zM461.6 757.7h0.9v0.9h-0.9zM455.9 752.9h0.9v0.9h-0.9zM475.3 764.1h0.9v0.9h-0.9zM466.9 751.4h0.9v0.9h-0.9zM461.9 781.5h0.9v0.9h-0.9zM467.1 766.2h0.9v0.9h-0.9zM465.5 758.5h0.9v0.9h-0.9zM474.3 774.3h0.9v0.9h-0.9zM462.5 764.7h0.9v0.9h-0.9zM471.9 772.2h0.9v0.9h-0.9zM457.7 768.5h0.9v0.9h-0.9zM465.0 740.7h0.9v0.9h-0.9zM468.3 777.3h0.9v0.9h-0.9zM464.3 774.7h0.9v0.9h-0.9zM471.0 754.7h0.9v0.9h-0.9zM466.5 797.5h0.9v0.9h-0.9zM462.4 741.3h0.9v0.9h-0.9zM462.9 775.7h0.9v0.9h-0.9zM472.8 756.0h0.9v0.9h-0.9zM465.6 759.3h0.9v0.9h-0.9zM463.8 773.5h0.9v0.9h-0.9zM456.9 775.7h0.9v0.9h-0.9zM457.8 772.5h0.9v0.9h-0.9zM460.4 740.1h0.9v0.9h-0.9zM468.9 776.4h0.9v0.9h-0.9zM471.9 750.7h0.9v0.9h-0.9zM461.9 758.0h0.9v0.9h-0.9zM476.8 763.1h0.9v0.9h-0.9zM466.7 740.0h0.9v0.9h-0.9zM466.4 777.1h0.9v0.9h-0.9zM466.9 757.5h0.9v0.9h-0.9zM461.2 744.0h0.9v0.9h-0.9zM471.1 751.0h0.9v0.9h-0.9zM466.5 741.6h0.9v0.9h-0.9zM469.3 743.1h0.9v0.9h-0.9zM456.8 765.8h0.9v0.9h-0.9zM458.2 767.9h0.9v0.9h-0.9zM470.0 779.6h0.9v0.9h-0.9zM473.5 794.7h0.9v0.9h-0.9zM464.4 773.1h0.9v0.9h-0.9zM464.3 724.7h0.9v0.9h-0.9zM465.3 771.1h0.9v0.9h-0.9zM463.0 764.8h0.9v0.9h-0.9zM459.5 770.6h0.9v0.9h-0.9zM459.7 774.0h0.9v0.9h-0.9zM472.9 763.5h0.9v0.9h-0.9zM462.6 774.8h0.9v0.9h-0.9zM469.8 771.5h0.9v0.9h-0.9zM457.3 792.7h0.9v0.9h-0.9zM468.8 751.2h0.9v0.9h-0.9zM472.5 746.2h0.9v0.9h-0.9zM464.0 757.9h0.9v0.9h-0.9zM471.4 798.4h0.9v0.9h-0.9zM467.4 730.7h0.9v0.9h-0.9zM479.0 757.6h0.9v0.9h-0.9zM464.6 743.8h0.9v0.9h-0.9zM464.6 759.2h0.9v0.9h-0.9zM460.1 766.7h0.9v0.9h-0.9zM465.2 746.6h0.9v0.9h-0.9zM469.8 779.1h0.9v0.9h-0.9zM461.7 791.0h0.9v0.9h-0.9zM473.1 753.9h0.9v0.9h-0.9zM462.8 773.8h0.9v0.9h-0.9zM467.0 747.1h0.9v0.9h-0.9zM473.2 744.8h0.9v0.9h-0.9zM462.7 772.1h0.9v0.9h-0.9zM466.7 772.0h0.9v0.9h-0.9zM464.4 744.3h0.9v0.9h-0.9zM461.6 770.0h0.9v0.9h-0.9zM468.9 782.0h0.9v0.9h-0.9zM454.0 752.2h0.9v0.9h-0.9zM460.1 737.3h0.9v0.9h-0.9zM465.1 765.2h0.9v0.9h-0.9zM467.3 776.4h0.9v0.9h-0.9zM461.1 760.5h0.9v0.9h-0.9zM458.6 769.6h0.9v0.9h-0.9zM474.5 752.7h0.9v0.9h-0.9zM469.0 764.6h0.9v0.9h-0.9zM469.0 756.7h0.9v0.9h-0.9zM466.5 763.5h0.9v0.9h-0.9zM472.0 771.3h0.9v0.9h-0.9zM467.5 759.9h0.9v0.9h-0.9zM458.6 758.7h0.9v0.9h-0.9zM465.8 737.6h0.9v0.9h-0.9zM471.2 732.4h0.9v0.9h-0.9zM456.8 752.0h0.9v0.9h-0.9zM462.5 760.0h0.9v0.9h-0.9zM466.1 754.6h0.9v0.9h-0.9zM465.8 760.6h0.9v0.9h-0.9zM462.3 755.6h0.9v0.9h-0.9zM466.8 753.7h0.9v0.9h-0.9zM467.7 751.0h0.9v0.9h-0.9zM475.8 758.7h0.9v0.9h-0.9zM461.3 770.8h0.9v0.9h-0.9zM465.5 756.0h0.9v0.9h-0.9zM459.8 735.8h0.9v0.9h-0.9zM471.8 747.4h0.9v0.9h-0.9zM467.8 747.0h0.9v0.9h-0.9zM468.9 761.8h0.9v0.9h-0.9zM468.3 774.9h0.9v0.9h-0.9zM475.5 719.2h0.9v0.9h-0.9zM463.9 748.9h0.9v0.9h-0.9zM467.1 749.7h0.9v0.9h-0.9zM468.7 793.0h0.9v0.9h-0.9zM459.8 749.5h0.9v0.9h-0.9zM457.1 768.0h0.9v0.9h-0.9zM470.2 782.8h0.9v0.9h-0.9zM466.3 752.9h0.9v0.9h-0.9zM470.0 757.7h0.9v0.9h-0.9zM465.5 759.3h0.9v0.9h-0.9zM464.5 763.2h0.9v0.9h-0.9zM464.4 748.0h0.9v0.9h-0.9zM466.8 762.0h0.9v0.9h-0.9zM463.8 752.0h0.9v0.9h-0.9zM463.5 749.3h0.9v0.9h-0.9zM472.6 782.2h0.9v0.9h-0.9zM471.4 737.8h0.9v0.9h-0.9zM465.6 774.5h0.9v0.9h-0.9zM474.6 757.2h0.9v0.9h-0.9zM463.0 759.1h0.9v0.9h-0.9zM470.8 750.4h0.9v0.9h-0.9zM471.7 762.1h0.9v0.9h-0.9zM464.4 769.0h0.9v0.9h-0.9zM474.9 744.2h0.9v0.9h-0.9zM459.7 768.5h0.9v0.9h-0.9zM465.6 728.6h0.9v0.9h-0.9zM462.8 747.2h0.9v0.9h-0.9zM473.6 740.1h0.9v0.9h-0.9zM467.7 755.6h0.9v0.9h-0.9zM461.8 769.1h0.9v0.9h-0.9zM465.0 748.7h0.9v0.9h-0.9zM461.8 763.8h0.9v0.9h-0.9zM471.7 757.2h0.9v0.9h-0.9zM461.5 778.8h0.9v0.9h-0.9zM461.6 732.4h0.9v0.9h-0.9zM467.9 733.5h0.9v0.9h-0.9zM463.2 755.4h0.9v0.9h-0.9zM467.0 730.2h0.9v0.9h-0.9zM466.5 761.4h0.9v0.9h-0.9zM463.0 762.0h0.9v0.9h-0.9zM457.6 745.5h0.9v0.9h-0.9zM454.2 747.1h0.9v0.9h-0.9zM466.3 763.0h0.9v0.9h-0.9zM463.9 765.4h0.9v0.9h-0.9zM468.5 755.6h0.9v0.9h-0.9zM466.6 768.1h0.9v0.9h-0.9zM465.2 749.3h0.9v0.9h-0.9zM463.7 762.9h0.9v0.9h-0.9zM470.2 775.8h0.9v0.9h-0.9zM448.6 774.4h0.9v0.9h-0.9zM456.4 744.7h0.9v0.9h-0.9zM468.0 747.2h0.9v0.9h-0.9zM464.8 747.2h0.9v0.9h-0.9zM461.2 762.4h0.9v0.9h-0.9zM462.7 766.0h0.9v0.9h-0.9zM469.8 741.1h0.9v0.9h-0.9zM467.8 741.3h0.9v0.9h-0.9zM466.3 762.0h0.9v0.9h-0.9zM456.1 724.2h0.9v0.9h-0.9zM470.8 773.1h0.9v0.9h-0.9zM461.7 758.6h0.9v0.9h-0.9zM468.7 746.7h0.9v0.9h-0.9zM468.2 773.9h0.9v0.9h-0.9zM456.4 758.8h0.9v0.9h-0.9zM458.1 749.3h0.9v0.9h-0.9zM457.2 792.4h0.9v0.9h-0.9zM460.0 759.0h0.9v0.9h-0.9zM468.9 760.6h0.9v0.9h-0.9zM471.7 764.4h0.9v0.9h-0.9zM466.8 757.8h0.9v0.9h-0.9zM464.4 767.7h0.9v0.9h-0.9zM461.5 752.3h0.9v0.9h-0.9zM473.6 772.5h0.9v0.9h-0.9zM465.4 762.4h0.9v0.9h-0.9zM460.9 761.6h0.9v0.9h-0.9zM465.6 774.7h0.9v0.9h-0.9zM468.5 742.4h0.9v0.9h-0.9zM463.1 759.7h0.9v0.9h-0.9zM463.0 769.5h0.9v0.9h-0.9zM457.2 774.2h0.9v0.9h-0.9zM468.2 756.3h0.9v0.9h-0.9zM461.5 750.6h0.9v0.9h-0.9zM468.8 772.8h0.9v0.9h-0.9zM466.1 733.1h0.9v0.9h-0.9zM466.5 775.9h0.9v0.9h-0.9zM461.9 733.5h0.9v0.9h-0.9zM467.8 744.4h0.9v0.9h-0.9zM459.2 773.8h0.9v0.9h-0.9zM466.3 758.9h0.9v0.9h-0.9zM473.7 746.4h0.9v0.9h-0.9zM477.5 778.0h0.9v0.9h-0.9zM459.7 764.5h0.9v0.9h-0.9zM468.1 751.3h0.9v0.9h-0.9zM465.7 768.6h0.9v0.9h-0.9zM463.6 765.4h0.9v0.9h-0.9zM469.8 756.6h0.9v0.9h-0.9zM458.4 771.1h0.9v0.9h-0.9zM468.6 767.2h0.9v0.9h-0.9zM460.7 739.3h0.9v0.9h-0.9zM472.8 763.3h0.9v0.9h-0.9zM467.1 764.4h0.9v0.9h-0.9zM478.9 767.2h0.9v0.9h-0.9zM472.2 746.7h0.9v0.9h-0.9zM466.6 774.6h0.9v0.9h-0.9zM458.4 737.6h0.9v0.9h-0.9zM452.4 752.8h0.9v0.9h-0.9zM466.7 755.4h0.9v0.9h-0.9zM463.8 760.9h0.9v0.9h-0.9zM470.8 757.1h0.9v0.9h-0.9zM460.8 762.8h0.9v0.9h-0.9zM466.0 767.7h0.9v0.9h-0.9zM461.8 789.2h0.9v0.9h-0.9zM467.6 754.5h0.9v0.9h-0.9zM467.5 769.9h0.9v0.9h-0.9zM457.6 756.7h0.9v0.9h-0.9zM465.5 759.5h0.9v0.9h-0.9zM471.4 748.6h0.9v0.9h-0.9zM467.6 753.2h0.9v0.9h-0.9zM472.3 779.7h0.9v0.9h-0.9zM461.1 759.2h0.9v0.9h-0.9zM456.2 764.6h0.9v0.9h-0.9zM461.2 742.2h0.9v0.9h-0.9zM459.1 768.1h0.9v0.9h-0.9zM474.5 767.8h0.9v0.9h-0.9zM466.2 765.8h0.9v0.9h-0.9zM470.4 776.4h0.9v0.9h-0.9zM473.9 760.7h0.9v0.9h-0.9zM466.8 751.6h0.9v0.9h-0.9zM454.2 767.5h0.9v0.9h-0.9zM453.1 766.8h0.9v0.9h-0.9zM469.4 786.4h0.9v0.9h-0.9zM470.0 754.5h0.9v0.9h-0.9zM459.5 762.5h0.9v0.9h-0.9zM468.0 780.7h0.9v0.9h-0.9zM462.8 791.7h0.9v0.9h-0.9zM481.6 790.2h0.9v0.9h-0.9zM481.1 786.0h0.9v0.9h-0.9zM464.5 786.0h0.9v0.9h-0.9zM469.3 779.6h0.9v0.9h-0.9zM471.3 790.7h0.9v0.9h-0.9zM458.9 789.2h0.9v0.9h-0.9zM457.2 780.7h0.9v0.9h-0.9zM473.4 792.3h0.9v0.9h-0.9zM471.4 798.4h0.9v0.9h-0.9zM460.7 779.1h0.9v0.9h-0.9zM458.8 800.6h0.9v0.9h-0.9zM454.3 796.5h0.9v0.9h-0.9zM452.2 795.2h0.9v0.9h-0.9zM470.7 787.1h0.9v0.9h-0.9zM466.6 800.1h0.9v0.9h-0.9zM462.6 786.3h0.9v0.9h-0.9zM452.5 792.5h0.9v0.9h-0.9zM456.9 784.4h0.9v0.9h-0.9zM464.9 779.3h0.9v0.9h-0.9zM453.7 792.6h0.9v0.9h-0.9zM464.1 797.8h0.9v0.9h-0.9zM458.9 779.1h0.9v0.9h-0.9zM443.5 787.9h0.9v0.9h-0.9zM467.5 783.5h0.9v0.9h-0.9zM457.5 781.5h0.9v0.9h-0.9zM446.6 785.5h0.9v0.9h-0.9zM461.1 795.2h0.9v0.9h-0.9zM451.5 798.3h0.9v0.9h-0.9zM470.0 791.5h0.9v0.9h-0.9zM459.9 789.0h0.9v0.9h-0.9zM462.1 793.3h0.9v0.9h-0.9zM471.4 782.0h0.9v0.9h-0.9zM449.4 789.7h0.9v0.9h-0.9zM464.2 784.7h0.9v0.9h-0.9zM470.8 790.0h0.9v0.9h-0.9zM467.4 776.4h0.9v0.9h-0.9zM455.3 791.7h0.9v0.9h-0.9zM466.3 786.4h0.9v0.9h-0.9zM476.8 789.8h0.9v0.9h-0.9zM456.0 790.0h0.9v0.9h-0.9zM458.8 798.0h0.9v0.9h-0.9zM468.4 786.2h0.9v0.9h-0.9zM463.2 777.4h0.9v0.9h-0.9zM461.7 795.6h0.9v0.9h-0.9zM477.0 794.3h0.9v0.9h-0.9zM457.9 784.6h0.9v0.9h-0.9zM470.4 795.7h0.9v0.9h-0.9zM453.3 795.8h0.9v0.9h-0.9zM440.4 780.1h0.9v0.9h-0.9zM462.9 781.9h0.9v0.9h-0.9zM469.3 779.7h0.9v0.9h-0.9zM459.8 799.5h0.9v0.9h-0.9zM476.6 775.7h0.9v0.9h-0.9zM463.7 781.4h0.9v0.9h-0.9zM468.2 790.9h0.9v0.9h-0.9zM465.7 796.3h0.9v0.9h-0.9zM455.1 796.2h0.9v0.9h-0.9zM473.3 791.0h0.9v0.9h-0.9zM474.7 792.9h0.9v0.9h-0.9zM474.4 796.0h0.9v0.9h-0.9zM473.2 791.6h0.9v0.9h-0.9zM473.9 786.8h0.9v0.9h-0.9zM470.7 790.1h0.9v0.9h-0.9zM473.6 792.5h0.9v0.9h-0.9zM466.1 792.8h0.9v0.9h-0.9zM457.9 789.9h0.9v0.9h-0.9zM467.5 782.5h0.9v0.9h-0.9zM471.2 789.0h0.9v0.9h-0.9zM457.6 792.9h0.9v0.9h-0.9zM463.3 780.8h0.9v0.9h-0.9zM472.6 783.3h0.9v0.9h-0.9zM460.7 791.4h0.9v0.9h-0.9zM484.2 793.0h0.9v0.9h-0.9zM468.6 786.8h0.9v0.9h-0.9zM474.1 786.8h0.9v0.9h-0.9zM470.9 789.0h0.9v0.9h-0.9zM472.8 785.3h0.9v0.9h-0.9zM465.4 785.1h0.9v0.9h-0.9zM458.2 775.9h0.9v0.9h-0.9zM453.2 786.8h0.9v0.9h-0.9zM451.6 799.8h0.9v0.9h-0.9zM457.1 783.6h0.9v0.9h-0.9zM448.6 784.3h0.9v0.9h-0.9zM461.2 791.7h0.9v0.9h-0.9zM455.7 793.7h0.9v0.9h-0.9zM458.3 804.0h0.9v0.9h-0.9zM457.0 785.2h0.9v0.9h-0.9zM469.6 791.9h0.9v0.9h-0.9zM458.3 781.1h0.9v0.9h-0.9zM457.2 782.5h0.9v0.9h-0.9zM476.4 783.6h0.9v0.9h-0.9zM460.9 787.8h0.9v0.9h-0.9zM474.9 791.8h0.9v0.9h-0.9zM460.1 790.2h0.9v0.9h-0.9zM462.0 782.5h0.9v0.9h-0.9zM465.4 788.5h0.9v0.9h-0.9zM452.4 780.4h0.9v0.9h-0.9zM475.7 784.3h0.9v0.9h-0.9zM477.3 780.2h0.9v0.9h-0.9zM460.1 786.6h0.9v0.9h-0.9zM472.4 790.8h0.9v0.9h-0.9zM465.6 803.3h0.9v0.9h-0.9zM459.8 783.4h0.9v0.9h-0.9zM476.6 792.3h0.9v0.9h-0.9zM455.4 790.2h0.9v0.9h-0.9zM463.2 786.2h0.9v0.9h-0.9zM471.4 783.8h0.9v0.9h-0.9zM461.7 780.5h0.9v0.9h-0.9zM467.2 789.4h0.9v0.9h-0.9zM453.2 783.7h0.9v0.9h-0.9zM461.9 788.0h0.9v0.9h-0.9zM464.4 794.6h0.9v0.9h-0.9zM453.4 777.5h0.9v0.9h-0.9zM456.8 798.4h0.9v0.9h-0.9zM458.4 783.5h0.9v0.9h-0.9zM461.4 792.6h0.9v0.9h-0.9zM465.1 791.0h0.9v0.9h-0.9zM460.8 787.2h0.9v0.9h-0.9zM450.4 791.5h0.9v0.9h-0.9zM463.9 797.5h0.9v0.9h-0.9zM473.9 788.7h0.9v0.9h-0.9zM463.6 795.8h0.9v0.9h-0.9zM460.4 801.8h0.9v0.9h-0.9zM463.4 789.2h0.9v0.9h-0.9zM468.3 782.7h0.9v0.9h-0.9zM452.5 785.7h0.9v0.9h-0.9zM476.2 791.0h0.9v0.9h-0.9zM461.1 795.1h0.9v0.9h-0.9zM478.7 775.3h0.9v0.9h-0.9zM458.1 787.2h0.9v0.9h-0.9zM455.6 784.2h0.9v0.9h-0.9zM465.1 800.2h0.9v0.9h-0.9zM471.4 781.8h0.9v0.9h-0.9zM467.5 792.5h0.9v0.9h-0.9zM465.2 788.9h0.9v0.9h-0.9zM466.0 794.6h0.9v0.9h-0.9zM465.3 800.4h0.9v0.9h-0.9zM472.4 786.5h0.9v0.9h-0.9zM463.2 779.3h0.9v0.9h-0.9zM469.1 797.9h0.9v0.9h-0.9zM459.2 783.6h0.9v0.9h-0.9zM462.3 789.5h0.9v0.9h-0.9zM457.6 793.2h0.9v0.9h-0.9zM461.4 777.9h0.9v0.9h-0.9zM459.5 784.3h0.9v0.9h-0.9zM451.7 790.0h0.9v0.9h-0.9zM471.5 784.0h0.9v0.9h-0.9zM466.7 801.0h0.9v0.9h-0.9zM468.1 779.2h0.9v0.9h-0.9zM481.9 794.1h0.9v0.9h-0.9zM447.4 784.3h0.9v0.9h-0.9zM467.0 788.9h0.9v0.9h-0.9zM464.8 783.3h0.9v0.9h-0.9zM472.5 791.7h0.9v0.9h-0.9zM459.0 796.1h0.9v0.9h-0.9zM459.8 792.0h0.9v0.9h-0.9zM455.0 787.7h0.9v0.9h-0.9zM469.2 772.7h0.9v0.9h-0.9zM478.7 789.9h0.9v0.9h-0.9zM457.6 774.5h0.9v0.9h-0.9zM464.9 795.2h0.9v0.9h-0.9zM465.7 780.8h0.9v0.9h-0.9zM458.5 775.4h0.9v0.9h-0.9zM448.1 777.2h0.9v0.9h-0.9zM470.8 788.3h0.9v0.9h-0.9zM450.3 782.4h0.9v0.9h-0.9zM472.3 788.7h0.9v0.9h-0.9zM453.1 779.4h0.9v0.9h-0.9zM471.3 793.4h0.9v0.9h-0.9zM473.9 798.7h0.9v0.9h-0.9zM459.6 788.7h0.9v0.9h-0.9zM454.3 781.1h0.9v0.9h-0.9zM462.3 779.0h0.9v0.9h-0.9zM463.4 782.5h0.9v0.9h-0.9zM454.1 795.6h0.9v0.9h-0.9zM461.1 783.6h0.9v0.9h-0.9zM470.6 777.2h0.9v0.9h-0.9zM468.3 806.3h0.9v0.9h-0.9zM472.9 799.2h0.9v0.9h-0.9zM451.6 798.4h0.9v0.9h-0.9zM456.5 783.4h0.9v0.9h-0.9zM462.5 793.6h0.9v0.9h-0.9zM462.2 781.7h0.9v0.9h-0.9zM470.2 784.7h0.9v0.9h-0.9zM453.3 792.4h0.9v0.9h-0.9zM475.9 780.1h0.9v0.9h-0.9zM472.2 787.9h0.9v0.9h-0.9zM469.3 778.9h0.9v0.9h-0.9zM460.8 794.2h0.9v0.9h-0.9zM450.9 785.2h0.9v0.9h-0.9zM452.2 789.1h0.9v0.9h-0.9zM470.7 789.6h0.9v0.9h-0.9zM462.0 782.1h0.9v0.9h-0.9zM477.8 783.7h0.9v0.9h-0.9zM465.7 782.3h0.9v0.9h-0.9zM452.5 770.5h0.9v0.9h-0.9zM472.7 789.2h0.9v0.9h-0.9zM461.5 794.2h0.9v0.9h-0.9zM464.1 795.6h0.9v0.9h-0.9zM468.8 787.5h0.9v0.9h-0.9zM452.0 793.8h0.9v0.9h-0.9zM454.0 781.6h0.9v0.9h-0.9zM474.7 786.2h0.9v0.9h-0.9zM452.0 774.4h0.9v0.9h-0.9zM453.9 783.6h0.9v0.9h-0.9zM452.8 791.2h0.9v0.9h-0.9zM453.2 777.3h0.9v0.9h-0.9zM459.7 787.4h0.9v0.9h-0.9zM459.0 804.5h0.9v0.9h-0.9zM454.5 794.2h0.9v0.9h-0.9zM458.4 788.9h0.9v0.9h-0.9zM465.7 797.2h0.9v0.9h-0.9zM446.0 793.5h0.9v0.9h-0.9zM459.6 784.6h0.9v0.9h-0.9zM448.9 795.2h0.9v0.9h-0.9zM472.4 795.2h0.9v0.9h-0.9zM464.3 795.9h0.9v0.9h-0.9zM461.7 782.4h0.9v0.9h-0.9z" fill="#999" fill-opacity="0.6"/>
<ellipse cx="415.70" cy="788.80" rx="6.20" ry="6.20" fill="none" stroke="#888" stroke-width="1.1"/>
<ellipse cx="415.70" cy="788.80" rx="7.80" ry="7.60" fill="none" stroke="#aaa" stroke-width="0.8"/>
<ellipse cx="463.50" cy="788.40" rx="2.50" ry="3.00" fill="none" stroke="#aaa" stroke-width="0.8"/>
<ellipse cx="463.50" cy="788.40" rx="4.40" ry="5.10" fill="none" stroke="#aaa" stroke-width="0.8"/>
<ellipse cx="463.50" cy="788.40" rx="6.30" ry="7.20" fill="none" stroke="#aaa" stroke-width="0.8"/>
<ellipse cx="463.50" cy="788.40" rx="8.20" ry="9.30" fill="none" stroke="#aaa" stroke-width="0.8"/>
<line x1="440.40" y1="705.70" x2="440.40" y2="808.30" stroke="#444" stroke-width="1.0"/>
<line x1="390.20" y1="778.00" x2="507.00" y2="778.00" stroke="#444" stroke-width="1.0"/>
<text x="403.70" y="718.60" font-family="Liberation Sans, sans-serif" font-size="6.5" text-anchor="middle" fill="#222">Q1-2</text>
<text x="495.30" y="721.40" font-family="Liberation Sans, sans-serif" font-size="6.5" text-anchor="middle" fill="#222">Q2-2</text>
<text x="403.00" y="802.10" font-family="Liberation Sans, sans-serif" font-size="6.5" text-anchor="middle" fill="#222">Q3-2</text>
<text x="495.30" y="803.30" font-family="Liberation Sans, sans-serif" font-size="6.5" text-anchor="middle" fill="#222">Q4-2</text>
<rect x="368.80" y="841.00" width="142.10" height="137.10" fill="none" stroke="#555" stroke-width="1.3"/>
<rect x="390.20" y="853.30" width="116.80" height="102.90" fill="none" stroke="#555" stroke-width="1.2"/>
<path d="M391.83 956.20v2.2M395.50 956.20v2.2M398.35 956.20v2.2M400.68 956.20v2.2M402.65 956.20v2.2M404.35 956.20v2.2M405.85 956.20v2.2M407.20 956.20v3.6M416.05 956.20v2.2M421.23 956.20v2.2M424.90 956.20v2.2M427.75 956.20v2.2M430.08 956.20v2.2M432.05 956.20v2.2M433.75 956.20v2.2M435.25 956.20v2.2M436.60 956.20v3.6M445.45 956.20v2.2M450.63 956.20v2.2M454.30 956.20v2.2M457.15 956.20v2.2M459.48 956.20v2.2M461.45 956.20v2.2M463.15 956.20v2.2M464.65 956.20v2.2M466.00 956.20v3.6M474.85 956.20v2.2M480.03 956.20v2.2M483.70 956.20v2.2M486.55 956.20v2.2M488.88 956.20v2.2M490.85 956.20v2.2M492.55 956.20v2.2M494.05 956.20v2.2M495.40 956.20v3.6M504.25 956.20v2.2M390.20 952.67h-2.2M390.20 950.17h-2.2M390.20 948.12h-2.2M390.20 946.40h-2.2M390.20 944.90h-2.2M390.20 943.58h-2.2M390.20 942.40h-3.6M390.20 934.63h-2.2M390.20 930.09h-2.2M390.20 926.87h-2.2M390.20 924.37h-2.2M390.20 922.32h-2.2M390.20 920.60h-2.2M390.20 919.10h-2.2M390.20 917.78h-2.2M390.20 916.60h-3.6M390.20 908.83h-2.2M390.20 904.29h-2.2M390.20 901.07h-2.2M390.20 898.57h-2.2M390.20 896.52h-2.2M390.20 894.80h-2.2M390.20 893.30h-2.2M390.20 891.98h-2.2M390.20 890.80h-3.6M390.20 883.03h-2.2M390.20 878.49h-2.2M390.20 875.27h-2.2M390.20 872.77h-2.2M390.20 870.72h-2.2M390.20 869.00h-2.2M390.20 867.50h-2.2M390.20 866.18h-2.2M390.20 865.00h-3.6M390.20 857.23h-2.2" stroke="#444" stroke-width="0.8" fill="none"/>
<text x="406.00" y="967.20" font-family="Liberation Sans, sans-serif" font-size="4.8" text-anchor="middle" fill="#333">10</text>
<text x="408.80" y="964.50" font-family="Liberation Sans, sans-serif" font-size="3.5" text-anchor="start" fill="#333">2</text>
<text x="435.40" y="967.20" font-family="Liberation Sans, sans-serif" font-size="4.8" text-anchor="middle" fill="#333">10</text>
<text x="438.20" y="964.50" font-family="Liberation Sans, sans-serif" font-size="3.5" text-anchor="start" fill="#333">3</text>
<text x="464.80" y="967.20" font-family="Liberation Sans, sans-serif" font-size="4.8" text-anchor="middle" fill="#333">10</text>
<text x="467.60" y="964.50" font-family="Liberation Sans, sans-serif" font-size="3.5" text-anchor="start" fill="#333">4</text>
<text x="494.20" y="967.20" font-family="Liberation Sans, sans-serif" font-size="4.8" text-anchor="middle" fill="#333">10</text>
<text x="497.00" y="964.50" font-family="Liberation Sans, sans-serif" font-size="3.5" text-anchor="start" fill="#333">5</text>
<text x="384.70" y="942.40" font-family="Liberation Sans, sans-serif" font-size="4.6" text-anchor="middle" fill="#333" transform="rotate(-90 384.7 942.4000000000001)">10</text>
<text x="381.70" y="940.90" font-family="Liberation Sans, sans-serif" font-size="3.4" text-anchor="start" fill="#333" transform="rotate(-90 381.7 940.9000000000001)">2</text>
<text x="384.70" y="916.60" font-family="Liberation Sans, sans-serif" font-size="4.6" text-anchor="middle" fill="#333" transform="rotate(-90 384.7 916.6000000000001)">10</text>
<text x="381.70" y="915.10" font-family="Liberation Sans, sans-serif" font-size="3.4" text-anchor="start" fill="#333" transform="rotate(-90 381.7 915.1000000000001)">3</text>
<text x="384.70" y="890.80" font-family="Liberation Sans, sans-serif" font-size="4.6" text-anchor="middle" fill="#333" transform="rotate(-90 384.7 890.8000000000001)">10</text>
<text x="381.70" y="889.30" font-family="Liberation Sans, sans-serif" font-size="3.4" text-anchor="start" fill="#333" transform="rotate(-90 381.7 889.3000000000001)">4</text>
<text x="384.70" y="865.00" font-family="Liberation Sans, sans-serif" font-size="4.6" text-anchor="middle" fill="#333" transform="rotate(-90 384.7 865.0000000000001)">10</text>
<text x="381.70" y="863.50" font-family="Liberation Sans, sans-serif" font-size="3.4" text-anchor="start" fill="#333" transform="rotate(-90 381.7 863.5000000000001)">5</text>
<text x="377.60" y="904.20" font-family="Liberation Sans, sans-serif" font-size="6.4" text-anchor="middle" fill="#222" transform="rotate(-90 377.59999999999997 904.2)">HLA-DR APC-A</text>
<text x="449.20" y="973.60" font-family="Liberation Sans, sans-serif" font-size="6.2" text-anchor="middle" fill="#222">CD4 FITC-A</text>
<path d="M495.7 892.0h0.9v0.9h-0.9zM439.0 917.1h0.9v0.9h-0.9zM454.7 905.1h0.9v0.9h-0.9zM394.1 916.0h0.9v0.9h-0.9zM413.1 860.3h0.9v0.9h-0.9zM493.3 879.1h0.9v0.9h-0.9zM491.3 952.1h0.9v0.9h-0.9zM392.4 917.1h0.9v0.9h-0.9zM404.5 866.5h0.9v0.9h-0.9zM483.9 906.3h0.9v0.9h-0.9zM498.8 884.5h0.9v0.9h-0.9zM435.7 894.3h0.9v0.9h-0.9zM484.2 904.8h0.9v0.9h-0.9zM461.3 899.2h0.9v0.9h-0.9zM476.9 895.4h0.9v0.9h-0.9zM435.8 919.1h0.9v0.9h-0.9zM425.0 861.5h0.9v0.9h-0.9zM476.2 871.9h0.9v0.9h-0.9zM434.4 891.3h0.9v0.9h-0.9zM492.8 930.2h0.9v0.9h-0.9zM435.0 943.0h0.9v0.9h-0.9zM457.2 861.3h0.9v0.9h-0.9zM484.7 894.2h0.9v0.9h-0.9zM456.9 897.1h0.9v0.9h-0.9zM400.8 874.4h0.9v0.9h-0.9zM392.7 912.9h0.9v0.9h-0.9zM438.3 932.8h0.9v0.9h-0.9zM444.2 887.2h0.9v0.9h-0.9zM495.8 915.7h0.9v0.9h-0.9zM419.7 873.9h0.9v0.9h-0.9zM481.1 907.7h0.9v0.9h-0.9zM437.2 928.6h0.9v0.9h-0.9zM417.1 944.8h0.9v0.9h-0.9zM453.4 912.7h0.9v0.9h-0.9zM401.0 936.3h0.9v0.9h-0.9zM466.4 891.1h0.9v0.9h-0.9zM454.1 861.5h0.9v0.9h-0.9zM418.0 907.5h0.9v0.9h-0.9zM412.1 890.5h0.9v0.9h-0.9zM417.4 909.4h0.9v0.9h-0.9zM410.7 920.3h0.9v0.9h-0.9zM417.2 898.5h0.9v0.9h-0.9zM414.8 917.1h0.9v0.9h-0.9zM410.4 888.2h0.9v0.9h-0.9zM400.8 917.3h0.9v0.9h-0.9zM413.6 909.2h0.9v0.9h-0.9zM418.2 907.3h0.9v0.9h-0.9zM411.0 876.6h0.9v0.9h-0.9zM417.5 920.3h0.9v0.9h-0.9zM409.1 907.1h0.9v0.9h-0.9zM419.5 909.3h0.9v0.9h-0.9zM422.0 891.7h0.9v0.9h-0.9zM415.1 926.3h0.9v0.9h-0.9zM416.3 900.8h0.9v0.9h-0.9zM407.1 912.4h0.9v0.9h-0.9zM421.2 904.7h0.9v0.9h-0.9zM410.3 902.8h0.9v0.9h-0.9zM417.0 916.1h0.9v0.9h-0.9zM424.3 913.9h0.9v0.9h-0.9zM415.9 924.9h0.9v0.9h-0.9zM415.4 899.8h0.9v0.9h-0.9zM416.4 918.2h0.9v0.9h-0.9zM410.9 893.7h0.9v0.9h-0.9zM411.0 908.5h0.9v0.9h-0.9zM420.0 883.9h0.9v0.9h-0.9zM410.3 907.3h0.9v0.9h-0.9zM412.2 904.8h0.9v0.9h-0.9zM407.1 897.6h0.9v0.9h-0.9zM414.9 897.7h0.9v0.9h-0.9zM408.8 904.7h0.9v0.9h-0.9zM413.0 923.2h0.9v0.9h-0.9zM412.6 905.9h0.9v0.9h-0.9zM413.6 908.2h0.9v0.9h-0.9zM410.4 913.3h0.9v0.9h-0.9zM412.5 926.6h0.9v0.9h-0.9zM419.6 923.0h0.9v0.9h-0.9zM418.6 915.1h0.9v0.9h-0.9zM416.9 884.2h0.9v0.9h-0.9zM416.6 916.6h0.9v0.9h-0.9zM405.8 899.2h0.9v0.9h-0.9zM412.9 914.3h0.9v0.9h-0.9zM415.4 897.3h0.9v0.9h-0.9zM415.3 915.8h0.9v0.9h-0.9zM416.8 902.4h0.9v0.9h-0.9zM407.5 901.8h0.9v0.9h-0.9zM416.1 911.1h0.9v0.9h-0.9zM411.2 888.2h0.9v0.9h-0.9zM415.4 924.1h0.9v0.9h-0.9zM422.3 907.7h0.9v0.9h-0.9zM416.7 906.1h0.9v0.9h-0.9zM413.8 895.2h0.9v0.9h-0.9zM409.6 917.4h0.9v0.9h-0.9zM418.7 893.1h0.9v0.9h-0.9zM404.2 923.1h0.9v0.9h-0.9zM410.0 896.2h0.9v0.9h-0.9zM401.7 908.9h0.9v0.9h-0.9zM413.0 897.6h0.9v0.9h-0.9zM409.9 908.6h0.9v0.9h-0.9zM411.2 919.0h0.9v0.9h-0.9zM408.7 899.4h0.9v0.9h-0.9zM423.7 891.7h0.9v0.9h-0.9zM417.9 904.7h0.9v0.9h-0.9zM417.5 896.7h0.9v0.9h-0.9zM410.5 910.8h0.9v0.9h-0.9zM417.8 890.8h0.9v0.9h-0.9zM413.7 900.3h0.9v0.9h-0.9zM412.1 918.1h0.9v0.9h-0.9zM406.2 909.9h0.9v0.9h-0.9zM414.3 893.5h0.9v0.9h-0.9zM400.9 903.4h0.9v0.9h-0.9zM409.9 910.5h0.9v0.9h-0.9zM402.4 918.2h0.9v0.9h-0.9zM415.7 894.5h0.9v0.9h-0.9zM416.6 909.8h0.9v0.9h-0.9zM418.1 894.9h0.9v0.9h-0.9zM406.8 885.8h0.9v0.9h-0.9zM419.0 921.9h0.9v0.9h-0.9zM423.7 916.3h0.9v0.9h-0.9zM411.1 917.2h0.9v0.9h-0.9zM409.2 920.4h0.9v0.9h-0.9zM410.7 904.4h0.9v0.9h-0.9zM410.7 926.1h0.9v0.9h-0.9zM418.1 920.0h0.9v0.9h-0.9zM410.7 898.0h0.9v0.9h-0.9zM415.7 902.1h0.9v0.9h-0.9zM413.6 885.5h0.9v0.9h-0.9zM408.9 880.1h0.9v0.9h-0.9zM413.9 917.2h0.9v0.9h-0.9zM413.8 915.9h0.9v0.9h-0.9zM414.4 896.5h0.9v0.9h-0.9zM415.2 916.6h0.9v0.9h-0.9zM412.1 907.6h0.9v0.9h-0.9zM415.8 887.7h0.9v0.9h-0.9zM405.0 916.0h0.9v0.9h-0.9zM411.1 915.0h0.9v0.9h-0.9zM420.1 915.7h0.9v0.9h-0.9zM415.3 897.7h0.9v0.9h-0.9zM412.2 888.1h0.9v0.9h-0.9zM409.8 913.3h0.9v0.9h-0.9zM410.5 923.7h0.9v0.9h-0.9zM404.5 879.8h0.9v0.9h-0.9zM411.8 902.0h0.9v0.9h-0.9zM412.6 921.6h0.9v0.9h-0.9zM402.9 916.4h0.9v0.9h-0.9zM404.9 923.2h0.9v0.9h-0.9zM413.0 890.3h0.9v0.9h-0.9zM411.9 891.1h0.9v0.9h-0.9zM422.7 917.8h0.9v0.9h-0.9zM423.7 879.4h0.9v0.9h-0.9zM398.7 901.0h0.9v0.9h-0.9zM410.1 885.9h0.9v0.9h-0.9zM419.5 910.1h0.9v0.9h-0.9zM415.3 904.7h0.9v0.9h-0.9zM420.8 929.3h0.9v0.9h-0.9zM419.8 904.5h0.9v0.9h-0.9zM413.0 927.3h0.9v0.9h-0.9zM419.3 912.7h0.9v0.9h-0.9zM413.3 903.5h0.9v0.9h-0.9zM407.5 887.9h0.9v0.9h-0.9zM414.4 916.4h0.9v0.9h-0.9zM420.2 900.0h0.9v0.9h-0.9zM411.8 907.0h0.9v0.9h-0.9zM421.0 915.9h0.9v0.9h-0.9zM420.5 918.0h0.9v0.9h-0.9zM420.6 873.1h0.9v0.9h-0.9zM404.3 899.4h0.9v0.9h-0.9zM409.6 910.9h0.9v0.9h-0.9zM410.7 915.3h0.9v0.9h-0.9zM410.3 907.6h0.9v0.9h-0.9zM403.3 929.4h0.9v0.9h-0.9zM410.9 922.4h0.9v0.9h-0.9zM419.4 921.5h0.9v0.9h-0.9zM408.7 926.9h0.9v0.9h-0.9zM424.6 889.0h0.9v0.9h-0.9zM408.7 922.3h0.9v0.9h-0.9zM415.7 906.5h0.9v0.9h-0.9zM412.7 888.9h0.9v0.9h-0.9zM407.7 919.6h0.9v0.9h-0.9zM414.9 928.8h0.9v0.9h-0.9zM414.5 922.9h0.9v0.9h-0.9zM413.3 917.7h0.9v0.9h-0.9zM419.7 903.6h0.9v0.9h-0.9zM406.0 917.7h0.9v0.9h-0.9zM420.3 903.9h0.9v0.9h-0.9zM409.2 894.3h0.9v0.9h-0.9zM404.3 908.4h0.9v0.9h-0.9zM417.9 885.7h0.9v0.9h-0.9zM419.5 922.4h0.9v0.9h-0.9zM409.3 923.3h0.9v0.9h-0.9zM414.0 904.9h0.9v0.9h-0.9zM410.3 888.0h0.9v0.9h-0.9zM416.9 899.6h0.9v0.9h-0.9zM407.5 918.3h0.9v0.9h-0.9zM414.0 923.0h0.9v0.9h-0.9zM426.6 902.7h0.9v0.9h-0.9zM420.5 899.4h0.9v0.9h-0.9zM411.0 919.0h0.9v0.9h-0.9zM407.5 925.6h0.9v0.9h-0.9zM417.4 879.4h0.9v0.9h-0.9zM409.5 909.5h0.9v0.9h-0.9zM417.6 895.1h0.9v0.9h-0.9zM419.1 883.4h0.9v0.9h-0.9zM421.3 900.0h0.9v0.9h-0.9zM421.4 909.9h0.9v0.9h-0.9zM419.9 913.2h0.9v0.9h-0.9zM413.8 911.4h0.9v0.9h-0.9zM413.6 918.0h0.9v0.9h-0.9zM414.8 903.8h0.9v0.9h-0.9zM421.9 893.6h0.9v0.9h-0.9zM418.1 892.5h0.9v0.9h-0.9zM407.8 895.1h0.9v0.9h-0.9zM411.9 891.4h0.9v0.9h-0.9zM414.0 910.2h0.9v0.9h-0.9zM411.8 908.8h0.9v0.9h-0.9zM411.1 897.5h0.9v0.9h-0.9zM415.8 911.2h0.9v0.9h-0.9zM409.1 912.6h0.9v0.9h-0.9zM416.5 915.8h0.9v0.9h-0.9zM412.2 908.5h0.9v0.9h-0.9zM405.8 902.7h0.9v0.9h-0.9zM399.9 910.0h0.9v0.9h-0.9zM408.5 881.0h0.9v0.9h-0.9zM416.0 905.1h0.9v0.9h-0.9zM412.7 883.6h0.9v0.9h-0.9zM410.8 912.4h0.9v0.9h-0.9zM413.3 915.4h0.9v0.9h-0.9zM415.6 908.6h0.9v0.9h-0.9zM412.4 905.4h0.9v0.9h-0.9zM420.3 928.9h0.9v0.9h-0.9zM413.4 926.0h0.9v0.9h-0.9zM415.9 910.7h0.9v0.9h-0.9zM410.6 922.3h0.9v0.9h-0.9zM414.5 907.0h0.9v0.9h-0.9zM418.8 921.3h0.9v0.9h-0.9zM409.2 884.0h0.9v0.9h-0.9zM412.7 917.2h0.9v0.9h-0.9zM412.0 886.4h0.9v0.9h-0.9zM408.0 909.3h0.9v0.9h-0.9zM422.2 912.8h0.9v0.9h-0.9zM407.8 929.1h0.9v0.9h-0.9zM416.2 907.4h0.9v0.9h-0.9zM410.1 900.5h0.9v0.9h-0.9zM412.8 917.5h0.9v0.9h-0.9zM411.2 920.2h0.9v0.9h-0.9zM410.3 914.3h0.9v0.9h-0.9zM413.3 904.5h0.9v0.9h-0.9zM402.0 917.2h0.9v0.9h-0.9zM409.0 894.0h0.9v0.9h-0.9zM414.5 910.0h0.9v0.9h-0.9zM421.6 900.6h0.9v0.9h-0.9zM413.5 920.9h0.9v0.9h-0.9zM409.0 897.4h0.9v0.9h-0.9zM417.9 928.1h0.9v0.9h-0.9zM407.8 909.9h0.9v0.9h-0.9zM409.8 891.5h0.9v0.9h-0.9zM407.3 915.8h0.9v0.9h-0.9zM418.9 904.1h0.9v0.9h-0.9zM407.7 910.8h0.9v0.9h-0.9zM401.3 926.2h0.9v0.9h-0.9zM414.4 927.8h0.9v0.9h-0.9zM408.1 942.9h0.9v0.9h-0.9zM393.7 936.7h0.9v0.9h-0.9zM406.7 938.7h0.9v0.9h-0.9zM409.3 927.1h0.9v0.9h-0.9zM401.5 940.3h0.9v0.9h-0.9zM415.8 924.2h0.9v0.9h-0.9zM418.9 930.8h0.9v0.9h-0.9zM419.4 930.4h0.9v0.9h-0.9zM409.4 922.9h0.9v0.9h-0.9zM422.7 941.4h0.9v0.9h-0.9zM408.9 923.3h0.9v0.9h-0.9zM426.5 940.0h0.9v0.9h-0.9zM419.9 937.0h0.9v0.9h-0.9zM424.7 932.9h0.9v0.9h-0.9zM423.4 931.2h0.9v0.9h-0.9zM399.6 929.3h0.9v0.9h-0.9zM414.9 943.5h0.9v0.9h-0.9zM412.6 929.2h0.9v0.9h-0.9zM427.7 940.4h0.9v0.9h-0.9zM423.7 947.9h0.9v0.9h-0.9zM431.0 926.4h0.9v0.9h-0.9zM422.1 933.8h0.9v0.9h-0.9zM408.7 927.5h0.9v0.9h-0.9zM418.4 926.7h0.9v0.9h-0.9zM419.6 937.7h0.9v0.9h-0.9zM420.6 924.9h0.9v0.9h-0.9zM415.4 926.5h0.9v0.9h-0.9zM429.4 928.8h0.9v0.9h-0.9zM432.6 921.2h0.9v0.9h-0.9zM413.1 928.9h0.9v0.9h-0.9zM410.4 944.6h0.9v0.9h-0.9zM416.6 929.3h0.9v0.9h-0.9zM425.2 931.0h0.9v0.9h-0.9zM421.6 936.5h0.9v0.9h-0.9zM418.1 939.5h0.9v0.9h-0.9zM414.6 922.5h0.9v0.9h-0.9zM397.0 932.5h0.9v0.9h-0.9zM405.6 943.2h0.9v0.9h-0.9zM410.8 928.8h0.9v0.9h-0.9zM406.7 929.3h0.9v0.9h-0.9zM420.2 935.0h0.9v0.9h-0.9zM427.5 937.6h0.9v0.9h-0.9zM410.0 924.7h0.9v0.9h-0.9zM406.5 940.8h0.9v0.9h-0.9zM427.4 934.9h0.9v0.9h-0.9zM408.2 933.3h0.9v0.9h-0.9zM417.6 941.1h0.9v0.9h-0.9zM404.3 933.7h0.9v0.9h-0.9zM406.1 937.0h0.9v0.9h-0.9zM405.5 936.5h0.9v0.9h-0.9zM412.6 926.7h0.9v0.9h-0.9zM405.5 939.7h0.9v0.9h-0.9zM418.4 927.3h0.9v0.9h-0.9zM429.6 938.7h0.9v0.9h-0.9zM408.8 927.9h0.9v0.9h-0.9zM410.3 929.1h0.9v0.9h-0.9zM408.7 941.3h0.9v0.9h-0.9zM415.7 941.4h0.9v0.9h-0.9zM418.7 930.3h0.9v0.9h-0.9zM420.4 937.1h0.9v0.9h-0.9zM425.1 925.9h0.9v0.9h-0.9zM417.3 943.9h0.9v0.9h-0.9zM417.9 930.9h0.9v0.9h-0.9zM420.7 925.7h0.9v0.9h-0.9zM400.7 940.9h0.9v0.9h-0.9zM418.8 927.2h0.9v0.9h-0.9zM410.3 927.0h0.9v0.9h-0.9zM424.6 928.0h0.9v0.9h-0.9zM423.3 922.1h0.9v0.9h-0.9zM428.5 927.7h0.9v0.9h-0.9zM393.5 936.3h0.9v0.9h-0.9zM421.1 931.7h0.9v0.9h-0.9zM424.0 939.4h0.9v0.9h-0.9zM418.3 943.7h0.9v0.9h-0.9zM411.4 942.9h0.9v0.9h-0.9zM403.8 932.7h0.9v0.9h-0.9zM415.0 943.2h0.9v0.9h-0.9zM410.2 940.4h0.9v0.9h-0.9zM410.7 941.5h0.9v0.9h-0.9zM427.7 954.6h0.9v0.9h-0.9zM408.0 937.0h0.9v0.9h-0.9zM422.8 939.0h0.9v0.9h-0.9zM412.4 941.0h0.9v0.9h-0.9zM412.4 941.3h0.9v0.9h-0.9zM434.2 934.9h0.9v0.9h-0.9zM407.6 931.2h0.9v0.9h-0.9zM411.8 926.4h0.9v0.9h-0.9zM422.7 930.9h0.9v0.9h-0.9zM419.6 925.6h0.9v0.9h-0.9zM418.5 944.8h0.9v0.9h-0.9zM412.0 942.0h0.9v0.9h-0.9zM423.8 927.2h0.9v0.9h-0.9zM425.2 934.7h0.9v0.9h-0.9zM407.6 935.5h0.9v0.9h-0.9zM397.4 932.0h0.9v0.9h-0.9zM422.5 944.4h0.9v0.9h-0.9zM416.0 941.3h0.9v0.9h-0.9zM417.5 927.8h0.9v0.9h-0.9zM406.9 937.6h0.9v0.9h-0.9zM417.5 924.3h0.9v0.9h-0.9zM425.6 939.5h0.9v0.9h-0.9zM432.6 944.0h0.9v0.9h-0.9zM416.6 918.9h0.9v0.9h-0.9zM416.4 945.1h0.9v0.9h-0.9zM415.1 929.1h0.9v0.9h-0.9zM397.3 928.7h0.9v0.9h-0.9zM427.6 933.6h0.9v0.9h-0.9zM421.0 938.6h0.9v0.9h-0.9zM410.5 930.6h0.9v0.9h-0.9zM409.1 929.9h0.9v0.9h-0.9zM404.7 925.3h0.9v0.9h-0.9zM421.3 931.2h0.9v0.9h-0.9zM411.6 945.0h0.9v0.9h-0.9zM399.4 931.9h0.9v0.9h-0.9zM414.3 942.8h0.9v0.9h-0.9zM420.8 917.8h0.9v0.9h-0.9zM405.1 937.0h0.9v0.9h-0.9zM412.6 942.3h0.9v0.9h-0.9zM431.4 946.6h0.9v0.9h-0.9zM419.2 945.8h0.9v0.9h-0.9zM408.6 932.9h0.9v0.9h-0.9zM406.7 941.9h0.9v0.9h-0.9zM401.3 942.3h0.9v0.9h-0.9zM402.1 929.5h0.9v0.9h-0.9zM429.0 933.1h0.9v0.9h-0.9zM421.0 935.0h0.9v0.9h-0.9zM410.2 941.0h0.9v0.9h-0.9zM421.2 953.9h0.9v0.9h-0.9zM406.0 934.0h0.9v0.9h-0.9zM405.6 944.4h0.9v0.9h-0.9zM423.2 933.6h0.9v0.9h-0.9zM418.9 925.6h0.9v0.9h-0.9zM397.7 925.4h0.9v0.9h-0.9zM407.6 928.9h0.9v0.9h-0.9zM414.7 921.6h0.9v0.9h-0.9zM426.6 933.9h0.9v0.9h-0.9zM414.7 920.5h0.9v0.9h-0.9zM404.4 932.4h0.9v0.9h-0.9zM424.2 926.8h0.9v0.9h-0.9zM421.3 943.2h0.9v0.9h-0.9zM399.9 943.4h0.9v0.9h-0.9zM392.8 935.4h0.9v0.9h-0.9zM407.5 934.3h0.9v0.9h-0.9zM415.9 945.4h0.9v0.9h-0.9zM402.5 939.2h0.9v0.9h-0.9zM404.4 947.0h0.9v0.9h-0.9zM407.4 937.2h0.9v0.9h-0.9zM406.2 932.1h0.9v0.9h-0.9zM422.7 924.6h0.9v0.9h-0.9zM423.6 932.3h0.9v0.9h-0.9zM412.9 940.6h0.9v0.9h-0.9zM416.6 925.9h0.9v0.9h-0.9zM424.5 926.3h0.9v0.9h-0.9zM410.4 929.9h0.9v0.9h-0.9zM406.9 931.2h0.9v0.9h-0.9zM420.5 928.2h0.9v0.9h-0.9zM413.3 946.9h0.9v0.9h-0.9zM419.9 932.5h0.9v0.9h-0.9zM419.9 936.0h0.9v0.9h-0.9zM406.7 929.9h0.9v0.9h-0.9zM407.0 937.5h0.9v0.9h-0.9zM426.9 940.7h0.9v0.9h-0.9zM419.3 931.5h0.9v0.9h-0.9zM404.6 923.5h0.9v0.9h-0.9zM407.8 943.3h0.9v0.9h-0.9zM421.6 929.8h0.9v0.9h-0.9zM410.4 922.3h0.9v0.9h-0.9zM421.7 935.1h0.9v0.9h-0.9zM417.7 927.6h0.9v0.9h-0.9zM404.3 925.6h0.9v0.9h-0.9zM407.5 928.0h0.9v0.9h-0.9zM425.6 937.4h0.9v0.9h-0.9zM419.6 922.4h0.9v0.9h-0.9zM397.1 934.3h0.9v0.9h-0.9zM417.9 928.3h0.9v0.9h-0.9zM420.4 936.4h0.9v0.9h-0.9zM406.2 942.0h0.9v0.9h-0.9zM421.8 928.2h0.9v0.9h-0.9zM406.3 937.3h0.9v0.9h-0.9zM418.0 930.5h0.9v0.9h-0.9zM406.8 929.1h0.9v0.9h-0.9zM407.0 924.6h0.9v0.9h-0.9zM408.1 925.2h0.9v0.9h-0.9zM417.8 946.5h0.9v0.9h-0.9zM421.6 930.4h0.9v0.9h-0.9zM428.7 935.7h0.9v0.9h-0.9zM405.1 942.5h0.9v0.9h-0.9zM409.3 932.0h0.9v0.9h-0.9zM407.8 933.0h0.9v0.9h-0.9zM405.7 942.5h0.9v0.9h-0.9zM415.7 945.0h0.9v0.9h-0.9zM461.6 887.4h0.9v0.9h-0.9zM467.1 891.9h0.9v0.9h-0.9zM461.5 916.6h0.9v0.9h-0.9zM459.2 919.0h0.9v0.9h-0.9zM464.5 906.5h0.9v0.9h-0.9zM467.1 893.1h0.9v0.9h-0.9zM475.5 897.2h0.9v0.9h-0.9zM459.8 905.4h0.9v0.9h-0.9zM458.6 918.1h0.9v0.9h-0.9zM453.4 895.3h0.9v0.9h-0.9zM457.2 887.8h0.9v0.9h-0.9zM468.0 891.1h0.9v0.9h-0.9zM467.6 902.4h0.9v0.9h-0.9zM474.7 910.2h0.9v0.9h-0.9zM469.9 924.0h0.9v0.9h-0.9zM463.9 877.0h0.9v0.9h-0.9zM468.4 895.1h0.9v0.9h-0.9zM472.5 906.2h0.9v0.9h-0.9zM456.0 885.8h0.9v0.9h-0.9zM454.1 896.2h0.9v0.9h-0.9zM466.6 880.0h0.9v0.9h-0.9zM467.6 899.0h0.9v0.9h-0.9zM454.5 916.8h0.9v0.9h-0.9zM462.5 928.7h0.9v0.9h-0.9zM458.1 895.1h0.9v0.9h-0.9zM466.6 902.9h0.9v0.9h-0.9zM472.5 922.7h0.9v0.9h-0.9zM469.8 916.5h0.9v0.9h-0.9zM471.7 913.1h0.9v0.9h-0.9zM462.5 913.1h0.9v0.9h-0.9zM461.1 901.8h0.9v0.9h-0.9zM470.5 891.0h0.9v0.9h-0.9zM461.5 899.7h0.9v0.9h-0.9zM465.4 915.9h0.9v0.9h-0.9zM468.3 904.8h0.9v0.9h-0.9zM458.8 915.5h0.9v0.9h-0.9zM452.8 914.7h0.9v0.9h-0.9zM471.5 909.0h0.9v0.9h-0.9zM464.1 912.7h0.9v0.9h-0.9zM469.5 883.8h0.9v0.9h-0.9zM467.4 897.1h0.9v0.9h-0.9zM455.9 911.7h0.9v0.9h-0.9zM466.3 898.6h0.9v0.9h-0.9zM461.6 888.6h0.9v0.9h-0.9zM463.4 904.0h0.9v0.9h-0.9zM461.8 888.3h0.9v0.9h-0.9zM464.7 919.6h0.9v0.9h-0.9zM466.6 912.3h0.9v0.9h-0.9zM460.5 902.1h0.9v0.9h-0.9zM468.5 912.3h0.9v0.9h-0.9zM475.6 899.1h0.9v0.9h-0.9zM464.0 923.7h0.9v0.9h-0.9zM473.1 894.0h0.9v0.9h-0.9zM464.2 923.4h0.9v0.9h-0.9zM462.7 905.3h0.9v0.9h-0.9zM460.0 907.4h0.9v0.9h-0.9zM472.0 895.3h0.9v0.9h-0.9zM464.1 900.6h0.9v0.9h-0.9zM460.5 912.9h0.9v0.9h-0.9zM470.7 904.2h0.9v0.9h-0.9zM463.3 900.8h0.9v0.9h-0.9zM466.4 932.8h0.9v0.9h-0.9zM455.1 891.8h0.9v0.9h-0.9zM460.4 897.3h0.9v0.9h-0.9zM463.0 888.0h0.9v0.9h-0.9zM468.1 878.3h0.9v0.9h-0.9zM467.8 907.9h0.9v0.9h-0.9zM466.1 909.4h0.9v0.9h-0.9zM461.8 892.9h0.9v0.9h-0.9zM472.3 887.6h0.9v0.9h-0.9zM463.7 912.7h0.9v0.9h-0.9zM463.6 893.7h0.9v0.9h-0.9zM456.9 930.8h0.9v0.9h-0.9zM469.5 925.6h0.9v0.9h-0.9zM470.0 911.4h0.9v0.9h-0.9zM471.6 901.9h0.9v0.9h-0.9zM461.1 913.6h0.9v0.9h-0.9zM472.2 882.2h0.9v0.9h-0.9zM467.1 916.3h0.9v0.9h-0.9zM454.0 927.4h0.9v0.9h-0.9zM465.8 882.7h0.9v0.9h-0.9zM462.1 900.1h0.9v0.9h-0.9zM468.1 916.6h0.9v0.9h-0.9zM459.5 905.4h0.9v0.9h-0.9zM457.7 900.1h0.9v0.9h-0.9zM463.0 925.6h0.9v0.9h-0.9zM478.3 909.4h0.9v0.9h-0.9zM462.5 919.0h0.9v0.9h-0.9zM461.5 899.0h0.9v0.9h-0.9zM459.8 906.4h0.9v0.9h-0.9zM456.1 887.4h0.9v0.9h-0.9zM459.9 881.6h0.9v0.9h-0.9zM468.7 891.4h0.9v0.9h-0.9zM457.1 910.9h0.9v0.9h-0.9zM461.2 920.2h0.9v0.9h-0.9zM462.3 888.2h0.9v0.9h-0.9zM467.8 921.9h0.9v0.9h-0.9zM464.2 895.3h0.9v0.9h-0.9zM462.6 885.7h0.9v0.9h-0.9zM475.7 909.1h0.9v0.9h-0.9zM473.5 910.6h0.9v0.9h-0.9zM468.2 897.0h0.9v0.9h-0.9zM460.0 906.7h0.9v0.9h-0.9zM465.0 911.3h0.9v0.9h-0.9zM453.8 912.3h0.9v0.9h-0.9zM454.7 899.5h0.9v0.9h-0.9zM459.9 895.7h0.9v0.9h-0.9zM464.0 948.1h0.9v0.9h-0.9zM467.0 913.6h0.9v0.9h-0.9zM462.7 891.7h0.9v0.9h-0.9zM456.5 910.8h0.9v0.9h-0.9zM463.8 914.1h0.9v0.9h-0.9zM463.8 915.4h0.9v0.9h-0.9zM467.8 883.0h0.9v0.9h-0.9zM469.7 900.8h0.9v0.9h-0.9zM467.8 912.4h0.9v0.9h-0.9zM471.9 918.4h0.9v0.9h-0.9zM467.6 924.0h0.9v0.9h-0.9zM465.0 908.0h0.9v0.9h-0.9zM470.4 892.9h0.9v0.9h-0.9zM466.9 935.4h0.9v0.9h-0.9zM456.1 890.5h0.9v0.9h-0.9zM469.0 906.1h0.9v0.9h-0.9zM468.2 922.1h0.9v0.9h-0.9zM459.5 904.1h0.9v0.9h-0.9zM469.7 926.1h0.9v0.9h-0.9zM458.2 914.0h0.9v0.9h-0.9zM476.1 916.8h0.9v0.9h-0.9zM452.3 924.9h0.9v0.9h-0.9zM467.0 910.0h0.9v0.9h-0.9zM461.1 885.6h0.9v0.9h-0.9zM462.9 920.3h0.9v0.9h-0.9zM468.6 916.0h0.9v0.9h-0.9zM468.8 909.5h0.9v0.9h-0.9zM469.8 910.5h0.9v0.9h-0.9zM471.8 898.5h0.9v0.9h-0.9zM459.1 894.7h0.9v0.9h-0.9zM463.9 915.9h0.9v0.9h-0.9zM463.3 893.7h0.9v0.9h-0.9zM465.3 917.8h0.9v0.9h-0.9zM453.6 900.4h0.9v0.9h-0.9zM471.2 899.1h0.9v0.9h-0.9zM467.8 891.4h0.9v0.9h-0.9zM469.5 898.8h0.9v0.9h-0.9zM467.6 907.9h0.9v0.9h-0.9zM461.0 907.4h0.9v0.9h-0.9zM459.9 908.9h0.9v0.9h-0.9zM461.2 915.5h0.9v0.9h-0.9zM456.1 900.5h0.9v0.9h-0.9zM460.1 906.7h0.9v0.9h-0.9zM462.9 897.3h0.9v0.9h-0.9zM465.5 919.1h0.9v0.9h-0.9zM461.3 921.7h0.9v0.9h-0.9zM474.8 914.6h0.9v0.9h-0.9zM461.4 930.6h0.9v0.9h-0.9zM465.9 898.6h0.9v0.9h-0.9zM466.0 896.2h0.9v0.9h-0.9zM456.4 905.5h0.9v0.9h-0.9zM466.5 940.9h0.9v0.9h-0.9zM454.7 915.4h0.9v0.9h-0.9zM461.6 914.2h0.9v0.9h-0.9zM460.9 907.5h0.9v0.9h-0.9zM461.9 922.2h0.9v0.9h-0.9zM467.4 914.4h0.9v0.9h-0.9zM472.1 925.5h0.9v0.9h-0.9zM466.0 918.8h0.9v0.9h-0.9zM468.8 929.6h0.9v0.9h-0.9zM461.7 882.2h0.9v0.9h-0.9zM459.9 902.6h0.9v0.9h-0.9zM465.5 907.9h0.9v0.9h-0.9zM459.3 887.1h0.9v0.9h-0.9zM465.8 899.2h0.9v0.9h-0.9zM470.6 922.1h0.9v0.9h-0.9zM472.1 915.6h0.9v0.9h-0.9zM472.7 925.2h0.9v0.9h-0.9zM459.1 893.9h0.9v0.9h-0.9zM468.6 926.2h0.9v0.9h-0.9zM466.3 899.5h0.9v0.9h-0.9zM463.9 919.1h0.9v0.9h-0.9zM459.6 901.4h0.9v0.9h-0.9zM466.0 923.2h0.9v0.9h-0.9zM472.1 911.7h0.9v0.9h-0.9zM465.9 902.8h0.9v0.9h-0.9zM464.6 903.7h0.9v0.9h-0.9zM473.7 911.3h0.9v0.9h-0.9zM464.5 934.2h0.9v0.9h-0.9zM465.6 896.6h0.9v0.9h-0.9zM474.5 922.8h0.9v0.9h-0.9zM476.0 912.9h0.9v0.9h-0.9zM465.9 914.4h0.9v0.9h-0.9zM464.7 918.7h0.9v0.9h-0.9zM462.7 921.6h0.9v0.9h-0.9zM461.3 905.9h0.9v0.9h-0.9zM462.8 903.8h0.9v0.9h-0.9zM470.1 898.8h0.9v0.9h-0.9zM474.1 920.1h0.9v0.9h-0.9zM461.0 926.1h0.9v0.9h-0.9zM464.5 924.8h0.9v0.9h-0.9zM467.2 914.4h0.9v0.9h-0.9zM466.0 909.6h0.9v0.9h-0.9zM461.4 899.3h0.9v0.9h-0.9zM458.6 915.2h0.9v0.9h-0.9zM455.8 903.1h0.9v0.9h-0.9zM465.9 898.7h0.9v0.9h-0.9zM466.8 897.6h0.9v0.9h-0.9zM465.3 889.9h0.9v0.9h-0.9zM468.8 912.1h0.9v0.9h-0.9zM463.5 907.4h0.9v0.9h-0.9zM463.7 927.4h0.9v0.9h-0.9zM452.9 904.7h0.9v0.9h-0.9zM473.8 946.3h0.9v0.9h-0.9zM459.1 912.7h0.9v0.9h-0.9zM469.5 902.5h0.9v0.9h-0.9zM473.5 919.5h0.9v0.9h-0.9zM466.1 903.2h0.9v0.9h-0.9zM468.3 925.1h0.9v0.9h-0.9zM465.8 896.1h0.9v0.9h-0.9zM468.3 890.1h0.9v0.9h-0.9zM464.4 942.3h0.9v0.9h-0.9zM457.3 916.9h0.9v0.9h-0.9zM464.2 914.3h0.9v0.9h-0.9zM455.7 900.1h0.9v0.9h-0.9zM467.4 898.9h0.9v0.9h-0.9zM466.0 903.4h0.9v0.9h-0.9zM470.5 912.5h0.9v0.9h-0.9zM461.2 912.0h0.9v0.9h-0.9zM457.9 883.2h0.9v0.9h-0.9zM466.4 925.7h0.9v0.9h-0.9zM462.9 916.8h0.9v0.9h-0.9zM462.8 923.2h0.9v0.9h-0.9zM459.6 889.4h0.9v0.9h-0.9zM460.6 903.5h0.9v0.9h-0.9zM468.5 899.6h0.9v0.9h-0.9zM464.1 906.7h0.9v0.9h-0.9zM465.8 880.9h0.9v0.9h-0.9zM475.1 919.8h0.9v0.9h-0.9zM471.1 899.6h0.9v0.9h-0.9zM465.3 868.8h0.9v0.9h-0.9zM470.9 915.4h0.9v0.9h-0.9zM460.8 893.3h0.9v0.9h-0.9zM460.1 922.0h0.9v0.9h-0.9zM465.8 880.5h0.9v0.9h-0.9zM466.9 899.4h0.9v0.9h-0.9zM465.7 885.9h0.9v0.9h-0.9zM475.0 914.2h0.9v0.9h-0.9zM457.8 889.6h0.9v0.9h-0.9zM469.4 888.7h0.9v0.9h-0.9zM467.4 895.5h0.9v0.9h-0.9zM469.0 894.4h0.9v0.9h-0.9zM462.3 922.0h0.9v0.9h-0.9zM460.3 899.8h0.9v0.9h-0.9zM463.5 900.1h0.9v0.9h-0.9zM464.1 907.2h0.9v0.9h-0.9zM457.5 908.0h0.9v0.9h-0.9zM468.0 908.0h0.9v0.9h-0.9zM460.1 899.7h0.9v0.9h-0.9zM456.6 900.4h0.9v0.9h-0.9zM466.7 899.9h0.9v0.9h-0.9zM464.6 905.9h0.9v0.9h-0.9zM457.6 904.8h0.9v0.9h-0.9zM461.9 924.3h0.9v0.9h-0.9zM461.1 888.9h0.9v0.9h-0.9zM460.0 888.3h0.9v0.9h-0.9zM458.1 905.9h0.9v0.9h-0.9zM464.2 908.7h0.9v0.9h-0.9zM467.2 919.8h0.9v0.9h-0.9zM461.5 913.9h0.9v0.9h-0.9zM469.2 911.9h0.9v0.9h-0.9zM466.0 934.4h0.9v0.9h-0.9zM471.9 921.0h0.9v0.9h-0.9zM466.3 895.1h0.9v0.9h-0.9zM461.9 912.2h0.9v0.9h-0.9zM466.2 894.1h0.9v0.9h-0.9zM465.4 908.1h0.9v0.9h-0.9zM457.7 899.0h0.9v0.9h-0.9zM460.1 899.1h0.9v0.9h-0.9zM467.7 893.3h0.9v0.9h-0.9zM460.7 906.4h0.9v0.9h-0.9zM468.7 911.6h0.9v0.9h-0.9zM457.2 913.1h0.9v0.9h-0.9zM465.4 908.6h0.9v0.9h-0.9zM462.4 904.7h0.9v0.9h-0.9zM459.0 910.5h0.9v0.9h-0.9zM461.6 922.8h0.9v0.9h-0.9zM461.0 893.5h0.9v0.9h-0.9zM474.9 884.5h0.9v0.9h-0.9zM468.7 903.2h0.9v0.9h-0.9zM462.8 901.2h0.9v0.9h-0.9zM473.6 920.8h0.9v0.9h-0.9zM465.0 922.2h0.9v0.9h-0.9zM463.7 926.4h0.9v0.9h-0.9zM469.4 886.7h0.9v0.9h-0.9zM466.4 919.4h0.9v0.9h-0.9zM464.0 928.2h0.9v0.9h-0.9zM461.0 917.0h0.9v0.9h-0.9zM463.1 928.9h0.9v0.9h-0.9zM461.8 921.4h0.9v0.9h-0.9zM459.1 906.6h0.9v0.9h-0.9zM461.6 925.8h0.9v0.9h-0.9zM461.0 913.7h0.9v0.9h-0.9zM453.1 921.3h0.9v0.9h-0.9zM469.3 915.5h0.9v0.9h-0.9zM456.2 933.4h0.9v0.9h-0.9zM462.2 945.3h0.9v0.9h-0.9zM448.6 938.1h0.9v0.9h-0.9zM459.0 937.3h0.9v0.9h-0.9zM469.2 926.4h0.9v0.9h-0.9zM461.5 944.9h0.9v0.9h-0.9zM449.9 929.7h0.9v0.9h-0.9zM455.1 941.8h0.9v0.9h-0.9zM473.7 950.2h0.9v0.9h-0.9zM461.5 938.5h0.9v0.9h-0.9zM468.8 923.9h0.9v0.9h-0.9zM478.2 935.1h0.9v0.9h-0.9zM466.7 929.5h0.9v0.9h-0.9zM466.2 933.4h0.9v0.9h-0.9zM477.1 940.2h0.9v0.9h-0.9zM448.2 945.8h0.9v0.9h-0.9zM467.2 941.4h0.9v0.9h-0.9zM466.7 933.2h0.9v0.9h-0.9zM469.3 937.1h0.9v0.9h-0.9zM468.1 929.3h0.9v0.9h-0.9zM461.5 936.2h0.9v0.9h-0.9zM456.5 932.4h0.9v0.9h-0.9zM475.3 940.5h0.9v0.9h-0.9zM470.4 940.3h0.9v0.9h-0.9zM451.2 936.2h0.9v0.9h-0.9zM457.4 934.4h0.9v0.9h-0.9zM470.5 932.0h0.9v0.9h-0.9zM468.5 943.0h0.9v0.9h-0.9zM461.3 939.5h0.9v0.9h-0.9zM462.2 941.1h0.9v0.9h-0.9zM462.3 931.1h0.9v0.9h-0.9zM467.0 938.2h0.9v0.9h-0.9zM461.5 934.7h0.9v0.9h-0.9zM462.5 939.8h0.9v0.9h-0.9zM455.3 950.6h0.9v0.9h-0.9zM472.9 939.7h0.9v0.9h-0.9zM456.9 938.0h0.9v0.9h-0.9zM461.7 922.0h0.9v0.9h-0.9zM463.5 930.7h0.9v0.9h-0.9zM461.0 922.3h0.9v0.9h-0.9zM453.9 930.1h0.9v0.9h-0.9zM457.7 940.9h0.9v0.9h-0.9zM460.7 945.8h0.9v0.9h-0.9zM446.6 933.4h0.9v0.9h-0.9zM465.1 920.4h0.9v0.9h-0.9zM482.3 942.7h0.9v0.9h-0.9zM457.8 940.6h0.9v0.9h-0.9zM457.7 932.0h0.9v0.9h-0.9zM464.4 919.6h0.9v0.9h-0.9zM458.6 941.6h0.9v0.9h-0.9zM454.2 933.0h0.9v0.9h-0.9zM462.5 935.0h0.9v0.9h-0.9zM458.7 919.9h0.9v0.9h-0.9zM458.8 928.1h0.9v0.9h-0.9zM468.8 943.8h0.9v0.9h-0.9zM464.8 927.0h0.9v0.9h-0.9zM466.8 938.0h0.9v0.9h-0.9zM472.9 932.7h0.9v0.9h-0.9zM467.1 934.4h0.9v0.9h-0.9zM469.4 938.1h0.9v0.9h-0.9zM463.0 928.0h0.9v0.9h-0.9zM469.3 934.6h0.9v0.9h-0.9zM474.8 934.2h0.9v0.9h-0.9zM459.6 928.3h0.9v0.9h-0.9zM465.4 935.7h0.9v0.9h-0.9zM455.1 931.6h0.9v0.9h-0.9zM461.4 925.0h0.9v0.9h-0.9zM462.7 944.6h0.9v0.9h-0.9zM467.6 939.6h0.9v0.9h-0.9zM460.3 931.9h0.9v0.9h-0.9zM474.5 937.0h0.9v0.9h-0.9zM475.2 923.2h0.9v0.9h-0.9zM469.7 932.8h0.9v0.9h-0.9zM480.2 935.1h0.9v0.9h-0.9zM456.6 936.4h0.9v0.9h-0.9zM449.3 925.6h0.9v0.9h-0.9zM459.9 932.5h0.9v0.9h-0.9zM456.8 935.7h0.9v0.9h-0.9zM456.2 926.4h0.9v0.9h-0.9zM459.5 947.1h0.9v0.9h-0.9zM467.6 930.0h0.9v0.9h-0.9zM472.8 920.8h0.9v0.9h-0.9zM461.1 931.0h0.9v0.9h-0.9zM470.1 942.6h0.9v0.9h-0.9zM463.2 922.6h0.9v0.9h-0.9zM464.6 946.2h0.9v0.9h-0.9zM474.4 939.7h0.9v0.9h-0.9zM463.6 934.7h0.9v0.9h-0.9zM466.3 935.9h0.9v0.9h-0.9zM465.0 943.8h0.9v0.9h-0.9zM456.8 926.2h0.9v0.9h-0.9zM470.4 931.3h0.9v0.9h-0.9zM482.0 929.9h0.9v0.9h-0.9zM463.9 937.8h0.9v0.9h-0.9zM471.2 929.6h0.9v0.9h-0.9zM474.4 930.1h0.9v0.9h-0.9zM465.9 931.3h0.9v0.9h-0.9zM465.5 935.6h0.9v0.9h-0.9zM461.7 939.1h0.9v0.9h-0.9zM454.2 928.1h0.9v0.9h-0.9zM460.3 933.2h0.9v0.9h-0.9zM468.7 933.5h0.9v0.9h-0.9zM470.0 937.7h0.9v0.9h-0.9zM456.9 944.1h0.9v0.9h-0.9zM476.4 929.5h0.9v0.9h-0.9zM451.0 927.6h0.9v0.9h-0.9zM455.7 931.2h0.9v0.9h-0.9zM465.1 933.4h0.9v0.9h-0.9zM455.4 940.3h0.9v0.9h-0.9zM461.0 933.1h0.9v0.9h-0.9zM467.7 939.1h0.9v0.9h-0.9zM455.8 935.0h0.9v0.9h-0.9zM454.0 945.0h0.9v0.9h-0.9zM468.7 935.8h0.9v0.9h-0.9zM475.6 945.0h0.9v0.9h-0.9zM463.3 941.2h0.9v0.9h-0.9zM472.9 924.2h0.9v0.9h-0.9zM450.6 933.7h0.9v0.9h-0.9zM457.7 929.7h0.9v0.9h-0.9zM472.3 929.2h0.9v0.9h-0.9zM468.5 934.6h0.9v0.9h-0.9zM463.1 925.6h0.9v0.9h-0.9zM455.0 938.6h0.9v0.9h-0.9zM450.1 947.0h0.9v0.9h-0.9zM470.2 946.9h0.9v0.9h-0.9zM470.6 935.7h0.9v0.9h-0.9zM464.4 938.1h0.9v0.9h-0.9zM467.8 928.7h0.9v0.9h-0.9zM463.0 936.8h0.9v0.9h-0.9zM459.6 930.7h0.9v0.9h-0.9zM458.4 933.1h0.9v0.9h-0.9zM458.7 934.6h0.9v0.9h-0.9zM457.2 937.9h0.9v0.9h-0.9zM473.8 932.8h0.9v0.9h-0.9zM466.6 944.5h0.9v0.9h-0.9zM463.9 931.1h0.9v0.9h-0.9zM474.3 940.7h0.9v0.9h-0.9zM468.3 936.2h0.9v0.9h-0.9zM464.6 931.9h0.9v0.9h-0.9zM465.4 942.1h0.9v0.9h-0.9zM468.0 936.1h0.9v0.9h-0.9zM458.5 929.3h0.9v0.9h-0.9zM465.0 940.1h0.9v0.9h-0.9zM456.0 928.5h0.9v0.9h-0.9zM459.1 934.8h0.9v0.9h-0.9zM462.7 925.7h0.9v0.9h-0.9zM458.9 936.9h0.9v0.9h-0.9zM466.6 916.5h0.9v0.9h-0.9zM466.6 925.5h0.9v0.9h-0.9zM478.6 930.7h0.9v0.9h-0.9zM464.9 937.0h0.9v0.9h-0.9zM467.7 927.5h0.9v0.9h-0.9zM459.4 941.8h0.9v0.9h-0.9zM463.6 932.0h0.9v0.9h-0.9zM464.5 931.6h0.9v0.9h-0.9zM471.8 921.3h0.9v0.9h-0.9zM465.6 940.5h0.9v0.9h-0.9zM462.6 930.2h0.9v0.9h-0.9zM458.5 931.6h0.9v0.9h-0.9zM464.6 936.3h0.9v0.9h-0.9zM470.8 941.3h0.9v0.9h-0.9zM453.8 933.6h0.9v0.9h-0.9zM473.5 941.4h0.9v0.9h-0.9zM464.3 933.9h0.9v0.9h-0.9zM454.9 931.3h0.9v0.9h-0.9zM462.0 936.3h0.9v0.9h-0.9zM471.0 948.1h0.9v0.9h-0.9zM471.4 938.5h0.9v0.9h-0.9zM457.5 929.6h0.9v0.9h-0.9zM461.9 939.4h0.9v0.9h-0.9zM475.3 939.5h0.9v0.9h-0.9zM469.8 931.8h0.9v0.9h-0.9zM477.8 937.9h0.9v0.9h-0.9zM472.1 937.3h0.9v0.9h-0.9zM461.8 924.1h0.9v0.9h-0.9zM465.9 940.5h0.9v0.9h-0.9zM459.1 924.0h0.9v0.9h-0.9zM466.2 938.6h0.9v0.9h-0.9zM472.1 928.7h0.9v0.9h-0.9zM468.9 930.8h0.9v0.9h-0.9zM460.3 934.1h0.9v0.9h-0.9zM454.3 931.2h0.9v0.9h-0.9zM464.9 937.8h0.9v0.9h-0.9zM446.0 937.2h0.9v0.9h-0.9zM462.9 947.1h0.9v0.9h-0.9zM474.9 930.2h0.9v0.9h-0.9zM463.7 933.1h0.9v0.9h-0.9zM449.9 936.4h0.9v0.9h-0.9zM462.8 930.9h0.9v0.9h-0.9zM459.1 928.0h0.9v0.9h-0.9zM469.9 932.0h0.9v0.9h-0.9zM450.5 934.3h0.9v0.9h-0.9zM464.5 948.7h0.9v0.9h-0.9zM458.4 921.7h0.9v0.9h-0.9zM471.4 933.0h0.9v0.9h-0.9zM466.7 923.7h0.9v0.9h-0.9zM457.2 949.1h0.9v0.9h-0.9zM469.8 932.4h0.9v0.9h-0.9zM461.5 939.9h0.9v0.9h-0.9zM472.4 920.3h0.9v0.9h-0.9zM467.7 937.2h0.9v0.9h-0.9zM470.1 936.6h0.9v0.9h-0.9zM461.7 938.8h0.9v0.9h-0.9zM461.0 943.9h0.9v0.9h-0.9zM460.1 938.9h0.9v0.9h-0.9zM464.8 946.9h0.9v0.9h-0.9zM447.0 935.2h0.9v0.9h-0.9zM475.7 926.0h0.9v0.9h-0.9zM464.2 938.6h0.9v0.9h-0.9zM464.2 938.5h0.9v0.9h-0.9zM452.1 929.0h0.9v0.9h-0.9zM454.2 936.0h0.9v0.9h-0.9zM454.9 935.4h0.9v0.9h-0.9zM468.7 928.5h0.9v0.9h-0.9zM457.2 927.0h0.9v0.9h-0.9zM457.0 945.9h0.9v0.9h-0.9zM469.1 936.2h0.9v0.9h-0.9zM457.2 937.4h0.9v0.9h-0.9z" fill="#999" fill-opacity="0.6"/>
<ellipse cx="414.00" cy="935.00" rx="6.20" ry="6.20" fill="none" stroke="#888" stroke-width="1.1"/>
<ellipse cx="414.00" cy="935.00" rx="7.80" ry="7.60" fill="none" stroke="#aaa" stroke-width="0.8"/>
<ellipse cx="463.00" cy="933.50" rx="2.50" ry="3.00" fill="none" stroke="#aaa" stroke-width="0.8"/>
<ellipse cx="463.00" cy="933.50" rx="4.40" ry="5.10" fill="none" stroke="#aaa" stroke-width="0.8"/>
<ellipse cx="463.00" cy="933.50" rx="6.30" ry="7.20" fill="none" stroke="#aaa" stroke-width="0.8"/>
<ellipse cx="463.00" cy="933.50" rx="8.20" ry="9.30" fill="none" stroke="#aaa" stroke-width="0.8"/>
<line x1="440.60" y1="853.30" x2="440.60" y2="956.20" stroke="#444" stroke-width="1.0"/>
<line x1="390.20" y1="926.10" x2="507.00" y2="926.10" stroke="#444" stroke-width="1.0"/>
<text x="403.70" y="866.20" font-family="Liberation Sans, sans-serif" font-size="6.5" text-anchor="middle" fill="#222">Q1-2</text>
<text x="495.30" y="869.00" font-family="Liberation Sans, sans-serif" font-size="6.5" text-anchor="middle" fill="#222">Q2-2</text>
<text x="403.00" y="950.00" font-family="Liberation Sans, sans-serif" font-size="6.5" text-anchor="middle" fill="#222">Q3-2</text>
<text x="495.30" y="951.20" font-family="Liberation Sans, sans-serif" font-size="6.5" text-anchor="middle" fill="#222">Q4-2</text>
<text x="45.40" y="1018.60" font-family="Liberation Sans, sans-serif" font-size="17.5" text-anchor="start" fill="#000" font-weight="bold">E</text>
<line x1="88.80" y1="1033.20" x2="88.80" y2="1177.30" stroke="#000" stroke-width="1.9"/>
<line x1="87.80" y1="1176.30" x2="143.30" y2="1176.30" stroke="#000" stroke-width="1.9"/>
<line x1="84.40" y1="1176.30" x2="88.80" y2="1176.30" stroke="#000" stroke-width="1.5"/>
<text x="82.60" y="1179.40" font-family="Liberation Sans, sans-serif" font-size="8.7" text-anchor="end" fill="#000" font-weight="bold">0</text>
<line x1="84.40" y1="1152.53" x2="88.80" y2="1152.53" stroke="#000" stroke-width="1.5"/>
<text x="82.60" y="1155.63" font-family="Liberation Sans, sans-serif" font-size="8.7" text-anchor="end" fill="#000" font-weight="bold">10</text>
<line x1="84.40" y1="1128.77" x2="88.80" y2="1128.77" stroke="#000" stroke-width="1.5"/>
<text x="82.60" y="1131.87" font-family="Liberation Sans, sans-serif" font-size="8.7" text-anchor="end" fill="#000" font-weight="bold">20</text>
<line x1="84.40" y1="1105.00" x2="88.80" y2="1105.00" stroke="#000" stroke-width="1.5"/>
<text x="82.60" y="1108.10" font-family="Liberation Sans, sans-serif" font-size="8.7" text-anchor="end" fill="#000" font-weight="bold">30</text>
<line x1="84.40" y1="1081.23" x2="88.80" y2="1081.23" stroke="#000" stroke-width="1.5"/>
<text x="82.60" y="1084.33" font-family="Liberation Sans, sans-serif" font-size="8.7" text-anchor="end" fill="#000" font-weight="bold">40</text>
<line x1="84.40" y1="1057.47" x2="88.80" y2="1057.47" stroke="#000" stroke-width="1.5"/>
<text x="82.60" y="1060.57" font-family="Liberation Sans, sans-serif" font-size="8.7" text-anchor="end" fill="#000" font-weight="bold">50</text>
<line x1="84.40" y1="1033.70" x2="88.80" y2="1033.70" stroke="#000" stroke-width="1.5"/>
<text x="82.60" y="1036.80" font-family="Liberation Sans, sans-serif" font-size="8.7" text-anchor="end" fill="#000" font-weight="bold">60</text>
<line x1="102.00" y1="1054.38" x2="102.00" y2="1042.26" stroke="#222" stroke-width="1.3"/>
<line x1="97.50" y1="1042.26" x2="106.50" y2="1042.26" stroke="#222" stroke-width="1.3"/>
<rect x="93.40" y="1054.38" width="17.20" height="121.92" fill="#fff" stroke="#222" stroke-width="1.2"/>
<line x1="101.90" y1="1176.30" x2="101.90" y2="1180.30" stroke="#000" stroke-width="1.4"/>
<text x="101.90" y="1190.80" font-family="Liberation Sans, sans-serif" font-size="10" text-anchor="middle" fill="#000" font-weight="bold">M-1</text>
<line x1="129.40" y1="1051.05" x2="129.40" y2="1039.40" stroke="#222" stroke-width="1.3"/>
<line x1="124.90" y1="1039.40" x2="133.90" y2="1039.40" stroke="#222" stroke-width="1.3"/>
<rect x="120.90" y="1051.05" width="17.00" height="125.25" fill="#fff" stroke="#222" stroke-width="1.2"/>
<line x1="128.80" y1="1176.30" x2="128.80" y2="1180.30" stroke="#000" stroke-width="1.4"/>
<text x="128.80" y="1190.80" font-family="Liberation Sans, sans-serif" font-size="10" text-anchor="middle" fill="#000" font-weight="bold">M3</text>
<text x="115.60" y="1017.30" font-family="Liberation Sans, sans-serif" font-size="13" text-anchor="middle" fill="#000" font-weight="bold">CD4</text>
<text x="63.80" y="1105.65" font-family="Liberation Sans, sans-serif" font-size="11.7" text-anchor="middle" fill="#000" font-weight="bold" transform="rotate(-90 63.8 1105.65)">% CD38 +</text>
<line x1="195.80" y1="1033.50" x2="195.80" y2="1177.60" stroke="#000" stroke-width="1.9"/>
<line x1="194.80" y1="1176.60" x2="252.20" y2="1176.60" stroke="#000" stroke-width="1.9"/>
<line x1="191.40" y1="1176.60" x2="195.80" y2="1176.60" stroke="#000" stroke-width="1.5"/>
<text x="189.60" y="1179.70" font-family="Liberation Sans, sans-serif" font-size="8.7" text-anchor="end" fill="#000" font-weight="bold">0</text>
<line x1="191.40" y1="1160.76" x2="195.80" y2="1160.76" stroke="#000" stroke-width="1.5"/>
<text x="189.60" y="1163.86" font-family="Liberation Sans, sans-serif" font-size="8.7" text-anchor="end" fill="#000" font-weight="bold">5</text>
<line x1="191.40" y1="1144.91" x2="195.80" y2="1144.91" stroke="#000" stroke-width="1.5"/>
<text x="189.60" y="1148.01" font-family="Liberation Sans, sans-serif" font-size="8.7" text-anchor="end" fill="#000" font-weight="bold">10</text>
<line x1="191.40" y1="1129.07" x2="195.80" y2="1129.07" stroke="#000" stroke-width="1.5"/>
<text x="189.60" y="1132.17" font-family="Liberation Sans, sans-serif" font-size="8.7" text-anchor="end" fill="#000" font-weight="bold">15</text>
<line x1="191.40" y1="1113.22" x2="195.80" y2="1113.22" stroke="#000" stroke-width="1.5"/>
<text x="189.60" y="1116.32" font-family="Liberation Sans, sans-serif" font-size="8.7" text-anchor="end" fill="#000" font-weight="bold">20</text>
<line x1="191.40" y1="1097.38" x2="195.80" y2="1097.38" stroke="#000" stroke-width="1.5"/>
<text x="189.60" y="1100.48" font-family="Liberation Sans, sans-serif" font-size="8.7" text-anchor="end" fill="#000" font-weight="bold">25</text>
<line x1="191.40" y1="1081.53" x2="195.80" y2="1081.53" stroke="#000" stroke-width="1.5"/>
<text x="189.60" y="1084.63" font-family="Liberation Sans, sans-serif" font-size="8.7" text-anchor="end" fill="#000" font-weight="bold">30</text>
<line x1="191.40" y1="1065.69" x2="195.80" y2="1065.69" stroke="#000" stroke-width="1.5"/>
<text x="189.60" y="1068.79" font-family="Liberation Sans, sans-serif" font-size="8.7" text-anchor="end" fill="#000" font-weight="bold">35</text>
<line x1="191.40" y1="1049.84" x2="195.80" y2="1049.84" stroke="#000" stroke-width="1.5"/>
<text x="189.60" y="1052.94" font-family="Liberation Sans, sans-serif" font-size="8.7" text-anchor="end" fill="#000" font-weight="bold">40</text>
<line x1="191.40" y1="1034.00" x2="195.80" y2="1034.00" stroke="#000" stroke-width="1.5"/>
<text x="189.60" y="1037.10" font-family="Liberation Sans, sans-serif" font-size="8.7" text-anchor="end" fill="#000" font-weight="bold">45</text>
<line x1="211.05" y1="1057.45" x2="211.05" y2="1040.34" stroke="#222" stroke-width="1.3"/>
<line x1="206.55" y1="1040.34" x2="215.55" y2="1040.34" stroke="#222" stroke-width="1.3"/>
<rect x="202.90" y="1057.45" width="16.30" height="119.15" fill="#fff" stroke="#222" stroke-width="1.2"/>
<line x1="210.30" y1="1176.60" x2="210.30" y2="1180.60" stroke="#000" stroke-width="1.4"/>
<text x="210.30" y="1190.80" font-family="Liberation Sans, sans-serif" font-size="10" text-anchor="middle" fill="#000" font-weight="bold">M-1</text>
<line x1="237.80" y1="1055.55" x2="237.80" y2="1042.87" stroke="#222" stroke-width="1.3"/>
<line x1="233.30" y1="1042.87" x2="242.30" y2="1042.87" stroke="#222" stroke-width="1.3"/>
<rect x="229.30" y="1055.55" width="17.00" height="121.05" fill="#fff" stroke="#222" stroke-width="1.2"/>
<line x1="237.80" y1="1176.60" x2="237.80" y2="1180.60" stroke="#000" stroke-width="1.4"/>
<text x="237.80" y="1190.80" font-family="Liberation Sans, sans-serif" font-size="10" text-anchor="middle" fill="#000" font-weight="bold">M3</text>
<text x="224.00" y="1017.30" font-family="Liberation Sans, sans-serif" font-size="13" text-anchor="middle" fill="#000" font-weight="bold">CD8</text>
<text x="173.30" y="1105.65" font-family="Liberation Sans, sans-serif" font-size="11.7" text-anchor="middle" fill="#000" font-weight="bold" transform="rotate(-90 173.3 1105.65)">% CD38 +</text>
<line x1="352.20" y1="1033.50" x2="352.20" y2="1177.60" stroke="#000" stroke-width="1.9"/>
<line x1="351.20" y1="1176.60" x2="406.80" y2="1176.60" stroke="#000" stroke-width="1.9"/>
<line x1="347.80" y1="1176.60" x2="352.20" y2="1176.60" stroke="#000" stroke-width="1.5"/>
<text x="346.00" y="1179.70" font-family="Liberation Sans, sans-serif" font-size="8.7" text-anchor="end" fill="#000" font-weight="bold">0</text>
<line x1="347.80" y1="1129.07" x2="352.20" y2="1129.07" stroke="#000" stroke-width="1.5"/>
<text x="346.00" y="1132.17" font-family="Liberation Sans, sans-serif" font-size="8.7" text-anchor="end" fill="#000" font-weight="bold">10</text>
<line x1="347.80" y1="1081.53" x2="352.20" y2="1081.53" stroke="#000" stroke-width="1.5"/>
<text x="346.00" y="1084.63" font-family="Liberation Sans, sans-serif" font-size="8.7" text-anchor="end" fill="#000" font-weight="bold">20</text>
<line x1="347.80" y1="1034.00" x2="352.20" y2="1034.00" stroke="#000" stroke-width="1.5"/>
<text x="346.00" y="1037.10" font-family="Liberation Sans, sans-serif" font-size="8.7" text-anchor="end" fill="#000" font-weight="bold">30</text>
<line x1="365.60" y1="1054.44" x2="365.60" y2="1038.75" stroke="#222" stroke-width="1.3"/>
<line x1="361.10" y1="1038.75" x2="370.10" y2="1038.75" stroke="#222" stroke-width="1.3"/>
<rect x="357.30" y="1054.44" width="16.60" height="122.16" fill="#fff" stroke="#222" stroke-width="1.2"/>
<line x1="365.20" y1="1176.60" x2="365.20" y2="1180.60" stroke="#000" stroke-width="1.4"/>
<text x="365.20" y="1190.80" font-family="Liberation Sans, sans-serif" font-size="10" text-anchor="middle" fill="#000" font-weight="bold">M-1</text>
<line x1="392.90" y1="1061.09" x2="392.90" y2="1047.78" stroke="#222" stroke-width="1.3"/>
<line x1="388.40" y1="1047.78" x2="397.40" y2="1047.78" stroke="#222" stroke-width="1.3"/>
<rect x="384.40" y="1061.09" width="17.00" height="115.51" fill="#fff" stroke="#222" stroke-width="1.2"/>
<line x1="392.70" y1="1176.60" x2="392.70" y2="1180.60" stroke="#000" stroke-width="1.4"/>
<text x="392.70" y="1190.80" font-family="Liberation Sans, sans-serif" font-size="10" text-anchor="middle" fill="#000" font-weight="bold">M3</text>
<text x="379.30" y="1017.30" font-family="Liberation Sans, sans-serif" font-size="13" text-anchor="middle" fill="#000" font-weight="bold">CD4</text>
<text x="328.60" y="1105.65" font-family="Liberation Sans, sans-serif" font-size="11.7" text-anchor="middle" fill="#000" font-weight="bold" transform="rotate(-90 328.6 1105.65)">% HLA-DR +</text>
<line x1="455.20" y1="1033.60" x2="455.20" y2="1177.70" stroke="#000" stroke-width="1.9"/>
<line x1="454.20" y1="1176.70" x2="510.50" y2="1176.70" stroke="#000" stroke-width="1.9"/>
<line x1="450.80" y1="1176.70" x2="455.20" y2="1176.70" stroke="#000" stroke-width="1.5"/>
<text x="449.00" y="1179.80" font-family="Liberation Sans, sans-serif" font-size="8.7" text-anchor="end" fill="#000" font-weight="bold">0</text>
<line x1="450.80" y1="1129.17" x2="455.20" y2="1129.17" stroke="#000" stroke-width="1.5"/>
<text x="449.00" y="1132.27" font-family="Liberation Sans, sans-serif" font-size="8.7" text-anchor="end" fill="#000" font-weight="bold">10</text>
<line x1="450.80" y1="1081.63" x2="455.20" y2="1081.63" stroke="#000" stroke-width="1.5"/>
<text x="449.00" y="1084.73" font-family="Liberation Sans, sans-serif" font-size="8.7" text-anchor="end" fill="#000" font-weight="bold">20</text>
<line x1="450.80" y1="1034.10" x2="455.20" y2="1034.10" stroke="#000" stroke-width="1.5"/>
<text x="449.00" y="1037.20" font-family="Liberation Sans, sans-serif" font-size="8.7" text-anchor="end" fill="#000" font-weight="bold">30</text>
<line x1="468.70" y1="1064.05" x2="468.70" y2="1045.03" stroke="#222" stroke-width="1.3"/>
<line x1="464.20" y1="1045.03" x2="473.20" y2="1045.03" stroke="#222" stroke-width="1.3"/>
<rect x="460.30" y="1064.05" width="16.80" height="112.65" fill="#fff" stroke="#222" stroke-width="1.2"/>
<line x1="468.80" y1="1176.70" x2="468.80" y2="1180.70" stroke="#000" stroke-width="1.4"/>
<text x="468.80" y="1190.80" font-family="Liberation Sans, sans-serif" font-size="10" text-anchor="middle" fill="#000" font-weight="bold">M-1</text>
<line x1="495.70" y1="1065.00" x2="495.70" y2="1049.31" stroke="#222" stroke-width="1.3"/>
<line x1="491.20" y1="1049.31" x2="500.20" y2="1049.31" stroke="#222" stroke-width="1.3"/>
<rect x="487.20" y="1065.00" width="17.00" height="111.70" fill="#fff" stroke="#222" stroke-width="1.2"/>
<line x1="495.70" y1="1176.70" x2="495.70" y2="1180.70" stroke="#000" stroke-width="1.4"/>
<text x="495.70" y="1190.80" font-family="Liberation Sans, sans-serif" font-size="10" text-anchor="middle" fill="#000" font-weight="bold">M3</text>
<text x="482.40" y="1017.30" font-family="Liberation Sans, sans-serif" font-size="13" text-anchor="middle" fill="#000" font-weight="bold">CD8</text>
<text x="431.20" y="1105.65" font-family="Liberation Sans, sans-serif" font-size="11.7" text-anchor="middle" fill="#000" font-weight="bold" transform="rotate(-90 431.2 1105.65)">% HLA-DR +</text>
</svg></body></html>
